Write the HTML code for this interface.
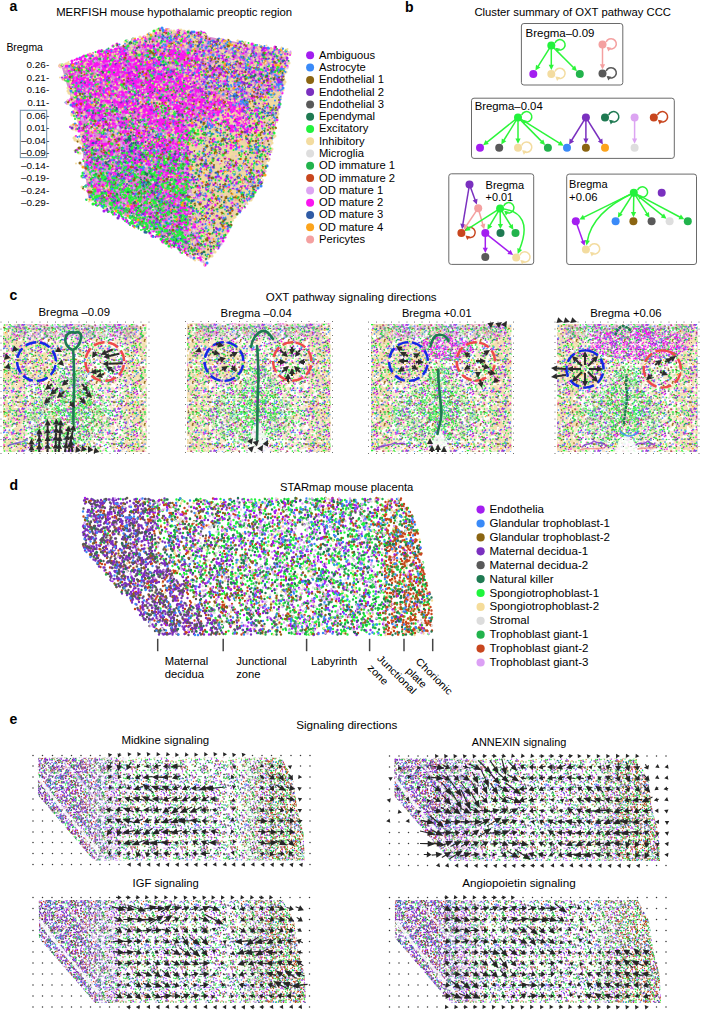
<!DOCTYPE html><html><head><meta charset="utf-8"><style>html,body{margin:0;padding:0;background:#fff;}svg{display:block;font-family:"Liberation Sans",sans-serif;}</style></head><body><svg width="702" height="1010" viewBox="0 0 702 1010"><rect width="702" height="1010" fill="#fff"/><defs><pattern id="cT" patternUnits="userSpaceOnUse" width="44" height="38"><g transform="scale(0.5)" fill="none" stroke-linecap="round"><path stroke="#f6e2b9" stroke-width="6.8" d="M80 -2h0m-7-1h0m-8 1h0m-5-1h0m-4 0h0m-33-1h0m-1 1h0m-20 10h0m2 7h0m4-7h0m1-1h0m5 2h0m1 6h0m1-11h0m0 10h0m1-8h0m4-5h0m0 1h0m3 13h0m0-10h0m1 9h0m2-5h0m1-5h0m4 9h0m2-12h0m0 11h0m1-11h0m1 14h0m3-3h0m1-8h0m4 6h0m8-4h0m2-2h0m1-1h0m3 8h0m2 5h0m2-14h0m2 1h0m0-2h0m6 1h0m4 3h0m3 8h0m1-7h0m12 2h0m-1 17h0m0 3h0m-5 4h0m-2-5h0m-1 3h0m-2-1h0m-1-12h0m0 12h0m-3-5h0m-2-7h0m-1 12h0m-2-2h0m-7-7h0m-12 1h0m-2 6h0m0-9h0m-2 14h0m-4-2h0m0-9h0m-1-4h0m-1 14h0m-3-11h0m-2 9h0m-1-11h0m-4 7h0m0-1h0m-7 6h0m-3 0h0m-1-11h0m-3-1h0m-9 6h0m-1 0h0m-1 3h0m-5-2h0m0 3h0m-5 4h0m1 14h0m2-7h0m3 6h0m0-12h0m1 14h0m6 0h0m2-10h0m10-4h0m1 1h0m4-1h0m3 6h0m2 2h0m8-1h0m2-6h0m1 4h0m2 5h0m7 2h0m2-12h0m0 15h0m1-5h0m8 0h0m0-2h0m2 0h0m1-5h0m2 9h0m4-5h0m0-2h0m8 2h0m6 6h0m2-7h0m3 6h0m0-12h0m1 14h0m0 16h0m-1-11h0m-2 5h0m-1 1h0m-3-3h0m-4-2h0m-1 5h0m-1 2h0m-4 1h0m-2-1h0m0-1h0m0-3h0m-1 4h0m-1 3h0m-2-5h0m-1-6h0m-5 1h0m-2-1h0m-7 6h0m-1-8h0m0 12h0m-3-2h0m-1-2h0m-3-5h0m-1 0h0m-11 11h0m-3-14h0m-6 9h0m-3 1h0m-6-7h0m0 2h0m-9 4h0m0 4h0m-3 0h0m-1-11h0m-2 5h0m-1 1h0m-3-3h0m0 15h0m1-1h0m12 3h0m2 0h0m3-6h0m0 6h0m2 8h0m2-9h0m3 6h0m0 1h0m1-4h0m0-9h0m1 8h0m4-4h0m1 11h0m6-3h0m1 0h0m5 3h0m14 0h0m1-1h0m1-5h0m4 0h0m2 4h0m1-11h0m1 12h0m0-2h0m1-2h0m3-5h0m2 8h0m3-4h0m1-3h0m6 4h0m3-3h0m1-2h0m1-1h0m-11 12h0"/></g></pattern><pattern id="cT2" patternUnits="userSpaceOnUse" width="38" height="34"><g transform="scale(0.5)" fill="none" stroke-linecap="round"><path stroke="#f4deb0" stroke-width="6.8" d="M79 -2h0m-8-1h0m-12 0h0m-11 2h0m-23-1h0m-5-1h0m-2 0h0m-15 1h0m-6 12h0m1 0h0m2 3h0m4-13h0m0 8h0m2 3h0m1-6h0m2 10h0m3-8h0m2-4h0m1 8h0m2 1h0m1-8h0m5-2h0m5 1h0m2 4h0m1-4h0m1 6h0m4 3h0m2-7h0m1 8h0m0 2h0m1-9h0m3 4h0m3-7h0m3 11h0m0-10h0m2 7h0m7-10h0m1 14h0m0-6h0m4-6h0m2-1h0m1 10h0m6-11h0m1 9h0m1 0h0m2 3h0m4-13h0m0 8h0m0 20h0m-3-2h0m0 4h0m-7-9h0m0 10h0m-12-5h0m-2-10h0m-2 0h0m-1 14h0m-3-6h0m0-2h0m-2 1h0m0 0h0m-2-7h0m-2 4h0m-2 5h0m-1 4h0m-2-1h0m-1-11h0m-1 9h0m-8-10h0m-2 13h0m0-10h0m-1 8h0m-1-3h0m-7-6h0m0 3h0m-4 7h0m-1 0h0m-5 2h0m-4-2h0m-3-2h0m0 4h0m-3 9h0m5-3h0m0 5h0m4-9h0m2 1h0m4 4h0m0-5h0m5 4h0m0 11h0m10-3h0m3-2h0m3 5h0m1-4h0m3-7h0m2 10h0m3 1h0m5-4h0m7 1h0m0-12h0m8 5h0m3 4h0m1-1h0m3 0h0m4-1h0m5-3h0m0 5h0m-1 22h0m0-11h0m-3-1h0m-4 2h0m-1-5h0m-4 5h0m-6 3h0m-5 5h0m-2-5h0m-1-1h0m0 0h0m-6 8h0m-4-7h0m-1 4h0m-12 2h0m-2-7h0m0-1h0m-1-4h0m0 9h0m-12-1h0m-1-3h0m-1 2h0m-1-1h0m-9 7h0m0-11h0m-3-1h0m4 15h0m1 2h0m8-4h0m2 7h0m4-6h0m0 7h0m2-7h0m3 5h0m2-4h0m3 5h0m3 0h0m7-7h0m8 7h0m2-4h0m1 5h0m9-3h0m1-4h0m4 6h0m2-1h0m6-5h0m1 4h0m7-3h0m1 2h0"/></g></pattern><pattern id="cC" patternUnits="userSpaceOnUse" width="48" height="42"><g transform="scale(0.5)" fill="none" stroke-linecap="round"><path stroke="#595959" stroke-width="3.4" d="M7 5h0m82 21h0m-7 1h0m-40-8h0m-34 16h0m1 33h0m73-4h0m7 5h0m0 11h0"/><path stroke="#fa14f0" stroke-width="3.4" d="M29 -3h0m-24 6h0m27 5h0m0-8h0m5 0h0m2 5h0m30-5h0m13 7h0m1 4h0m7 2h0m-12 16h0m-1-6h0m-28-4h0m-9 2h0m-8 6h0m-4 0h0m-5-2h0m-13-4h0m-5 1h0m-5 12h0m4 5h0m4 2h0m6-6h0m8 10h0m26-11h0m33-1h0m15 1h0m-1 29h0m-1-11h0m0 0h0m-8 6h0m-5 1h0m-20-9h0m-10 2h0m-6-3h0m-37 1h0m-9 13h0m-1-11h0m0 0h0m21 14h0m27 1h0m3 9h0m42-1h0m-22 9h0m-32 0h0m-5 0h0m-3-3h0m-24 6h0"/><path stroke="#22f23c" stroke-width="3.4" d="M94 -1h0m-2-1h0m-53 1h0m-41 0h0m10 16h0m0-14h0m3 7h0m0-3h0m6 1h0m4-2h0m1-2h0m2 10h0m3-5h0m24 4h0m4-6h0m7 10h0m8-13h0m3 3h0m2 7h0m1-2h0m3 5h0m5-10h0m4 10h0m9 13h0m-7-6h0m-3-4h0m-6 5h0m-1-4h0m-5 0h0m0 12h0m-3-11h0m-8 3h0m-1-7h0m-2 9h0m-4 2h0m-4-6h0m-1-1h0m-3 10h0m-10-2h0m-7 3h0m-6-11h0m-12 10h0m-5-14h0m-4 4h0m-4 8h0m-3 4h0m4 7h0m3-4h0m1 5h0m1-1h0m3 5h0m1-5h0m13 6h0m2-7h0m17-3h0m3 12h0m3-1h0m2-7h0m3 7h0m9-10h0m1 1h0m1 0h0m8 8h0m12-6h0m9-7h0m4 7h0m-4 14h0m-9-1h0m-1-4h0m-7 5h0m0 6h0m-4 2h0m-2 0h0m-3-8h0m-22-2h0m-10 11h0m0-13h0m-7 3h0m-9 5h0m0 4h0m0-12h0m-11 13h0m-3-6h0m-2 0h0m-6-3h0m-2 20h0m5-5h0m2 0h0m2 10h0m4-6h0m2-3h0m3 1h0m0 5h0m8-11h0m3 7h0m1-6h0m3 10h0m2-6h0m10 5h0m2-1h0m6-5h0m3 0h0m0-2h0m3 10h0m1-5h0m6 3h0m6-4h0m9 0h0m2 1h0m12 6h0m1-4h0m5-5h0m2 0h0m-5 15h0m-2-1h0m-2-2h0m-20 6h0m-31-3h0m-15-3h0m-2 6h0m-14-1h0m-10-2h0"/><path stroke="#3a8af8" stroke-width="3.4" d="M30 7h0m31-3h0m8 9h0m19-9h0m1 0h0m-12 17h0m-5 3h0m-2 5h0m-16-13h0m-11 3h0m-4 8h0m-11-5h0m-2 2h0m0 2h0m-7-6h0m-5 5h0m-5-1h0m-2 1h0m13 13h0m14-6h0m16 12h0m2 3h0m2-7h0m20 7h0m4-9h0m4 6h0m16 4h0m-6 5h0m-20-2h0m-3-1h0m-20 11h0m-8-13h0m-24 3h0m-15-3h0m15 18h0m8 6h0m4-7h0m11 11h0m9-8h0m2 4h0m10-8h0m20 5h0m0 7h0m3-3h0m4 15h0m-11-8h0m-16 8h0"/><path stroke="#8b6512" stroke-width="3.4" d="M35 -2h0m-34 12h0m1-3h0m32 1h0m45 7h0m18-5h0m1-3h0m-65 20h0m-29 6h0m32 4h0m20 10h0m11-7h0m4-7h0m21 13h0m8-13h0m-6 29h0m-11-7h0m-32 0h0m-13-7h0m-3 0h0m-26 5h0m-11 9h0m10 5h0m41 11h0m9-9h0m9-5h0m22 2h0m-23 14h0m-31 2h0"/><path stroke="#dca4f2" stroke-width="3.4" d="M48 -1h0m-26 0h0m-6 4h0m6 7h0m20-10h0m14 3h0m3 9h0m8-3h0m3-4h0m21-5h0m2 30h0m-96 0h0m43 13h0m21-10h0m3-1h0m31 17h0m-8 6h0m-34 3h0m-18-3h0m-3-7h0m-18 13h0m-15-12h0m16 27h0m3-9h0m56-1h0m17 18h0m-35 3h0m-8-4h0m-6 1h0m-20-1h0m-6 4h0"/><path stroke="#22b34c" stroke-width="3.4" d="M57 -1h0m-61 3h0m2-2h0m27 9h0m9-4h0m13 2h0m1-4h0m44-1h0m2-2h0m-29 30h0m-27-1h0m-2-3h0m1 9h0m23 0h0m11 4h0m-7 12h0m-38-3h0m-24 24h0m18-4h0m13 7h0m0-3h0m3-7h0m44 6h0m18 1h0m-4 12h0m-2 2h0m-35-3h0m-9 4h0m-50-3h0m-2 2h0"/><path stroke="#a31ef0" stroke-width="3.4" d="M50 -4h0m-39 12h0m3 4h0m35 2h0m9-9h0m0 10h0m13-2h0m8-4h0m4 22h0m-1-5h0m-6 4h0m-13-13h0m-1 9h0m-21 1h0m-17 1h0m-17 11h0m68 18h0m-2-9h0m-16 7h0m-12 5h0m-1 2h0m-6 0h0m-15-7h0m3 24h0m11-3h0m2-10h0m2 3h0m2 6h0m9 2h0m15-7h0m7-1h0m-24 11h0"/><path stroke="#dedede" stroke-width="3.4" d="M66 -2h0m-3 16h0m28 0h0m-32 5h0m0 8h0m-8 3h0m-17 1h0m-15-2h0m-5-2h0m64 31h0m-52-10h0m-21 30h0m20 0h0m33-1h0m13-6h0m-5 11h0"/><path stroke="#7a30bf" stroke-width="3.4" d="M60 7h0m15 5h0m12-7h0m-22 23h0m-54-8h0m0 17h0m21 10h0m0-9h0m22-1h0m11 18h0m-16-3h0m-2 10h0m-14 4h0m37 11h0"/><path stroke="#2f5ba5" stroke-width="3.4" d="M28 7h0m6 32h0m57 14h0m-39-3h0"/><path stroke="#fca41c" stroke-width="3.4" d="M64 30h0m15 18h0m-5 5h0m-32 4h0m-31 20h0m62-5h0"/><path stroke="#c8461e" stroke-width="3.4" d="M86 6h0m-26 46h0m-43 22h0"/></g></pattern><pattern id="cM" patternUnits="userSpaceOnUse" width="40" height="30"><g transform="scale(0.5)" fill="none" stroke-linecap="round"><path stroke="#fa14f0" stroke-width="3.2" d="M74 -3h0m-3 1h0m-1-1h0m-3 1h0m-7-1h0m-11 0h0m-1 2h0m0-3h0m-8 0h0m-1 2h0m-20-1h0m-3 1h0m-3-1h0m0 1h0m-2 0h0m-13 17h0m1-8h0m0-6h0m2 9h0m5-9h0m1 2h0m0 0h0m1-3h0m1 9h0m0 5h0m0-2h0m1-5h0m0 7h0m2-11h0m0-2h0m0 6h0m0-2h0m1 4h0m0-8h0m1 7h0m0 6h0m0-9h0m1 3h0m0-1h0m1 3h0m1-2h0m1 7h0m2-4h0m0-6h0m0 2h0m1 0h0m1-3h0m5 7h0m2-4h0m1-4h0m0 12h0m1-11h0m1-3h0m0 9h0m4 1h0m0 2h0m3-13h0m1 9h0m5 3h0m5-4h0m0 5h0m1-10h0m9 11h0m1-6h0m1 3h0m1-8h0m4 6h0m3 5h0m0-6h0m1 6h0m1-10h0m2 2h0m0-1h0m0 10h0m1 0h0m0-5h0m0 4h0m1-6h0m2 7h0m1-8h0m0-6h0m2 9h0m3 20h0m-3-14h0m0 2h0m-1 3h0m-2 4h0m-1 5h0m-1-8h0m-1 4h0m-1-8h0m-1 13h0m-1-15h0m-2 12h0m-3-3h0m-3 2h0m-4-3h0m-1 3h0m-2-9h0m0-1h0m-1 0h0m-1 8h0m-1 4h0m0-2h0m-1 2h0m-1-4h0m0-8h0m-2 9h0m0-1h0m-1 5h0m-1-4h0m0 4h0m-2 0h0m0-5h0m-1-3h0m-1-4h0m-1-1h0m-2 3h0m-1-1h0m-6 5h0m-1 0h0m-1-3h0m-1 6h0m-1 3h0m-2-4h0m-3 3h0m-1-11h0m0 5h0m-1 7h0m-1 0h0m0-14h0m-1 5h0m0 6h0m-1-11h0m-1 10h0m0 0h0m-6-2h0m-3-7h0m-3 14h0m0-6h0m-1-8h0m-1 10h0m-1 3h0m-3-14h0m0 2h0m-1 3h0m-2 4h0m-1 5h0m-1-8h0m1 25h0m1-13h0m1 4h0m0 0h0m0 8h0m0-12h0m3 2h0m3 7h0m1-6h0m1 8h0m1-9h0m1 2h0m2-5h0m0 13h0m1-2h0m0 3h0m3-12h0m1-1h0m4 6h0m2 0h0m0 3h0m2-10h0m0 14h0m0-12h0m0 2h0m4 9h0m2 1h0m0-15h0m1 7h0m2 5h0m3-5h0m0-5h0m0 13h0m3-10h0m0-5h0m1 0h0m3 14h0m0-3h0m2-1h0m1-6h0m0 6h0m2 1h0m1-1h0m1-8h0m1 9h0m9-4h0m1-7h0m1 15h0m0-10h0m1-2h0m0 4h0m1 4h0m1-11h0m0 12h0m2-9h0m1 3h0m5-3h0m0 8h0m1-4h0m1-5h0m1 2h0m1 11h0m1-13h0m1 4h0m0 0h0m0 8h0m0-12h0m3 2h0m-2 19h0m-1-3h0m0-3h0m0 12h0m-3-11h0m-2-1h0m0 8h0m-1-9h0m-2 7h0m0 3h0m0-2h0m-1 1h0m0-7h0m-3 8h0m-1-5h0m-3 10h0m0-14h0m-3 8h0m-1-2h0m0-6h0m-1-1h0m0 7h0m-1-5h0m-6 13h0m-2-6h0m0-4h0m0 1h0m-1 5h0m0-3h0m-1-5h0m-1 5h0m0-2h0m-4 0h0m-2 2h0m-1 4h0m0-2h0m-1-3h0m-2 1h0m-1-4h0m-3 9h0m0-7h0m-1 2h0m-1 7h0m0-8h0m-1-4h0m-4 2h0m-2 0h0m0 3h0m-4 1h0m-3 1h0m0-2h0m-3-5h0m0 6h0m0 4h0m0-3h0m-1 5h0m0-2h0m0-10h0m-1 7h0m-3-8h0m0 10h0m-1 3h0m0 0h0m0-15h0m-1 0h0m0 13h0m-6-6h0m-1-3h0m0-3h0m0 12h0m-3-11h0m26 14h0m9 0h0"/><path stroke="#22f23c" stroke-width="3.2" d="M83 -1h0m-44-1h0m-14 1h0m-10 0h0m-12 0h0m-3 13h0m10-5h0m14-3h0m3-3h0m1 5h0m4-6h0m6 9h0m13-7h0m2 13h0m3 0h0m18-13h0m6 10h0m-4 8h0m-5 5h0m-1-8h0m-9 2h0m-2 3h0m-9-6h0m-13 8h0m-4 3h0m-14-9h0m-14 13h0m4 13h0m7-2h0m4-3h0m1 5h0m3-8h0m3 10h0m13-7h0m7 0h0m7-1h0m1 1h0m1-7h0m15 7h0m12 20h0m-9 3h0m-1-14h0m-22 14h0m-3-9h0m-8-3h0m-1 8h0m-7 2h0m-5 1h0m-2-2h0m-2-7h0m-2 2h0m0-3h0m-6 8h0m-3-4h0m-9 4h0"/><path stroke="#a31ef0" stroke-width="3.2" d="M78 -3h0m-28 0h0m-11 1h0m-41-1h0m-2 8h0m9-5h0m16 4h0m0 9h0m4-8h0m1 1h0m12-6h0m7 6h0m5-3h0m5 11h0m1-10h0m10 6h0m10-5h0m6 17h0m-3-6h0m-1 6h0m-4 4h0m-4-8h0m-15 12h0m-3-7h0m-17 7h0m-3-2h0m0-1h0m-2 1h0m-2 3h0m-3-4h0m0 1h0m0-6h0m-5-4h0m0 8h0m-18-4h0m-3-6h0m-1 6h0m2 12h0m1 9h0m4 4h0m22-1h0m8-9h0m22 6h0m16 1h0m7-10h0m1 9h0m2 7h0m-4 1h0m-1 6h0m-19-7h0m-3 1h0m-3-3h0m-3 9h0m0 6h0m-11-5h0m-1 2h0m-8-8h0m0-1h0m-9 2h0m-13 0h0m-3 7h0m-2-10h0m-4 1h0m-1 6h0"/><path stroke="#dca4f2" stroke-width="3.2" d="M-2 14h0m33-14h0m4 7h0m24 0h0m7-4h0m12 11h0m3 2h0m-10 10h0m-1 2h0m-18-3h0m-12-4h0m-1 1h0m-11-2h0m-17 10h0m-2 1h0m0 0h0m-8-15h0m2 21h0m10 0h0m8-1h0m4 6h0m13-2h0m10 6h0m6-12h0m6 9h0m7-4h0m2 4h0m14-6h0m-17 26h0m-29-12h0m-2 1h0m-4 8h0m-1-10h0m-2 1h0m-10-2h0"/><path stroke="#3a8af8" stroke-width="3.2" d="M20 -3h0m-11-1h0m0 17h0m7 1h0m10-6h0m47 2h0m-13 16h0m-12-10h0m-4 2h0m-1 2h0m-1 7h0m-9-4h0m-20-4h0m-15 16h0m59 7h0m21-7h0m-4 19h0m-18-4h0m-8 5h0m-9-1h0m-13-1h0m-6 4h0m-4-2h0m-7 1h0"/></g></pattern><pattern id="cG" patternUnits="userSpaceOnUse" width="40" height="34"><g transform="scale(0.5)" fill="none" stroke-linecap="round"><path stroke="#3a8af8" stroke-width="3.2" d="M78 -2h0m-9-1h0m-57 0h0m-3 2h0m-11-1h0m5 14h0m4-8h0m7-4h0m0 14h0m7-6h0m18-4h0m9 0h0m12 7h0m8-4h0m8 2h0m7 3h0m-6 8h0m-12 3h0m-5 5h0m0-12h0m-63 4h0m8 16h0m5 11h0m19-3h0m17-11h0m29 0h0m-6 19h0m-20 7h0m-19 4h0m-1-6h0m-31 9h0m9 6h0m2-5h0m3-2h0m2 3h0m25 4h0m9 0h0m21-7h0m9 1h0"/><path stroke="#22b34c" stroke-width="3.2" d="M76 -1h0m-8-2h0m-35 1h0m-27 12h0m3-2h0m9-7h0m16 0h0m9 2h0m14 7h0m4 0h0m2 0h0m4 2h0m7 15h0m-2-8h0m-8-1h0m-25 10h0m-41 19h0m5-14h0m4 7h0m24-5h0m10 7h0m14 1h0m15 3h0m8 1h0m5-14h0m-2 25h0m-16 1h0m-8-7h0m-8 6h0m-10 4h0m-18 0h0m-1-9h0m0-1h0m-2 1h0m-1 6h0m-4-11h0m-12 10h0m17 11h0m15-3h0m1 3h0m9 2h0m25-6h0m8 2h0"/><path stroke="#22f23c" stroke-width="3.2" d="M83 -3h0m-1-1h0m-7 3h0m-4 0h0m-3 0h0m0-1h0m-25-2h0m-5 3h0m-4-1h0m-2-2h0m-4 3h0m-15-1h0m-4 1h0m-2-3h0m-2 2h0m-2-1h0m-1-1h0m-4 5h0m1 11h0m0-5h0m4 1h0m1-1h0m5 6h0m2-2h0m9-4h0m3-4h0m4 7h0m1-6h0m0 11h0m5-2h0m1-8h0m3 0h0m0 4h0m1 6h0m0-12h0m0-3h0m0 5h0m0 5h0m2-3h0m3 2h0m1 6h0m2-10h0m1-3h0m1-2h0m0 13h0m2-11h0m1 5h0m0 1h0m4 2h0m3 0h0m0-10h0m2 15h0m1-13h0m0 11h0m1 2h0m4-3h0m0-10h0m2 11h0m0-8h0m1 1h0m1-1h0m0 5h0m1 2h0m0-8h0m0-4h0m2 12h0m0-10h0m5-1h0m1 11h0m0-5h0m4 1h0m0 12h0m-6 5h0m-1 0h0m0 2h0m-1-5h0m-1-1h0m-1 1h0m-2-6h0m-1 7h0m-2-5h0m0 3h0m-1 4h0m-4-5h0m-1 4h0m-2-5h0m-1 4h0m-2 5h0m-2-8h0m-1 4h0m-12-1h0m-3 1h0m0 5h0m-1-5h0m0 0h0m0 0h0m-2-3h0m-3 6h0m-1-3h0m-1 1h0m-4 4h0m0-4h0m-1-6h0m0 8h0m-2 2h0m0-7h0m0 4h0m-1 0h0m-2-5h0m-3 8h0m0-9h0m0-3h0m-2 2h0m-2 8h0m-1-10h0m-1 8h0m-1-5h0m0-1h0m0 2h0m-3-4h0m-5 3h0m-6 5h0m-1 0h0m0 2h0m1 12h0m0 2h0m6-4h0m1 5h0m5-5h0m0 3h0m2 3h0m1-6h0m4-4h0m0 2h0m4-1h0m3 5h0m1 3h0m1-4h0m1 1h0m0 3h0m1-10h0m2 12h0m1-7h0m2 0h0m0-1h0m2-4h0m1 2h0m0 1h0m2 11h0m2-6h0m4-3h0m0 1h0m1-6h0m2 10h0m1-7h0m6 8h0m0-10h0m2 6h0m0 5h0m2-6h0m3 3h0m3 3h0m2-1h0m1 4h0m2-5h0m1 2h0m1-10h0m0 3h0m4 4h0m1 1h0m2-3h0m0 2h0m6-4h0m1 5h0m-5 13h0m-1 7h0m-3-14h0m-6 7h0m-3 5h0m-6-9h0m-5 6h0m-2-8h0m-3 3h0m-1 11h0m-1-7h0m-2-4h0m0 3h0m-2-6h0m0 8h0m-1-4h0m-2 1h0m-11 6h0m-7-5h0m-1 3h0m0 1h0m0 1h0m-1 0h0m-2-10h0m0 11h0m-3-5h0m-1-2h0m0 8h0m-2-3h0m-3-5h0m-1 0h0m-5-2h0m-5 3h0m-1 7h0m0 7h0m4-5h0m1 1h0m1-1h0m1 2h0m2-2h0m2 3h0m4-1h0m10 5h0m5-4h0m4-3h0m2 2h0m0-2h0m4 7h0m0-4h0m0 1h0m5-4h0m4 6h0m1-2h0m2 2h0m8-2h0m3 2h0m5 0h0m2-3h0m0-1h0m3 1h0m0 1h0m2 2h0m2-3h0m3 2h0m4-5h0m1 1h0"/><path stroke="#8b6512" stroke-width="3.2" d="M31 2h0m7 5h0m44 17h0m-5 4h0m-19-4h0m-3 4h0m-12 0h0m-15-7h0m-12-1h0m-14 4h0m-5 4h0m3 8h0m15 10h0m8-2h0m3-1h0m18 3h0m26-4h0m10-6h0m-44 17h0m-11 5h0m-2-7h0m8 19h0"/><path stroke="#fa14f0" stroke-width="3.2" d="M-1 4h0m35 6h0m7-1h0m5-5h0m11-1h0m8 7h0m14-6h0m0 17h0m-4 7h0m-3-7h0m-13 7h0m-5-8h0m-9-2h0m-5 11h0m-11-3h0m-5-5h0m-11 2h0m-14-2h0m8 26h0m10-9h0m27 1h0m7 4h0m24-5h0m-33 22h0m-3-8h0m-8 1h0m-1 3h0m-22 3h0m0-1h0m49 13h0"/></g></pattern><pattern id="pL" patternUnits="userSpaceOnUse" width="50" height="40"><g transform="scale(0.5)" fill="none" stroke-linecap="round"><path stroke="#1f7a52" stroke-width="2.8" d="M18 -1h0m-13 0h0m36 7h0m20-1h0m23 11h0m-58 15h0m-25 16h0m23-10h0m8-5h0m4 14h0m9-1h0m56 2h0m-51 2h0m-31 10h0m-14 20h0m13 0h0m23-2h0"/><path stroke="#595959" stroke-width="2.8" d="M89 -2h0m-44 1h0m-31 9h0m18-4h0m7-4h0m3 12h0m6 1h0m2-2h0m0-8h0m7 8h0m3-2h0m1-3h0m3-3h0m11-1h0m3 11h0m12-6h0m7 4h0m5 5h0m-4 8h0m-6 4h0m0-11h0m-3 9h0m-9 5h0m-5-7h0m-1 7h0m-8-6h0m-1-9h0m-3 15h0m-6-8h0m-3 0h0m-4-5h0m-1 0h0m-9-2h0m-2 7h0m-1-1h0m-8 9h0m-8-9h0m-12-5h0m0 7h0m-6-8h0m-3 25h0m14-9h0m5 9h0m3-8h0m3 13h0m0-7h0m7-2h0m11 5h0m1-1h0m4 0h0m0-8h0m2 10h0m3-9h0m0 10h0m4 3h0m6-8h0m1-3h0m0-4h0m1 7h0m4 5h0m2 0h0m25 1h0m1-6h0m3 2h0m1 20h0m-10-2h0m-1 4h0m-7-12h0m-2 6h0m-1-4h0m-2-3h0m-5 6h0m-17-6h0m-16 9h0m-15-2h0m-10 3h0m-2-3h0m-12 4h0m-1 9h0m10-5h0m5 12h0m20 0h0m1-6h0m9-4h0m1 12h0m2-3h0m4 1h0m0-9h0m1 7h0m4-7h0m13 1h0m10 0h0m10 9h0m1-8h0m9 0h0m-60 10h0"/><path stroke="#7a30bf" stroke-width="2.8" d="M93 -1h0m-3 0h0m-13-1h0m-13 1h0m-60 6h0m2 9h0m5 1h0m1-9h0m1-1h0m2 9h0m1-1h0m2-1h0m0-10h0m4 13h0m0-12h0m1 10h0m1-2h0m0-4h0m2-6h0m1 0h0m1 12h0m2-12h0m1 2h0m1-3h0m10 6h0m5-5h0m0 10h0m6 2h0m1-7h0m1 0h0m0 7h0m2-2h0m4-8h0m4 6h0m0-4h0m4 10h0m2-1h0m0 0h0m0-5h0m1-3h0m0 0h0m3 9h0m1-6h0m2-7h0m1 6h0m0-6h0m0 9h0m1 3h0m0-13h0m0 9h0m2-3h0m5 8h0m1-11h0m1 7h0m2-8h0m4 4h0m0-7h0m2 5h0m1 7h0m4 14h0m-3 4h0m-9-5h0m-1-5h0m-1 3h0m-2-7h0m-7 3h0m-6 2h0m0-2h0m-1 2h0m-1 4h0m0-9h0m-2 7h0m-1-7h0m-1 2h0m-4-2h0m-1 7h0m-2 0h0m-1-5h0m-1 7h0m-2 0h0m-2-1h0m-1-5h0m-2 6h0m-3 0h0m0-7h0m-1-1h0m-1-1h0m-3 15h0m-2-15h0m-2 3h0m-2 10h0m0-8h0m-4 3h0m0-4h0m-2 5h0m-1 1h0m-7-3h0m-1 5h0m-2 2h0m-1-11h0m-2 1h0m-3 11h0m-2-5h0m0 0h0m-4-8h0m-6 8h0m0 0h0m0 5h0m-3-1h0m-1 2h0m0 4h0m2 8h0m1-6h0m1 4h0m4-9h0m0-1h0m3 15h0m8-11h0m3-2h0m1 3h0m5-5h0m0 13h0m1-7h0m1 6h0m3-12h0m2 1h0m3 14h0m1-9h0m4-5h0m9-1h0m1 13h0m2-4h0m1-2h0m2-2h0m0 8h0m4-11h0m2 8h0m4-5h0m1-1h0m2 11h0m0-5h0m2 4h0m6-4h0m7 5h0m5-10h0m1 7h0m2-10h0m1 6h0m4 1h0m1-9h0m0 4h0m2 8h0m1-6h0m1 4h0m-3 11h0m-5 0h0m-1 5h0m0-5h0m-6 4h0m-4-5h0m-4 11h0m-2-2h0m-4-8h0m-7-3h0m-1-1h0m-1 1h0m-1 12h0m-1 0h0m-1-2h0m-5-8h0m-4 9h0m-2-13h0m-4 12h0m-3-10h0m-1 1h0m-3 2h0m-1 4h0m-2-7h0m0 8h0m0-3h0m-7 5h0m-3-7h0m-1 4h0m-2-2h0m0-4h0m0 3h0m-3 5h0m0-8h0m-1 8h0m-2 2h0m-2-13h0m-1 9h0m-4-1h0m-3-1h0m-2-7h0m-6 5h0m0 21h0m0-10h0m4 6h0m0-5h0m0 7h0m1 5h0m1-3h0m1-3h0m2 0h0m2-1h0m5 5h0m7 3h0m3-14h0m1 0h0m2 9h0m1-1h0m4-6h0m0 8h0m2-3h0m5-3h0m2 5h0m2-6h0m0-3h0m4 14h0m4-2h0m5-10h0m0 6h0m1 1h0m4 1h0m2 5h0m6-2h0m1-1h0m6-10h0m0 12h0m1-13h0m1 7h0m4-2h0m0 8h0m2-6h0m5-7h0m0 14h0m1-14h0m0 5h0m0 7h0m1-5h0m1 7h0m2-15h0m1 4h0m0-2h0m3 8h0m0-10h0m-4 16h0m-15 1h0m-1 1h0m-1 0h0m-31-1h0m-15-1h0m-2 1h0m-3 0h0m-1 0h0"/><path stroke="#1ff53c" stroke-width="2.8" d="M4 -1h0m42 11h0m7-10h0m48 17h0m-80 5h0m-12 5h0m-8-10h0m33 27h0m5-7h0m8 12h0m-43 30h0m3-6h0m43 2h0m16-10h0m-13 15h0"/><path stroke="#a31ef0" stroke-width="2.8" d="M91 -1h0m-44-1h0m-47 2h0m4 1h0m41 1h0m4-2h0m2 1h0m2 12h0m6-6h0m1 3h0m40-10h0m0 16h0m-20 8h0m-7 1h0m-3-4h0m-21 4h0m-8 6h0m-23-15h0m-14 3h0m-4-3h0m21 16h0m17 14h0m8-11h0m7 0h0m11 7h0m7 4h0m9-3h0m21 13h0m-16-7h0m-2 4h0m-3 3h0m-3 2h0m-6-8h0m-16 9h0m-3-1h0m-1 5h0m-6-13h0m-8 3h0m-3 7h0m-1 1h0m-32-5h0m-1 10h0m16 3h0m4 7h0m6-5h0m5-7h0m1 9h0m11-8h0m4 13h0m3-11h0m17 9h0m14-9h0m10 12h0m1-4h0m6-2h0m2-7h0m0 14h0m-49 1h0m-2-1h0m-4 2h0m-41-1h0m-4-1h0"/><path stroke="#c8461e" stroke-width="2.8" d="M7 10h0m1 5h0m3-12h0m7-2h0m0 4h0m14 9h0m3-7h0m5-2h0m7 9h0m6-4h0m4 4h0m7-5h0m5-4h0m3 3h0m1 2h0m6 0h0m23 12h0m-9-2h0m-9 8h0m-1-11h0m-7 9h0m-1-1h0m-7-9h0m-8 14h0m-3-14h0m-13 14h0m-6-4h0m-11-8h0m-2-2h0m-2 4h0m-18 0h0m-3 2h0m6 23h0m10 0h0m13-11h0m13 8h0m6-7h0m0 12h0m16-1h0m14-1h0m3 0h0m3-12h0m5 13h0m5 5h0m-5 2h0m-25 10h0m-3-12h0m-8 10h0m-3-10h0m-1 10h0m-6 1h0m-10-6h0m-29 20h0m1-4h0m7 0h0m7 1h0m4-1h0m1-2h0m29-5h0m2 7h0m10-3h0m2 7h0m1-1h0m1-2h0m0-9h0m9 12h0m5 1h0m5-7h0m-72 11h0"/><path stroke="#3a8af8" stroke-width="2.8" d="M50 -1h0m-46 14h0m3-3h0m1-3h0m2-2h0m19 1h0m13 6h0m11 0h0m3 2h0m5-1h0m25 11h0m-2 6h0m-3-12h0m-12 6h0m-27-3h0m-5 2h0m-12-5h0m-4 3h0m-20 21h0m5 2h0m8-8h0m4 0h0m2-2h0m4 1h0m9 9h0m15-11h0m10 1h0m5 11h0m6-1h0m14-10h0m15 9h0m3-1h0m-1 9h0m-3 1h0m-23 4h0m-5 5h0m-45-8h0m-1 6h0m-12-7h0m-3-4h0m-6 1h0m-2 2h0m26 22h0m13-1h0m11 7h0m19-13h0"/><path stroke="#dca0f5" stroke-width="2.8" d="M64 8h0m0-1h0m28 10h0m-56 10h0m34 34h0m-21 0h0m-9-5h0m-3-4h0m-8 6h0m-12 12h0m4 2h0m73-3h0"/></g></pattern><pattern id="pM" patternUnits="userSpaceOnUse" width="50" height="40"><g transform="scale(0.5)" fill="none" stroke-linecap="round"><path stroke="#3a8af8" stroke-width="2.7" d="M2 14h0m5-4h0m10-8h0m7 5h0m8 3h0m12 4h0m7-4h0m4 1h0m6-3h0m20-4h0m-28 14h0m-19 11h0m-3-2h0m-1 0h0m-7 4h0m-18-6h0m-6 15h0m23-8h0m5 6h0m1 7h0m12-4h0m15-9h0m1 4h0m4 9h0m0-8h0m4 0h0m5 6h0m4-3h0m2 0h0m3 6h0m5-6h0m14 4h0m2-4h0m0 21h0m-5-12h0m-2-1h0m-1 4h0m-2-3h0m-8 8h0m-11-5h0m-19 2h0m-4-1h0m-7 1h0m-4 1h0m-16-4h0m-9-3h0m-1 11h0m0-5h0m-11 7h0m24 14h0m4-10h0m5 10h0m11-9h0m6 2h0m4-3h0m9 3h0m6 2h0m5-1h0m11-2h0m12 3h0m-79 12h0"/><path stroke="#dca0f5" stroke-width="2.7" d="M-1 0h0m8 8h0m4-2h0m2-2h0m1-3h0m24 9h0m1 1h0m23-10h0m2 3h0m3 10h0m3-1h0m9-8h0m20-5h0m2 18h0m-10 3h0m-16 7h0m-1-8h0m-9 6h0m-13-8h0m-11 12h0m-2-10h0m-4-4h0m-5 1h0m-2-1h0m-7 7h0m-4 8h0m-13-12h0m-3-1h0m12 22h0m4-6h0m4 5h0m5 5h0m5-3h0m29-3h0m0-5h0m8 8h0m12-1h0m2-8h0m18 30h0m-4-1h0m0-6h0m-8-1h0m-36 5h0m-23 1h0m-3 1h0m-3-3h0m-23 4h0m3 4h0m9 1h0m1 4h0m1-4h0m4-2h0m7 10h0m20-11h0m0 4h0m1 7h0m8-7h0m2 3h0m18-1h0m2 2h0m6-7h0m4 8h0m0-4h0m13 11h0m-37 1h0m-48 0h0m-15-1h0"/><path stroke="#1ff53c" stroke-width="2.7" d="M92 -1h0m-90 0h0m-2 8h0m1 7h0m6-2h0m4-5h0m10-6h0m1 4h0m11-3h0m8 2h0m2 11h0m1-6h0m9 3h0m3-2h0m2-9h0m3 3h0m1 3h0m3 2h0m1-9h0m4 4h0m1 10h0m13-4h0m5 3h0m2-13h0m1 4h0m4 1h0m4 2h0m1 7h0m0 6h0m-5 0h0m-5 5h0m-4-4h0m-1 0h0m-3 4h0m-4 5h0m-1-1h0m-4-11h0m0 8h0m-1-2h0m-1 0h0m-1-8h0m-2 14h0m-7-14h0m-21 5h0m-5 2h0m-2-4h0m-2 8h0m-1-5h0m-9-3h0m-10 6h0m-11-5h0m-2 19h0m1 1h0m1 5h0m10-11h0m3 9h0m1-8h0m5-2h0m12 14h0m4-15h0m11 4h0m3 1h0m2 0h0m6 2h0m5 4h0m2-6h0m3 10h0m6-2h0m23-2h0m2-4h0m1 1h0m1 5h0m0 14h0m-11-2h0m0 3h0m-18-1h0m-1 4h0m-1-5h0m-22-3h0m-9 7h0m-1-12h0m-6 5h0m-1-5h0m-5 8h0m-5-4h0m-1 5h0m-6-11h0m-3 1h0m-4 5h0m-6 5h0m1 20h0m2-12h0m1-2h0m1 7h0m1-3h0m1 7h0m1-5h0m20-4h0m3 8h0m1 2h0m7-10h0m0-2h0m1 6h0m9 2h0m28 3h0m1-3h0m13 6h0m3-7h0m-4 8h0m-25 0h0m-8 1h0m-25 1h0m-12-1h0"/><path stroke="#8b6512" stroke-width="2.7" d="M72 -1h0m-47 5h0m5 3h0m22-3h0m38 8h0m0-10h0m1 3h0m-24 24h0m-11-1h0m-41-6h0m-6-5h0m-1 10h0m14 6h0m55 11h0m7 5h0m-34 0h0m-12 12h0m-6 2h0m-21 0h0m4 8h0m31-3h0m13 4h0m4 1h0m8-1h0m1 7h0m18 3h0"/><path stroke="#a31ef0" stroke-width="2.7" d="M99 -2h0m-76 0h0m-24 0h0m2 10h0m8 6h0m4-2h0m18-3h0m2-9h0m2 0h0m4 9h0m2-2h0m21 7h0m4-12h0m1 1h0m1 6h0m20-7h0m6-1h0m7 7h0m-8 21h0m-4-8h0m-5 9h0m-1-5h0m-13-8h0m-5 5h0m-1-4h0m-6 10h0m0 2h0m-7-10h0m-1 9h0m-2-13h0m-6 9h0m-2-9h0m-4 9h0m-2-6h0m-2 12h0m-4-3h0m-17-9h0m-5-1h0m-2 4h0m5 24h0m1-10h0m0 5h0m1-7h0m12 11h0m5-1h0m0-9h0m4 2h0m2 4h0m6 3h0m2-1h0m20 0h0m3-7h0m1 9h0m8-9h0m12 0h0m2-2h0m6 8h0m6 14h0m-1-2h0m-1-1h0m-1-3h0m-3 1h0m-4 6h0m0 0h0m-9 2h0m-14-1h0m-4-4h0m-1 3h0m-6-6h0m-5 1h0m-2 11h0m-1-13h0m-4-1h0m-3 0h0m-6 10h0m-2-1h0m-10 5h0m-1-11h0m-4 3h0m-4 0h0m-7 0h0m-7 1h0m-1-2h0m0 24h0m6-13h0m12 9h0m5-5h0m1 9h0m5-11h0m1 3h0m4-5h0m2 5h0m3 1h0m23-4h0m12 7h0m1-3h0m13-5h0m0 1h0m12 11h0m-5 3h0m-6 1h0m-53-2h0m-2 0h0"/><path stroke="#c8461e" stroke-width="2.7" d="M14 14h0m22-6h0m1-6h0m7 0h0m18 12h0m0-13h0m0 0h0m4 13h0m3 1h0m6-1h0m11-5h0m-11 10h0m-11-1h0m-23 8h0m-27-8h0m-7-2h0m-7 28h0m17 0h0m8-10h0m14-1h0m4 13h0m11-10h0m17 5h0m1-8h0m11 14h0m4-4h0m2-7h0m3 6h0m8 2h0m-63 16h0m-23 3h0m-1-14h0m-7 24h0m16 1h0m7 1h0m12-9h0m5 8h0m2-6h0m3-3h0m14-1h0m3 4h0m16 4h0m6 1h0m0 2h0m1 0h0m1-8h0m-30 14h0m0 0h0m-18 1h0"/><path stroke="#1f7a52" stroke-width="2.7" d="M9 -1h0m6 2h0m3 4h0m30 5h0m45-2h0m-14 23h0m-40-15h0m-2 12h0m-16-8h0m-5 2h0m-7-5h0m-11 16h0m13 13h0m2-3h0m5-2h0m41-3h0m37 0h0m2-5h0m-2 27h0m-19-4h0m-8-7h0m-66 9h0m3 13h0m3 8h0m53-12h0m-47 14h0"/><path stroke="#22b34c" stroke-width="2.7" d="M95 -1h0m-50 16h0m2-11h0m8 10h0m28-14h0m18 21h0m-9 5h0m-13-5h0m-26 7h0m-5-11h0m-1 12h0m-14-8h0m-17 5h0m-7-1h0m-8-4h0m1 12h0m10 10h0m0-6h0m10-2h0m1 8h0m5 3h0m20-4h0m5-8h0m4 1h0m1-2h0m9 4h0m4-2h0m4 7h0m4-8h0m15 7h0m3 3h0m4 7h0m-3 4h0m-14 0h0m-5 5h0m-3-8h0m-15-1h0m-10 1h0m-5 1h0m-1 2h0m-4-6h0m-16 6h0m-24-4h0m-3 4h0m7 9h0m2 2h0m45 0h0m7 9h0m14-9h0m2 0h0m3 3h0m15 1h0m2 9h0m-12 1h0"/><path stroke="#595959" stroke-width="2.7" d="M-2 15h0m8-4h0m9 4h0m3-10h0m13-3h0m3 1h0m3 12h0m19-2h0m6-8h0m4 3h0m32 7h0m-17 16h0m-9-9h0m-23 7h0m-13-2h0m-1-2h0m-14-5h0m-7-4h0m-6 5h0m-4 3h0m-1-6h0m23 25h0m17 0h0m42-11h0m-9 21h0m-18-1h0m-2-2h0m-4 5h0m-3-7h0m-22 8h0m-8 4h0m-20 12h0m11 3h0m29-5h0m42-5h0m6 0h0m12 7h0m-68 10h0"/><path stroke="#dcdcdc" stroke-width="2.7" d="M12 3h0m44 9h0m2-1h0m32-1h0m-17 21h0m-11-5h0m-38 9h0m30 7h0m44 12h0m-45-4h0m-23 7h0m-26-7h0m-6 4h0m21 20h0m6-9h0m31-1h0m27 5h0m15 5h0"/><path stroke="#f5dc9a" stroke-width="2.7" d="M71 -1h0m-29 4h0m14 10h0m2-3h0m15-6h0m17 20h0m-53 0h0m-3 7h0m-16-6h0m-3-7h0m5 17h0m1 7h0m0 4h0m15-14h0m3 8h0m17 0h0m-47 38h0m62 1h0m12-2h0"/></g></pattern><pattern id="pR" patternUnits="userSpaceOnUse" width="50" height="40"><g transform="scale(0.5)" fill="none" stroke-linecap="round"><path stroke="#f5dc9a" stroke-width="2.7" d="M96 -1h0m-82 9h0m7 2h0m1-6h0m1 2h0m14 0h0m6 0h0m8 8h0m0-4h0m9-5h0m12 3h0m2 3h0m11 1h0m2-8h0m8 27h0m0-9h0m-6 6h0m-15-7h0m-2-4h0m-42 5h0m-15-3h0m-1 2h0m-3 8h0m-4 18h0m17-12h0m1 2h0m1 2h0m27-2h0m14 3h0m1-3h0m6 8h0m13-9h0m3 2h0m7 0h0m-8 24h0m-6-13h0m-8 13h0m-9-5h0m0-4h0m-27-4h0m-13 6h0m-12-5h0m-6 0h0m2 14h0m4 14h0m6-4h0m20-7h0m22 6h0m1 0h0m5 3h0m13-9h0m1 0h0m4 3h0m8-6h0m2 15h0"/><path stroke="#c8461e" stroke-width="2.7" d="M78 -1h0m-78 1h0m1 4h0m1 9h0m7-9h0m2 6h0m0-4h0m7 5h0m13-3h0m1 5h0m3-11h0m2 2h0m1 0h0m1-1h0m2 11h0m1-3h0m0-9h0m0 0h0m3-2h0m10 7h0m1 8h0m3-13h0m2-1h0m6 4h0m2 3h0m0 5h0m6-4h0m6 0h0m1-8h0m1-1h0m2 15h0m2-13h0m2 5h0m1 2h0m1-7h0m0 2h0m2-1h0m0 7h0m1 2h0m2-8h0m4-4h0m1 4h0m-3 21h0m-2 5h0m-2-7h0m-1-2h0m-4-4h0m-2 14h0m0-1h0m-5-13h0m-6 6h0m-1 2h0m-2 2h0m0-4h0m-1-5h0m-1 1h0m-3 11h0m-4-11h0m-2 9h0m-1-6h0m-5 4h0m-4-6h0m-1 4h0m0 5h0m-6-4h0m-1 2h0m-1-2h0m-4-8h0m-3 3h0m-3 3h0m0 6h0m-8-4h0m-1-6h0m-3 8h0m-1 1h0m-2-3h0m0-6h0m-1 12h0m-3-15h0m-5 4h0m-1-3h0m0 0h0m-2 1h0m-3-1h0m-5 8h0m2 12h0m8 1h0m0 1h0m5 4h0m0 4h0m2-9h0m3 7h0m1-4h0m2 3h0m3-2h0m1-5h0m2 9h0m2-1h0m2-9h0m3 6h0m2 4h0m2-8h0m3 6h0m1-12h0m3 3h0m1-3h0m0 5h0m4 9h0m3-13h0m1 2h0m2-1h0m0 9h0m1-6h0m1 10h0m7-7h0m4-2h0m2-4h0m2 12h0m1-1h0m4 1h0m0-10h0m4 2h0m7 6h0m1-1h0m0 3h0m6-8h0m4-1h0m2 19h0m-2-4h0m-3 11h0m-4-12h0m-11-1h0m0 12h0m0-8h0m0 2h0m-1-8h0m-6 4h0m0 8h0m-3-11h0m-14 6h0m-1-2h0m-1 10h0m-4 0h0m-5-9h0m0 3h0m-2 4h0m-1-8h0m-2 4h0m0-8h0m-17 5h0m-8 1h0m-1 0h0m-3-1h0m-1-5h0m-3 3h0m-2 7h0m-3-3h0m-2 0h0m0 7h0m-2-11h0m-1 25h0m1-4h0m1-8h0m3 13h0m0-9h0m1 2h0m5-1h0m2 1h0m1-7h0m1 5h0m0-2h0m1 0h0m5 11h0m1-3h0m1 0h0m3-10h0m0 9h0m4-9h0m1 12h0m4-13h0m0 5h0m9 4h0m3-5h0m0 9h0m1-7h0m1 6h0m4-2h0m0-7h0m0 9h0m3-3h0m11-1h0m1-3h0m1 4h0m10 6h0m2-11h0m0-3h0m1 4h0m8-5h0m0 9h0m6-9h0m1 13h0m3 0h0m1-4h0m1-8h0m-1 15h0m-9 2h0m-8-2h0m-1 1h0m-21 0h0m-16-1h0m-3 2h0m0 0h0m-7 0h0m-35-2h0"/><path stroke="#22b34c" stroke-width="2.7" d="M42 -1h0m-16 12h0m12-3h0m2-1h0m17-1h0m3-6h0m3 1h0m10 8h0m23 3h0m0 15h0m-1 4h0m-10-1h0m-13-7h0m-17-6h0m-8 4h0m-3 8h0m-13-10h0m-14-3h0m-2 2h0m-11 10h0m-5 19h0m17-7h0m16 1h0m9 4h0m20-4h0m8 3h0m0-2h0m2-5h0m14 2h0m14 8h0m-2 5h0m-17 7h0m-26 1h0m-2 3h0m-49-13h0m31 21h0m8 8h0m1-6h0m4-4h0m34-3h0m10 11h0m6 1h0m-34 3h0m-3-1h0"/><path stroke="#3a8af8" stroke-width="2.7" d="M10 5h0m17 6h0m20-8h0m4 2h0m6-2h0m15 7h0m15-10h0m1 2h0m8 0h0m4 18h0m-12 10h0m-3-11h0m-14 5h0m-28-3h0m-4-1h0m-20 3h0m-4-3h0m-15 0h0m6 12h0m10 1h0m5 12h0m2 0h0m6-10h0m4-1h0m3 1h0m12-2h0m36 15h0m-4 2h0m-23 0h0m-15 0h0m0 2h0m-18 2h0m-9 16h0m10-2h0m17 7h0m0-11h0m47 2h0m7 16h0m-9-2h0"/><path stroke="#595959" stroke-width="2.7" d="M21 8h0m2-4h0m45-3h0m19 10h0m-55 13h0m-17 2h0m-4-1h0m6 12h0m5 3h0m33 0h0m4 1h0m31 5h0m3-10h0m2 6h0m-6 12h0m-60 2h0m-13 13h0m3 7h0m31 0h0m32-12h0m-14 17h0"/><path stroke="#1ff53c" stroke-width="2.7" d="M-1 3h0m19 5h0m2 7h0m8-13h0m6 6h0m6 2h0m13-6h0m19-3h0m0 4h0m23 7h0m4-9h0m-2 14h0m-12 4h0m-4 3h0m-8-6h0m-11 10h0m-3-2h0m-3 0h0m-8-5h0m-5 2h0m-19 0h0m-2-1h0m-4-6h0m-13 22h0m0-1h0m3-3h0m11 4h0m6 1h0m6 8h0m9-8h0m10 6h0m6-7h0m4 9h0m10-15h0m7 7h0m0-5h0m-2 21h0m-3-2h0m-14 7h0m-14-12h0m-18 10h0m-6 0h0m-10-2h0m-5-6h0m4 28h0m4-5h0m12-4h0m6 2h0m14 4h0m5 3h0m3-13h0m4 5h0m7-1h0m4 8h0m2-6h0m4 0h0m4 0h0m10 2h0m-16 8h0"/><path stroke="#a31ef0" stroke-width="2.7" d="M7 3h0m11 0h0m9 9h0m17-6h0m-18 21h0m-23 13h0m2 0h0m38 0h0m35-4h0m-6 17h0m-7 3h0m-31-2h0m-25 8h0m1 11h0m1-1h0m10 0h0m12-2h0m20 3h0m6-2h0"/></g></pattern><linearGradient id="gL" x1="0" x2="1" y1="0" y2="0"><stop offset="0" stop-color="#fff"/><stop offset="0.45" stop-color="#fff"/><stop offset="1" stop-color="#000"/></linearGradient><linearGradient id="gR" x1="0" x2="1" y1="0" y2="0"><stop offset="0" stop-color="#000"/><stop offset="0.5" stop-color="#fff"/><stop offset="1" stop-color="#fff"/></linearGradient><clipPath id="cp0"><polygon points="37.7,757.4 281.2,757.4 292.8,778.4 297.6,810.9 303.5,832.5 304.8,860.7 94.1,860.7 37.7,795.1"/></clipPath><mask id="mL0" maskUnits="userSpaceOnUse" x="37.7" y="757.4" width="90.8" height="103.30000000000007"><rect x="37.7" y="757.4" width="90.8" height="103.30000000000007" fill="url(#gL)"/></mask><mask id="mR0" maskUnits="userSpaceOnUse" x="238.0" y="757.4" width="66.8" height="103.30000000000007"><rect x="238.0" y="757.4" width="66.8" height="103.30000000000007" fill="url(#gR)"/></mask><clipPath id="cp1"><polygon points="394.2,758.3 636.5,758.3 648.0,779.1 652.8,811.5 658.7,833.0 660.0,861.0 450.3,861.0 394.2,795.8"/></clipPath><mask id="mL1" maskUnits="userSpaceOnUse" x="394.2" y="758.3" width="90.4" height="102.70000000000005"><rect x="394.2" y="758.3" width="90.4" height="102.70000000000005" fill="url(#gL)"/></mask><mask id="mR1" maskUnits="userSpaceOnUse" x="593.5" y="758.3" width="66.5" height="102.70000000000005"><rect x="593.5" y="758.3" width="66.5" height="102.70000000000005" fill="url(#gR)"/></mask><clipPath id="cp2"><polygon points="38.5,899.8 282.3,899.8 293.9,920.7 298.7,953.3 304.7,974.8 306.0,1003.0 95.0,1003.0 38.5,937.5"/></clipPath><mask id="mL2" maskUnits="userSpaceOnUse" x="38.5" y="899.8" width="91.0" height="103.20000000000005"><rect x="38.5" y="899.8" width="91.0" height="103.20000000000005" fill="url(#gL)"/></mask><mask id="mR2" maskUnits="userSpaceOnUse" x="239.1" y="899.8" width="66.9" height="103.20000000000005"><rect x="239.1" y="899.8" width="66.9" height="103.20000000000005" fill="url(#gR)"/></mask><clipPath id="cp3"><polygon points="394.6,899.8 637.4,899.8 649.0,920.7 653.8,953.3 659.7,974.8 661.0,1003.0 450.8,1003.0 394.6,937.5"/></clipPath><mask id="mL3" maskUnits="userSpaceOnUse" x="394.6" y="899.8" width="90.6" height="103.20000000000005"><rect x="394.6" y="899.8" width="90.6" height="103.20000000000005" fill="url(#gL)"/></mask><mask id="mR3" maskUnits="userSpaceOnUse" x="594.4" y="899.8" width="66.6" height="103.20000000000005"><rect x="594.4" y="899.8" width="66.6" height="103.20000000000005" fill="url(#gR)"/></mask></defs><polygon points="62.0,68.0 164.0,30.0 205.0,36.0 288.0,52.0 281.0,100.0 270.0,151.0 259.0,185.0 232.0,219.0 204.0,259.0 88.0,196.0 80.0,130.0" fill="#d98ad0"/><polygon points="189.0,127.0 280.0,90.0 279.0,100.0 270.0,151.0 259.0,185.0 243.0,208.0 233.0,220.0 222.0,240.0 205.0,262.0 192.0,200.0" fill="#ecd3a8"/><g transform="scale(1)" fill="none" stroke-linecap="round"><path stroke="#f3dca0" stroke-width="3.1" d="M189 31h0m-5 0h0m-3-1h0m0 1h0m-2-1h0m0 1h0m-5 0h0m-12 0h0m-1 0h0m-4-1h0m-17 7h0m3 1h0m3-1h0m9-4h0m8 0h0m1 2h0m1 0h0m1-2h0m6 4h0m2-1h0m0-4h0m5 0h0m2 0h0m1 3h0m1 2h0m0 1h0m2-2h0m2 3h0m0-2h0m0-2h0m2-2h0m1 4h0m1 0h0m2 2h0m1-2h0m4-3h0m0 1h0m2 0h0m5 0h0m1 4h0m56 8h0m-8 0h0m-1-3h0m-3 2h0m-6-3h0m-1 4h0m-1-1h0m-1 0h0m-2-1h0m-1-4h0m-6 5h0m0-2h0m-4-3h0m0-1h0m-5 5h0m-2-1h0m0 0h0m-1-4h0m-3 0h0m-10 7h0m-2-4h0m-1-3h0m0 2h0m-2 1h0m-2 2h0m-3-2h0m-1 3h0m-1-6h0m0 2h0m-1 3h0m-1 1h0m-7 1h0m0-6h0m0-1h0m-2 4h0m-5-2h0m-4 1h0m0 0h0m-4 1h0m-3 3h0m-2-6h0m0-1h0m-2 4h0m-2-3h0m-1 3h0m0-2h0m-1-2h0m-2 5h0m-10 0h0m-3 2h0m-2-6h0m-1 6h0m-10-1h0m0-4h0m-2 4h0m-3-3h0m-29 12h0m5-4h0m7 3h0m2 0h0m7 0h0m11-2h0m2-3h0m0 5h0m1-2h0m1-3h0m6 4h0m12-3h0m3 3h0m3-3h0m1 5h0m5 0h0m7-3h0m0-4h0m2 6h0m9-3h0m7 2h0m3-5h0m0 6h0m10 0h0m1-6h0m4 0h0m6 2h0m1 0h0m1-1h0m1 5h0m0 1h0m6-1h0m0-5h0m1 3h0m0-1h0m2 3h0m2 1h0m2-7h0m0 7h0m3-4h0m2-2h0m1 1h0m0-1h0m0 6h0m3-5h0m3-1h0m6 2h0m2 4h0m4-2h0m1 0h0m2-4h0m1 3h0m3-4h0m0 2h0m0 1h0m3-1h0m2 0h0m1 4h0m6-3h0m1-2h0m0 4h0m2-2h0m4 4h0m1-5h0m4 5h0m1-1h0m1-4h0m4 4h0m-1 9h0m-1 0h0m-1-4h0m-1 2h0m0-1h0m0-2h0m-1 5h0m-1-2h0m-6 0h0m-1-3h0m-2 3h0m-1-2h0m-4-2h0m-1 3h0m-3-2h0m-3-1h0m-1 0h0m0 2h0m0 2h0m-7-2h0m-1 4h0m0-4h0m-6-1h0m-1 2h0m-4-4h0m-1 6h0m-2 0h0m-2 1h0m-1-2h0m-2 1h0m-4-3h0m0-2h0m-6 0h0m-3 5h0m0-1h0m0 2h0m-2-2h0m-2-1h0m-1-4h0m-1 1h0m0 6h0m-1-6h0m-3 2h0m0-1h0m-4 0h0m0-1h0m0 1h0m-1 1h0m-1 0h0m0-1h0m-4 3h0m-1-3h0m-1 4h0m-2-6h0m0 3h0m-6 3h0m-1-2h0m-2 3h0m-3-1h0m0-3h0m-18 1h0m-5 3h0m-2-7h0m-4 1h0m-2 0h0m-1 4h0m-34-3h0m-5 5h0m-7-4h0m-6-3h0m-10 2h0m-4 4h0m0 1h0m-5 0h0m-23 2h0m3 0h0m3-1h0m1 0h0m1 2h0m0 0h0m11 4h0m1 1h0m4-2h0m2-3h0m2 1h0m0 3h0m3-4h0m13 0h0m1 0h0m23 5h0m8-5h0m2-2h0m5 0h0m4 7h0m10-2h0m3-1h0m1 1h0m0-3h0m0 2h0m3-2h0m1 3h0m3 0h0m6 2h0m5-5h0m8 1h0m2-1h0m2 0h0m2 4h0m3-3h0m3-3h0m1 0h0m1 3h0m2 3h0m2-5h0m0-1h0m1 7h0m1-1h0m1-2h0m0 0h0m0-1h0m5 1h0m0 0h0m5-4h0m0 4h0m3 0h0m1 0h0m3-4h0m0 5h0m2-2h0m0 4h0m0-2h0m5-5h0m1 2h0m0 4h0m1-6h0m0 1h0m1-1h0m1 6h0m0 0h0m1-1h0m2 2h0m6-1h0m3 1h0m4-4h0m0 2h0m2 1h0m1 0h0m0-3h0m2 0h0m6-2h0m4 1h0m2 5h0m0-4h0m2 4h0m1-7h0m2 0h0m3 1h0m4 1h0m2-2h0m4 3h0m-1 5h0m-1 0h0m-3 6h0m-2 1h0m0-5h0m-3-2h0m0 0h0m-7 6h0m-7 1h0m-1 0h0m-1-2h0m-1-3h0m-2 4h0m-5-3h0m0 2h0m-2-4h0m-2 6h0m-3-2h0m0 1h0m-12 1h0m-1-5h0m0-1h0m-1 6h0m-3-5h0m-2 4h0m-15-6h0m-1 7h0m0 0h0m-1 0h0m-3-1h0m0-6h0m-4 0h0m-2 5h0m-3 1h0m-9-4h0m-4 1h0m-1 4h0m-6-4h0m-4 3h0m-2-1h0m-24-4h0m-3 5h0m0-6h0m-5 5h0m-2 0h0m-4 2h0m-4 0h0m0 0h0m-7 0h0m-25-1h0m-6-3h0m-2-1h0m-7 2h0m-5 0h0m-9-1h0m-5 1h0m1 4h0m3 1h0m2 6h0m1-4h0m0-1h0m1-1h0m5 5h0m8-3h0m3 4h0m2-7h0m5 4h0m5-3h0m9 6h0m2-7h0m4 5h0m7-3h0m2-2h0m2 7h0m0 0h0m4-2h0m3-1h0m11 2h0m3-2h0m35-3h0m8 4h0m2 0h0m0 2h0m1-7h0m2 3h0m1 3h0m4-5h0m8 2h0m0 1h0m1-1h0m0-2h0m0 5h0m1-6h0m1 2h0m5 2h0m4-4h0m1 6h0m0-6h0m2 5h0m4 2h0m1-2h0m1-2h0m1-2h0m1 3h0m1 2h0m2-3h0m4 2h0m4 2h0m1-7h0m1 7h0m2-5h0m3 1h0m3-3h0m0 4h0m1-3h0m1 1h0m14 2h0m5-4h0m4 0h0m3 5h0m4-1h0m0-3h0m0-1h0m1 2h0m-2 8h0m-2-2h0m-3 7h0m-4-3h0m-3 1h0m-1 2h0m0-6h0m0 1h0m-1 1h0m-5-3h0m-2 1h0m-5 4h0m-5 1h0m-2 1h0m0-1h0m-3-5h0m-2 2h0m0 4h0m-4-1h0m0-5h0m0 6h0m-2-1h0m-6-2h0m0 3h0m-11-2h0m-4 2h0m0 0h0m-1-6h0m-1 0h0m-6 1h0m-2-1h0m-3 5h0m0-4h0m-1 1h0m-3 0h0m-4-3h0m-26 2h0m-6 2h0m-30 3h0m-3-6h0m-3 6h0m0 0h0m-3-6h0m-1 2h0m-5-2h0m-6 2h0m-1 1h0m0-1h0m-3 3h0m-1-2h0m-15 0h0m-15 2h0m-1-2h0m-4-2h0m0-1h0m-2-1h0m0 7h0m-3-2h0m-1-5h0m0 3h0m4 12h0m3-4h0m1 4h0m11-6h0m1 2h0m0-1h0m5 5h0m0-4h0m5 2h0m3 2h0m5-2h0m3 0h0m1-2h0m4-3h0m2 0h0m1 0h0m3 7h0m1-3h0m8 1h0m7 1h0m4-5h0m1 6h0m4 0h0m8-5h0m3 4h0m2 1h0m8 0h0m24-7h0m3 7h0m1-1h0m2-1h0m14-1h0m1 2h0m0-4h0m1-1h0m2 3h0m7 0h0m1-2h0m5-2h0m5 1h0m0-1h0m8 4h0m1-2h0m1 2h0m4-4h0m0 6h0m1-1h0m4-3h0m2 3h0m8-4h0m2 3h0m1 3h0m1-4h0m1 0h0m1 2h0m1-5h0m2 7h0m0 0h0m0-6h0m1 1h0m1 5h0m1-4h0m0 4h0m4 7h0m0-6h0m-3 0h0m0 5h0m-3-5h0m-4 2h0m-3 4h0m-1-5h0m-2 4h0m-2 2h0m0-4h0m-2 2h0m-1-5h0m-3 1h0m-1 4h0m-2-4h0m-1 5h0m-1-3h0m-1-3h0m-5 4h0m-1 1h0m-4-5h0m-4 6h0m-2 1h0m-6-2h0m-5-1h0m0-1h0m-9 3h0m-5-1h0m-4-2h0m-4-3h0m-17 4h0m-18 3h0m-3-5h0m-2 0h0m-6-2h0m-2 3h0m-4-3h0m-1 3h0m0 3h0m-3 0h0m-1 1h0m-2-7h0m-10 4h0m-11 0h0m-4-1h0m-2 1h0m-5 2h0m-4-2h0m-4 3h0m-1-6h0m-16 2h0m-7 4h0m-1 0h0m-1-5h0m-1 8h0m0 1h0m0-2h0m3 2h0m1-3h0m2 3h0m0 1h0m4 1h0m1-2h0m1-1h0m3 4h0m2 0h0m9-5h0m1 2h0m0-1h0m2 4h0m19-5h0m10 1h0m1 5h0m6-3h0m8-2h0m2 3h0m2-1h0m7 1h0m2-3h0m5-1h0m4 1h0m3 4h0m1-5h0m5 5h0m2 0h0m16-4h0m25-1h0m2 6h0m2-4h0m2-2h0m1 2h0m4-1h0m2-2h0m2 1h0m1 6h0m8-2h0m1-3h0m7 1h0m3-3h0m8 2h0m1 0h0m1-2h0m0 7h0m2-3h0m1-4h0m0 7h0m1 0h0m3-5h0m0 3h0m0 1h0m1-5h0m0 2h0m0 3h0m2-2h0m3 0h0m1-2h0m-7 8h0m-2 5h0m-5-3h0m0 2h0m-1-1h0m-6-5h0m0 4h0m-4-1h0m-10 4h0m-2-7h0m-1 7h0m0-6h0m-1 1h0m-2 5h0m-2-6h0m-4-1h0m-4 6h0m-8-4h0m-2 4h0m-2-3h0m-2 2h0m-2-2h0m-2 2h0m0-3h0m-1 1h0m-3-1h0m-3 1h0m-5 2h0m-3-5h0m-3 3h0m-2 3h0m-6-6h0m-6 5h0m-8-2h0m-11 3h0m-6-6h0m0 7h0m-6-3h0m-2 2h0m-1-2h0m-4 0h0m-4 0h0m-13-1h0m-5-1h0m-20 1h0m-5-2h0m-1 0h0m-10 3h0m-1 0h0m-1-4h0m0 2h0m-3 5h0m-3-2h0m0 2h0m-2-1h0m2 3h0m3 1h0m6 2h0m1 0h0m7-2h0m1 1h0m0 0h0m6-2h0m2-1h0m5 0h0m1 0h0m8 5h0m1 2h0m1-2h0m1-2h0m4 4h0m1-3h0m25 1h0m12-5h0m0 6h0m7 1h0m2-5h0m10 3h0m1 1h0m12-6h0m1 1h0m2 5h0m1-6h0m1 4h0m4-1h0m1-3h0m1 7h0m0-3h0m4-1h0m0-3h0m0 6h0m2-6h0m1 2h0m4 3h0m3-3h0m1 5h0m0-4h0m1 2h0m1-5h0m1 7h0m2-2h0m0-4h0m0 4h0m0-4h0m1 2h0m1 1h0m1 1h0m4 1h0m0-2h0m6 3h0m4-2h0m1 1h0m8-3h0m0 0h0m1 1h0m0 0h0m2 3h0m1-3h0m0 2h0m4-5h0m1-1h0m2 5h0m4-2h0m2-2h0m3 2h0m3 0h0m1-1h0m2 5h0m2-7h0m0 8h0m-3 7h0m-1 0h0m-1-4h0m-1 0h0m-1 0h0m0-3h0m-4 1h0m-6-1h0m-4 4h0m0 2h0m-1-4h0m-1 4h0m-3-1h0m-1 2h0m0-3h0m-4-2h0m-3 2h0m-2 2h0m0-4h0m-13 5h0m-2-6h0m-8-1h0m-4 7h0m-3-2h0m0 0h0m-5-2h0m-1 4h0m0-2h0m-3-5h0m-2 0h0m-6 6h0m-2 0h0m-3-2h0m-11-2h0m-4 3h0m-7-2h0m-1 1h0m-17-1h0m-1-2h0m-20-1h0m-1 5h0m-6 2h0m-4-5h0m-4 0h0m-9 0h0m-2 2h0m-1 1h0m-1-3h0m-11 1h0m-2 0h0m-3-2h0m-1-1h0m0 7h0m0-7h0m-1 0h0m0 5h0m-4-1h0m-1 0h0m0-3h0m-1 1h0m0 0h0m18 12h0m1-3h0m4 1h0m0-4h0m8 3h0m5 3h0m29 0h0m7-6h0m2 3h0m8 3h0m15 0h0m14-6h0m5 4h0m0-3h0m3 5h0m0 1h0m3-3h0m1 2h0m4-3h0m0-3h0m2 4h0m1 0h0m1-4h0m1 6h0m2-1h0m5-4h0m2 2h0m0 0h0m4-1h0m0 4h0m7 1h0m3 0h0m1-4h0m1 3h0m1-3h0m0 2h0m0-5h0m4 6h0m1-1h0m3 0h0m1-5h0m1 3h0m0-2h0m1 4h0m0-4h0m9 4h0m1 0h0m2-4h0m1 0h0m3 2h0m0 2h0m1-4h0m6 5h0m0-4h0m1 4h0m3 0h0m2-1h0m-6 8h0m0 2h0m-1 0h0m-2-6h0m-1 1h0m-4-2h0m-3 3h0m-1 4h0m-7 0h0m-2 0h0m0-2h0m0-5h0m-1 0h0m-2 5h0m0-3h0m-5 4h0m-2-3h0m-4-2h0m-1 2h0m-5 1h0m-1 2h0m-2-5h0m-3 1h0m-2 5h0m0-1h0m-7-3h0m-3-2h0m-4 1h0m0-1h0m-2 5h0m-1 1h0m-2-3h0m0 1h0m-1-3h0m0 3h0m-3 2h0m-2-2h0m0-1h0m-2 3h0m-7-5h0m-8 2h0m-6 0h0m-6 3h0m-16-7h0m-18 4h0m-15-4h0m-27 5h0m0-5h0m-1 3h0m-7-2h0m6 7h0m9 1h0m14 5h0m30-2h0m2-2h0m41 0h0m10 1h0m2 4h0m3-2h0m0-1h0m1 2h0m0-5h0m1 2h0m1 0h0m2 0h0m1 4h0m1-2h0m3-1h0m2 2h0m4-6h0m0 3h0m1-2h0m1 1h0m1 5h0m1-7h0m2 6h0m2-5h0m1-1h0m1 5h0m1-2h0m0-2h0m1 3h0m2-1h0m2-3h0m1 5h0m2-3h0m1 1h0m3-1h0m3-1h0m3 6h0m5-5h0m6-1h0m2 3h0m0-1h0m0 2h0m1-2h0m4 2h0m1-1h0m5 3h0m2-7h0m0 5h0m-2 6h0m-1 2h0m0 1h0m-1 0h0m-2-3h0m-2 2h0m-3-3h0m-2 2h0m0-3h0m-2 6h0m-2-4h0m0 0h0m-2 1h0m-1-4h0m-3 5h0m-6-5h0m-3 7h0m-1 0h0m-1-3h0m0 0h0m-2-2h0m-1 4h0m-1-2h0m-3 0h0m0 1h0m-1-3h0m-2 0h0m-7 0h0m-1 5h0m-4-4h0m-1-1h0m-1 1h0m-1 4h0m-3-3h0m0-4h0m-2 4h0m-2 1h0m-5 1h0m-3 0h0m-1-1h0m-1-1h0m-1 1h0m-3-3h0m-15 5h0m-3-3h0m-14 1h0m-9 1h0m-10-2h0m-7-2h0m-24 4h0m-17-2h0m-1 0h0m-2 1h0m-3 4h0m6 3h0m0-4h0m1 4h0m1-1h0m0-3h0m8 5h0m2-4h0m15 4h0m11-1h0m1 3h0m9-5h0m0-1h0m33 1h0m0-2h0m20 5h0m2-2h0m0 0h0m5-1h0m0-1h0m1 1h0m1-2h0m1 3h0m2 2h0m0 1h0m1-6h0m1 3h0m3 1h0m1 0h0m3-2h0m2 1h0m1-2h0m1 4h0m6-2h0m1 3h0m2 0h0m1-4h0m0 3h0m4 1h0m4-4h0m1 5h0m2 0h0m4 0h0m2 0h0m1-3h0m1-3h0m1 4h0m1-4h0m3-1h0m2 7h0m6-1h0m2 0h0m0 1h0m1-7h0m0 4h0m0-2h0m2 5h0m1-1h0m-3 3h0m-1 1h0m-1 2h0m-2-1h0m0 0h0m-3 1h0m0-2h0m0-1h0m-2 4h0m-3 0h0m-1-2h0m-3 2h0m-8 2h0m-1-2h0m-4 0h0m-5 2h0m-6 0h0m-3-5h0m-1-2h0m0 3h0m-1-1h0m-4 2h0m-5-3h0m-1 6h0m-1 0h0m-1-2h0m-1 2h0m-6-5h0m-1-1h0m-3 2h0m-14-1h0m-7-2h0m-5 1h0m-8 6h0m0 0h0m-48-4h0m-3 0h0m-14 3h0m0-1h0m-2-1h0m-2 3h0m-2-5h0m-4 1h0m25 8h0m20-1h0m4 4h0m11-3h0m3 1h0m8-3h0m27 3h0m11 3h0m0-4h0m3 2h0m1-1h0m4 1h0m2-1h0m2 0h0m0-4h0m4 3h0m2-2h0m2-1h0m1 3h0m11 2h0m2-5h0m6 0h0m1 1h0m0 4h0m1 0h0m2 1h0m4 0h0m0 1h0m1-4h0m1-3h0m6 0h0m2 6h0m1-5h0m0-1h0m2 6h0m1-3h0m1-2h0m-3 7h0m-5 2h0m-5-1h0m-3 6h0m-1 0h0m-4-3h0m0-1h0m-1 0h0m-1 0h0m-1-3h0m-1 2h0m-1 4h0m-1 1h0m-1-4h0m-1-3h0m-1 5h0m-1-3h0m0 5h0m-2-2h0m-1-2h0m0 1h0m-1 0h0m-1 3h0m0 0h0m-1-3h0m0-1h0m-2-1h0m-1-1h0m-4-1h0m0 3h0m0 4h0m-1-7h0m0 6h0m-3-1h0m-1 0h0m0-4h0m-5 2h0m-1-2h0m0 6h0m-1-4h0m-4 3h0m0-4h0m-1 1h0m0 3h0m-2-1h0m-1-3h0m-1 4h0m-2-1h0m-1-3h0m-1-2h0m-26 5h0m-1-1h0m-8-2h0m-14 4h0m-7 1h0m-20-2h0m-14-3h0m-4-2h0m49 10h0m17 1h0m18 0h0m24-3h0m1 4h0m1-3h0m0 5h0m1 0h0m0 0h0m3-1h0m0 0h0m1-1h0m2-3h0m1 6h0m2 0h0m1-7h0m3 5h0m1 1h0m4-2h0m1 3h0m5-4h0m3-1h0m1 0h0m0 5h0m0-5h0m4 0h0m0 0h0m1 1h0m1 3h0m0-6h0m1 3h0m5-3h0m-7 9h0m-4 4h0m-5-4h0m-1 0h0m-5 0h0m0 4h0m-1-1h0m-1-3h0m-4 4h0m-1-3h0m-1 1h0m-4-3h0m0 3h0m-1 0h0m-1-3h0m-1 4h0m0-2h0m-3 4h0m-2-4h0m-1 4h0m0 0h0m-16-4h0m-9 1h0m-18 2h0m-4-5h0m-6 5h0m-10 2h0m28 3h0m6 0h0m20 1h0m0 2h0m9-2h0m3 4h0m6-6h0m1 6h0m3-2h0m1-2h0m1 1h0m0 3h0m2-7h0m1 5h0m0-4h0m1 2h0m4 4h0m6-1h0m1-4h0m1-1h0m-3 8h0m-2 2h0m-1 0h0m-6-3h0m-2 0h0m0 3h0m-1-1h0m-2 0h0m-2 4h0m-1-1h0m-1-5h0m-2 5h0m-3-3h0m-4-1h0m-2-1h0m-1 4h0m-3 1h0m-4 2h0m-1-1h0m-20 3h0m22 1h0m0 4h0m1 1h0m0-4h0m7-3h0m1 1h0m3 1h0m1-1h0m3 5h0m2 0h0m0-6h0m4 5h0m4-1h0m0 1h0m1-3h0m0-1h0m2 1h0m-5 10h0m-1-4h0m-1 0h0m-1 4h0m-2-1h0m-5-1h0m-1-1h0m0-1h0m-1 5h0m-1 1h0m0-2h0m-1 0h0m-5 0h0m-1 2h0m-1-1h0m-4-5h0m-10 1h0m14 10h0m3-1h0m3 1h0m4-3h0m2 3h0m2-1h0m1-2h0m0 1h0m1-1h0m2 0h0m-7 8h0"/><path stroke="#22b34c" stroke-width="3.1" d="M133 39h0m17 0h0m30-4h0m8-3h0m17 2h0m37 8h0m-7 5h0m-46-5h0m-19 1h0m-34 2h0m-31 7h0m51 0h0m0-2h0m33 3h0m46-1h0m18 0h0m28 0h0m-4 4h0m-21 6h0m-61-1h0m-7-2h0m-5-1h0m-5 0h0m-18 0h0m-11 2h0m-7 2h0m-15-1h0m-19-3h0m-8 1h0m-3 0h0m-8 12h0m48-1h0m38 1h0m-16 3h0m-15-1h0m-5 3h0m-20 1h0m-24 1h0m-4-4h0m-19 2h0m-6-1h0m0 5h0m5 0h0m71 3h0m40 7h0m-39 4h0m-5-4h0m-2 3h0m-5-5h0m-48 0h0m4 13h0m61 1h0m2-6h0m111 1h0m5 9h0m-65 4h0m-14-2h0m-12 1h0m-41 0h0m-15-5h0m-11 7h0m-22-6h0m-12 0h0m56 11h0m1-4h0m1 7h0m16-3h0m1 2h0m100 0h0m9-4h0m13 1h0m-13 9h0m-30-1h0m-11 0h0m-38-3h0m-37 1h0m-9 3h0m-9-1h0m-5 4h0m-13 6h0m106 1h0m12-1h0m32 4h0m-6 4h0m-14 1h0m-4-3h0m-2-1h0m-6 1h0m-14-3h0m-5 4h0m-6 1h0m-6-3h0m-3 1h0m-29-2h0m-2 0h0m-17 6h0m-24-3h0m-30 10h0m6 0h0m2-1h0m64-4h0m24 3h0m67 2h0m7-4h0m7 2h0m-4 9h0m-35-5h0m-9 0h0m-37 0h0m-10 3h0m-28 1h0m-7 3h0m-4 0h0m-1-2h0m-7-5h0m-18 4h0m-14 11h0m29-5h0m3 2h0m17 3h0m24-7h0m1 0h0m11 3h0m1-3h0m6 4h0m7-4h0m5 0h0m39 14h0m-38-1h0m-14-5h0m-6 5h0m-2-4h0m-22 6h0m-18-2h0m-14 1h0m-5-3h0m-12 4h0m-7-1h0m-3-3h0m-6-3h0m6 9h0m20 1h0m1 3h0m10 1h0m11-6h0m1 1h0m4 5h0m9 1h0m3-6h0m5 5h0m14-2h0m7-3h0m35 1h0m19 5h0m7-3h0m11-3h0m-21 14h0m-6-6h0m-3 4h0m-24-3h0m-18 3h0m-6-1h0m-14-2h0m-10-1h0m-4 4h0m-8-3h0m-24-2h0m-1 3h0m-19-3h0m0 2h0m-5 0h0m-1 0h0m20 9h0m11 0h0m13 3h0m12-3h0m18 3h0m4-2h0m6-1h0m28-3h0m40 5h0m15-1h0m-12 5h0m-20 4h0m-11-5h0m-17 0h0m-6 5h0m-7-1h0m-2 3h0m-47-3h0m-13 1h0m-3-5h0m5 14h0m20-4h0m5 1h0m5-3h0m10 6h0m1-5h0m27 6h0m29-6h0m20 5h0m-10 9h0m-46-5h0m0-2h0m-14 6h0m-6-3h0m-8-3h0m-10 2h0m-8-1h0m-3 6h0m0-7h0m11 10h0m2 0h0m2 0h0m20 5h0m1-6h0m10 2h0m47 8h0m0 0h0m-13-2h0m-7 5h0m-4 0h0m-4-4h0m-6 1h0m-10-1h0m-7 3h0m-12 3h0m10 5h0m30 2h0m-8 3h0m-1 2h0m-1-2h0m-8 1h0m-4-1h0"/><path stroke="#3a8af8" stroke-width="3.1" d="M163 30h0m-1-2h0m-13 6h0m10 3h0m6 1h0m5-1h0m6-1h0m3-1h0m3-1h0m10-2h0m2 0h0m1 5h0m6 2h0m18 0h0m35 7h0m-14-4h0m0 0h0m-10 0h0m0 4h0m0-3h0m-6 3h0m-6-6h0m-1 5h0m0 2h0m-4-6h0m-2 3h0m-20 3h0m0-7h0m-4 1h0m-11 4h0m-5-5h0m-6 5h0m-30-4h0m-8 0h0m-20 9h0m13 2h0m7-3h0m9 6h0m11-5h0m8 0h0m10-1h0m8 5h0m1-3h0m5 1h0m9-2h0m15 5h0m1-2h0m2-5h0m7 7h0m4-3h0m1-1h0m8-3h0m6 2h0m1-2h0m0 6h0m2 1h0m0-4h0m3-2h0m3-1h0m6 2h0m8 4h0m8 0h0m5-6h0m13 6h0m1-5h0m3 14h0m-1-1h0m-19-3h0m-18 2h0m-3-2h0m-3-2h0m-6 5h0m-7-3h0m-9-3h0m-2 6h0m-15 0h0m-5-1h0m-10 2h0m-19-7h0m-7 1h0m-5 6h0m-2-6h0m-74 1h0m-11 8h0m5 5h0m5-2h0m14-1h0m9 0h0m27-4h0m26 2h0m11-2h0m5 7h0m11-2h0m0-3h0m2 3h0m6-3h0m10 1h0m4-2h0m6 4h0m0-1h0m24-3h0m10 2h0m2 4h0m0-3h0m0-2h0m4 3h0m6 0h0m2 1h0m8 1h0m2-5h0m13 3h0m2-1h0m-3 10h0m-2-1h0m-7-4h0m-5 3h0m-7 3h0m-8-5h0m-2 4h0m-4 1h0m-2-3h0m-5 0h0m-1-1h0m-22-1h0m-1 3h0m-2 0h0m-4 0h0m-1 1h0m-13-5h0m-2 2h0m-4 4h0m-1-4h0m-8 3h0m-18-4h0m-34-1h0m-20 5h0m-25 9h0m34-7h0m34 6h0m5-2h0m7 2h0m12-3h0m10 2h0m23-4h0m2 6h0m2-7h0m13 4h0m4-3h0m0 5h0m6-2h0m4 1h0m2 1h0m6 1h0m10-6h0m1 1h0m18 5h0m4-3h0m2-2h0m2 6h0m0 0h0m-3 2h0m-6 4h0m-11-4h0m-9-2h0m-5 2h0m-4-1h0m-3 6h0m-5-6h0m-2 0h0m0 5h0m-3 1h0m-1-1h0m-8 0h0m-3-4h0m-9 3h0m-2 1h0m-8-6h0m-39 7h0m-30-3h0m-3 0h0m-18 3h0m-32-4h0m-7 3h0m-1-3h0m9 7h0m1-2h0m1 3h0m10 4h0m31-7h0m1 5h0m8-3h0m7 4h0m10-2h0m0 2h0m81-6h0m11 5h0m2-1h0m0 3h0m1-3h0m4 2h0m1-2h0m12-1h0m4 1h0m1 0h0m14-3h0m-1 8h0m-16 6h0m-5-3h0m-10-4h0m-1 5h0m-1-4h0m-4 5h0m-3-6h0m-8 7h0m-9-6h0m-10 3h0m-36-4h0m-2 5h0m-8-2h0m-38 1h0m-3-1h0m-8 4h0m-6 0h0m-7-3h0m-4 1h0m-5-4h0m0 1h0m-19-2h0m-2 1h0m-3 0h0m3 9h0m1 0h0m1 3h0m41-3h0m49 2h0m9-2h0m2 1h0m27 4h0m5-6h0m0 6h0m9 0h0m20 0h0m24 0h0m5-3h0m3-1h0m5-1h0m1 5h0m-5 6h0m-12-5h0m-12 7h0m-12 0h0m-10 0h0m-13-1h0m-27-4h0m0 1h0m-11 1h0m-28 3h0m-24-3h0m-23-3h0m-12 3h0m-7 0h0m-5 0h0m4 4h0m8 4h0m26 0h0m37 2h0m11 0h0m32-2h0m9-3h0m8-1h0m6 3h0m1-2h0m1 3h0m10 3h0m8-5h0m5 5h0m23-2h0m0-4h0m8 9h0m-6 0h0m-5 3h0m-24-4h0m-7 5h0m-2-4h0m-1-2h0m-4 2h0m-6 4h0m-38-6h0m-41 7h0m0-1h0m-13-6h0m-42 13h0m4-3h0m8 3h0m19 2h0m16 0h0m8-3h0m1 0h0m13 1h0m4 2h0m2-3h0m0 3h0m29-3h0m19-1h0m30 2h0m1-2h0m5 4h0m9-1h0m5-1h0m2-2h0m0 4h0m10-2h0m-7 3h0m-42 7h0m-3-4h0m-3 3h0m-9-4h0m-3 4h0m-17-4h0m-11 3h0m-9-4h0m-10-1h0m-4 1h0m-10 6h0m-4-1h0m-15 0h0m-5-1h0m-6-1h0m-2-2h0m-10 3h0m-5 1h0m-2 1h0m0-1h0m-6 9h0m2-3h0m1 3h0m16-7h0m21 7h0m1 0h0m6-3h0m12 3h0m7-7h0m1 0h0m17 7h0m18-4h0m16 3h0m23-4h0m31 2h0m6 2h0m4 0h0m-20 5h0m-8-1h0m-1-2h0m-4 6h0m-10-3h0m-1 3h0m-12-3h0m0 0h0m-5 4h0m-6-7h0m-1 7h0m0-6h0m-22 4h0m-9-1h0m-19-4h0m-6 2h0m-1-1h0m-11 6h0m-14-1h0m-16-1h0m-9-1h0m-9 4h0m2 1h0m6 6h0m52-1h0m24-3h0m9 2h0m14-1h0m7-1h0m21-3h0m35 1h0m1 6h0m7 3h0m-3 2h0m-8-2h0m0-2h0m-3 5h0m-10 0h0m-3-4h0m-5 0h0m-4 1h0m-4 5h0m-1-1h0m-3 0h0m-1-3h0m-7-3h0m-1 4h0m-2 0h0m-7-2h0m-9-1h0m-7-1h0m-15 1h0m-50 0h0m0 0h0m-6 4h0m-18-2h0m-8-1h0m10 13h0m6-7h0m2 1h0m32 1h0m7 2h0m1 0h0m15-2h0m1-1h0m9 4h0m15-5h0m2 7h0m11-5h0m3 1h0m1-3h0m4 2h0m12 4h0m2 1h0m12-1h0m1 1h0m0-2h0m14-1h0m5 1h0m-13 10h0m-14-1h0m-9 0h0m-15-3h0m0 0h0m-11-2h0m0 6h0m-8-1h0m-7 0h0m-1-6h0m-1 2h0m-1-2h0m-1 5h0m-10-2h0m-17 3h0m-4 1h0m-37-1h0m58 7h0m33-2h0m0-3h0m4 3h0m28 8h0m-2-1h0m-10 3h0m-14 1h0m-3-3h0m-27 4h0m0-2h0m-3 1h0m-9 0h0m-12 0h0m10 5h0m4-1h0m1-1h0m17 5h0m4-2h0m4-1h0m21 1h0m1-1h0m5-2h0m7 5h0m1-1h0m4-5h0m4 5h0m2-2h0m-28 10h0m-4 1h0m-1-4h0m-1 5h0m-1-2h0m-17-2h0m-6 3h0m11 2h0m0 1h0m1 0h0m9 3h0m11 1h0m1-1h0m5 2h0m7-6h0m2 6h0m-9 2h0m0 2h0m0-2h0m-2 7h0m-22-4h0m8 7h0m13 5h0"/><path stroke="#fa14f0" stroke-width="3.1" d="M178 31h0m-12-1h0m-22 7h0m12-4h0m9 0h0m12 6h0m5-2h0m3-5h0m0 2h0m1 3h0m11-4h0m7 0h0m5 6h0m66 8h0m-23-3h0m-17 2h0m-12-5h0m0-1h0m-11 5h0m-10 0h0m-15-4h0m-3 0h0m-1 0h0m-13 1h0m-3 5h0m0-6h0m-8 2h0m-1 2h0m-3 1h0m-2-6h0m-3 6h0m-5-5h0m0 4h0m0 2h0m-6-1h0m-4 1h0m0-7h0m-2 0h0m-5 6h0m-11-2h0m-4 2h0m-25 9h0m2 0h0m2 0h0m6-3h0m1-1h0m1 3h0m3 1h0m2-2h0m0-1h0m4-1h0m1 4h0m1-5h0m0 2h0m4 3h0m1-6h0m0 0h0m2 3h0m3 3h0m1-1h0m1-3h0m1-1h0m0-2h0m0 3h0m0 2h0m1 0h0m0 0h0m1-5h0m1 5h0m6-1h0m3-2h0m6 2h0m13-3h0m0 1h0m1 1h0m0 3h0m2-4h0m4 5h0m0 0h0m2 0h0m5-3h0m2 2h0m1-3h0m1 1h0m0-1h0m2-3h0m0 6h0m0-3h0m1 3h0m3-1h0m2 1h0m1-5h0m0 6h0m1 0h0m0-4h0m5 4h0m3-4h0m10-1h0m3 1h0m13 0h0m18 4h0m8-2h0m2-4h0m2 0h0m5 3h0m2-4h0m9 1h0m1 4h0m1-2h0m1 3h0m9-5h0m12 3h0m-11 10h0m-14-3h0m-2-2h0m-1 6h0m-7 0h0m-13 0h0m-6-3h0m-11-1h0m0-3h0m-23 4h0m0 0h0m-2 0h0m0-4h0m0 2h0m-1 0h0m-4 0h0m-1 2h0m-1 0h0m-3 2h0m0 1h0m0 0h0m0 0h0m-2 0h0m0-7h0m-3 2h0m-1 1h0m-2 2h0m-1-5h0m-2 3h0m-2 3h0m0-5h0m-1-1h0m-1 7h0m0-1h0m-2-3h0m-7-3h0m0 2h0m-4 5h0m-2-2h0m-3 2h0m-2-4h0m-2 1h0m0-2h0m-1-1h0m0 4h0m-1 1h0m-2 1h0m-3-7h0m-1 7h0m0-4h0m-2 3h0m-2-2h0m-1 1h0m-2-2h0m-1 1h0m0 0h0m-3 0h0m-1-3h0m-5 3h0m0-1h0m0-3h0m-1 0h0m-2 7h0m0 0h0m-3-2h0m0 2h0m-8-4h0m-1 2h0m0-3h0m-1 5h0m0-1h0m-3-6h0m0 5h0m0-1h0m-1-1h0m0 2h0m0-3h0m-1 2h0m0-1h0m-3 3h0m-5-4h0m-1 5h0m-1-4h0m-2 2h0m-2-3h0m-5 1h0m0 2h0m-1-5h0m-2 5h0m-1 1h0m-1-3h0m0 0h0m-3 0h0m-1 4h0m-4-2h0m0 0h0m-12 5h0m2 0h0m4 0h0m1 0h0m2 5h0m3-7h0m1 4h0m0 1h0m1-3h0m1-2h0m1 2h0m4 3h0m2-2h0m6-3h0m1 6h0m2-6h0m1 4h0m2 1h0m0-3h0m1 1h0m1-3h0m1 1h0m1-1h0m5 2h0m0 3h0m2 2h0m0-4h0m1 1h0m0-3h0m1 5h0m0 1h0m1-6h0m0 5h0m1 1h0m1-2h0m1 1h0m1-4h0m1 1h0m0-2h0m2 5h0m0-5h0m0 2h0m1-1h0m2 3h0m1-3h0m3-2h0m3 1h0m3 5h0m4-3h0m1 0h0m1-3h0m1 0h0m0 3h0m2-1h0m2 1h0m0 3h0m1-5h0m2 0h0m4 0h0m0 0h0m1-1h0m0 5h0m1-1h0m0 2h0m2 0h0m0-3h0m0-3h0m1 4h0m1 2h0m1 1h0m1-6h0m0-1h0m1 4h0m3-3h0m0 1h0m5 4h0m2-2h0m1-2h0m1 2h0m1 3h0m0-2h0m1 1h0m7 1h0m3-6h0m1 0h0m2 5h0m2-5h0m5 4h0m1-5h0m3 7h0m5-6h0m1 5h0m0-2h0m7-3h0m1 4h0m4 0h0m3 2h0m3-3h0m3 1h0m3 0h0m1-2h0m9 1h0m2 3h0m19 0h0m7-6h0m1 6h0m6-1h0m0-4h0m5-1h0m9 2h0m5-1h0m-26 6h0m-6 4h0m-8-2h0m-3 1h0m-1 3h0m-1-5h0m-1 6h0m-1-7h0m-6 1h0m-10 3h0m-4-3h0m-8 0h0m0 6h0m-7-2h0m-1 1h0m-5-6h0m0 2h0m-1 1h0m-1-3h0m0 4h0m-4-2h0m-3 1h0m-1 4h0m0-6h0m-2 6h0m-2-1h0m-3-2h0m-2 1h0m-1 1h0m-1-4h0m-3-2h0m-2 1h0m-2 5h0m0 0h0m-2-6h0m-2 0h0m-3 7h0m0-5h0m-1 2h0m0 2h0m-3-6h0m-1 7h0m0-1h0m0 1h0m0-1h0m-2 0h0m-3-3h0m-2-1h0m-2 2h0m-1-1h0m-2-3h0m-2 6h0m-1-6h0m-5 0h0m-1 6h0m-2-2h0m0-2h0m0-1h0m-2 5h0m-1-5h0m0 3h0m0 1h0m-2-5h0m-1 3h0m0 1h0m-1-2h0m-1-1h0m0 2h0m0 3h0m0 1h0m-3-6h0m-2 3h0m-1-4h0m-3 7h0m0-7h0m-1 4h0m0-4h0m-1 6h0m-1-3h0m-2-1h0m0 0h0m-1 0h0m-1-2h0m-4 0h0m-1 1h0m-2 2h0m0 4h0m-1-7h0m0 5h0m-1 1h0m0-6h0m-1 7h0m-1-6h0m-1 1h0m-1-1h0m-1 6h0m-5-5h0m-4 2h0m-2-1h0m-1 4h0m-2-1h0m0 1h0m-1 0h0m-3-7h0m-3 4h0m0 2h0m-1-3h0m-3 3h0m0-5h0m-1 1h0m-2 0h0m-4 2h0m0 2h0m5 8h0m2-4h0m0-2h0m0 3h0m3 3h0m0-5h0m0 6h0m0-5h0m1 4h0m0-2h0m6 3h0m0-4h0m0 4h0m2-3h0m0-2h0m3-2h0m0 5h0m1-3h0m0 1h0m1 0h0m0-1h0m2 0h0m0 2h0m0 3h0m1-5h0m1-1h0m0 3h0m1 0h0m2 2h0m1-5h0m1 4h0m2 2h0m1-4h0m4-2h0m1 4h0m8-5h0m0 7h0m1-5h0m2 2h0m1 0h0m3 2h0m0-5h0m0 2h0m1 1h0m4-2h0m0-1h0m2 0h0m0 0h0m1 3h0m1-2h0m1 2h0m1 1h0m1-4h0m1 3h0m0-1h0m1-1h0m0 4h0m2-4h0m1 5h0m2-6h0m1 5h0m0 1h0m1-3h0m3-3h0m2 5h0m0-4h0m1 4h0m0-1h0m0-2h0m1 4h0m1-6h0m0-1h0m0 7h0m0-2h0m1 1h0m0-5h0m1 6h0m1-1h0m1-1h0m0-3h0m0 4h0m1-4h0m0 5h0m1 0h0m2-2h0m2 1h0m0-6h0m0 1h0m4 4h0m2-1h0m1-3h0m1 0h0m0 1h0m1 0h0m1 0h0m2 0h0m0 5h0m3-2h0m0-1h0m2-3h0m1 3h0m0-4h0m1 0h0m1 4h0m0-2h0m0 3h0m2-1h0m2 3h0m0-3h0m2 2h0m1 1h0m0-5h0m1 5h0m0-6h0m5 1h0m0 4h0m2-1h0m19 1h0m11-2h0m9-2h0m22 5h0m1-1h0m1-5h0m23 12h0m-13-2h0m0-2h0m-11 5h0m-29 1h0m-10-5h0m-3 3h0m-4-3h0m0 2h0m-1 2h0m0 1h0m-5-4h0m-1 2h0m-2-1h0m-1 3h0m-3-5h0m-2 0h0m-1-1h0m0 2h0m-1-3h0m-3 7h0m-1-4h0m-2-3h0m-3 2h0m-1 3h0m0-5h0m-1 3h0m-1 2h0m0-5h0m-6 3h0m-5-3h0m-1 3h0m-1 0h0m-4-1h0m0 1h0m-2 0h0m-1-1h0m0-1h0m-1-1h0m-2 0h0m-1 5h0m0-1h0m-1-2h0m-5 4h0m-2-5h0m-1 6h0m0-4h0m0-2h0m-1 3h0m-1 0h0m0 1h0m-1 0h0m0-4h0m-3 0h0m-1 4h0m0-4h0m-1 2h0m-5-3h0m-1 4h0m-4 2h0m-2-1h0m-1-5h0m-3 4h0m-3 1h0m0 2h0m-1-3h0m-1 2h0m-1-1h0m0 1h0m-5 1h0m0-1h0m-1 1h0m0-1h0m-1-6h0m-2 3h0m0 3h0m-3-1h0m-1 1h0m0-1h0m-1-2h0m0 2h0m-2 2h0m-3-1h0m-1-3h0m-2 4h0m-1-1h0m0-1h0m0-1h0m-1-1h0m0 2h0m0-2h0m-3 3h0m-2-5h0m0 5h0m-3-2h0m-2-2h0m-5 0h0m-3-1h0m-2 6h0m0-2h0m-1 2h0m-8 8h0m1-2h0m3-2h0m2 4h0m0-1h0m5-3h0m1-1h0m0 5h0m1-3h0m1 3h0m1-7h0m1 6h0m1-3h0m2 0h0m1-2h0m1 3h0m0 2h0m2-6h0m0 0h0m5 6h0m1-6h0m0 2h0m0 3h0m0-1h0m1-3h0m4 5h0m2-2h0m3 1h0m2 1h0m0-1h0m1 1h0m6-2h0m0 1h0m2 1h0m3 0h0m2 1h0m3-2h0m1-4h0m1 2h0m0 1h0m0 2h0m2-1h0m1-4h0m1 6h0m4 0h0m0-5h0m1 3h0m3 2h0m0-3h0m0-4h0m4 2h0m1 1h0m3 1h0m2-4h0m2 1h0m1-1h0m0 0h0m1 2h0m1 0h0m2 0h0m1 0h0m1 0h0m2-1h0m1 4h0m0-2h0m2-2h0m1 4h0m1-4h0m2 1h0m1-2h0m2 7h0m4-6h0m1 5h0m1-3h0m0 2h0m1 1h0m5-1h0m0 0h0m2-4h0m6 0h0m1 0h0m2 1h0m0 4h0m1-6h0m3 4h0m4 2h0m1-1h0m0-1h0m1-4h0m0 3h0m2-3h0m6 6h0m3-6h0m1 2h0m0 4h0m1-6h0m2 5h0m0-2h0m1-1h0m0 2h0m2-1h0m1 1h0m3 3h0m4-1h0m2 0h0m5-4h0m0 4h0m10-1h0m6-3h0m2-1h0m9 0h0m5 10h0m-11 3h0m-1-1h0m-2 2h0m-10-4h0m-1 2h0m-2 1h0m0 1h0m-1-6h0m-3 6h0m-2-3h0m0 1h0m-1-2h0m-2-2h0m-1 5h0m-1-3h0m0-1h0m-4-2h0m-2 2h0m-2-1h0m-2 0h0m0 0h0m0 5h0m-1-6h0m0 4h0m-1 2h0m-2-2h0m-1 2h0m-1-6h0m-2 0h0m-1 3h0m-2 0h0m-2 2h0m-1-2h0m-1 0h0m-3-3h0m0 7h0m-1 0h0m0-4h0m-2 1h0m-5-2h0m-1 2h0m0-1h0m-2 3h0m-1 1h0m-5-1h0m-2-6h0m0 6h0m-2 0h0m-2-1h0m0 0h0m-2-4h0m-1 2h0m-1 1h0m0-1h0m-5 1h0m-1 0h0m0-2h0m0 1h0m-1 2h0m0-1h0m-2 1h0m-2-5h0m-1 0h0m-1 2h0m-4 1h0m-5 3h0m-2-2h0m0-2h0m0-1h0m-1 4h0m-1-3h0m-1 5h0m-1-7h0m-1 5h0m0 2h0m-1-5h0m-1 5h0m0-1h0m-1-4h0m-5 2h0m-1 0h0m-1-2h0m-1-2h0m-1 4h0m-1-2h0m0-2h0m-1 5h0m0 2h0m-2-1h0m-6-6h0m-2 1h0m0 2h0m-1 0h0m0-1h0m-1-2h0m-1 0h0m-1 3h0m-1 1h0m0 1h0m-2-3h0m-2 3h0m-2-3h0m-1 4h0m-6-3h0m0 2h0m0 1h0m-3-2h0m-3 3h0m-4-1h0m-1-3h0m-2 3h0m0-4h0m-1 1h0m-1 4h0m0-6h0m0 2h0m0-3h0m-1 6h0m-2-2h0m0-2h0m-1 4h0m0 0h0m-4-4h0m-1-1h0m-1-1h0m-1 3h0m-1-1h0m-4 6h0m5 3h0m2-3h0m1 6h0m2-6h0m2 5h0m4-1h0m0-3h0m1 3h0m0 0h0m2 2h0m1-4h0m0 1h0m2-2h0m3-1h0m1 0h0m3 3h0m3 1h0m1 1h0m0-1h0m1 2h0m1-5h0m1 1h0m0-2h0m1 0h0m4 4h0m3-2h0m1 5h0m1-3h0m4-4h0m1 7h0m3-6h0m3 0h0m4 6h0m1-7h0m3 4h0m1-3h0m4 4h0m1-2h0m1-3h0m0 3h0m3 2h0m1-4h0m1 1h0m2 5h0m1-6h0m1-1h0m2 4h0m0 0h0m1-2h0m0 4h0m7-1h0m1-1h0m3-1h0m5-3h0m0 4h0m4 1h0m2-5h0m3 1h0m3 1h0m2-2h0m1 5h0m3-5h0m0 4h0m0-2h0m2 1h0m0-1h0m1 3h0m0-3h0m4 1h0m5-1h0m1 0h0m5 0h0m4 2h0m0-3h0m0 0h0m5-1h0m0 3h0m1-3h0m6 5h0m3-2h0m0 4h0m5-7h0m3 7h0m3-6h0m0 6h0m1 0h0m5-7h0m0 6h0m1 0h0m0-5h0m0 2h0m1 2h0m1-1h0m9-1h0m6-3h0m9 1h0m5 7h0m-4 5h0m-11 1h0m-1-5h0m-5 6h0m-7-5h0m-4 1h0m-1 3h0m0-4h0m-3 4h0m-2-3h0m-1 3h0m-1-3h0m-3 4h0m-1 0h0m-2-1h0m-3-3h0m-3 3h0m-2-6h0m-1 3h0m-1 1h0m-3-1h0m-2-3h0m-2 0h0m-3 3h0m-2-2h0m-1 4h0m-9 2h0m-7-1h0m-9-1h0m0-4h0m0 5h0m-1-5h0m0 4h0m-3-3h0m-3 0h0m-3-1h0m-4 5h0m-2-3h0m0 1h0m-2-3h0m-1 2h0m-1-3h0m-1 0h0m0 1h0m0 3h0m-1 3h0m-1-1h0m0-3h0m0 1h0m-1-1h0m-3 2h0m-1-4h0m-1 0h0m-3-1h0m-1 3h0m0-1h0m-1 2h0m-5-1h0m0-1h0m-2 3h0m-3-4h0m0 6h0m-2-1h0m-1-4h0m-6 0h0m0 0h0m-1-1h0m-1 5h0m-2-6h0m-1 5h0m-4-3h0m-1 4h0m-4 0h0m0 1h0m-4-7h0m0 5h0m-5-2h0m-1-2h0m0 3h0m-3-3h0m-2 3h0m-1 1h0m-2-2h0m-2 2h0m-1-1h0m-3 1h0m0 1h0m-3 1h0m-2-3h0m-6 0h0m-1-2h0m-3 4h0m2 5h0m3-1h0m1-2h0m1 2h0m2 0h0m0 2h0m0-1h0m2 2h0m1-5h0m6 2h0m2-2h0m3 5h0m3-5h0m6 2h0m4-2h0m6 5h0m2-4h0m2 1h0m0 2h0m3-1h0m2 4h0m3-7h0m0 0h0m0 2h0m4 3h0m1 2h0m0-7h0m1 3h0m1 2h0m0 0h0m1-2h0m0 3h0m5 0h0m1-5h0m0 0h0m2 1h0m1 3h0m3-5h0m0 3h0m3-3h0m4 0h0m0 6h0m1-4h0m8-1h0m2 4h0m0 2h0m3-5h0m2 4h0m1-5h0m0 0h0m0 4h0m1-4h0m0-1h0m0 4h0m1 0h0m1-4h0m0 0h0m1 3h0m2 0h0m3 4h0m1-1h0m2-4h0m1 1h0m2 1h0m4 3h0m36-3h0m1-4h0m1 2h0m1 1h0m4 0h0m0 4h0m1-7h0m2 6h0m2-3h0m2-2h0m3 3h0m1-3h0m4-1h0m3 3h0m1-3h0m0 4h0m0-2h0m2 1h0m6 2h0m-4 9h0m-22-1h0m-2-5h0m-1 5h0m-8-4h0m-13 2h0m-1 3h0m-12-4h0m-6 4h0m-4-2h0m-2-1h0m-2 4h0m0-5h0m-2-2h0m-3 0h0m0 1h0m-2 0h0m-2 1h0m0 4h0m0 0h0m0-4h0m-5 5h0m0-2h0m-3 0h0m-1 2h0m-3-1h0m0 0h0m-1-3h0m-1 3h0m-1 0h0m-6-4h0m-4-1h0m-1 2h0m-3 4h0m-1-2h0m-2-4h0m-1 0h0m-5 6h0m-3-7h0m-2 0h0m-1 3h0m0-2h0m-6 5h0m-4 1h0m-3-4h0m-3 2h0m-1-2h0m-8 0h0m-7-1h0m0-2h0m-2 2h0m-2 2h0m-3 2h0m-1 0h0m-3-6h0m0 5h0m-6-2h0m0 1h0m0-3h0m-1 4h0m-1-1h0m-6 10h0m14-6h0m0 1h0m0-1h0m11 0h0m0 7h0m1-6h0m2 0h0m2-1h0m2 0h0m2 2h0m1-2h0m1 6h0m0-1h0m6 0h0m13-2h0m2 3h0m6-4h0m2 1h0m7 1h0m1-4h0m0 3h0m3-1h0m4 1h0m0-2h0m1-1h0m1 0h0m1 3h0m1-1h0m0 1h0m0-2h0m1 0h0m0 2h0m0-1h0m0 0h0m0 5h0m1-1h0m3 0h0m1 0h0m1 0h0m1-2h0m1-2h0m1 4h0m5 1h0m0-7h0m1 0h0m0 0h0m1 2h0m0 0h0m10 5h0m5-7h0m3 1h0m7 6h0m23-5h0m5 2h0m0-3h0m3 1h0m5 0h0m0 1h0m11 0h0m13 3h0m2 0h0m-8 3h0m-29-1h0m-3 6h0m-25 1h0m-12-5h0m-1 2h0m-1 2h0m-6-6h0m-1 0h0m-1 5h0m0-1h0m-2 0h0m0 0h0m-1-1h0m-2 4h0m-10-2h0m0-3h0m-6 5h0m-2-1h0m0 1h0m-1-1h0m-1-4h0m-2-1h0m-2 0h0m-3 3h0m-4 0h0m0-2h0m-2 0h0m0 3h0m-1-3h0m-5-1h0m-1 5h0m-1 1h0m-1-7h0m-1 5h0m-2 2h0m0-7h0m-2 4h0m-2-2h0m-12-2h0m0 0h0m-7 2h0m-16-2h0m0 5h0m-1 0h0m0-5h0m-1 10h0m3 3h0m1-5h0m4 0h0m2 4h0m2-2h0m9 4h0m2-5h0m0 0h0m0 6h0m5 0h0m1 0h0m3-2h0m5-3h0m4 4h0m1-4h0m0 0h0m1-2h0m3 0h0m1 1h0m1 0h0m13 0h0m1 3h0m9 0h0m0 2h0m3-2h0m1 1h0m2 1h0m1-3h0m4 3h0m3-6h0m4 1h0m2-1h0m9 2h0m4 4h0m15-6h0m1 7h0m6 0h0m17-2h0m6 0h0m12-2h0m4 3h0m0 0h0m7 8h0m-30-6h0m-8 3h0m-11 2h0m-34 0h0m-3-5h0m0 4h0m0 1h0m0-2h0m-1 2h0m0 0h0m-1-2h0m-3 2h0m-2 2h0m-2-5h0m-1 0h0m-3 2h0m-1 3h0m-6-1h0m0-5h0m-1 2h0m-11 2h0m0-3h0m-13-2h0m-4 3h0m-2 3h0m-3 0h0m-6-2h0m0-2h0m-2 5h0m-15-7h0m-1 0h0m-3 6h0m6 7h0m10-3h0m8 0h0m3 2h0m3-4h0m7 3h0m0-3h0m3 1h0m22 5h0m4 0h0m13-5h0m4 3h0m3 0h0m1 1h0m6-1h0m2 3h0m1-1h0m0 1h0m0-7h0m1 1h0m4 2h0m28-1h0m4 2h0m6-3h0m5 6h0m2-1h0m4-3h0m5 3h0m3-3h0m4 0h0m-5 9h0m-9 2h0m-25-6h0m-8 5h0m-9-2h0m-9-2h0m-1 2h0m-2-3h0m-1 3h0m-2 2h0m-3-5h0m-14 6h0m-3-4h0m0 3h0m-2-2h0m-3 4h0m-4-3h0m0-4h0m-1 2h0m-3 2h0m-3-3h0m-3 2h0m-7-3h0m-13 4h0m-7 3h0m-2-6h0m-4-1h0m-3 7h0m-5-6h0m-4 5h0m-1 1h0m-2-3h0m-1 0h0m-1-3h0m-5-1h0m-1 7h0m5 2h0m10 2h0m4 4h0m2-6h0m1 0h0m0 5h0m0-1h0m4-4h0m1 5h0m6 0h0m2-6h0m2 3h0m1 3h0m23-3h0m1 1h0m3-2h0m3 1h0m1-1h0m1 5h0m4-7h0m6 7h0m1-3h0m2 0h0m0 2h0m4 0h0m0-4h0m2 1h0m2 4h0m27-3h0m6 2h0m0-5h0m33 3h0m2 2h0m3 1h0m-6 2h0m-7 3h0m-5-1h0m-15-2h0m-2 4h0m-6-4h0m-24 3h0m0-1h0m-3-2h0m-4 2h0m-1 0h0m-3 0h0m-3 0h0m-2 3h0m-2-4h0m-4 2h0m-7-4h0m-9 2h0m-1-1h0m-6 0h0m-4 4h0m0-3h0m-2 1h0m-2 3h0m-4 0h0m-9-5h0m-1 0h0m-1 2h0m-5 1h0m-12 0h0m8 7h0m4 0h0m2 3h0m11-3h0m5 0h0m12 4h0m3-1h0m0-4h0m2 2h0m3 2h0m8-1h0m9 0h0m0 1h0m11-1h0m2 0h0m1-5h0m2 0h0m2 0h0m0 2h0m1 1h0m2 0h0m1 4h0m2-1h0m21-4h0m11 11h0m-9-1h0m-9 1h0m-5 1h0m-5-4h0m-9 2h0m-1 0h0m0-3h0m-3 5h0m-2-2h0m0 3h0m-1 0h0m-16-3h0m-2-3h0m-1 5h0m-2-3h0m-1-1h0m0 2h0m-4-4h0m-5 4h0m-3-4h0m-6 3h0m-16-1h0m21 10h0m1 0h0m9-2h0m12 3h0m2-3h0m2 4h0m3-6h0m0 2h0m1 4h0m4-1h0m6-4h0m1 3h0m1 1h0m2 0h0m0 1h0m4-6h0m2 3h0m7 1h0m27 3h0m-7 8h0m-4-5h0m-8 4h0m-2-3h0m-4-3h0m-3 0h0m-1 5h0m-4 0h0m0-1h0m-1 2h0m-6-4h0m-3 5h0m-7-7h0m-1 1h0m-10 2h0m-9 1h0m-6 0h0m-2-3h0m13 9h0m6-1h0m9 2h0m28 1h0m4-3h0m7 6h0m6-6h0m-23 7h0m-12 7h0m-3-6h0m15 9h0m1 2h0m4 5h0"/><path stroke="#22f23c" stroke-width="3.1" d="M159 29h0m-5 2h0m-3 5h0m23 2h0m2-1h0m2-3h0m1 2h0m1-4h0m9 4h0m4-1h0m5 1h0m11 11h0m-19-3h0m-9-2h0m-5 3h0m-15-2h0m-25-1h0m-5 0h0m-3 4h0m-2-5h0m-24 10h0m24-3h0m13 7h0m9-4h0m10-1h0m11 1h0m10 0h0m9 2h0m98-2h0m-7 10h0m-15-4h0m-6 6h0m-7-7h0m-3 3h0m-25 3h0m-25 0h0m-21 1h0m-1-1h0m-1-2h0m-1 3h0m-4 0h0m-1-5h0m-6 4h0m-3-4h0m-6-2h0m-7 0h0m-27 6h0m-7-3h0m-19 2h0m-8-5h0m-24 9h0m11 1h0m3 1h0m2 1h0m9 1h0m23-5h0m0 0h0m13 7h0m1-2h0m12-2h0m5-3h0m9 6h0m8-4h0m8-1h0m2 6h0m0-2h0m20-3h0m1 0h0m72 3h0m17-2h0m2 4h0m-21 8h0m-83-5h0m-24 2h0m-1-1h0m-2-3h0m-10 1h0m-30-1h0m-12 3h0m-1 0h0m-17 1h0m-8-4h0m-6 7h0m3 2h0m5 4h0m5 1h0m18-1h0m12-5h0m1 2h0m13 3h0m9 1h0m16-3h0m31-2h0m6 5h0m34-1h0m0-4h0m2 5h0m59 3h0m-8 6h0m-26-7h0m-16 1h0m-13 0h0m-21-1h0m-10 5h0m-19-3h0m-27 2h0m-5-1h0m-1-1h0m-1 1h0m-19 0h0m-7-3h0m-5 7h0m-2-6h0m-9 5h0m-7 0h0m-8 3h0m1 0h0m6 0h0m9 0h0m5 2h0m1 4h0m1-3h0m35-3h0m15 5h0m35-4h0m53 0h0m10 4h0m9 1h0m9-3h0m16 4h0m-4 6h0m-20-3h0m-36 1h0m-35 0h0m-11 3h0m-4 0h0m-5 0h0m-2-5h0m-1 2h0m-1-1h0m-6-1h0m-41 5h0m-2 0h0m-5-2h0m0 2h0m-4-5h0m-1 0h0m-23 13h0m19-6h0m7 6h0m5-4h0m8 4h0m6 0h0m44-5h0m5-1h0m2 2h0m72-2h0m4 1h0m0 2h0m1-1h0m4-1h0m4-1h0m2 4h0m-4 6h0m-31 3h0m-15-6h0m-5 6h0m-41-4h0m-19 2h0m-5-2h0m-9 5h0m0-7h0m-50 8h0m3 3h0m6-3h0m7 4h0m4-2h0m6-1h0m10 4h0m29-5h0m7 2h0m1 2h0m7-2h0m11 5h0m12-4h0m3 2h0m4-4h0m1 6h0m0-4h0m2 3h0m2 0h0m5-5h0m2 6h0m33-3h0m21 3h0m15-2h0m-46 10h0m-28-3h0m-1 1h0m-5-3h0m-4 2h0m-1 2h0m-3-1h0m-6 0h0m-1 1h0m-4-5h0m-3 1h0m-7-2h0m-4 2h0m-28 5h0m-4-7h0m-13 5h0m-3-5h0m-14 4h0m-23 11h0m11-4h0m5 3h0m10 0h0m7 1h0m3-7h0m2 7h0m18-4h0m0 2h0m6-3h0m3 0h0m10-1h0m3-1h0m17 7h0m33-6h0m7 0h0m2-1h0m8 0h0m29 2h0m11 13h0m0-4h0m-20-1h0m-18 1h0m-25-1h0m-11 2h0m-2 3h0m-15-1h0m-4-1h0m0 2h0m-2-2h0m-4-1h0m0 3h0m-3-7h0m-3 1h0m-1 3h0m-3 0h0m0 3h0m-7-2h0m0-4h0m-1 3h0m-3-4h0m-7 1h0m-1 5h0m-4-5h0m-8 2h0m-1 3h0m0-1h0m-2 0h0m-2 1h0m-1-1h0m0 0h0m-3-3h0m-8 5h0m-11-6h0m-4 1h0m7 10h0m13-3h0m10 2h0m3 2h0m1-1h0m0 3h0m5-5h0m5 1h0m1 2h0m5 0h0m4-3h0m4-2h0m7 2h0m6 5h0m0-3h0m1-4h0m6 3h0m1-2h0m11 2h0m1-3h0m1 4h0m2 1h0m32-5h0m18 1h0m2 3h0m20 2h0m1-3h0m8 2h0m3 2h0m-13 6h0m-9-5h0m-9 4h0m-55-4h0m-4 2h0m-1-1h0m-4 3h0m-1-4h0m-2 3h0m-7 4h0m0-7h0m-5 4h0m-1 3h0m-1-2h0m0-5h0m-1 1h0m-2-1h0m0 5h0m0-3h0m-5 4h0m-1-2h0m-1 1h0m-8 2h0m-2-4h0m-1 0h0m-6 3h0m-1-6h0m-3 4h0m-2-2h0m0-2h0m0 1h0m-2 1h0m-8-2h0m-3 5h0m-4 0h0m-1-1h0m-1-4h0m-1 6h0m-8 0h0m-1 0h0m-2-3h0m-6 2h0m-1 3h0m5 2h0m4 1h0m3-3h0m4 1h0m2 3h0m2-2h0m2 2h0m1-3h0m0 2h0m8-2h0m1 1h0m2 0h0m6 1h0m9 2h0m4-3h0m9 3h0m2 2h0m7-4h0m1 1h0m1-4h0m1 4h0m11 2h0m5-3h0m3 2h0m1 0h0m10 1h0m1-5h0m0 4h0m2 2h0m27-3h0m33 1h0m-41 10h0m-15-4h0m-5-1h0m-2 2h0m-5 2h0m-2 1h0m-2-5h0m0 2h0m-1 0h0m-2-4h0m-1 7h0m0-1h0m-3-2h0m0 0h0m-2-2h0m-4-2h0m-1 4h0m-1-3h0m-6 4h0m-6-5h0m-3 3h0m-7 0h0m-1 0h0m-2 2h0m-8 1h0m0-2h0m-1 2h0m-2-2h0m-1 2h0m-3-3h0m-2-2h0m-5 3h0m0 3h0m0-3h0m-3-3h0m-2 5h0m-3-4h0m-8-2h0m-4 7h0m0-1h0m-2-6h0m0 9h0m0 6h0m2-2h0m2 0h0m0-1h0m2 0h0m0 0h0m2 2h0m1-2h0m1-3h0m3 0h0m4 6h0m7-2h0m9-1h0m1-4h0m3 0h0m2 5h0m1-2h0m3 3h0m2-4h0m2 5h0m0-7h0m1 6h0m2-4h0m13 1h0m7 3h0m13-5h0m1 0h0m4 0h0m0 2h0m2 4h0m1-6h0m2 5h0m0 0h0m1-2h0m2 1h0m10-1h0m32 2h0m6 0h0m5-5h0m0 1h0m2 4h0m9-6h0m2 0h0m-66 8h0m-7 2h0m-1 1h0m-9 0h0m-1-1h0m-5 2h0m-1-2h0m-3 2h0m-2-3h0m-4 5h0m-2-5h0m0 2h0m0-1h0m-2 5h0m-12-7h0m0 4h0m0-3h0m-1 5h0m-3-3h0m-4-3h0m-2 2h0m-1-1h0m-5 3h0m-8 3h0m-4-2h0m-1-1h0m-1-4h0m-6 6h0m0-1h0m0 0h0m-3-3h0m-4 3h0m-4-1h0m18 5h0m1 3h0m4-4h0m2 4h0m2 1h0m1-5h0m12 5h0m4 1h0m0-5h0m0 2h0m2 4h0m1-4h0m2 1h0m1 1h0m3-5h0m9 5h0m8-2h0m1 0h0m4 2h0m2-1h0m5-1h0m8-1h0m4 0h0m7 4h0m10 0h0m19 0h0m9-5h0m8 1h0m0-1h0m-18 13h0m-34-2h0m-1 3h0m-1-7h0m0 1h0m-3 3h0m-1 1h0m-5 0h0m-1-4h0m-2 4h0m-6 2h0m-10-4h0m0-2h0m-4 4h0m-3 2h0m-1-1h0m-2-5h0m-4 4h0m-1 2h0m0-6h0m-3 5h0m-1-3h0m-2 0h0m-1-3h0m-3 7h0m0-3h0m-2-2h0m0 0h0m3 8h0m3 0h0m9-1h0m3 6h0m3-6h0m0 3h0m2-4h0m0 5h0m0-2h0m6 1h0m2 1h0m2-3h0m1 5h0m11 0h0m3-1h0m1 1h0m0-2h0m3-1h0m2-2h0m1-1h0m1-1h0m17 11h0m-2 1h0m-12 3h0m-3-4h0m-2 3h0m-2-2h0m0 2h0m-1-5h0m-2 0h0m0 1h0m-2 1h0m-1 1h0m0-4h0m0 4h0m-1 3h0m-5-7h0m-2 3h0m-2 4h0m-5-7h0m-1 7h0m-2-6h0m0-1h0m-1 3h0m-1 0h0m-11-3h0m18 9h0m1-1h0m4 6h0m4-6h0m5 1h0m3-1h0m1 2h0m0-1h0m1 6h0m2-5h0m2 0h0m0 1h0m2-1h0m0 2h0m16-4h0m12 5h0m2-4h0m-15 13h0m-7-4h0m10 7h0"/><path stroke="#c8461e" stroke-width="3.1" d="M164 33h0m6 21h0m-45 4h0m-52 7h0m6 2h0m147 5h0m-80 2h0m43 21h0m-111 1h0m18 7h0m21-7h0m90 0h0m45 0h0m-36 13h0m-48-2h0m-12-1h0m-75-2h0m-4 1h0m179 19h0m-86-1h0m-59 8h0m17 3h0m6-3h0m18-1h0m15 15h0m20 13h0m-83-6h0m27 15h0m126-5h0m-171 6h0m61 12h0m96 2h0m-30 8h0m-3-5h0m-2-1h0m-35 4h0m-71-1h0m143 10h0m-110 9h0m85 12h0m-1 16h0m-10 0h0m-25 17h0"/><path stroke="#7a30bf" stroke-width="3.1" d="M168 38h0m45 7h0m-12-3h0m-2 1h0m-29 4h0m25 7h0m54-3h0m27 12h0m-50-3h0m-110 4h0m35 6h0m86 1h0m36-4h0m5 3h0m2 9h0m-72-2h0m-7-2h0m-73 6h0m22 0h0m94 2h0m3 0h0m21 3h0m-133 9h0m-27-7h0m-23 6h0m-7 5h0m43 3h0m73-1h0m65-3h0m9 6h0m-4 0h0m0 7h0m-123-4h0m-40-2h0m9 10h0m12 3h0m135-2h0m-119 5h0m-18 6h0m-27-7h0m-1 0h0m-20 8h0m36 2h0m37 1h0m100 1h0m3 9h0m-1-2h0m-22 1h0m-19-1h0m-8 2h0m-74 10h0m36-5h0m52 2h0m8 1h0m0 4h0m-112 6h0m57 6h0m11-3h0m21 3h0m8-1h0m22 3h0m3-5h0m7 2h0m9-4h0m17 12h0m-80 1h0m-66-4h0m-6 14h0m10-4h0m36 4h0m1-4h0m22-3h0m38 5h0m9-3h0m18 1h0m-26 5h0m-97 6h0m-32 7h0m12 1h0m53-6h0m32 3h0m3 1h0m10-2h0m8 11h0m-8-2h0m-93 6h0m17 0h0m19 5h0m-25 4h0m110 8h0m-60 8h0m-5 3h0m12 7h0m11-2h0m-7 6h0"/><path stroke="#a31ef0" stroke-width="3.1" d="M191 33h0m10-1h0m5 4h0m8 6h0m-23 4h0m-28-2h0m-43 5h0m14 1h0m75 1h0m7-2h0m5-1h0m31 3h0m1 4h0m9-5h0m2-2h0m7 6h0m16 4h0m-14 1h0m-17 1h0m-23-4h0m-11 1h0m-2 2h0m-9-1h0m-58 4h0m-48 4h0m95-1h0m11 4h0m12 1h0m6 0h0m4-4h0m8 0h0m17 1h0m10 1h0m10 2h0m4 7h0m0 0h0m0 1h0m-14 1h0m-8-5h0m-5 4h0m-2-1h0m-1-4h0m-4 2h0m-16 1h0m-11-1h0m0 0h0m-3 3h0m-8 1h0m-20-5h0m-13 5h0m-22-7h0m-23 0h0m-3 1h0m-37 4h0m16 3h0m3 6h0m81 1h0m12-5h0m38 0h0m9 3h0m27-5h0m1 2h0m-8 7h0m-3 1h0m-22 3h0m0 0h0m-4-3h0m0 4h0m-11 0h0m-21-1h0m-8-2h0m-1 0h0m-84-2h0m-41 2h0m128 5h0m1 7h0m37-7h0m3 3h0m6 2h0m13-5h0m15 11h0m-32-3h0m-4 7h0m-92-1h0m-24-6h0m-27 7h0m-20-2h0m-7-3h0m19 10h0m7-1h0m2 3h0m65-5h0m12 1h0m65 2h0m-34 11h0m-11-7h0m-2 5h0m-7 0h0m-15-3h0m-81-2h0m-7 9h0m50 2h0m111 0h0m23 2h0m-40 6h0m-96-3h0m-38 7h0m-16 5h0m14 1h0m23 0h0m16 2h0m17-1h0m13-1h0m52 1h0m1-3h0m22-3h0m-43 12h0m-5-4h0m-5 2h0m-11 4h0m-14 0h0m-18-4h0m-17 2h0m-38-3h0m10 12h0m59 0h0m15-2h0m4 1h0m30 1h0m13-5h0m8 3h0m2 0h0m30 9h0m-71-3h0m-1 4h0m-15-4h0m-21 0h0m-15-1h0m-8 2h0m-7-2h0m-17 1h0m-17 7h0m35 3h0m88-1h0m7-1h0m16 2h0m1 3h0m24-2h0m-7 7h0m-17 2h0m-14-4h0m-86 3h0m-20-4h0m-11 6h0m12 6h0m26-4h0m15 7h0m26-5h0m15 4h0m2-2h0m29 11h0m-7-6h0m-12 3h0m-2 3h0m-28-2h0m-16-5h0m-39 5h0m-21-4h0m2 10h0m20-1h0m69 1h0m14 2h0m33-2h0m-23 5h0m-61 7h0m-37-7h0m62 13h0m3-4h0m3 3h0m11 3h0m19-2h0m-47 15h0m9 2h0m34-4h0m5 6h0"/><path stroke="#dca4f2" stroke-width="3.1" d="M170 31h0m-7 4h0m37-2h0m27 14h0m-64-4h0m0 2h0m-30 1h0m-7 5h0m2 3h0m7-4h0m4-1h0m44 0h0m20 0h0m45 2h0m-18 8h0m-28 1h0m-81 3h0m-3-4h0m0-2h0m-4 0h0m0-1h0m-18 5h0m-6 0h0m0 0h0m6 10h0m5-3h0m43-4h0m18 6h0m11-4h0m83 11h0m-35 0h0m-16-3h0m-2 3h0m-37 1h0m-76 0h0m8 2h0m121 3h0m37 3h0m0-5h0m5 3h0m12-1h0m-10 5h0m-7 7h0m-38 0h0m-131-5h0m-1 5h0m-14-1h0m7 3h0m10 6h0m28-5h0m0 1h0m9 1h0m8 1h0m11-2h0m94 0h0m38 8h0m-9 2h0m0-2h0m-12-1h0m-9 2h0m-5-3h0m0 2h0m-51 4h0m-10 0h0m-15-4h0m-12-1h0m-47 2h0m-16 2h0m-12-4h0m3 13h0m24-1h0m3-2h0m7 0h0m4-1h0m64 3h0m0-3h0m9 1h0m4 2h0m48 0h0m2-3h0m26-3h0m-9 12h0m0 1h0m-40-3h0m-6 2h0m-8-1h0m-65 0h0m-3 2h0m-1-2h0m0 0h0m-4 4h0m-19 0h0m-34 0h0m-3 1h0m28 5h0m32-5h0m7 1h0m7 1h0m5-2h0m13 5h0m36 2h0m53 5h0m-55-1h0m-3 1h0m-6 3h0m-4-3h0m-9 2h0m-10-6h0m-7 7h0m-3-2h0m-11 1h0m-14 0h0m-27-6h0m-6 4h0m-23 10h0m4-2h0m24 0h0m9-3h0m53 1h0m6 0h0m3 5h0m19-6h0m1 4h0m10 6h0m-10 4h0m-2-3h0m-4 2h0m-42 1h0m-59-3h0m11 7h0m23 1h0m1-2h0m53 5h0m5-2h0m7-4h0m10 2h0m20 3h0m3-1h0m1-2h0m15 3h0m16-2h0m2-4h0m-8 11h0m-1 0h0m-2-2h0m-7 0h0m-14 6h0m-40 0h0m-5 0h0m-1-5h0m-37 0h0m-28 1h0m-27 2h0m-1 1h0m-2-4h0m-3 3h0m-2-1h0m2 6h0m10 2h0m27 2h0m1-2h0m5-2h0m20 1h0m35-1h0m10 5h0m16-4h0m12-2h0m9 0h0m0 3h0m14 2h0m-6 7h0m-2-4h0m-10 2h0m-7 0h0m-9-2h0m-6 0h0m-72 3h0m-17 2h0m-30-3h0m46 8h0m23 2h0m43 1h0m14-2h0m9 0h0m9-4h0m6 14h0m-60-3h0m-51 4h0m-3-7h0m-1 5h0m-3 0h0m34 6h0m46 4h0m5 0h0m9-3h0m7-4h0m15 3h0m2-1h0m-26 11h0m-40-2h0m-2 2h0m-17 10h0m17-2h0m5 0h0m1-5h0m15 7h0m13-7h0m12 7h0m8-4h0m6-2h0m-7 10h0m-10 3h0m-14 1h0m-9-6h0m6 9h0m26 2h0m-9 9h0m-23-1h0m1 4h0m1 1h0"/><path stroke="#8b6512" stroke-width="3.1" d="M175 37h0m4-4h0m20 2h0m62 12h0m-33-1h0m-12-2h0m-19-3h0m-25 3h0m-29 1h0m-19 1h0m26 5h0m1 1h0m2 1h0m99 1h0m12-1h0m0 1h0m10 8h0m-8-3h0m-23-2h0m-3 6h0m-27-5h0m-10 2h0m-8 3h0m-116 7h0m2 0h0m126-1h0m15-1h0m2 2h0m11 1h0m23-4h0m12 2h0m2 2h0m11 8h0m-3-7h0m-6 5h0m-11 2h0m-17 0h0m-1-7h0m-17 1h0m-8 1h0m-51 2h0m-23 2h0m-3-6h0m-13 7h0m-2-1h0m-26-6h0m-32 5h0m2 3h0m52 4h0m43 3h0m41-4h0m29-2h0m30 0h0m-20 7h0m-20 6h0m-6-4h0m-15 0h0m-107 0h0m-19 4h0m-12 8h0m17-5h0m9 3h0m69 3h0m17 0h0m36-4h0m0 1h0m36 1h0m5-4h0m19 12h0m-5-1h0m-43-3h0m-35 5h0m0-6h0m-23 6h0m-43-1h0m-22-3h0m-28 7h0m28 1h0m100-1h0m42 6h0m11 4h0m-40 1h0m-14-1h0m-27 1h0m-13 0h0m-55 1h0m-1-1h0m-2-2h0m-11-1h0m-12 7h0m22 2h0m8 5h0m7-1h0m14-4h0m61 3h0m21-4h0m26 3h0m31-4h0m-17 13h0m-7 2h0m-26-4h0m-1 2h0m-33 2h0m-10 0h0m-9-1h0m-29-5h0m-32 5h0m-30 6h0m4 2h0m19-4h0m0 5h0m2 0h0m14-1h0m33-2h0m14 1h0m42-3h0m7 4h0m1 0h0m2 1h0m38 3h0m-9 5h0m-22-6h0m-9 0h0m-17 4h0m-9-3h0m-21 5h0m-5-6h0m-16 2h0m-21 3h0m-35-3h0m-2 2h0m-9 6h0m32 3h0m49 1h0m32-2h0m9-5h0m4 4h0m5-1h0m18 1h0m5 2h0m24 9h0m-5 0h0m-2-5h0m-1 3h0m-22-3h0m-10 2h0m-11-3h0m-51 0h0m-26 4h0m-31 3h0m16 7h0m19-3h0m30 1h0m3-2h0m32-3h0m13 2h0m38 4h0m11 1h0m-8 4h0m0-1h0m-12 2h0m-2 3h0m-14-7h0m-5 3h0m-1 1h0m0-3h0m-13 0h0m-36 0h0m-81 7h0m2 0h0m13 5h0m35-4h0m6-1h0m10 2h0m35 3h0m5-5h0m19 3h0m2 4h0m10-2h0m0 1h0m10-1h0m4 3h0m-19 6h0m-8 1h0m-13-3h0m-5 0h0m-4 3h0m-31-2h0m-19 0h0m14 10h0m2-2h0m9 2h0m47-1h0m9-1h0m8 0h0m1-5h0m-8 13h0m-9 2h0m-7-3h0m-17-4h0m-4 7h0m-13 7h0m4-4h0m46 0h0m8-1h0m-65 12h0m1 5h0m31 2h0m3 1h0m6-5h0m2 7h0m2-4h0m3-1h0m-12 11h0m-11-5h0m18 8h0"/><path stroke="#1f7a52" stroke-width="3.1" d="M200 44h0m-70-1h0m154 18h0m-17 15h0m-12-1h0m-10 1h0m-31-1h0m-44 2h0m-67-5h0m140 14h0m14 7h0m-2-3h0m-95 0h0m0 8h0m63 3h0m3 4h0m-44 10h0m68 11h0m-26-4h0m-18 5h0m-83 7h0m3-6h0m8 7h0m53 0h0m65 0h0m12-4h0m-99 9h0m-35-1h0m0 1h0m-1-2h0m0 2h0m0-2h0m-1 3h0m-3-1h0m-32 8h0m37-2h0m1-1h0m9 7h0m-34 1h0m0 10h0m2 2h0m10-4h0m22-1h0m34 1h0m1 5h0m88 4h0m-62 2h0m-29-1h0m-20-3h0m-2 4h0m-3 2h0m-2-1h0m-8-3h0m-18 3h0m23 9h0m6 0h0m79-6h0m26 0h0m8 7h0m-109 8h0m-51 2h0m27-1h0m116 3h0m-32 7h0m-75 7h0m92 16h0m-53 15h0m28 12h0"/><path stroke="#fca41c" stroke-width="3.1" d="M151 35h0m80 10h0m-2-2h0m-4-2h0m-44 4h0m-12 1h0m-25 9h0m50-6h0m44 1h0m43 0h0m-16 13h0m-79-7h0m-12 2h0m-1 3h0m-58-5h0m-8 0h0m-34 9h0m21 4h0m95-4h0m16 5h0m20-6h0m5 4h0m18-3h0m24 5h0m4-5h0m3 0h0m0 8h0m-62 6h0m-11-5h0m-5 1h0m-14 1h0m-84 1h0m-10 0h0m14 7h0m151 1h0m15 3h0m-20 2h0m-19-2h0m-15 0h0m-58 1h0m-4 5h0m61 2h0m3 4h0m3 2h0m26 1h0m15-6h0m8 11h0m-33 1h0m-118-2h0m-29-2h0m181 15h0m-82 3h0m-41 4h0m-6-2h0m-17 0h0m-28 0h0m74 5h0m64 11h0m-27 2h0m-32 0h0m-24-3h0m-55-1h0m19 6h0m70-1h0m49 1h0m10 2h0m-139 6h0m-19 2h0m-7 12h0m62-6h0m30 6h0m15 0h0m18-7h0m57 15h0m-40-3h0m-34-3h0m-30 10h0m16-3h0m26 6h0m38-3h0m-10 12h0m-3-3h0m-133 0h0m5 8h0m9-1h0m33 2h0m56-5h0m-7 12h0m-8-1h0m-1 2h0m-32-2h0m-13-2h0m-9 5h0m-12 5h0m55-1h0m0 1h0m34 5h0m-10 3h0m-57 1h0m86 8h0m1-3h0m-65 10h0m38 16h0"/><path stroke="#f4a0a0" stroke-width="3.1" d="M136 46h0m-46 8h0m192-2h0m2 11h0m-113 2h0m71 6h0m-147 4h0m-32 4h0m36 6h0m73 8h0m-4 10h0m48-5h0m2-2h0m8 4h0m37 3h0m-113 1h0m-44 3h0m79 15h0m77 10h0m5-2h0m-79 10h0m-75 0h0m98 10h0m58 9h0m-13-4h0m-2-3h0m-53 5h0m-81 8h0m58-3h0m74 5h0m12 3h0m-84 8h0m-15 7h0m87 8h0m-16 7h0m-126 0h0m103 25h0"/><path stroke="#2f5ba5" stroke-width="3.1" d="M211 42h0m-13 4h0m-36-5h0m8 9h0m93 5h0m20 6h0m-131-3h0m9 7h0m3 0h0m46 1h0m9 0h0m53 5h0m1-1h0m-19 6h0m-122 4h0m125 5h0m11 8h0m-19-5h0m-3 0h0m-46 0h0m-121 3h0m48 10h0m11 0h0m31-1h0m38-3h0m27-1h0m-20 10h0m-111 13h0m31-7h0m134 1h0m1 12h0m-68-3h0m-17 3h0m-98 0h0m22 4h0m45 2h0m73 12h0m-71-6h0m-13 6h0m-15-3h0m-34 3h0m-9-6h0m-1-1h0m48 15h0m5-3h0m27 1h0m41 8h0m-29-3h0m-81 0h0m-3 8h0m17-1h0m1-1h0m16 2h0m89 5h0m2 6h0m-28 1h0m-70 1h0m4 5h0m22 2h0m65-6h0m30 2h0m19 2h0m-102 6h0m-13-1h0m14 13h0m52 2h0m-17 1h0m-1 5h0m-77-4h0m-9-2h0m97 15h0m30-5h0m-105 11h0m54 17h0m-36-6h0m57 22h0"/><path stroke="#dedede" stroke-width="3.1" d="M182 32h0m61 14h0m-87 1h0m10 6h0m53-1h0m31 0h0m-18 9h0m-65-2h0m94 8h0m26 1h0m-78 11h0m-8-7h0m-58 6h0m-37 9h0m63-4h0m78 3h0m-100 8h0m-16-6h0m-39 10h0m48 3h0m130-4h0m-84 14h0m-15 0h0m-84 8h0m40-4h0m31 3h0m91 5h0m-13 2h0m-17-4h0m-110 1h0m-3 5h0m-13 2h0m25-1h0m4 1h0m9 1h0m129 11h0m-139 10h0m21-1h0m59 1h0m39 6h0m-36 1h0m-5-3h0m-55 8h0m2 3h0m6 1h0m27-6h0m41 1h0m-67 9h0m0 11h0m66 1h0m37-3h0m-133 14h0m67 0h0m-81 17h0m22 3h0m22-5h0m88-1h0m-115 10h0m57 7h0m11 6h0m17 0h0m-8 7h0m-17-3h0m-5 8h0m24 12h0"/><path stroke="#595959" stroke-width="3.1" d="M218 40h0m-101 5h0m146 16h0m-33 9h0m4-3h0m40 12h0m-23-2h0m31 3h0m-130 12h0m85 4h0m15 0h0m-75 15h0m2 4h0m91 1h0m-185 10h0m34 13h0m58 21h0m24 4h0m-92 17h0m129-4h0m17 9h0m-72 9h0m70-1h0m-119 9h0m23 16h0m-17 5h0"/></g><g transform="scale(0.5)" fill="none" stroke-linecap="round"><path stroke="#2f5ba5" stroke-width="4" d="M326 72h0m1 0h0m54-6h0m-25 16h0m-11 7h0m-46-5h0m-13-2h0m-102 29h0m144-8h0m117 4h0m39-3h0m22 3h0m4 8h0m-8-1h0m-43 12h0m-164-9h0m-155 12h0m40 11h0m106-2h0m57 3h0m12-12h0m62-1h0m15 0h0m21 2h0m39 9h0m37-3h0m-5 20h0m-54-2h0m-232 1h0m29 12h0m21 3h0m31 4h0m41 0h0m8-13h0m70 8h0m70 3h0m2-10h0m-38 28h0m-163-8h0m-8 2h0m-76 20h0m156-4h0m61 3h0m18-4h0m91-4h0m-21 27h0m-123 0h0m-131-14h0m-42 10h0m-2 3h0m-7-11h0m-39 12h0m-12 0h0m-21 8h0m213 4h0m24 3h0m37-7h0m59 6h0m49 11h0m-22 8h0m-44-4h0m-28-1h0m-52-6h0m-97 5h0m-20 9h0m25 13h0m68-7h0m76 7h0m20-11h0m13 17h0m-27 9h0m-134-3h0m-37-10h0m-12 13h0m-43 17h0m38-5h0m3-9h0m1 13h0m189 1h0m-35 10h0m-146-5h0m-76 14h0m87 7h0m2-3h0m94 3h0m31-2h0m3 0h0m74-2h0m8 5h0m-243 20h0m-41 8h0m48 5h0m11-7h0m83 5h0m9-5h0m29-2h0m1 5h0m27 2h0m11 18h0m-23-4h0m-23 1h0m-72-7h0m-57-1h0m116 18h0m36 11h0m0-6h0m10 15h0m-71 5h0m-31-1h0m-71 7h0m20 9h0m10 5h0m29-4h0m60 4h0m54-4h0m-46 13h0m-28-5h0m-23 11h0m42 8h0m71 10h0m-4 0h0m-87 3h0m-34 6h0m-1-1h0m-13-7h0m55 15h0m54 10h0m17 4h0m2-11h0m-26 25h0"/><path stroke="#fa14f0" stroke-width="4" d="M360 62h0m-4-2h0m-20-2h0m-16 0h0m-44 20h0m15-3h0m1 2h0m28-4h0m15-6h0m9 5h0m7 3h0m2-5h0m2 2h0m1-6h0m2 9h0m12 3h0m25-6h0m4-2h0m3 4h0m5-8h0m81 25h0m-6 4h0m-41-2h0m-30-12h0m-29 2h0m-1 6h0m-15 2h0m-2-10h0m-2-1h0m-2 6h0m-9 7h0m0-1h0m-3-2h0m-21-10h0m-2 14h0m-11-4h0m0 2h0m-8 0h0m-3 1h0m0-8h0m-3 3h0m0 4h0m-3-1h0m-2 2h0m-4-3h0m0-3h0m-5 3h0m-2 5h0m-3-11h0m-6-1h0m-25 7h0m-13 3h0m-51 13h0m16 2h0m1-8h0m8 11h0m3-10h0m13 4h0m2 0h0m1-7h0m1 5h0m4-5h0m1 10h0m0-1h0m1 0h0m5-10h0m0 6h0m4 4h0m3 4h0m2-11h0m0 6h0m5 3h0m1-12h0m1 1h0m7 8h0m3 2h0m1-4h0m2 3h0m1-4h0m20 7h0m1-10h0m2 6h0m7-10h0m7 1h0m1 12h0m10 1h0m2-3h0m1-11h0m1 11h0m0-9h0m5 8h0m4 1h0m1-8h0m2 11h0m4-8h0m1 5h0m2-6h0m1 1h0m0 2h0m1 1h0m1-7h0m5 5h0m1 7h0m4-14h0m2 12h0m0-5h0m1-3h0m1 9h0m0-11h0m3 13h0m2-7h0m3 4h0m1-3h0m2 3h0m1 3h0m8-2h0m2-7h0m4 9h0m4-8h0m2 1h0m1-1h0m5 0h0m23 3h0m13 4h0m1-6h0m29 1h0m19-9h0m29 10h0m3-10h0m18 4h0m23 6h0m2-6h0m12 8h0m4-2h0m6 4h0m-10 14h0m-9 2h0m-42-9h0m-17-1h0m-1 2h0m-14 2h0m-3 7h0m-4-7h0m-1-4h0m-10-1h0m-9 3h0m-3 1h0m-4 3h0m-6-2h0m-12-4h0m-22 3h0m-2-2h0m-5 3h0m-9-2h0m-4 3h0m-5 4h0m-4-8h0m0 4h0m-5 6h0m-2-11h0m0 4h0m-1-3h0m-2 8h0m-4-1h0m-1 0h0m0-9h0m0 2h0m-1-4h0m0 3h0m0-3h0m-1 2h0m-1-2h0m0 6h0m-6-5h0m-1 8h0m-2-9h0m-2 0h0m-3 3h0m-4 10h0m0-9h0m-8-5h0m-5 0h0m-9 5h0m-7 5h0m0 1h0m0-2h0m-9-3h0m-2 2h0m-5 0h0m-1 4h0m-6-2h0m-1 0h0m0-4h0m0 2h0m-3 6h0m-6-2h0m-1 3h0m0 0h0m-8-3h0m-1-6h0m-3 6h0m0 1h0m0-12h0m0 14h0m-1-12h0m-4 4h0m-2 2h0m-1 1h0m-3-1h0m-2-6h0m-2 10h0m0 1h0m-1-8h0m-10 7h0m-2-10h0m-5 12h0m0-14h0m-2 3h0m-1 5h0m-1 1h0m-1 2h0m-4-2h0m-2 0h0m0-6h0m-2 10h0m0-11h0m-1 8h0m0 4h0m-1-6h0m-6-1h0m-1 5h0m-1 2h0m-1-4h0m-3-6h0m0-4h0m-2 9h0m-3 4h0m-2-3h0m0-11h0m-2 5h0m-1 5h0m-1 3h0m-3-13h0m-5 7h0m0 6h0m-5-3h0m-7 0h0m0-10h0m0 10h0m-1 3h0m-1-1h0m-3-2h0m-11-9h0m0 13h0m-2-12h0m-1 7h0m0-4h0m-1 4h0m0-4h0m-1 1h0m-3 7h0m-1-1h0m-4-5h0m-4 1h0m-5 6h0m0 14h0m3-5h0m3-5h0m2 3h0m5 1h0m4-4h0m0 9h0m2-11h0m2 2h0m6 6h0m2-3h0m2 7h0m1-11h0m0 12h0m0-4h0m2 4h0m0-8h0m1-2h0m1 6h0m3 6h0m2-3h0m5-10h0m2-1h0m3 13h0m2-13h0m1 0h0m1 6h0m7 0h0m2 6h0m7-1h0m0 0h0m1-9h0m5 5h0m3 4h0m2 1h0m1 0h0m1-6h0m0 3h0m6-8h0m0 5h0m2 7h0m4-8h0m3 4h0m1 5h0m4 0h0m7-8h0m3-7h0m0 9h0m3-8h0m0 2h0m0 0h0m0-3h0m1 9h0m1-3h0m0 7h0m5-6h0m2 2h0m5-5h0m2-4h0m1 9h0m0-7h0m1 10h0m2-7h0m1 5h0m3-1h0m0-6h0m2 8h0m1-2h0m5-7h0m2 10h0m2-7h0m0 5h0m4-2h0m3 2h0m3-2h0m1 1h0m2 2h0m1 2h0m5-6h0m1 7h0m1 0h0m0-13h0m5 13h0m1-10h0m2 6h0m1-4h0m5-1h0m1 8h0m3 2h0m9-3h0m3-1h0m4 0h0m11 1h0m7-7h0m5 8h0m1-7h0m4 7h0m5-6h0m2-4h0m2 7h0m2-3h0m4-6h0m0 11h0m3-4h0m4 3h0m5-11h0m10 1h0m10 11h0m1-5h0m2-4h0m3 7h0m3-1h0m25-6h0m9 10h0m16-10h0m2 4h0m11-2h0m14-5h0m28 6h0m9 2h0m6 8h0m-18 8h0m-11 4h0m-6-11h0m-13 0h0m-4 2h0m-7-2h0m-7-1h0m-1 6h0m-9-6h0m-10 15h0m-4-5h0m-13-7h0m-28 4h0m-14-6h0m-3 5h0m-9 9h0m0-8h0m0 4h0m-2-4h0m-6 1h0m0 4h0m-9 0h0m-2 2h0m-1-2h0m-6-1h0m0 1h0m-1-11h0m-4 13h0m-3-11h0m-2-1h0m-2 2h0m-3 5h0m0 2h0m-4-10h0m-1 7h0m-3-3h0m-1-3h0m-3-1h0m0 0h0m-3 8h0m0-3h0m0-3h0m-1 11h0m0-10h0m-3 3h0m-2-1h0m-3 3h0m-3-7h0m-2 12h0m0-4h0m-1 0h0m-1-4h0m-6 6h0m0 1h0m-1-5h0m-3-2h0m0-5h0m-1 7h0m-2 2h0m-2 5h0m0-3h0m-4-10h0m-4 1h0m-8-2h0m-3 7h0m-4-4h0m0-3h0m-2 8h0m-1-5h0m0 2h0m-5-4h0m-3 9h0m-2-11h0m0 7h0m-1 8h0m-1-10h0m-1 4h0m-3-3h0m0 9h0m-1-15h0m-1 3h0m-2-2h0m-2 13h0m-1-12h0m-3 13h0m-1-4h0m0 0h0m-1-3h0m-4 2h0m0 5h0m-7-9h0m-4 4h0m-6-4h0m-1-3h0m-1-1h0m-3 1h0m-2 4h0m-9-2h0m0 4h0m-4-1h0m0 0h0m-1 3h0m-1-6h0m-4 5h0m-1-6h0m-1 5h0m-5-3h0m0 3h0m-2-7h0m-1 10h0m0 2h0m0-5h0m-2-4h0m-3 2h0m-2 5h0m-1 1h0m-8-3h0m-3 1h0m-6 1h0m0 3h0m-2-4h0m-2 0h0m0 4h0m-4-15h0m-2 7h0m-2 8h0m-1-3h0m0 3h0m-3-6h0m0 6h0m-3-1h0m-2-7h0m-1 8h0m-1-8h0m-1-2h0m-1-5h0m-4 12h0m-2 3h0m-6-1h0m-10-2h0m10 18h0m2-1h0m3-6h0m7-5h0m0 3h0m2-3h0m0 12h0m1-4h0m3-5h0m3 2h0m0-6h0m0 5h0m0-2h0m1-3h0m2 10h0m0-10h0m0 3h0m3-3h0m0 5h0m5-3h0m0 7h0m2 1h0m0 2h0m2-8h0m0 5h0m1 4h0m1-7h0m7-1h0m0 2h0m1 1h0m0-3h0m5-1h0m3 7h0m3 1h0m0 1h0m5-8h0m0-2h0m1-3h0m6 14h0m4-6h0m8-9h0m4 4h0m4-1h0m0 6h0m6 0h0m17 1h0m1 2h0m1-7h0m5-4h0m5 2h0m2 11h0m4-12h0m1 10h0m0-2h0m2-9h0m1 10h0m3 2h0m1 0h0m1-13h0m4 1h0m4 7h0m0 7h0m1-7h0m4-4h0m1 2h0m2 8h0m0 0h0m1-10h0m1 3h0m3-5h0m1 7h0m4 0h0m3-1h0m1 3h0m1-2h0m7 2h0m0-7h0m4 9h0m0 2h0m2-3h0m4-2h0m4-10h0m3 3h0m1 0h0m0-2h0m1 9h0m1-6h0m1 1h0m3-2h0m1 12h0m3-10h0m4-2h0m6-3h0m5 3h0m1 1h0m4 7h0m2 4h0m3-8h0m0 0h0m4 7h0m3 1h0m0-14h0m3 12h0m7-6h0m3-5h0m8 6h0m7 7h0m2-7h0m3 2h0m9 3h0m9-9h0m1-3h0m3 2h0m10-1h0m7 0h0m3 1h0m34 12h0m12-2h0m8-13h0m5 5h0m20 5h0m0-9h0m6 5h0m0-1h0m13 9h0m5-5h0m4 11h0m0 1h0m-14-5h0m-12 5h0m-8 5h0m-11-1h0m-17-5h0m-16-3h0m-3 8h0m-5 0h0m-43 4h0m-24 0h0m0-12h0m0 9h0m-1-6h0m-4-4h0m-3 8h0m0-2h0m-4-3h0m-1 4h0m0 1h0m-1 4h0m-1-12h0m-3 2h0m0 10h0m-7 3h0m0-8h0m-6 1h0m-4 0h0m0 7h0m-1 0h0m-2-4h0m-2 1h0m0-9h0m-2-3h0m0 7h0m-1 5h0m-1-12h0m-1 6h0m-1 2h0m-2-6h0m-5-2h0m-1 14h0m0-3h0m0 3h0m-3-11h0m-1 3h0m-1 6h0m-4 3h0m-9-7h0m-3-8h0m-6 4h0m-1 1h0m-7 5h0m0-5h0m0 3h0m-2-1h0m-7-3h0m-2 2h0m-1-5h0m-2 8h0m-3-7h0m-1 0h0m-1 7h0m-9-7h0m-1 5h0m0 3h0m-2-3h0m-1 3h0m-3 2h0m0 2h0m-1-8h0m-3-4h0m-3 0h0m-1 4h0m0 9h0m-6-4h0m-2-8h0m-6 0h0m-7-3h0m-4 14h0m-3 1h0m-5-4h0m0-2h0m-4 6h0m-1 0h0m0-13h0m-2-1h0m-7 2h0m-2 8h0m-2 0h0m-1-9h0m-3-2h0m-1 12h0m0-5h0m-1-4h0m-3 0h0m0-2h0m-1 9h0m-1-3h0m0-4h0m-1 12h0m-2-14h0m-1 14h0m0-7h0m-1 7h0m0-10h0m-1 7h0m-1-10h0m-1-2h0m-3 3h0m-1-2h0m-2 2h0m0 9h0m-2 2h0m-2-3h0m-3-3h0m0 5h0m-2-6h0m-6 2h0m0-4h0m0 1h0m-4-2h0m0 0h0m-1 2h0m-1 6h0m0 2h0m-8-9h0m-3 3h0m-1-1h0m-3-1h0m-3-3h0m-1 1h0m-6 9h0m-1 0h0m-1-13h0m-10 25h0m14 1h0m0 2h0m4-1h0m5-6h0m0 1h0m1 2h0m4-6h0m1 11h0m2-5h0m6 7h0m5-4h0m1-9h0m9 11h0m9-13h0m1 4h0m4 2h0m5-3h0m10 5h0m1-6h0m1 10h0m5-1h0m0-1h0m2 4h0m7-11h0m2-1h0m0 6h0m3 2h0m1-2h0m1-4h0m8-1h0m4 6h0m4 5h0m1-1h0m1-2h0m3 2h0m2-5h0m6 0h0m2-5h0m1 2h0m6-4h0m5 0h0m3 11h0m18 3h0m5-1h0m7-2h0m6-12h0m0 10h0m1-4h0m1 5h0m0 4h0m3-13h0m2 7h0m1-4h0m1 2h0m0-5h0m5 4h0m2 3h0m3 0h0m1-8h0m1 4h0m2 3h0m2-6h0m2-1h0m1 11h0m1-7h0m2 6h0m5 1h0m3-11h0m4 2h0m1 10h0m3 2h0m3-14h0m1 9h0m0-7h0m2 4h0m0 8h0m1-8h0m1-5h0m1 7h0m2 0h0m2 0h0m1-9h0m2 7h0m3 1h0m1 7h0m0-4h0m1 4h0m0-15h0m0 15h0m0 0h0m3-10h0m3-4h0m1 6h0m0 4h0m3-1h0m3 3h0m1-5h0m2 1h0m7-1h0m0-3h0m4 7h0m6-4h0m4-6h0m9 6h0m1 4h0m4 2h0m0-4h0m5 1h0m1 2h0m6-1h0m12-4h0m3 1h0m8-7h0m4 5h0m16-7h0m4 4h0m18-4h0m9 15h0m7-12h0m-2 20h0m-19 7h0m-1-9h0m-6-5h0m-7 11h0m-3 2h0m-2-6h0m-4 1h0m-3 4h0m-3-11h0m-1 6h0m-2 1h0m-4-8h0m0 12h0m-1-6h0m-9-2h0m-3 11h0m0-2h0m-1-3h0m-9-9h0m0 9h0m-6-10h0m0 12h0m-8-5h0m-1 7h0m-1 0h0m-6-3h0m-1-5h0m-6 6h0m-6 2h0m-3-14h0m-1 12h0m-7 3h0m-6-13h0m-4 0h0m-5 6h0m-2 0h0m-6 0h0m-1-4h0m-3-2h0m0 6h0m0 2h0m-2 3h0m-1-12h0m-1 14h0m0-4h0m-2-10h0m-5 1h0m-2 0h0m-1 4h0m0 1h0m-3 0h0m-3 6h0m-1 1h0m-1 1h0m-1-12h0m-1 11h0m-2-8h0m0-4h0m-3 1h0m-1 6h0m0-3h0m0 6h0m-4-12h0m-4 8h0m0-6h0m0 4h0m-2 4h0m-1-3h0m-1-4h0m-7 5h0m-3-5h0m-6 11h0m-9-1h0m-4-4h0m-1 0h0m-8-3h0m-4 9h0m0-12h0m-10 4h0m-5-5h0m-5 6h0m-3 3h0m-2 3h0m-1-6h0m0-3h0m-2 5h0m-2-2h0m0-8h0m-6 13h0m-1 2h0m-3-11h0m0 5h0m-4-4h0m-1 3h0m-1 6h0m-1-13h0m0 14h0m-1-15h0m-2 3h0m-1 9h0m0 3h0m-2-12h0m-1 1h0m-3 2h0m-7-2h0m-22 4h0m-6 4h0m-2 2h0m-2-4h0m-5-5h0m-2 4h0m-5-7h0m-3 3h0m-8-2h0m-3-2h0m-4 6h0m-8-6h0m-5 7h0m-1-2h0m-3-4h0m0 11h0m-8-8h0m-2-1h0m19 21h0m3 6h0m5-4h0m0 0h0m0 3h0m1-13h0m6 14h0m1-9h0m5 3h0m1 3h0m2-7h0m0-3h0m0 5h0m2-3h0m5 1h0m3 4h0m2-9h0m0 12h0m3-3h0m4 0h0m6-6h0m3 3h0m3 9h0m0-9h0m12 5h0m7-6h0m11-4h0m1 1h0m9 10h0m4-5h0m1 7h0m6 0h0m5-3h0m1-4h0m5-5h0m6 9h0m5-7h0m1 11h0m2-11h0m3 6h0m1-5h0m2-3h0m0-1h0m1-1h0m0 10h0m0-8h0m3-2h0m3 14h0m3-10h0m0-4h0m1 5h0m6-2h0m1 11h0m1 1h0m1-15h0m6 15h0m3-12h0m3-2h0m2 13h0m0 0h0m1-7h0m7 3h0m16-3h0m8-4h0m2-1h0m3 8h0m1 4h0m1-14h0m2 4h0m1-3h0m4 14h0m1-7h0m1-8h0m13 9h0m7 6h0m5-9h0m3 9h0m6-4h0m0-8h0m2 0h0m0 5h0m3 4h0m1-3h0m2-7h0m5 0h0m5 1h0m0-2h0m0 3h0m7 3h0m1 2h0m3 3h0m2 1h0m1-11h0m5 1h0m0 5h0m1 0h0m4 0h0m2-6h0m1 6h0m1 4h0m1-3h0m2-6h0m1 4h0m6-1h0m0 3h0m1 6h0m3-4h0m1-6h0m1 6h0m4 1h0m7-2h0m0-2h0m2 7h0m0-2h0m1-10h0m8 5h0m10-2h0m1-3h0m4 7h0m8 0h0m19 4h0m-7 17h0m-14-10h0m-6 1h0m0-2h0m-9 3h0m-3 0h0m-6-3h0m-1-2h0m-1 4h0m-5 3h0m-3-7h0m-1 2h0m-1-2h0m-1-1h0m-3 8h0m-2-8h0m-2 13h0m-6-11h0m0 7h0m-6-7h0m-3 8h0m-7 0h0m-2-9h0m-3 8h0m0-8h0m0-2h0m-2 1h0m-2 4h0m0 4h0m-10 4h0m-5-12h0m-5 9h0m-3-1h0m-5-7h0m-2-2h0m-8 2h0m-25 9h0m-5-2h0m-8-9h0m-2 14h0m-1 0h0m-1-13h0m-5 13h0m-3-13h0m-5 7h0m0 6h0m-1-1h0m-2-4h0m-3 0h0m-1-3h0m-1-5h0m-8 3h0m-1 10h0m-2-9h0m-1 5h0m0-10h0m-1 10h0m-1 3h0m0-8h0m-1 6h0m0-7h0m-4 6h0m-1-4h0m-2 9h0m-7-14h0m0 10h0m-1-3h0m0-5h0m-1-3h0m-2 1h0m0 1h0m-1-2h0m0 4h0m-4 11h0m-1-14h0m-1 4h0m-1-3h0m-3 13h0m-5-2h0m-2-5h0m-1 1h0m-1 6h0m-8-2h0m-4-11h0m-2 2h0m-7 5h0m-4-1h0m-5-2h0m-3 9h0m-1-13h0m0 5h0m-2 3h0m-5 5h0m0-5h0m-1-5h0m-6-1h0m-1 1h0m0 4h0m-2 5h0m0-1h0m-2-4h0m-4-4h0m-2-5h0m-6 8h0m-2-1h0m0-6h0m-2 5h0m-1 3h0m-4-8h0m-1 13h0m-1-6h0m0-3h0m0 8h0m-1-2h0m-5-3h0m-5-7h0m0-1h0m-1 8h0m-1-8h0m0 10h0m-5-2h0m-1-6h0m0 4h0m-2 7h0m-2-9h0m-1 7h0m-1-2h0m-3-1h0m-5-8h0m-4 4h0m-6 1h0m-2 9h0m-22 1h0m0 3h0m6 1h0m1 3h0m4 8h0m1-14h0m8 2h0m0 0h0m5 4h0m6 2h0m2-1h0m2 5h0m1-12h0m6 7h0m9-3h0m9-2h0m6-1h0m1 14h0m4-15h0m2 8h0m16 0h0m1-7h0m2-1h0m2 0h0m0 11h0m1-1h0m5-2h0m4 6h0m1-7h0m5-1h0m0-5h0m2-1h0m7 0h0m1 9h0m0-5h0m1 2h0m3-5h0m11 10h0m1-6h0m1 1h0m2-4h0m9 10h0m27-10h0m3 1h0m6 8h0m10-5h0m5 1h0m0-4h0m4-1h0m0 6h0m3 5h0m5 0h0m0-11h0m1 5h0m3-4h0m7 6h0m4 5h0m25-8h0m39 3h0m0-4h0m8 2h0m2-3h0m10 0h0m10-2h0m1 2h0m2 2h0m1 0h0m3 8h0m8-1h0m4-10h0m4 10h0m1-12h0m1 14h0m3-6h0m1-6h0m2 2h0m5-2h0m36 8h0m-4 9h0m-4 3h0m-1 0h0m-4-2h0m-2 4h0m-2 6h0m-11-9h0m-20 7h0m-12-6h0m-5-5h0m-5 4h0m-1 4h0m-16 2h0m-49-9h0m-12 12h0m-1 0h0m-13-15h0m0 7h0m-4-5h0m-3 6h0m-3-2h0m-4-3h0m-1 7h0m-1-4h0m-3 7h0m-5-13h0m-12 15h0m-8-6h0m-6 0h0m-1-1h0m-3-1h0m-1-2h0m0-5h0m-1 10h0m-4 0h0m0 2h0m-3 1h0m-1-3h0m-3 4h0m-5-5h0m0 4h0m-3-5h0m-6 2h0m-2 3h0m0-4h0m-3 4h0m0-6h0m-2-4h0m-1 0h0m-5 9h0m-1-3h0m-1-1h0m0-2h0m-2 5h0m-2-11h0m0 9h0m-4 1h0m-2 0h0m-1-3h0m-1-6h0m-2 3h0m-6 3h0m-7 3h0m-2 3h0m-8-7h0m-5-4h0m-11 13h0m0-3h0m-4-10h0m-4 8h0m-3-2h0m-3 6h0m-1-8h0m-7-5h0m-1 0h0m0 14h0m-1-13h0m-2 1h0m-4 7h0m-4 1h0m0 3h0m0-5h0m0 4h0m-3-3h0m-7-10h0m-3 1h0m0 9h0m-3 1h0m-1-3h0m-5-2h0m-2-2h0m-3 9h0m-2-10h0m-1-1h0m-2 5h0m-15-7h0m15 17h0m6 12h0m0-6h0m1-6h0m10 1h0m2 0h0m6 7h0m4-9h0m0 3h0m3 9h0m1-4h0m7-3h0m0 4h0m1-9h0m7 12h0m2 0h0m7 1h0m6 1h0m1-11h0m2 12h0m1-8h0m4 7h0m5-8h0m2 8h0m9-9h0m0 5h0m14 3h0m9-5h0m0 7h0m2-1h0m3-6h0m2-2h0m3-6h0m2 12h0m2-9h0m1 5h0m2 4h0m1-9h0m2 3h0m2 0h0m3 0h0m6 6h0m5 3h0m1-8h0m7-5h0m2 6h0m2-7h0m2 12h0m1-7h0m2-6h0m2 15h0m1-3h0m1-5h0m2-7h0m0 7h0m3-1h0m0 4h0m1 0h0m5-1h0m3-4h0m2 3h0m2 6h0m4-3h0m1-10h0m1 10h0m1-1h0m1-8h0m2 13h0m2-13h0m0 0h0m1 6h0m2-3h0m1 7h0m0-12h0m6 5h0m1 3h0m18-8h0m30 1h0m17 8h0m12 3h0m80 18h0m-41-9h0m-33 9h0m-11-13h0m-32 3h0m-38 0h0m-4-4h0m-4 10h0m-1-8h0m-1 12h0m-3-1h0m-2-13h0m-4 7h0m-1-3h0m0 5h0m-3-6h0m-10 2h0m-1 4h0m-4-8h0m-5-1h0m-1 2h0m-4 0h0m-3 12h0m-3-11h0m-3 7h0m-3-7h0m-4 0h0m-6 1h0m-12 4h0m-5 2h0m-6 5h0m-3-6h0m-1-9h0m-1 12h0m0-7h0m-7 5h0m-10-1h0m-3-4h0m-3 1h0m-8 2h0m0 7h0m-1-7h0m0-3h0m-4-1h0m0 7h0m-6-5h0m-2 5h0m-9-11h0m0 2h0m-1 3h0m-3 1h0m0-4h0m-5 6h0m-11-5h0m-10 6h0m-3-5h0m-13-3h0m0 5h0m-4 3h0m-10 6h0m8 1h0m3 6h0m3 6h0m0-10h0m1-2h0m3 4h0m5 9h0m2-5h0m1 3h0m2-10h0m1 8h0m6-2h0m4 3h0m9 2h0m25 2h0m18-3h0m0 2h0m10-5h0m3-3h0m4 2h0m1-2h0m0-3h0m3 2h0m4 6h0m0-8h0m5 1h0m1 0h0m5 6h0m5 1h0m3-9h0m0 9h0m3-6h0m6 9h0m0-2h0m15-11h0m5 14h0m6-1h0m11 1h0m1-7h0m4 6h0m1-3h0m6-1h0m8 3h0m5-10h0m39 11h0m9-2h0m21-3h0m20 7h0m11-12h0m1 3h0m22 9h0m9-7h0m13-4h0m3 1h0m4 24h0m-11-1h0m-7 2h0m-13-7h0m-26-4h0m-6 4h0m-48 8h0m-11-13h0m-1 7h0m-6-6h0m-12 10h0m-8-3h0m-1 5h0m-8-1h0m-6-4h0m-2 0h0m-1 1h0m-4-9h0m-8 4h0m0-4h0m0 5h0m-4 5h0m-4-7h0m-1 4h0m0-6h0m-4 6h0m-4-3h0m-1 3h0m-2 5h0m0-5h0m0 2h0m-7 0h0m-5-2h0m-3-4h0m-5-5h0m-1 6h0m-30 1h0m-6 1h0m-9 4h0m-17 1h0m-4-5h0m-4-8h0m-2 13h0m-2-3h0m-3 4h0m-3-11h0m-4 7h0m-2 1h0m-14-4h0m0 0h0m-6-3h0m-20-1h0m-3 20h0m4-4h0m3 9h0m4 3h0m1-7h0m25 6h0m3-14h0m1 5h0m3 10h0m2-7h0m8 2h0m11-10h0m0 7h0m5-1h0m2-4h0m4 2h0m0 2h0m8-6h0m4 14h0m0-7h0m2-7h0m12 14h0m8-3h0m15-8h0m8-2h0m2 12h0m6-9h0m3 1h0m0 7h0m4-7h0m9 6h0m3-9h0m9 0h0m11 6h0m1 6h0m0-12h0m5 10h0m1-11h0m4 5h0m3 1h0m1-2h0m1 9h0m1-8h0m1 7h0m6-6h0m4 0h0m5 5h0m9-3h0m27 6h0m27-9h0m6 5h0m5-7h0m2-2h0m45 11h0m4-11h0m-1 27h0m-16-9h0m-4 4h0m-6-4h0m-28 2h0m-11 3h0m-1-5h0m-26 11h0m-20-7h0m-1 5h0m-21-9h0m-2-4h0m-7 7h0m-6-3h0m-9-4h0m-31 10h0m-9 3h0m-10-4h0m-3-3h0m-14-1h0m-16 6h0m-2-9h0m-8 3h0m-11 2h0m-6 6h0m-21 1h0m-2-14h0m-2 5h0m-1 7h0m-1 3h0m-13-4h0m-1-3h0m-4-5h0m-4 9h0m-2-12h0m-2 5h0m-1-2h0m0 1h0m-3 1h0m13 22h0m2-11h0m3 9h0m12-7h0m1 6h0m2-2h0m5 2h0m3 2h0m2-2h0m16-1h0m2 8h0m8-11h0m39-1h0m3 5h0m1-3h0m0 2h0m4-6h0m12 7h0m4-6h0m4 8h0m3-8h0m3 11h0m3-12h0m3 10h0m1-4h0m1-4h0m5 12h0m1-7h0m6 4h0m4-5h0m1 5h0m4-2h0m1-9h0m2 6h0m1 8h0m0 0h0m25-3h0m12-6h0m95 7h0m-4 18h0m-26-7h0m-40-2h0m-3-2h0m-14-2h0m-6 2h0m-51 5h0m0-8h0m-3 8h0m-3-9h0m0 3h0m-2 8h0m-10-7h0m-18-4h0m-10 10h0m-14-4h0m-1 4h0m-1-3h0m-12 1h0m-5 5h0m-7 1h0m-1 0h0m-8-9h0m-7 5h0m-19 1h0m-1-3h0m-3-8h0m-24 4h0m-4 6h0m-3-8h0m17 18h0m18 6h0m9 2h0m3-6h0m19 3h0m2-7h0m3-2h0m1 8h0m2 1h0m0-7h0m1 3h0m3 0h0m0 1h0m3-5h0m2 10h0m4-4h0m9 8h0m7-13h0m2 9h0m5-2h0m9-4h0m12 5h0m4-2h0m4 6h0m10-8h0m8 6h0m9-7h0m6 0h0m3 6h0m0-3h0m3 6h0m0-3h0m4 2h0m1-12h0m19 5h0m23-4h0m58 1h0m7-3h0m-20 16h0m-45 13h0m-7-12h0m-35 12h0m-5 2h0m-3-1h0m-3-2h0m-4 1h0m-8-2h0m-8 0h0m-15-3h0m0-2h0m-32-1h0m-5 5h0m-22 2h0m-3 2h0m-1-6h0m-6 4h0m-9-3h0m0-1h0m0 4h0m-1-5h0m14 13h0m36 4h0m2-1h0m2-6h0m1 14h0m11-14h0m15 10h0m11-4h0m4-7h0m3 1h0m13 0h0m4 7h0m1 4h0m0-6h0m4 6h0m8-12h0m5 7h0m4-6h0m1 3h0m0 3h0m5-2h0m50 7h0m5-7h0m0 22h0m-35-4h0m-21-2h0m-1 10h0m-16-1h0m-2-6h0m0 0h0m-5-2h0m-2 9h0m-19-14h0m-10 0h0m-20 8h0m-6-1h0m10 11h0m2-2h0m2-1h0m6 7h0m7-6h0m1 12h0m0-11h0m1 13h0m3-8h0m1 6h0m0-8h0m2 9h0m6 1h0m6-9h0m26 2h0m9-6h0m8 12h0m34-8h0m-10 13h0m-6 7h0m-13-9h0m-21 14h0m-11-14h0m-1 0h0m-4 9h0m-1 0h0m-8-7h0m-2 6h0m-4-8h0m39 19h0"/><path stroke="#f3dca0" stroke-width="4" d="M371 63h0m-9 0h0m-14-1h0m0 1h0m-5-2h0m-5-3h0m-2 3h0m0 0h0m-19 0h0m-1 0h0m-50 17h0m21 0h0m2-5h0m5 2h0m3-2h0m2-7h0m6 3h0m1-3h0m2 5h0m8-5h0m12 2h0m10 9h0m2-6h0m5-5h0m1 9h0m0-5h0m4 8h0m1-14h0m7 13h0m3 0h0m0-10h0m1 2h0m1 8h0m1-10h0m6 3h0m2 3h0m8-1h0m5 6h0m2 1h0m0-8h0m6 4h0m3-1h0m1-1h0m0-1h0m2 5h0m2-12h0m6 3h0m1 6h0m1-6h0m2 5h0m1-3h0m6 6h0m25 2h0m120 17h0m-30-4h0m-14-1h0m-3 5h0m-10 0h0m-8-2h0m0 1h0m0-4h0m-7-6h0m-7 1h0m-6 10h0m-3-14h0m-3 8h0m-4-2h0m-4 6h0m0-4h0m-3 5h0m-6-7h0m-2-1h0m-4-3h0m-2 1h0m-7-4h0m-1 13h0m-1-6h0m-1-1h0m-4 8h0m-5-6h0m-5-3h0m-2 9h0m0-1h0m-1 2h0m-4-9h0m-12 2h0m-2 2h0m-1-5h0m-6 2h0m-1-6h0m-3 7h0m-1 5h0m-2 0h0m-2-4h0m-11-7h0m-1 9h0m-4-3h0m-12-8h0m-2 1h0m-2 8h0m-9 1h0m-16-7h0m-2 1h0m-4 6h0m-5-7h0m-1-1h0m0 1h0m-5 3h0m-1 2h0m-4-2h0m-5 0h0m0-4h0m-4 6h0m-1-4h0m-2 4h0m-4-6h0m-4 0h0m-3 5h0m0-1h0m0-3h0m-1-2h0m-6 1h0m-3 2h0m0 4h0m-5-2h0m-3 4h0m-1-8h0m-1 3h0m-3 7h0m-6-11h0m-4 4h0m-2-1h0m-18 6h0m-46 17h0m6 2h0m17 0h0m21-2h0m6-2h0m2-5h0m23 10h0m13-8h0m3 3h0m1-2h0m8-1h0m6 7h0m5-13h0m27 3h0m2 0h0m9 8h0m1-11h0m6 1h0m11-1h0m3 3h0m5-1h0m23 6h0m3 0h0m0-8h0m6 14h0m10-9h0m10 3h0m2 2h0m15-10h0m1 5h0m3-1h0m7 0h0m3 2h0m3 3h0m4-3h0m4 4h0m8-3h0m1 6h0m6-10h0m1-1h0m6 11h0m0-1h0m2 3h0m1-13h0m1 2h0m2-3h0m3 6h0m6-4h0m7 3h0m3-1h0m12 8h0m4-12h0m2 0h0m1 0h0m1 2h0m12 4h0m6-3h0m2 0h0m13 4h0m0 2h0m1 3h0m7-3h0m1-9h0m10 5h0m1 0h0m0 4h0m0 4h0m1-12h0m1 12h0m0-5h0m2 2h0m4-1h0m-7 21h0m-6-1h0m-1-14h0m-2 0h0m-7 15h0m-2 0h0m-3-10h0m-2 3h0m-10-4h0m0 6h0m-2-1h0m0 2h0m-8 2h0m-1 2h0m-4-4h0m0-4h0m-6-4h0m-6 5h0m-1 0h0m-1-5h0m-1 11h0m-14-5h0m-1-7h0m-3 2h0m-1 9h0m-9-1h0m-5-1h0m-2-4h0m-6 1h0m-1 6h0m-2-4h0m-4-6h0m-6 3h0m0 6h0m-3-10h0m-12 7h0m-1-8h0m-1 5h0m-2 8h0m-2-5h0m0-2h0m-4 4h0m-6-8h0m-12 8h0m-1-4h0m-1 2h0m-4-2h0m-11 5h0m-49-13h0m-13 4h0m-17 0h0m-15-3h0m-4 12h0m-3-4h0m-19-5h0m-1 11h0m-5-5h0m-27-10h0m-2 11h0m-8-7h0m-2-4h0m-11 12h0m-5-6h0m-15 7h0m-12-13h0m-19 13h0m-11-1h0m-23 0h0m-1 2h0m-3 1h0m-15 5h0m3 2h0m0-5h0m1 6h0m3-5h0m4-1h0m2 10h0m6-11h0m1 10h0m1-10h0m8 8h0m6-4h0m8 1h0m8-5h0m1 11h0m18-3h0m9 2h0m17 0h0m31-8h0m0 10h0m20 1h0m39 0h0m7-6h0m13-1h0m6 9h0m2-11h0m10-1h0m9 3h0m1 8h0m2-2h0m3-3h0m1 3h0m7-12h0m4 8h0m3 6h0m8-4h0m3 0h0m2-3h0m1 7h0m1-3h0m6-4h0m6-3h0m2 11h0m4-9h0m2 4h0m6-8h0m9 12h0m2-12h0m2 2h0m1-4h0m5 12h0m0-7h0m1-3h0m11 3h0m4 8h0m11 0h0m0-10h0m1 0h0m1 5h0m0 7h0m4-3h0m3-8h0m3 1h0m2 4h0m8 1h0m3-6h0m4 0h0m6 11h0m1-7h0m8-4h0m1-2h0m7 0h0m1-2h0m3 4h0m1 1h0m1 6h0m6 2h0m1-5h0m1-3h0m11 1h0m3 3h0m0-4h0m3-1h0m25 2h0m0-4h0m3 3h0m0 14h0m-3 9h0m-5-12h0m-1 12h0m-2-10h0m-12 7h0m-6-1h0m-2-3h0m-3-5h0m-4 2h0m-4 12h0m0-4h0m-1-7h0m-5 6h0m-7-9h0m-3 13h0m-9-11h0m-4 13h0m-3-8h0m-3-4h0m-4 1h0m-1 0h0m-2 9h0m-3-7h0m-1-5h0m-5-1h0m-1 0h0m0 2h0m-5 3h0m-1 10h0m-11-8h0m-1 0h0m0-2h0m-4 4h0m-1-4h0m-4 7h0m-3 1h0m-1-10h0m-1 8h0m-2-2h0m-6-6h0m-2 12h0m-4-6h0m-5 6h0m-4-1h0m0-12h0m-3 0h0m-5 3h0m-5 7h0m-4-10h0m-2 6h0m-8-3h0m0 8h0m-6-3h0m-1-1h0m0 0h0m-6-6h0m-1 1h0m-3 11h0m-8-6h0m-7-8h0m-30 9h0m-24 5h0m-37-5h0m0-8h0m-3-2h0m-33 10h0m-19-6h0m-6-3h0m-4 12h0m-3-3h0m-4-2h0m-4-6h0m-1 9h0m-7 0h0m-6-10h0m-1 13h0m0-4h0m-3-1h0m-6 6h0m-5-12h0m-14 4h0m-5-7h0m-4 15h0m0-14h0m-11 14h0m0-8h0m-2-1h0m-10 5h0m22 8h0m0 8h0m3 2h0m0-1h0m38-11h0m2 14h0m11-15h0m11 6h0m23 5h0m8-4h0m1-1h0m2 8h0m19-1h0m26-3h0m18-5h0m7 6h0m1-3h0m5 5h0m5-3h0m1 0h0m1 1h0m8 3h0m1-12h0m12 5h0m23-2h0m5 1h0m5 1h0m2-2h0m10-4h0m6 10h0m6-5h0m2-1h0m0 9h0m4-3h0m6-9h0m8 6h0m5-2h0m3 1h0m4 6h0m0-12h0m2 12h0m1-13h0m2 8h0m1 0h0m11 6h0m6-14h0m5 7h0m1-2h0m0 9h0m2-6h0m0-2h0m7 9h0m10-4h0m5-11h0m1 15h0m5-12h0m1-2h0m1 0h0m8 13h0m4-3h0m3-8h0m3 9h0m1-2h0m0-2h0m6 6h0m4-13h0m6 6h0m1-7h0m0 4h0m4 10h0m5-4h0m5-2h0m0 1h0m5-1h0m1-5h0m0 6h0m10 18h0m-2-3h0m-1 5h0m-1-1h0m-1-1h0m-14-1h0m-2-3h0m-8-7h0m-4 15h0m0 0h0m-2-10h0m-3 3h0m-1-4h0m0-4h0m-2 10h0m-1-9h0m0 12h0m-7-6h0m-5-4h0m-3 7h0m-2-9h0m-2 5h0m0 9h0m-1-13h0m-1 4h0m-2-4h0m0 3h0m-3-3h0m0-1h0m-3 10h0m-14-7h0m-5 4h0m-1-1h0m-6 6h0m-2-2h0m0-9h0m-10 9h0m-1-10h0m-2 1h0m-5 1h0m-1 7h0m-2 1h0m-2-3h0m-1-4h0m0 6h0m-8-7h0m-3-1h0m0 1h0m-2 2h0m0 10h0m-1-11h0m-5 2h0m-6-1h0m-28-4h0m-7 4h0m-3 4h0m-2-3h0m-12 4h0m-5 4h0m-38-13h0m-28 12h0m-5-12h0m-6 9h0m-3-7h0m-6-1h0m-7 6h0m-11-4h0m-4-3h0m-11 3h0m-6 3h0m-12 1h0m-7 6h0m-2-1h0m-14-7h0m-3 1h0m-7 2h0m-4-3h0m-8 5h0m-1-7h0m-8 2h0m-1 8h0m-8-1h0m-6-11h0m-3 4h0m-1 8h0m-3 0h0m-1-12h0m-3 9h0m-1-2h0m-7 20h0m4-4h0m7 3h0m0-5h0m4 3h0m3-10h0m11 3h0m7 2h0m5 0h0m14 3h0m8-7h0m5 11h0m3-8h0m4 2h0m11 0h0m6 4h0m6-9h0m9 5h0m1 3h0m30-6h0m5-2h0m5 2h0m2 3h0m23 4h0m0-3h0m2-6h0m3 4h0m9 6h0m3 1h0m24-4h0m6 6h0m1-6h0m2-3h0m5 3h0m1-6h0m8-2h0m4 10h0m0-6h0m13 10h0m3-11h0m19 12h0m1-14h0m11 6h0m1-1h0m2-6h0m19 5h0m8-2h0m3 10h0m6-4h0m5 1h0m3-1h0m7 1h0m4-2h0m2-4h0m13-4h0m5 9h0m5 0h0m1 4h0m9-8h0m5 10h0m1-9h0m2 9h0m0-1h0m1-1h0m3-8h0m0 7h0m2-6h0m5 0h0m2 6h0m7 3h0m5-1h0m2-3h0m1-9h0m2 3h0m2-1h0m0-3h0m0-1h0m1 10h0m2-1h0m1-3h0m6-1h0m-7 25h0m0 1h0m-2-4h0m0-11h0m-9 4h0m-3 6h0m-10 1h0m-1-9h0m0 7h0m0-5h0m-5 11h0m-19-4h0m-2 2h0m-1-4h0m-2 0h0m-2-9h0m-1 5h0m-7 6h0m-18-1h0m-17-7h0m-2-1h0m-5 13h0m-2-1h0m-4-12h0m-4 4h0m-6 0h0m-7-1h0m-29-3h0m-47 10h0m-4 2h0m-1-5h0m0-4h0m-6-1h0m-5-4h0m-13 8h0m-46-2h0m-4-2h0m-6 2h0m-4-6h0m-1 14h0m-2-5h0m-8-8h0m-5 9h0m-5 3h0m-22 1h0m-2-10h0m-2 7h0m-1-9h0m-2-1h0m0 1h0m-22-2h0m-4 3h0m-15-2h0m-34-1h0m9 22h0m4 2h0m0-3h0m1 6h0m2 2h0m1-9h0m11 6h0m4-10h0m7 14h0m5-5h0m50-7h0m8 13h0m16-5h0m0 1h0m4-4h0m2 5h0m3-12h0m18 12h0m2-9h0m8 10h0m2-12h0m12 14h0m11-4h0m26-8h0m3-1h0m25-2h0m8 9h0m3-7h0m6 6h0m9-8h0m1 0h0m8 10h0m9-5h0m2-5h0m10 14h0m2 0h0m13-9h0m2 4h0m2 5h0m1-10h0m4 9h0m6-1h0m8-3h0m1-5h0m3-2h0m8 4h0m7-1h0m2 2h0m7 2h0m4-7h0m10 6h0m0-8h0m2 7h0m7 5h0m2-12h0m3 15h0m0 0h0m4-13h0m5 8h0m0 4h0m1-4h0m2-6h0m0 10h0m3-8h0m0 5h0m4-1h0m1-9h0m1 8h0m5-8h0m1 13h0m0-9h0m3 10h0m1-12h0m0-2h0m2 10h0m1-11h0m2 12h0m-2 8h0m-6 2h0m0 9h0m0-13h0m-3-2h0m-1 11h0m-1-7h0m-4 1h0m-4 4h0m-7-9h0m-3 1h0m-3-1h0m-2 12h0m-8-10h0m-5 11h0m-6-9h0m-9 9h0m-3-9h0m-2-4h0m-6 2h0m-3 12h0m-3 1h0m-26-4h0m-2-3h0m-2 6h0m-6 0h0m-5-10h0m0 6h0m-2 5h0m-13-1h0m-3-13h0m-5-1h0m-13 5h0m0 3h0m-1 5h0m-3-9h0m-3-1h0m-2-1h0m-9 3h0m-4 2h0m-5 0h0m-29 4h0m-32 3h0m-5-2h0m-9 0h0m-22-8h0m-14 4h0m-37 3h0m-1-7h0m-19 4h0m-2-4h0m-7 10h0m-5 1h0m-1-8h0m0 7h0m-6-3h0m-4-7h0m-1 4h0m-2-1h0m-4 2h0m-7 3h0m-6-12h0m-3 0h0m-1 14h0m-4 1h0m13 16h0m1-4h0m7-8h0m14 3h0m10 3h0m9-5h0m1 6h0m6-3h0m2-7h0m6 15h0m5-7h0m2-4h0m8 3h0m4 6h0m8 1h0m0-1h0m0-11h0m19 3h0m5 2h0m11-7h0m21 8h0m0-2h0m7 5h0m23 4h0m13-6h0m1-8h0m0 6h0m2 6h0m21 2h0m14-7h0m4 5h0m5-6h0m1-1h0m1-2h0m15-2h0m5 3h0m3 8h0m4-6h0m6 8h0m1-5h0m1 1h0m0-4h0m2-6h0m5 3h0m2 2h0m6-4h0m3 2h0m2 7h0m1-4h0m1 8h0m4-10h0m2 3h0m1 6h0m1-4h0m9 0h0m7-1h0m1 6h0m2-4h0m8-7h0m1 9h0m7 1h0m12-9h0m0 4h0m0-3h0m2-2h0m2-2h0m6 6h0m3 0h0m5 7h0m2-8h0m1-5h0m12 4h0m3 4h0m1-8h0m7 1h0m-2 13h0m0 3h0m-4 6h0m-1 2h0m-1-2h0m-3-1h0m-10 0h0m-2 2h0m-1 5h0m-1-7h0m0 1h0m-1 5h0m-4-10h0m0 4h0m-4 4h0m-7-10h0m-8 6h0m-2-5h0m-4 7h0m-6-7h0m-1-2h0m-4-1h0m-2 5h0m-1-3h0m-1 5h0m-2 7h0m-1-8h0m-2-1h0m-6-1h0m-2 9h0m-2-5h0m-1 2h0m-3-6h0m-2 10h0m-1-13h0m-2 2h0m-1 1h0m0 8h0m-1-2h0m-1-5h0m-4 9h0m-3-14h0m-1 13h0m-1-11h0m-6 7h0m-1-4h0m-4 4h0m-8-1h0m-7-4h0m-2 10h0m-3-8h0m-5-5h0m-1 13h0m-1-7h0m-6 5h0m-6-1h0m-1 2h0m-2-9h0m-1 11h0m-7-1h0m-3-2h0m-8 2h0m-1-13h0m-2 12h0m-9-8h0m-7-5h0m-10 0h0m-8 1h0m-2 3h0m-11-1h0m-2 11h0m-10-5h0m0-9h0m-6 6h0m-1 1h0m-5 2h0m-4 4h0m-3-13h0m-12 8h0m-2-1h0m0 1h0m-12 3h0m-14 4h0m-18-15h0m-8 10h0m-12-4h0m-9-1h0m-20-1h0m-4 3h0m-7 7h0m-6-6h0m-6-8h0m-4 6h0m-1 3h0m0 3h0m-7 17h0m16-12h0m1 0h0m0 0h0m9 10h0m13-3h0m5-1h0m7-5h0m16 1h0m96 8h0m26 4h0m6-2h0m19-7h0m5 2h0m9 7h0m4-4h0m1-8h0m0 0h0m0 6h0m1-7h0m3 5h0m1-6h0m5 12h0m1-1h0m2-2h0m7 5h0m3-11h0m2-3h0m2 2h0m4 9h0m5-11h0m0 1h0m4-2h0m1 7h0m4 6h0m7-4h0m1 5h0m6-14h0m9 1h0m0 12h0m0-8h0m1-5h0m2 10h0m14-10h0m3 6h0m6-3h0m2 11h0m4-12h0m0 5h0m2-2h0m4 7h0m2-6h0m1-1h0m11 1h0m2-1h0m1 2h0m0 8h0m1-13h0m9 0h0m5 6h0m4 1h0m8 2h0m1-9h0m2 7h0m2-2h0m4 6h0m1-4h0m1 3h0m0 4h0m-7 9h0m-1 6h0m0-4h0m-9 2h0m-3-12h0m0 13h0m-4-12h0m-6 8h0m-2 4h0m0-4h0m-1-5h0m-2 1h0m-1 1h0m-1 1h0m-5-7h0m-2 5h0m-4 9h0m-1-9h0m-2 3h0m-1-9h0m-1 10h0m0-9h0m-9 3h0m-1 8h0m-2 2h0m-3-7h0m-1 5h0m-1-12h0m-2 13h0m-1-4h0m-5-5h0m-5 6h0m-1-9h0m-1 5h0m-4 2h0m-12-6h0m-2 13h0m-2-9h0m-7 0h0m-4 3h0m-1-8h0m-1 5h0m-5-3h0m-3 12h0m-2 0h0m-11-14h0m-1 5h0m-4-6h0m-3 12h0m-10-11h0m0 12h0m-25-3h0m-50-1h0m-20-9h0m-35 10h0m-17-5h0m-8 7h0m-2-8h0m0 0h0m-8 7h0m-4 4h0m-10-4h0m-30-8h0m-9-2h0m-7 2h0m-2-2h0m-7-1h0m0 23h0m11 4h0m46-10h0m1 1h0m4-1h0m8 11h0m2-7h0m5 10h0m14-5h0m61-5h0m18 1h0m10-6h0m49 9h0m2 0h0m3 0h0m0-2h0m1 3h0m1 1h0m1-2h0m4 6h0m3-2h0m2 2h0m1-2h0m11-10h0m9 4h0m1 5h0m6-10h0m5 12h0m4-10h0m7 5h0m2 0h0m2-4h0m3 5h0m0-1h0m2 2h0m1 0h0m0-6h0m0 3h0m1 6h0m0-13h0m6 4h0m8 1h0m9 3h0m3 4h0m0-12h0m4 13h0m2-3h0m0-7h0m3 11h0m6-12h0m1 2h0m1 3h0m2 2h0m7 2h0m1-7h0m9 0h0m2 1h0m1 6h0m0 0h0m2-1h0m2-7h0m0 9h0m1-13h0m5 12h0m1 2h0m2-7h0m6-5h0m-9 24h0m-1-10h0m-1 3h0m-9 8h0m-2-10h0m-1 12h0m-3 0h0m0 0h0m-6 1h0m-9-5h0m-2-8h0m-2 1h0m-2 7h0m-3-8h0m-2 11h0m-8-12h0m-9 9h0m-3 5h0m-3-3h0m-1-9h0m-3 8h0m-3-6h0m-1-2h0m-1 0h0m-2 8h0m0 3h0m-3 0h0m-2-3h0m-3 1h0m-2-9h0m-2 10h0m-7 1h0m-5-2h0m-7-2h0m-1-7h0m-2-1h0m-1 2h0m-3 8h0m-10 3h0m-2-3h0m-3-7h0m-1-4h0m-12 15h0m-20-2h0m-100-6h0m-26 2h0m-11-4h0m-4 9h0m-24-7h0m-24 1h0m0 0h0m-6 3h0m-4 7h0m9 3h0m168 7h0m23 0h0m12-9h0m3 2h0m11-1h0m2-3h0m7 4h0m2-5h0m3 5h0m0 3h0m13 6h0m4 1h0m3-6h0m8 2h0m4 0h0m6 3h0m2-13h0m1 13h0m0-9h0m0-1h0m6 9h0m6-8h0m4 6h0m2-11h0m0 7h0m4 5h0m0 3h0m0-8h0m7 2h0m1-1h0m1 1h0m0-2h0m4-5h0m1 10h0m1-7h0m3 7h0m11-3h0m6-6h0m11 5h0m0 3h0m0 2h0m5 1h0m1-11h0m2 1h0m0 7h0m3-3h0m-18 9h0m-6 7h0m-2-6h0m-1 5h0m0 6h0m-1-2h0m0-5h0m-4-5h0m-2 12h0m-2-13h0m-1 4h0m-1 3h0m-7 2h0m-3-5h0m-2 0h0m-4 2h0m-3 9h0m-1-1h0m-2-2h0m-2-7h0m0 10h0m-4-4h0m-5 1h0m-12-10h0m0 5h0m-3 8h0m-1-13h0m-2 0h0m-3 10h0m-1-2h0m-1-8h0m-1 6h0m-4 3h0m-4-9h0m0-1h0m-3 4h0m0 10h0m-4-8h0m-1 1h0m-3 6h0m-4-5h0m0-5h0m-1 7h0m-4 4h0m-15-1h0m-1-10h0m-1 11h0m-1-4h0m-3-8h0m-2-2h0m-1 0h0m-2 8h0m-17-9h0m-35 14h0m-32-11h0m-34 3h0m-7 3h0m-8-3h0m-27 0h0m-5 3h0m-8 4h0m-28-4h0m-7 3h0m6 18h0m11-4h0m14-8h0m46 4h0m46 2h0m18 2h0m2-6h0m22 11h0m3-2h0m7 1h0m22-1h0m7-9h0m8 9h0m2-5h0m2 5h0m7 1h0m2-14h0m2 1h0m9 8h0m4-4h0m8-2h0m2 1h0m4-1h0m9 3h0m18 1h0m1-1h0m11-2h0m1 6h0m13-3h0m7 4h0m7-2h0m1-9h0m0 4h0m1 8h0m2 0h0m1-5h0m3-4h0m1 5h0m1-7h0m2 15h0m-3 2h0m-4 6h0m-1-2h0m-2-1h0m-4 1h0m-4-2h0m-1 6h0m-1-10h0m-2 15h0m0-1h0m-7-11h0m-1 6h0m-5 5h0m-2-5h0m-2 2h0m-8-2h0m-1-9h0m-1 0h0m-1 9h0m-1-6h0m-6 9h0m-2-7h0m0-5h0m-1 3h0m-2 5h0m-1 0h0m-3-5h0m-1 10h0m-1 2h0m0-11h0m-3 11h0m-1-14h0m-3 11h0m0-3h0m-3-4h0m-2-4h0m-5 5h0m-6 2h0m0-4h0m-3 7h0m-1-8h0m-3 9h0m-3-11h0m-2 0h0m-6 7h0m-2 6h0m-2-3h0m-6-2h0m-4 1h0m-185-5h0m-14-5h0m-2 3h0m33 14h0m36 12h0m28-12h0m19 14h0m25-2h0m59 2h0m4-10h0m0 10h0m5-5h0m1 4h0m7-12h0m2 6h0m1-6h0m3 12h0m4-2h0m1-2h0m10 5h0m6-12h0m1-2h0m1 13h0m1-4h0m2 3h0m1-7h0m5 2h0m4 4h0m1-6h0m2-6h0m1 12h0m5 2h0m0-14h0m1 7h0m0-2h0m2-4h0m6 9h0m13-3h0m1 0h0m3 3h0m1-5h0m0 3h0m1-1h0m1 0h0m5-7h0m2 2h0m1 1h0m-15 17h0m-2 5h0m-1-4h0m-1 1h0m-2-4h0m-1 10h0m-1-1h0m-1 4h0m0-11h0m-5 7h0m-10-8h0m-1-1h0m0 7h0m-3 4h0m-1 0h0m-2-3h0m-1 1h0m-1 0h0m0-1h0m-10-8h0m-1 2h0m-2 5h0m-7-1h0m-4-2h0m-1 2h0m-1-3h0m0 7h0m-2-8h0m-8 11h0m-10-13h0m-2 7h0m-3 4h0m0-5h0m-5 0h0m-54 7h0m-6-10h0m-37-3h0m-11-2h0m-7 5h0m-6-1h0m31 15h0m13 5h0m2 0h0m76 6h0m2-5h0m1-7h0m3 13h0m6-3h0m1-10h0m1 12h0m0-9h0m2 9h0m2-13h0m1 6h0m2-1h0m0 5h0m1-6h0m2 9h0m15-10h0m0 3h0m6-2h0m2-2h0m2 7h0m30 0h0m-11 9h0m-3-1h0m-9 3h0m-6-4h0m-8 0h0m-1 8h0m-4-3h0m-5 2h0m-2 3h0m0 4h0m-2-9h0m-3-2h0m-8 11h0m-3-9h0m-8 1h0m-35-4h0m-11 7h0m-7-4h0m11 24h0m36 1h0m7-11h0m1 4h0m0-6h0m0 5h0m2-7h0m2 15h0m10 0h0m1 0h0m3-4h0m1-10h0m7 7h0m3 6h0m0-3h0m3-10h0m3 7h0m0 2h0m1-8h0m4 4h0m5-6h0m0 7h0m5 1h0m4-8h0m-8 16h0m-6 5h0m-5-5h0m-4 1h0m-1 3h0m-1 3h0m-3 1h0m-9 7h0m-4-10h0m-1 9h0m-9 1h0m-7-2h0m-1-4h0m-10-4h0m-6 3h0m10 8h0m13 9h0m7-1h0m10 2h0m0 3h0m0-1h0m1-8h0m2-1h0m6-2h0m1-1h0m0 5h0m-9 13h0"/><path stroke="#8b6512" stroke-width="4" d="M320 61h0m13 5h0m43 7h0m13-3h0m8-5h0m15 12h0m0-4h0m7 5h0m73 14h0m-3-3h0m-10 6h0m-7-4h0m-14 1h0m-1-12h0m-7 15h0m-11-7h0m-4-5h0m-14 10h0m-34-9h0m-82-1h0m-28 11h0m-61 13h0m36 3h0m21-3h0m35 3h0m2-4h0m81-4h0m15-1h0m157 14h0m-2 12h0m-5-7h0m-74 7h0m-7-4h0m-22-9h0m-7 9h0m-9-5h0m-5 6h0m-2-6h0m-7 2h0m-39 1h0m-8-4h0m-7 3h0m-51 0h0m-21-6h0m-24 2h0m-124 24h0m27 2h0m120-1h0m51 2h0m11-15h0m25 5h0m28-5h0m14 9h0m1 1h0m3-5h0m22 0h0m10-3h0m11-1h0m36 7h0m9 3h0m34 3h0m5-1h0m5 2h0m6 10h0m-9 2h0m-19-8h0m-8 7h0m-9-1h0m-14-4h0m-17-5h0m-13 5h0m-3 8h0m-23-4h0m-19 6h0m-13-7h0m-4-8h0m-4 6h0m-82 3h0m-50-7h0m-62 10h0m-27 3h0m-28-13h0m24 14h0m61 0h0m175 13h0m26-2h0m29 2h0m7-1h0m4-2h0m9-1h0m20-9h0m1 14h0m6-7h0m8-7h0m1 25h0m-8 3h0m-5 0h0m-11-10h0m-37 7h0m-20-8h0m-6 3h0m-17-2h0m-2 12h0m-22-4h0m-187 5h0m-54-3h0m-23-11h0m1 22h0m37-3h0m151 9h0m54-10h0m31 10h0m34-1h0m49-1h0m59-3h0m-6 15h0m-25-2h0m-20 0h0m-18 9h0m-1-7h0m-30 3h0m-89 5h0m-46-9h0m-4-6h0m-7 11h0m-4 3h0m-83 1h0m-34-12h0m-28 15h0m28 1h0m39 2h0m41 8h0m112 2h0m10-4h0m6-8h0m129 6h0m26 2h0m-3 20h0m-5-10h0m-13 6h0m-4-6h0m-59-5h0m-12 15h0m-51-6h0m-16-8h0m-33 4h0m-68 9h0m-12-9h0m-41-2h0m-40 9h0m-9-4h0m-5 6h0m95 12h0m21-1h0m109 4h0m26-8h0m21 9h0m0-10h0m55 6h0m11 0h0m0 4h0m3-6h0m12-4h0m5-3h0m11-1h0m-9 20h0m-7 6h0m-11 4h0m-2-10h0m-25 7h0m-6-10h0m-19 9h0m-86-5h0m-42 1h0m-27 1h0m-20 8h0m-68-8h0m-35 0h0m-1-2h0m-39 6h0m16 17h0m13-2h0m52-8h0m9 5h0m40-4h0m3 1h0m71 7h0m30 3h0m18 1h0m1-5h0m15-2h0m0 4h0m16-11h0m80 13h0m7 1h0m15 0h0m-10 10h0m-26-8h0m-16 1h0m-10 4h0m-18 9h0m-10-14h0m-1 12h0m-23 0h0m-16-7h0m-73 4h0m-4-10h0m-12 5h0m0 7h0m-4-2h0m-10-2h0m-111 3h0m-2 3h0m-5-10h0m1 21h0m43-5h0m32 10h0m101-4h0m9-10h0m13 4h0m7 7h0m32-1h0m38-9h0m5 5h0m19 2h0m8 7h0m27-12h0m1 11h0m5-1h0m-3 13h0m-14-4h0m-78 6h0m-41-7h0m-112 8h0m-26-10h0m-9 1h0m-45 8h0m12 16h0m18-10h0m11-1h0m25 4h0m162 9h0m85-6h0m2 6h0m-28 7h0m-43 1h0m-42-2h0m-64 10h0m-68-9h0m-34 6h0m-10-11h0m-63 9h0m51 15h0m6 7h0m41-14h0m145 14h0m14-14h0m10 10h0m10-1h0m20-7h0m5 8h0m16-5h0m3 4h0m14-2h0m-21 20h0m-12-3h0m-17-4h0m-2-4h0m-10 14h0m-4-8h0m-29 7h0m-37-2h0m-40-5h0m-4-1h0m-25-1h0m-19 18h0m105 5h0m15-1h0m22-10h0m2 10h0m31-6h0m18 7h0m-23 10h0m-16-3h0m-23 0h0m-8 2h0m-84 5h0m-36 1h0m10 15h0m20-1h0m14-3h0m99 1h0m16-6h0m-23 19h0m-5 8h0m-3 3h0m-22-4h0m-61-3h0m62 19h0m16-8h0m13 2h0m8 8h0m11-3h0m-23 9h0m-30 10h0m-12 0h0"/><path stroke="#dedede" stroke-width="4" d="M320 79h0m-62 19h0m193 14h0m-64 15h0m-97-8h0m263 18h0m-46 12h0m-60 10h0m-254-6h0m369 37h0m-277-8h0m25 17h0m26 8h0m183-14h0m31 6h0m-123 16h0m-3 3h0m-81-5h0m-43-3h0m-90 25h0m338 0h0m-81 13h0m-182-4h0m-3-3h0m-107 17h0m80 1h0m14 9h0m58 0h0m21-7h0m65 0h0m4 9h0m1 0h0m116-5h0m6 21h0m-179 17h0m31 0h0m101-4h0m44 3h0m-175 16h0m-61 0h0m-68 2h0m254 1h0m-12 20h0m-122 3h0m-48 1h0m-79-3h0m-33 1h0m-8 22h0m1-13h0m251 22h0m-110 5h0m-124-4h0m7 16h0m195 5h0m83 12h0m-208 0h0m-29-3h0m-33 12h0m18 4h0m147 10h0m26-14h0m5 27h0m-68-12h0m41 27h0m28-5h0m36-3h0m-41 34h0m29-4h0m-31 27h0"/><path stroke="#22b34c" stroke-width="4" d="M325 69h0m13-2h0m10 10h0m107 12h0m-92-9h0m-49 3h0m-97 14h0m54 4h0m29 6h0m58 2h0m182-2h0m14-9h0m23 24h0m-156-8h0m-94 8h0m-8-8h0m-1 5h0m-2-4h0m-68 4h0m-8-1h0m-18 3h0m-41-4h0m-5 25h0m106-13h0m25 12h0m1-11h0m47 8h0m5 2h0m4-11h0m50 14h0m2-3h0m6 1h0m114-8h0m7 4h0m20 2h0m-14 5h0m-7 13h0m-38-5h0m-25 7h0m-75-9h0m-99 8h0m-28-4h0m-49-9h0m-38 11h0m-27-4h0m17 8h0m8 3h0m26-2h0m39 13h0m47 1h0m35-3h0m32-7h0m86 6h0m91-2h0m-11 9h0m-137-2h0m-33 2h0m-12 7h0m-3-4h0m-38-3h0m-14 9h0m-11 2h0m-32-11h0m-4-1h0m-63 3h0m-19 17h0m3-4h0m120 2h0m33-1h0m49 1h0m36 1h0m6 6h0m40-6h0m40 3h0m27-1h0m-21 19h0m-5-5h0m-1-4h0m-157 4h0m-5 5h0m-102 3h0m-1-6h0m-15 5h0m-17-3h0m-3-1h0m-18 6h0m-13 11h0m35-6h0m12 12h0m38-2h0m3-1h0m26-6h0m48-4h0m5 10h0m10 4h0m21-10h0m182 18h0m-25-4h0m-67 0h0m-3 0h0m-76-2h0m-57 2h0m-29-3h0m-5 0h0m-1 5h0m-17 2h0m-4 4h0m-15 4h0m-23-15h0m-52 9h0m-14 9h0m52 10h0m3-10h0m11 4h0m72-5h0m91 5h0m21 6h0m3-3h0m3 1h0m9-3h0m30 2h0m67 16h0m-1 5h0m-24-10h0m-10-4h0m-16 5h0m-3-5h0m-11 5h0m-15 6h0m-31-2h0m-38-1h0m-10-2h0m-14 3h0m-19 5h0m-52-2h0m-75-4h0m-6 22h0m11-4h0m15 3h0m26-7h0m48 7h0m4-8h0m12 1h0m32 9h0m11 0h0m7-6h0m74-7h0m10 0h0m29 1h0m29 1h0m5 7h0m5-5h0m28 9h0m-14 5h0m-7-3h0m-2 7h0m-23 2h0m-14-8h0m-39-2h0m-41 6h0m-26-4h0m-1 7h0m-11-7h0m-19 9h0m-83-1h0m-3-3h0m-10-4h0m-1-1h0m-41 6h0m-4 2h0m-1 3h0m-8-2h0m-5 4h0m-10 13h0m20-11h0m121 11h0m2-8h0m20 6h0m29 2h0m14-5h0m0-6h0m3 8h0m9 2h0m17-7h0m16-2h0m106 14h0m-5 11h0m-48 2h0m-33-2h0m-26-2h0m-54-9h0m0 2h0m0 7h0m-10-9h0m-8 0h0m-8 9h0m-37 4h0m-32-5h0m-30 2h0m-23-8h0m-4 9h0m-24 3h0m-11 16h0m3-7h0m9-7h0m6 5h0m16 0h0m16 10h0m0-4h0m1-10h0m9-1h0m42 14h0m29-3h0m40-4h0m20 2h0m1-7h0m14 1h0m2 12h0m14-9h0m12 6h0m47-2h0m30-8h0m3 5h0m3 3h0m21 3h0m-11 13h0m-7 5h0m-39-4h0m-14 0h0m-10 4h0m-60-5h0m-3-9h0m-18 10h0m-20-4h0m-19 3h0m-15-10h0m-2 9h0m-11-2h0m-3-4h0m-3 10h0m-9 0h0m-11 1h0m-4-11h0m-18 7h0m-5-2h0m-9-1h0m-59-1h0m36 11h0m3 8h0m19 0h0m1-5h0m4 4h0m11-2h0m6-1h0m1 7h0m22-4h0m12 2h0m1-8h0m4 8h0m2-7h0m21 7h0m11-10h0m2 14h0m38-12h0m11-1h0m112 14h0m10-6h0m-5 20h0m-32-12h0m-12 14h0m-3-14h0m-60 5h0m-43 4h0m0 3h0m-15-10h0m-14 10h0m-6-2h0m-10-4h0m-22 8h0m-36-15h0m-10 5h0m-10 19h0m8 1h0m13-9h0m12 5h0m3-4h0m2 3h0m1 5h0m3-3h0m1-3h0m18 11h0m11-8h0m25 8h0m14 0h0m12-7h0m6-3h0m9 4h0m7-3h0m32-3h0m35 3h0m25 1h0m10 11h0m-1 11h0m-34-1h0m-4-2h0m-27 1h0m-6 2h0m-10-4h0m-28 2h0m-10 0h0m-10 4h0m-6-14h0m-2 6h0m-19 7h0m-46 5h0m17 7h0m13 4h0m5-5h0m18-8h0m11 14h0m15-2h0m2-12h0m4 1h0m13 0h0m0 5h0m6 2h0m45 6h0m39 12h0m-1 3h0m-14-5h0m-34-6h0m-15-1h0m-8 7h0m-11-7h0m-16 8h0m-11-6h0m-5 20h0m1 0h0m17-3h0m53 6h0m23 2h0m8-6h0m-13 17h0m-11 7h0m-21-14h0m-13 6h0m-20-4h0"/><path stroke="#3a8af8" stroke-width="4" d="M326 63h0m-2 11h0m1-1h0m10 5h0m6-6h0m1 3h0m6 2h0m9-5h0m17 3h0m4-3h0m0 1h0m151 19h0m0 0h0m-7 1h0m-8-3h0m-59-6h0m-3 3h0m-5-7h0m-4 15h0m-3-9h0m-10 3h0m-4 3h0m-9-8h0m-1 3h0m-4 7h0m-2-14h0m-6 15h0m0-5h0m-13 0h0m-5 3h0m0-4h0m-7-1h0m-5-1h0m-15 0h0m-3-2h0m-4-2h0m-13-1h0m-8 9h0m-4-2h0m-1-8h0m-2 11h0m-17-3h0m-17-8h0m-2 8h0m-17-6h0m-3 0h0m-17 12h0m-1-7h0m-11 1h0m-26 15h0m10-2h0m26 0h0m40 9h0m3-1h0m4 0h0m11-14h0m2 8h0m4 6h0m81-2h0m25 1h0m31-4h0m4-7h0m53 0h0m5 13h0m26-14h0m8 9h0m1-3h0m2-3h0m1 9h0m9-6h0m7-6h0m7 6h0m-19 20h0m0-7h0m-9 8h0m-9-6h0m-12 4h0m-25-4h0m-2-3h0m-1 9h0m-5 3h0m-6-13h0m-31 13h0m-23-13h0m-15 12h0m-37-4h0m-30-2h0m-25-7h0m-2 10h0m-23-5h0m-44 5h0m-13-10h0m-3 10h0m-53-11h0m-33 15h0m-4 9h0m101 4h0m38-9h0m21 0h0m20 8h0m6 2h0m19-2h0m25 1h0m2 1h0m10-4h0m8-1h0m1 1h0m1-7h0m8 12h0m21-2h0m13-2h0m4 5h0m3-9h0m4 4h0m4-9h0m1-1h0m1 7h0m7 7h0m1-7h0m24 1h0m4 0h0m19-5h0m3 7h0m19-9h0m5 7h0m15 7h0m0-3h0m6-2h0m1-1h0m4 5h0m4-11h0m-1 13h0m-6 6h0m-13 1h0m-2-1h0m-3-6h0m-12 4h0m0-2h0m-9 6h0m-6 6h0m-22-14h0m-30 12h0m-6-8h0m-4-4h0m-3 9h0m0 2h0m-1 3h0m-21-8h0m-21 5h0m-2-6h0m-1 5h0m-11-8h0m-10 1h0m-21-2h0m-21 13h0m-5-13h0m-24 3h0m-10 0h0m-20 6h0m-3-6h0m-12 9h0m-91-3h0m-45 5h0m-6-8h0m15 23h0m8-8h0m11-4h0m0 9h0m15-2h0m8 4h0m14-8h0m7-5h0m18 1h0m27 11h0m14 1h0m127-10h0m12 5h0m5 3h0m2-1h0m6-4h0m4-2h0m6 7h0m4-5h0m3-6h0m1 12h0m1 2h0m3-3h0m14-3h0m7 2h0m1 3h0m13-8h0m2 0h0m3 1h0m5 8h0m17-11h0m8-1h0m2 3h0m10 5h0m5-5h0m22-1h0m3 4h0m1 2h0m3 4h0m0-4h0m2-1h0m3-1h0m3 1h0m-1 10h0m-8 2h0m-12 1h0m-2 7h0m-3-6h0m-14 3h0m-3-2h0m-1-6h0m-11 3h0m-9 7h0m-11-1h0m-5-11h0m-3 5h0m-5-2h0m-7 10h0m-32-3h0m-3-9h0m-17 6h0m-5-6h0m-32 7h0m-66 2h0m-45-9h0m0 10h0m-44-4h0m-18 2h0m-1-4h0m-28-4h0m-16 6h0m-5-2h0m-27 24h0m26-6h0m65-3h0m44 7h0m35 4h0m44-2h0m9 0h0m68-1h0m18 1h0m21-13h0m11 3h0m1 12h0m3-13h0m16 10h0m3 1h0m14-3h0m34-8h0m7 7h0m11-2h0m-2 10h0m-11 2h0m-1 5h0m-12-5h0m-5 6h0m0-3h0m-13 9h0m-8-15h0m-13 10h0m-5-7h0m-2 12h0m-1-15h0m-6 0h0m-11 3h0m-5-1h0m-20 12h0m-57-8h0m-5 5h0m-71 4h0m-16-15h0m-5 0h0m-40 11h0m-31 0h0m-42 1h0m-1 2h0m-34 2h0m19 8h0m9 0h0m15-5h0m48 9h0m2 2h0m52 0h0m19-14h0m36 14h0m6-4h0m28 1h0m10 3h0m6-5h0m4-8h0m8 2h0m22 1h0m15-3h0m19 8h0m2 1h0m32 0h0m10-7h0m6 4h0m1 4h0m11-11h0m1 0h0m5 3h0m5-1h0m11 0h0m1 8h0m2 1h0m2 2h0m-2 4h0m-66 10h0m-52 4h0m-6-5h0m0 4h0m-3-2h0m-2-2h0m-1-3h0m-3-4h0m-1 8h0m0-5h0m-10 7h0m-58-11h0m-18 8h0m-41 0h0m-23-3h0m-12 2h0m-47-9h0m-9 1h0m-7 10h0m-8-4h0m22 22h0m7-2h0m10-10h0m14 10h0m23-10h0m43 0h0m14 11h0m1 3h0m0-3h0m4-11h0m12-1h0m14 14h0m37-7h0m28-5h0m5 8h0m4 0h0m7 2h0m13-1h0m0 0h0m1-9h0m6 13h0m10-13h0m4 10h0m10-10h0m24 10h0m7 1h0m23-12h0m4 10h0m-4 13h0m-21 1h0m-21-7h0m-26 4h0m-16 9h0m-11-3h0m-22 3h0m-17-2h0m-28-5h0m-1-2h0m-19 2h0m-28-6h0m-19 5h0m-12-7h0m-13 3h0m-22-1h0m-36 0h0m-54-1h0m-4 1h0m11 26h0m3-10h0m5 7h0m22 4h0m0-1h0m48-2h0m3-2h0m0-5h0m35 2h0m7 8h0m20-1h0m20-10h0m7 13h0m5-8h0m58 8h0m11-3h0m11-9h0m4 8h0m27 1h0m20-10h0m11 3h0m11 3h0m9-3h0m6-3h0m11 1h0m8 2h0m3 10h0m4-9h0m-10 24h0m-5-3h0m-6 1h0m-6-10h0m-7 10h0m-24 2h0m-57-9h0m-34 9h0m-20-4h0m-7-5h0m-31-4h0m-15 9h0m-24 0h0m-12-5h0m-4 7h0m-20 1h0m-5-3h0m-17 1h0m-3-10h0m-39 14h0m-20-14h0m24 29h0m13-7h0m0 2h0m18-9h0m8 4h0m1 9h0m5-4h0m19-4h0m9 5h0m37-9h0m5 12h0m7-9h0m7 3h0m14 2h0m5-8h0m22 2h0m26-1h0m23 0h0m0-2h0m0 1h0m9 14h0m41-4h0m21 1h0m5-10h0m20 0h0m10 23h0m-11-5h0m-7 9h0m-6 0h0m-12 2h0m-2-11h0m-25 11h0m0-11h0m-20 8h0m-13-9h0m-2 1h0m-20 2h0m-1 1h0m-13-2h0m-1 9h0m-23-2h0m-6-5h0m-10 3h0m-19-6h0m-10 4h0m-8-8h0m-2 3h0m-26-3h0m-15 12h0m-2-7h0m-3 3h0m-2-5h0m-10 5h0m0 0h0m-1-5h0m-26 8h0m-6-2h0m-9 4h0m0-10h0m-8-2h0m-16 6h0m-15 4h0m-2 8h0m18 9h0m6-9h0m25-3h0m2 11h0m9-10h0m4 0h0m15 5h0m0 8h0m3-11h0m14 6h0m30 5h0m18-4h0m69-1h0m4-1h0m37 7h0m3-6h0m30-4h0m25-1h0m27-2h0m1 10h0m1-7h0m10 10h0m2-4h0m1-3h0m-15 11h0m-6 12h0m-9-11h0m-37 1h0m-16 2h0m-19-3h0m-3 2h0m-58 4h0m-7 4h0m-3-5h0m-23 3h0m-5-7h0m-27-1h0m-5 4h0m-3-7h0m-112 30h0m8-6h0m4-3h0m13 7h0m31 2h0m13-13h0m52 8h0m1-1h0m17-7h0m5 6h0m2-4h0m15 0h0m13 5h0m47 0h0m15 6h0m2 0h0m0-8h0m11-6h0m18 14h0m17-2h0m18-12h0m8 0h0m6 0h0m5 12h0m1-8h0m5 10h0m0-12h0m2 5h0m4-1h0m1-6h0m-11 16h0m-8 2h0m-12 5h0m-4 3h0m-12-9h0m-4 13h0m-7-11h0m-52 0h0m-7-3h0m-26 0h0m-30 2h0m-9-2h0m-1 4h0m-24 8h0m-59 1h0m-13-14h0m-21 15h0m0-3h0m-16-10h0m25 19h0m17 8h0m5-13h0m24 15h0m22-1h0m31-8h0m22 4h0m1-5h0m9 1h0m12-1h0m37 4h0m11-4h0m11-2h0m6 9h0m12-5h0m15-4h0m6 9h0m5-7h0m19 4h0m-29 10h0m-24 9h0m-7-12h0m-4 5h0m-22 8h0m-13-6h0m-10-7h0m-30 15h0m-3-9h0m-39-2h0m-9-3h0m-13 12h0m-30-10h0m26 18h0m1 0h0m3-2h0m14 7h0m11-5h0m10 1h0m11 8h0m10-12h0m7-1h0m5-1h0m10 12h0m28-5h0m28-7h0m4 15h0m30 0h0m-3 11h0m-5 3h0m-7-12h0m-31 11h0m-13-8h0m-11 1h0m-19 8h0m-27-4h0m-6-8h0m0 6h0m-17 3h0m51 18h0m20-5h0m21-2h0m3 5h0m19-7h0m15 3h0m4 3h0"/><path stroke="#22f23c" stroke-width="4" d="M318 75h0m18-6h0m1-3h0m2 10h0m3-11h0m23 12h0m37-11h0m109 24h0m-14-4h0m-91-1h0m-43-2h0m-1-1h0m-32 1h0m-5 0h0m-51 2h0m-7 2h0m-40 6h0m-36 11h0m73 1h0m17 4h0m14 1h0m12-9h0m44 5h0m5-8h0m28 4h0m16-4h0m27 2h0m43 8h0m8-11h0m53 9h0m16 2h0m-90 6h0m-42 4h0m-8-6h0m-75 5h0m-1 8h0m-1-11h0m-38 6h0m-21-8h0m-14 11h0m-27-11h0m-5 9h0m-10-4h0m-9 1h0m-43 5h0m-16 13h0m6 5h0m9 2h0m1-3h0m1-8h0m4 2h0m5 7h0m7-5h0m18 3h0m93-10h0m44 10h0m19-2h0m2-8h0m2-1h0m4 12h0m26-6h0m56 0h0m51-5h0m6 5h0m11 2h0m11 3h0m3 2h0m12-9h0m15 9h0m1-4h0m13 4h0m-9 4h0m-8-1h0m-24 6h0m-32 5h0m-8-5h0m-75-1h0m-9-5h0m-41 1h0m-38 14h0m-124-9h0m-9 3h0m-5-6h0m-12 0h0m-29 8h0m25 9h0m27 4h0m18 4h0m28-3h0m2 2h0m3 3h0m48-14h0m11 7h0m22-3h0m11 1h0m131-2h0m29 4h0m45 8h0m-6 13h0m-55-1h0m-44-4h0m-74-1h0m-6 7h0m-12-13h0m-5 4h0m-16 10h0m-56-5h0m-39 5h0m-23-13h0m-15 6h0m-42-6h0m0 5h0m-5 3h0m23 20h0m1-9h0m5-3h0m8 1h0m10 11h0m62-6h0m4-4h0m14 4h0m24-4h0m17 11h0m51-7h0m39-5h0m80 0h0m37 5h0m24-5h0m2 25h0m-3-1h0m-3 2h0m-2-7h0m-14 5h0m-11-3h0m-182 1h0m-6-2h0m-2 8h0m0-11h0m-9 7h0m-6-6h0m-38 0h0m-37 11h0m-7-5h0m-7-5h0m-10-3h0m-2 2h0m-6 6h0m-15-6h0m-4 9h0m-35 11h0m2 6h0m31 1h0m28-10h0m5 1h0m27-5h0m19 0h0m56 2h0m8 5h0m5 0h0m20-4h0m2-1h0m15 11h0m8-7h0m155 6h0m18 17h0m-8-14h0m-27 8h0m-70 4h0m-10-8h0m-41 10h0m-16-9h0m-14 0h0m-48 7h0m-16 0h0m-1-12h0m-4 10h0m-3-2h0m-4-8h0m-8 12h0m-8 1h0m-4-13h0m-5 4h0m-8 9h0m-66-11h0m-1-1h0m-5-1h0m-4 8h0m-2 22h0m20-14h0m1 9h0m1-3h0m7 4h0m4-2h0m18-2h0m1-5h0m49-1h0m22 9h0m10-4h0m7 7h0m13-7h0m3 8h0m12 0h0m14-2h0m7 3h0m18-4h0m0 4h0m1-8h0m14 0h0m0-2h0m85-3h0m22 13h0m6-12h0m21-1h0m6 11h0m9 3h0m-42 6h0m-1 3h0m-32 6h0m-3-12h0m-31 10h0m-1-12h0m-32 10h0m-1 4h0m-7-9h0m-12 7h0m-4-9h0m-1 5h0m-7 5h0m-3-4h0m-7-8h0m-31 2h0m-13 6h0m-13 3h0m-32-3h0m-48-8h0m-2 14h0m-48-10h0m-8 22h0m3-11h0m4 5h0m10 6h0m50-9h0m6 6h0m5 2h0m24-8h0m0 4h0m8 3h0m1-3h0m4 6h0m2-8h0m2-4h0m1 6h0m72-3h0m6 5h0m12-8h0m9 3h0m13-3h0m31 13h0m18-12h0m3 11h0m17 0h0m18-7h0m7 10h0m10-5h0m9-3h0m7-4h0m7 1h0m16 5h0m-12 13h0m-25-4h0m-22 7h0m-3 5h0m-56-12h0m-18 0h0m-18 5h0m-15-1h0m-8-1h0m-5 9h0m0-2h0m-16 0h0m-5-9h0m-9 6h0m-1 5h0m-13-6h0m-6-5h0m-2 4h0m-11-5h0m-2 5h0m-3-6h0m-1 4h0m-28 9h0m-14-12h0m-1 11h0m-18-2h0m-18-8h0m-7 10h0m-8-5h0m-3 4h0m-8-10h0m-3 9h0m-26-10h0m11 17h0m7-1h0m1 13h0m14-13h0m4 10h0m3-10h0m4 8h0m19 2h0m1 2h0m6-8h0m11 7h0m5-11h0m1 5h0m0 3h0m7-7h0m3 12h0m1-8h0m1 0h0m8-2h0m2 1h0m12 9h0m7 0h0m23-10h0m1 8h0m5 0h0m15-8h0m1 4h0m5-2h0m8 8h0m1-7h0m3 4h0m3-8h0m3 1h0m2 4h0m8 5h0m0-3h0m5 2h0m3-3h0m7 3h0m8-8h0m3 0h0m16 5h0m13 6h0m3-8h0m57 8h0m3-4h0m16-10h0m0 4h0m27 16h0m-15 9h0m-1-14h0m-29 2h0m-36-1h0m-49 2h0m-28 8h0m-2-1h0m-6-6h0m-7 8h0m-3-2h0m-1-10h0m-2 0h0m-2 3h0m-18-2h0m0 10h0m-1-1h0m-9 4h0m-4 1h0m0-7h0m-1 2h0m-4 1h0m-1-9h0m-1 3h0m-2 4h0m-3-4h0m-10 6h0m-4-3h0m-1 4h0m-7 0h0m-9-3h0m-7-6h0m-1 11h0m-1-8h0m-4-1h0m-7-3h0m-25 11h0m-12-10h0m-4 8h0m-6-5h0m-9 0h0m-4 8h0m-2-8h0m-2-6h0m-3 9h0m-3-6h0m14 13h0m13 0h0m5 4h0m2 6h0m4 2h0m1-1h0m5 0h0m1 0h0m1 4h0m4-1h0m0-8h0m2 6h0m4-3h0m4-2h0m3 5h0m2-4h0m1 1h0m1 6h0m3-1h0m1-3h0m1-4h0m16-2h0m10-3h0m1 1h0m0 10h0m4-1h0m0-8h0m7 5h0m9-2h0m4-6h0m1 7h0m1 1h0m1-1h0m5 0h0m4 2h0m1-8h0m6 10h0m6 3h0m1-10h0m1 9h0m5 0h0m6-1h0m10-1h0m11-6h0m0 0h0m0-6h0m3 4h0m1 11h0m6-12h0m4 10h0m2-11h0m1 1h0m63 6h0m18-3h0m4 5h0m15 4h0m2-3h0m3 0h0m11-8h0m25 3h0m8-7h0m-109 21h0m-35 1h0m-9 7h0m0-7h0m-1-2h0m-1-4h0m-4 0h0m-1 13h0m0-4h0m-8 0h0m0 3h0m0 1h0m-4-4h0m-2 5h0m-2-3h0m0-6h0m-5-5h0m-4 7h0m-1-2h0m0 2h0m-1 2h0m-2 1h0m-4-1h0m-6-4h0m-1-2h0m-4 10h0m-5 2h0m-5-1h0m-8-5h0m-8 5h0m-1-7h0m-1-5h0m-6 7h0m-7-8h0m0 3h0m-7 7h0m-3-10h0m-1 12h0m-5-1h0m-1-8h0m-1 0h0m-5 5h0m-1 4h0m-4 1h0m0-4h0m-9 3h0m-1-2h0m0-10h0m-7 5h0m-1 3h0m-2-2h0m-1-4h0m-8 3h0m-8-6h0m-7 9h0m-18 2h0m-4 0h0m-2-6h0m-12 0h0m10 18h0m2 3h0m4-5h0m1 5h0m9-2h0m1 0h0m3-3h0m1 5h0m4 4h0m3 1h0m12-1h0m4-8h0m1 7h0m6-10h0m4 10h0m2 2h0m2-14h0m3 9h0m0-10h0m2 5h0m1-5h0m2 6h0m1 5h0m0-5h0m8 5h0m0-3h0m1-2h0m1 8h0m2-6h0m2-4h0m2 11h0m2-2h0m10 0h0m4 0h0m0-13h0m4 5h0m0 1h0m5-4h0m3 12h0m3 0h0m0-14h0m2 6h0m2-4h0m3 13h0m6-3h0m11-10h0m1-2h0m17 1h0m3 11h0m5 3h0m2-6h0m3 1h0m1-1h0m2-2h0m6 5h0m3-10h0m5-2h0m2 2h0m4 12h0m33 0h0m12 0h0m7-9h0m9 3h0m11-8h0m50 5h0m5 5h0m-17 11h0m-103 7h0m-7-5h0m-7-6h0m-16 14h0m-16-9h0m-2-3h0m-1 3h0m-6 9h0m-4-7h0m-2 4h0m-1-2h0m-3-9h0m-1 13h0m-1-1h0m-2-13h0m-1 7h0m-1-3h0m-3 1h0m-1-4h0m-2 13h0m0-14h0m-2 2h0m-1 6h0m-8-6h0m-1 1h0m0 3h0m-3 0h0m0-2h0m-2 3h0m-1 8h0m-11-14h0m-18 1h0m-14 13h0m-2-10h0m-1 6h0m-3-10h0m-6 13h0m-2-7h0m-4 8h0m-1-15h0m-2 5h0m-3 1h0m-2 3h0m-5-7h0m-1 11h0m-3-13h0m-1 4h0m-4-2h0m-1 6h0m-1-1h0m-1-1h0m-2-1h0m-2 5h0m-2 1h0m-2-2h0m-1-2h0m0-2h0m-1-3h0m-1 6h0m-17-8h0m34 16h0m11 7h0m5-6h0m3 12h0m0-6h0m4-5h0m6 3h0m3 6h0m2-3h0m2 5h0m4-3h0m1-6h0m2 3h0m2-7h0m1 7h0m0-6h0m4 0h0m12 3h0m2-2h0m3 6h0m4 6h0m2-11h0m8 4h0m1-3h0m0-1h0m5 6h0m0-9h0m12 4h0m5 7h0m0-8h0m5 1h0m2 2h0m5-5h0m1 12h0m5-1h0m5-2h0m1 0h0m1 4h0m0-6h0m2 5h0m8-6h0m2 8h0m2-8h0m9 7h0m4-7h0m3 7h0m5-10h0m15 7h0m2-11h0m8 7h0m6-6h0m1 7h0m2 0h0m4-7h0m33-1h0m-66 29h0m0 2h0m-6-6h0m-2-9h0m-1 4h0m-2-4h0m-1 11h0m-1-1h0m-1-5h0m-13-2h0m-20 2h0m-6 6h0m-2 0h0m-11-11h0m-8 3h0m-2 7h0m-1 4h0m-6-6h0m0 6h0m-2 0h0m-1-10h0m-9-1h0m-9 2h0m-1 3h0m-4-4h0m-3 8h0m0-2h0m-1-7h0m-2 10h0m-1 2h0m0-11h0m-1-4h0m0 3h0m0 12h0m-1-1h0m-6-10h0m-2 6h0m-5-8h0m-2-2h0m32 17h0m5-1h0m2 12h0m1-9h0m3 8h0m4-1h0m3-2h0m1-7h0m1 1h0m0 4h0m6 4h0m4-8h0m9-2h0m3 5h0m0-4h0m5 14h0m8-1h0m0-2h0m1-8h0m3 8h0m0 2h0m13-8h0m13 1h0m9-6h0m2 1h0m2 8h0m10-10h0m19 13h0m15-1h0m10-9h0m20 9h0m14-7h0m-13 18h0m-10-3h0m-51 7h0m-5 4h0m-5-7h0m-8 2h0m-5 0h0m0 1h0m-3-2h0m-4-2h0m-7-2h0m-1 10h0m-1-13h0m-3 2h0m-1 11h0m-2-1h0m-7-1h0m-9-3h0m-13-10h0m18 23h0m13 3h0m6-10h0m2 11h0m0-1h0m4-6h0m1-2h0m8 7h0m11 1h0m2-2h0m22 3h0m4-8h0m6 10h0m6-2h0m11 5h0m-44 5h0m-3 6h0m-3-10h0m-13 9h0m50 8h0"/><path stroke="#a31ef0" stroke-width="4" d="M351 77h0m46-5h0m110 23h0m-25-8h0m-1 6h0m-5-6h0m-42-4h0m-20 10h0m-12-9h0m-3 1h0m-43 1h0m-34 22h0m78-4h0m4 6h0m19-10h0m26 11h0m3-8h0m18 0h0m8-5h0m14 6h0m3-5h0m18 9h0m19-12h0m5 9h0m8-1h0m30 4h0m-1 12h0m-4 7h0m-9-9h0m-29 1h0m-14 4h0m-47 4h0m-68-2h0m0-13h0m-11 0h0m-46 13h0m-103-6h0m-1 8h0m-81 16h0m22-9h0m81 9h0m89-12h0m29 2h0m18 0h0m0-3h0m7 13h0m0-2h0m22-1h0m1 0h0m4-5h0m63 8h0m1 0h0m6-8h0m9 0h0m33 5h0m13 19h0m-5-1h0m-31-6h0m-1-3h0m-18-4h0m-3 3h0m-19 8h0m-13-9h0m-19-2h0m-7 1h0m-5 0h0m-25 11h0m-198-3h0m-91 1h0m101 7h0m178 1h0m17 11h0m17-9h0m5 7h0m8-3h0m20 4h0m26 0h0m2-2h0m29-9h0m13 9h0m22-7h0m3 7h0m-38 10h0m-11-1h0m-27 3h0m-7 0h0m-26 0h0m-21-7h0m-1 10h0m0-10h0m-6 1h0m-18 9h0m-24 4h0m-1-9h0m-41 9h0m-67 0h0m-86-2h0m-43 19h0m36-12h0m12 10h0m69 0h0m28-12h0m67-1h0m109 5h0m40 4h0m9 6h0m2-14h0m39 12h0m-13 14h0m-49-4h0m-3-5h0m-9 9h0m-59 2h0m-19-10h0m-45 3h0m-15 4h0m-174-9h0m-3 9h0m40 15h0m54-7h0m97 4h0m85 0h0m56-4h0m3 12h0m14-2h0m8-2h0m-21 21h0m-20-1h0m-14-11h0m-2-1h0m-136 12h0m-30-7h0m-15-5h0m-5 1h0m-46 2h0m-25 4h0m-73 5h0m146 7h0m10 2h0m68 15h0m-40-1h0m-51 8h0m-70-12h0m-28 22h0m24-4h0m22 3h0m5 7h0m36-10h0m8 3h0m1 6h0m26 1h0m8-11h0m58-1h0m13 5h0m61 0h0m62 3h0m13-3h0m28 15h0m-5-2h0m-131 9h0m-20-12h0m-27 9h0m-10 2h0m-14-2h0m-20 2h0m-5-4h0m-15 7h0m-1-3h0m-4-5h0m-9 1h0m-22-7h0m-8 12h0m-28-12h0m-39 13h0m-12-7h0m-19-6h0m58 27h0m19-11h0m7 7h0m3-3h0m9 2h0m13-3h0m13 12h0m20-8h0m60 1h0m6-6h0m17 6h0m40 3h0m37 0h0m34-4h0m30 15h0m-19 4h0m-189-7h0m-87 9h0m-22-10h0m0 25h0m1-5h0m27 2h0m62-2h0m12-5h0m15 3h0m10 8h0m1-10h0m32 5h0m26-4h0m2 5h0m16 6h0m34-13h0m35 14h0m30-14h0m17 13h0m0-14h0m3 12h0m-41 9h0m-7 6h0m-62 1h0m-65-7h0m-24 6h0m-72-7h0m-4-4h0m-31 14h0m-19-12h0m6 22h0m22 3h0m42-7h0m18 3h0m3 5h0m60-3h0m21 1h0m40 18h0m-71-7h0m-6 0h0m-31 10h0m-78-14h0m-32 9h0m80 11h0m17 4h0m21 1h0m22-6h0m6-3h0m19 8h0m0-5h0m43 7h0m77-4h0m-34 12h0m-25 2h0m-38 3h0m-20-6h0m-47 6h0m-4-5h0m-5 10h0m-47 2h0m-10-8h0m159 20h0m40 17h0m-122-12h0m-13 10h0m37 11h0m16 8h0m12-5h0m59 0h0"/><path stroke="#dca4f2" stroke-width="4" d="M367 63h0m-12-3h0m-20-1h0m-3-1h0m-18 18h0m16 2h0m10-13h0m5 6h0m14 3h0m28-6h0m24 21h0m-27-9h0m-21 6h0m-100 2h0m-13 2h0m32 6h0m63 1h0m35 14h0m38-15h0m2 14h0m43-9h0m42 8h0m75-3h0m1-3h0m-6 21h0m-21-1h0m-22-1h0m-10 1h0m-7-6h0m-12-1h0m-42 3h0m-17 1h0m-56-7h0m-38 2h0m-8 6h0m-46-3h0m-30 7h0m-45-10h0m-4 11h0m-13-9h0m0 3h0m-15 2h0m-39 9h0m43 6h0m34 0h0m63 6h0m33-9h0m36-6h0m1 10h0m55-10h0m1 11h0m7-11h0m112 2h0m40 5h0m-31 17h0m-112-5h0m-144 9h0m-23-2h0m-68-7h0m-7 10h0m-11-7h0m-5 4h0m-21-6h0m30 14h0m4 4h0m74 9h0m64-2h0m118-8h0m31 8h0m13-1h0m19-7h0m19 10h0m38 9h0m-2-7h0m-6 0h0m-47 3h0m-50 10h0m-32-12h0m-16 3h0m-3 5h0m-26-8h0m-72 12h0m-20-14h0m-20 4h0m-3 6h0m-25 1h0m-16-10h0m-1 1h0m-9 5h0m-39 7h0m-10-13h0m-34 29h0m51-5h0m97-3h0m20 6h0m30-8h0m32 5h0m70-1h0m60-2h0m31 4h0m21-9h0m14 0h0m-44 20h0m-157-5h0m-6 13h0m-9 2h0m-16-9h0m-92-1h0m-27 5h0m-8-2h0m-5-3h0m14 17h0m102 7h0m14-3h0m9-2h0m20-2h0m25 7h0m162-9h0m-2 15h0m-10 6h0m-32-7h0m-78 1h0m-29 11h0m-20-6h0m-70 3h0m-14-6h0m-13 6h0m-3-11h0m-1 4h0m-35 4h0m-55 6h0m-11-14h0m-20 11h0m40 18h0m26-4h0m18 2h0m8-9h0m29 4h0m1 1h0m14-4h0m3-1h0m2 0h0m14 8h0m5 4h0m6-9h0m0 5h0m17 4h0m60 1h0m20-9h0m91 7h0m44 0h0m-15 8h0m-2 1h0m-17-4h0m-18 8h0m-22-9h0m-4 12h0m-84-2h0m-19-3h0m-74 4h0m-22-10h0m-18 0h0m-2 1h0m-6 11h0m-26-13h0m-29 0h0m18 28h0m2 1h0m26-10h0m10 0h0m4 0h0m24 0h0m13 1h0m3-2h0m2-3h0m9 11h0m19-3h0m52-1h0m23 0h0m55-2h0m31 7h0m1-11h0m5 10h0m3 2h0m6-6h0m49 8h0m-18 12h0m-20 0h0m-10-8h0m-19 12h0m-3-7h0m-16-7h0m-6 9h0m-4-10h0m-9 1h0m-13 5h0m-38-2h0m-6 9h0m-3-6h0m-13 4h0m-10-4h0m-23 3h0m-72 3h0m-13-2h0m-18-4h0m-48 7h0m-11-6h0m-6 17h0m16-9h0m1 13h0m19-12h0m36 0h0m8 0h0m5 7h0m56 3h0m21 4h0m16-3h0m41-5h0m25-3h0m17 6h0m32-1h0m5-5h0m6 3h0m4 8h0m16-6h0m44 14h0m-13 4h0m-28-11h0m-79 1h0m-9 13h0m-12-8h0m-38-6h0m-76 8h0m-6 1h0m-32-5h0m-33 1h0m-6 6h0m40 15h0m162 3h0m33-5h0m66 7h0m-29 6h0m-5-3h0m-10 8h0m-52-9h0m-20 1h0m-2-1h0m-29 11h0m-12-6h0m-138 3h0m-17-9h0m100 23h0m56-5h0m40 4h0m3 0h0m8 4h0m1-10h0m18 14h0m74 1h0m4-9h0m1 18h0m-25 2h0m-5-5h0m-12 4h0m-8-8h0m-20 8h0m-62-2h0m-61-5h0m-13 11h0m-37-13h0m-32 10h0m-21-2h0m26 13h0m48 3h0m40 5h0m1-8h0m41-4h0m22 8h0m109-7h0m-37 14h0m-11 3h0m-12 10h0m-97-1h0m-28-8h0m-6 6h0m-5-10h0m83 26h0m7-3h0m16 3h0m8-6h0m2-2h0m22 4h0m8 0h0m3-5h0m15 11h0m-59 9h0m-5-4h0m-26 9h0m-28 1h0m-7-9h0m18 21h0m36-1h0m14 7h0m26-5h0m23-8h0m-34 18h0m-3-2h0m-6 14h0m-9-4h0m-2-1h0m-22-5h0m37 23h0m4 1h0m7-8h0"/><path stroke="#fca41c" stroke-width="4" d="M333 59h0m-63 18h0m14 0h0m11-8h0m7 2h0m52-1h0m6 9h0m104 11h0m-16-8h0m-26 9h0m-31 0h0m-43-6h0m-79 24h0m51-7h0m102 3h0m8-7h0m101 24h0m-108-8h0m-7 1h0m-77 10h0m-8-13h0m-28 9h0m-5 4h0m-8 0h0m-51 0h0m-87 13h0m238-5h0m60 0h0m7 2h0m108 8h0m5-9h0m-72 16h0m-29 1h0m-180-1h0m-35 0h0m-60 23h0m162-7h0m167 0h0m18-3h0m6 24h0m-200-4h0m-128 4h0m-1-3h0m-56 13h0m101 9h0m18-2h0m6-7h0m16 8h0m29 2h0m21-6h0m62-8h0m108 3h0m18 22h0m-7-10h0m-77 13h0m-20-2h0m-10-3h0m-246-7h0m76 30h0m9-15h0m51 8h0m28 5h0m21 1h0m34-6h0m2 5h0m107 5h0m-108 12h0m-107 1h0m-142-5h0m-5-1h0m38 16h0m5-7h0m29 2h0m43 0h0m21 6h0m10-6h0m44 9h0m122-11h0m54 13h0m-9 11h0m-11-10h0m-12 7h0m-17 6h0m-3-4h0m-146 2h0m-40-11h0m-109 22h0m67 5h0m54-7h0m195 26h0m-50-11h0m-128 3h0m-7 8h0m-16 12h0m26-10h0m181 8h0m38 8h0m-46 15h0m-71-12h0m-1 7h0m-101-10h0m-115 3h0m300 14h0m14 27h0m-58 1h0m-78-8h0m-13 5h0m-26 2h0m-19-6h0m-94 6h0m-39 19h0m111-5h0m143 0h0m32-6h0m8 5h0m-51 8h0m-32 10h0m-39-3h0m-89 1h0m-7 22h0m94-12h0m115 3h0m-109 15h0m-2 3h0m-97-8h0m13 23h0m76-6h0m35 11h0m39-11h0m8 29h0m-88 10h0"/><path stroke="#1f7a52" stroke-width="4" d="M311 72h0m46 15h0m-37 8h0m-28-12h0m-18 13h0m150 0h0m50 27h0m-43-7h0m-94 9h0m228 21h0m-42 2h0m-14 3h0m-45-7h0m-78 6h0m-42 3h0m-11-7h0m-171 19h0m124 6h0m103-5h0m23 8h0m36-1h0m80-9h0m-184 26h0m-8-12h0m-155 15h0m127 13h0m25-10h0m156 5h0m-124 7h0m-35 8h0m-97 0h0m-47 10h0m67 12h0m75-2h0m196-11h0m11 6h0m11-1h0m-34 21h0m-131-9h0m-25 10h0m-94 13h0m197-8h0m38 13h0m-30 15h0m-176-1h0m-20 2h0m-4 0h0m-6-14h0m0 1h0m-1 8h0m-8 5h0m-1-4h0m-23 20h0m44-12h0m245 9h0m17 19h0m-15-4h0m-19-9h0m-212 9h0m-3-5h0m-3 1h0m-22 4h0m-66 8h0m76-2h0m179 14h0m-155 17h0m-3-3h0m-9 11h0m7-3h0m16-3h0m79 1h0m9 12h0m59-4h0m56 17h0m-215-10h0m-6 3h0m-53 16h0m43 6h0m27-9h0m144 20h0m-58 6h0m-42 4h0m-30-12h0m-36 8h0m-12-7h0m-35-2h0m41 14h0m41 1h0m26 9h0m106 14h0m-10-2h0m-31 0h0m-8 1h0m-99-5h0m-24 20h0m33 3h0m118 3h0m-103 13h0m23 19h0m31 2h0m33 24h0"/><path stroke="#7a30bf" stroke-width="4" d="M325 77h0m105 7h0m-29 1h0m-105 5h0m-17 5h0m-77 8h0m50 4h0m19-1h0m13 2h0m153-5h0m112 10h0m-11 4h0m-11 0h0m-106 5h0m-142 0h0m-120 13h0m93-4h0m21 6h0m73 6h0m138 0h0m15-5h0m-176 12h0m-53 3h0m-74-3h0m-26 16h0m30 8h0m181-6h0m44-2h0m29-5h0m2 9h0m50-9h0m6 1h0m17-1h0m-175 21h0m-77 3h0m233 22h0m44 13h0m-10 1h0m-19-2h0m-5-2h0m-347 19h0m367-11h0m12 1h0m-307 20h0m-38 6h0m-7-11h0m-41 15h0m254 13h0m127-5h0m-115 16h0m-6 5h0m0-2h0m-73-4h0m-70 7h0m-83-3h0m-20-4h0m5 14h0m65 8h0m87-3h0m6-10h0m40 13h0m136-13h0m-1 27h0m-92-10h0m-28 12h0m-30-7h0m-159 4h0m-6 4h0m-2 2h0m76 6h0m40 8h0m-55 16h0m-7 7h0m33-2h0m59 11h0m129-6h0m2-1h0m-31 10h0m-13 1h0m-12 0h0m-205 13h0m56 4h0m23 7h0m17-8h0m8-2h0m151 28h0m-96-5h0m-154 14h0m6-5h0m99 5h0m105 6h0m32-6h0m-16 25h0m-70-8h0m-83 0h0m71 11h0m46 0h0m27 7h0m-133 9h0m39 17h0m85 11h0m-30 9h0"/><path stroke="#f4a0a0" stroke-width="4" d="M384 72h0m-28 17h0m71 14h0m115-7h0m-238 28h0m16 16h0m-93 21h0m214 24h0m-7 0h0m-240 15h0m36-7h0m7 7h0m199-5h0m-249 17h0m352 40h0m-373 17h0m30-5h0m231-5h0m-103 37h0m-30 40h0m26 59h0m132 11h0m-76 12h0m-1 50h0m0 22h0m7-10h0"/><path stroke="#595959" stroke-width="4" d="M401 69h0m151 25h0m-244-1h0m-45-7h0m204 28h0m-31 9h0m-11 13h0m-117 20h0m209 23h0m-97 8h0m-8 0h0m-152-3h0m251 24h0m-7 13h0m-206-12h0m-13 0h0m27 62h0m194 11h0m-52 4h0m-278-5h0m-25 20h0m387-12h0m-42 20h0m-145-2h0m-140 17h0m125 17h0m1 13h0m166 5h0m-143 83h0m-61-8h0m87 37h0m16 17h0m20 11h0m-32 9h0"/><path stroke="#c8461e" stroke-width="4" d="M377 86h0m-52 21h0m81 20h0m-160 9h0m186 4h0m6 12h0m-269-3h0m114 21h0m225 14h0m-216 23h0m107-3h0m49 2h0m61-13h0m-80 16h0m-14 7h0m-37 2h0m7 11h0m93 40h0m-57 9h0m-82-6h0m-106 11h0m-26 18h0m274 17h0m-38 4h0m82 29h0m-324-5h0m171 15h0m47-6h0m97 16h0m-121 1h0m-173 15h0m128 2h0m26 5h0m107-1h0m-224 30h0m164 4h0m42-6h0"/></g><g><rect x="3" y="324" width="143.5" height="128.0" fill="url(#cT)" opacity="0.75"/><rect x="3" y="324" width="22" height="128.0" fill="url(#cT2)"/><rect x="124.5" y="324" width="22" height="128.0" fill="url(#cT2)"/><circle cx="36.5" cy="361.6" r="21.4" fill="url(#cT2)"/><rect x="3" y="324" width="143.5" height="128.0" fill="url(#cC)"/><rect x="11" y="324" width="127.5" height="14" fill="url(#cM)" opacity="0.35"/><rect x="13" y="326" width="123.5" height="12" fill="url(#cG)" opacity="0.3"/><ellipse cx="67.6" cy="416.2" rx="43.0" ry="28.2" fill="url(#cG)" opacity="0.5"/><ellipse cx="74.0" cy="403.4" rx="20.1" ry="38.4" fill="url(#cG)" opacity="0.6"/></g><g><rect x="187" y="323.5" width="143.5" height="128.5" fill="url(#cT)" opacity="0.75"/><rect x="187" y="323.5" width="22" height="128.5" fill="url(#cT2)"/><rect x="308.5" y="323.5" width="22" height="128.5" fill="url(#cT2)"/><circle cx="224" cy="361.5" r="21.4" fill="url(#cT2)"/><rect x="187" y="323.5" width="143.5" height="128.5" fill="url(#cC)"/><rect x="195" y="323.5" width="127.5" height="14" fill="url(#cM)" opacity="0.35"/><rect x="197" y="325.5" width="123.5" height="12" fill="url(#cG)" opacity="0.3"/><ellipse cx="251.6" cy="416.0" rx="43.0" ry="28.3" fill="url(#cG)" opacity="0.5"/><ellipse cx="258.0" cy="403.2" rx="20.1" ry="38.5" fill="url(#cG)" opacity="0.6"/></g><g><rect x="371" y="324" width="140.5" height="128.0" fill="url(#cT)" opacity="0.75"/><rect x="371" y="324" width="22" height="128.0" fill="url(#cT2)"/><rect x="489.5" y="324" width="22" height="128.0" fill="url(#cT2)"/><circle cx="408.5" cy="361.5" r="21.4" fill="url(#cT2)"/><rect x="371" y="324" width="140.5" height="128.0" fill="url(#cC)"/><rect x="379" y="324" width="124.5" height="14" fill="url(#cM)" opacity="0.35"/><rect x="381" y="326" width="120.5" height="12" fill="url(#cG)" opacity="0.3"/><ellipse cx="434.2" cy="416.2" rx="42.1" ry="28.2" fill="url(#cG)" opacity="0.5"/><ellipse cx="439.3" cy="403.4" rx="19.7" ry="38.4" fill="url(#cG)" opacity="0.6"/><ellipse cx="446" cy="348" rx="26" ry="12" fill="url(#cM)" opacity="0.95"/></g><g><rect x="557" y="324" width="140.5" height="128.0" fill="url(#cT)" opacity="0.75"/><rect x="557" y="324" width="22" height="128.0" fill="url(#cT2)"/><rect x="675.5" y="324" width="22" height="128.0" fill="url(#cT2)"/><circle cx="585" cy="369" r="20.6" fill="url(#cT2)"/><rect x="557" y="324" width="140.5" height="128.0" fill="url(#cC)"/><rect x="565" y="324" width="124.5" height="14" fill="url(#cM)" opacity="0.35"/><rect x="567" y="326" width="120.5" height="12" fill="url(#cG)" opacity="0.3"/><ellipse cx="620.2" cy="416.2" rx="42.1" ry="28.2" fill="url(#cG)" opacity="0.5"/><ellipse cx="626.0" cy="403.4" rx="19.7" ry="38.4" fill="url(#cG)" opacity="0.6"/><ellipse cx="640" cy="344" rx="50" ry="16" fill="url(#cM)" opacity="0.95"/></g><g fill="#fff" opacity="0.85"><path d="M248,452 L252,430 L258,420 L264,432 L270,452Z"/><path d="M430,452 L434,438 L440,430 L446,440 L450,452Z"/><path d="M615,452 L619,440 L627,434 L634,442 L638,452Z"/></g><g transform="scale(0.5)" fill="none" stroke-linecap="round"><path stroke="#555" stroke-width="2.2" d="M2 644h0m15 0h0m16 0h0m15 0h0m16 0h0m16 0h0m15 0h0m16 0h0m15 0h0m16 0h0m16 0h0m15 0h0m16 0h0m15 0h0m16 0h0m15 0h0m16 0h0m16 0h0m15 0h0m16 0h0m73-1h0m15 0h0m16 0h0m15 0h0m16 0h0m15 0h0m15 0h0m16 0h0m15 0h0m16 0h0m15 0h0m16 0h0m15 0h0m16 0h0m15 0h0m16 0h0m15 0h0m16 0h0m15 0h0m16 0h0m72 1h0m16 0h0m15 0h0m15 0h0m15 0h0m16 0h0m15 0h0m15 0h0m15 0h0m15 0h0m16 0h0m15 0h0m15 0h0m15 0h0m15 0h0m16 0h0m15 0h0m15 0h0m15 0h0m16 0h0m83 0h0m16 0h0m15 0h0m15 0h0m15 0h0m15 0h0m15 0h0m15 0h0m16 0h0m15 0h0m15 0h0m15 0h0m15 0h0m15 0h0m15 0h0m16 0h0m15 0h0m15 0h0m15 0h0m15 0h0m0 14h0m-15 0h0m-15 0h0m-15 0h0m-15 0h0m-16 0h0m-15 0h0m-15 0h0m-15 0h0m-15 0h0m-15 0h0m-15 0h0m-16 0h0m-15 0h0m-15 0h0m-15 0h0m-15 0h0m-15 0h0m-15 0h0m-16 0h0m-83 0h0m-16 0h0m-15 0h0m-15 0h0m-15 0h0m-16 0h0m-15 0h0m-15 0h0m-15 0h0m-15 0h0m-16 0h0m-15 0h0m-15 0h0m-15 0h0m-15 0h0m-16 0h0m-15 0h0m-15 0h0m-15 0h0m-16 0h0m-72-1h0m0 14h0m-16-14h0m0 14h0m-15-14h0m0 14h0m-16-14h0m0 14h0m-15-14h0m0 14h0m-16-14h0m0 14h0m-15-14h0m0 14h0m-16-14h0m0 14h0m-15-14h0m0 14h0m-16-14h0m0 14h0m-15-14h0m0 14h0m-16-14h0m0 14h0m-15-14h0m0 14h0m-16-14h0m0 14h0m-15-14h0m0 14h0m-15-14h0m0 14h0m-16-14h0m0 14h0m-15-14h0m0 14h0m-16-14h0m0 14h0m-15-14h0m0 14h0m-73-13h0m-16 0h0m-15 0h0m-16 0h0m-16 0h0m-15 0h0m-16 0h0m-15 0h0m-16 0h0m-15 0h0m-16 0h0m-16 0h0m-15 0h0m-16 0h0m-15 0h0m-16 0h0m-16 0h0m-15 0h0m-16 0h0m-15 0h0m0 14h0m0 14h0m15-14h0m0 14h0m16-14h0m0 14h0m15-14h0m0 14h0m16-14h0m0 14h0m16-14h0m0 14h0m15-14h0m0 14h0m16-14h0m0 14h0m15-14h0m0 14h0m16-14h0m0 14h0m16-14h0m0 14h0m15-14h0m0 14h0m16-14h0m0 14h0m15-14h0m0 14h0m16-14h0m0 14h0m15-14h0m0 14h0m16-14h0m0 14h0m16-14h0m0 14h0m15-14h0m0 14h0m16-14h0m0 14h0m73-1h0m15 0h0m16 0h0m15 0h0m16 0h0m15 0h0m15 0h0m16 0h0m15 0h0m16 0h0m15 0h0m16 0h0m15 0h0m16 0h0m15 0h0m16 0h0m15 0h0m16 0h0m15 0h0m16 0h0m72-13h0m0 14h0m16-14h0m0 14h0m15-14h0m0 14h0m15-14h0m0 14h0m15-14h0m0 14h0m16-14h0m0 14h0m15-14h0m0 14h0m15-14h0m0 14h0m15-14h0m0 14h0m15-14h0m0 14h0m16-14h0m0 14h0m15-14h0m0 14h0m15-14h0m0 14h0m15-14h0m0 14h0m15-14h0m0 14h0m16-14h0m0 14h0m15-14h0m0 14h0m15-14h0m0 14h0m15-14h0m0 14h0m16-14h0m0 14h0m83-14h0m0 13h0m16-13h0m0 13h0m15-13h0m0 13h0m15-13h0m0 13h0m15-13h0m0 13h0m15-13h0m0 13h0m15-13h0m0 13h0m15-13h0m0 13h0m16-13h0m0 13h0m15-13h0m0 13h0m15-13h0m0 13h0m15-13h0m0 13h0m15-13h0m0 13h0m15-13h0m0 13h0m15-13h0m0 13h0m16-13h0m0 13h0m15-13h0m0 13h0m15-13h0m0 13h0m15-13h0m0 13h0m15-13h0m0 13h0m0 14h0m-15 0h0m-15 0h0m-15 0h0m-15 0h0m-16 0h0m-15 0h0m-15 0h0m-15 0h0m-15 0h0m-15 0h0m-15 0h0m-16 0h0m-15 0h0m-15 0h0m-15 0h0m-15 0h0m-15 0h0m-15 0h0m-16 0h0m-83 0h0m-16 0h0m-15 0h0m-15 0h0m-15 0h0m-16 0h0m-15 0h0m-15 0h0m-15 0h0m-15 0h0m-16 0h0m-15 0h0m-15 0h0m-15 0h0m-15 0h0m-16 0h0m-15 0h0m-15 0h0m-15 0h0m-16 0h0m-72-1h0m-16 0h0m-15 0h0m-16 0h0m-15 0h0m-16 0h0m-15 0h0m-16 0h0m-15 0h0m-16 0h0m-15 0h0m-16 0h0m-15 0h0m-16 0h0m-15 0h0m-15 0h0m-16 0h0m-15 0h0m-16 0h0m-15 0h0m-73 2h0m-16 0h0m-15 0h0m-16 0h0m-16 0h0m-15 0h0m-16 0h0m-15 0h0m-16 0h0m-15 0h0m-16 0h0m-16 0h0m-15 0h0m-16 0h0m-15 0h0m-16 0h0m-16 0h0m-15 0h0m-16 0h0m-15 0h0m0 13h0m15 0h0m16 0h0m15 0h0m16 0h0m16 0h0m15 0h0m16 0h0m15 0h0m16 0h0m16 0h0m15 0h0m16 0h0m15 0h0m16 0h0m15 0h0m16 0h0m16 0h0m15 0h0m16 0h0m73-1h0m15 0h0m16 0h0m15 0h0m16 0h0m15 0h0m15 0h0m16 0h0m15 0h0m16 0h0m15 0h0m16 0h0m15 0h0m16 0h0m15 0h0m16 0h0m15 0h0m16 0h0m15 0h0m16 0h0m72 1h0m16 0h0m15 0h0m15 0h0m15 0h0m16 0h0m15 0h0m15 0h0m15 0h0m15 0h0m16 0h0m15 0h0m15 0h0m15 0h0m15 0h0m16 0h0m15 0h0m15 0h0m15 0h0m16 0h0m83 0h0m16 0h0m15 0h0m15 0h0m15 0h0m15 0h0m15 0h0m15 0h0m16 0h0m15 0h0m15 0h0m15 0h0m15 0h0m15 0h0m15 0h0m16 0h0m15 0h0m15 0h0m15 0h0m15 0h0m0 14h0m-15 0h0m-15 0h0m-15 0h0m-15 0h0m-16 0h0m-15 0h0m-15 0h0m-15 0h0m-15 0h0m-15 0h0m-15 0h0m-16 0h0m-15 0h0m-15 0h0m-15 0h0m-15 0h0m-15 0h0m-15 0h0m-16 0h0m-83 0h0m-16 0h0m-15 0h0m-15 0h0m-15 0h0m-16 0h0m-15 0h0m-15 0h0m-15 0h0m-15 0h0m-16 0h0m-15 0h0m-15 0h0m-15 0h0m-15 0h0m-16 0h0m-15 0h0m-15 0h0m-15 0h0m-16 0h0m-72-1h0m-16 0h0m-15 0h0m-16 0h0m-15 0h0m-16 0h0m-15 0h0m-16 0h0m-15 0h0m-16 0h0m-15 0h0m-16 0h0m-15 0h0m-16 0h0m-15 0h0m-15 0h0m-16 0h0m-15 0h0m-16 0h0m-15 0h0m-73 1h0m-16 0h0m-15 0h0m-16 0h0m-16 0h0m-15 0h0m-16 0h0m-15 0h0m-16 0h0m-15 0h0m-16 0h0m-16 0h0m-15 0h0m-16 0h0m-15 0h0m-16 0h0m-16 0h0m-15 0h0m-16 0h0m-15 0h0m0 14h0m15 0h0m16 0h0m15 0h0m16 0h0m16 0h0m15 0h0m16 0h0m15 0h0m16 0h0m16 0h0m15 0h0m16 0h0m15 0h0m16 0h0m15 0h0m16 0h0m16 0h0m15 0h0m16 0h0m73-1h0m15 0h0m16 0h0m15 0h0m16 0h0m15 0h0m15 0h0m16 0h0m15 0h0m16 0h0m15 0h0m16 0h0m15 0h0m16 0h0m15 0h0m16 0h0m15 0h0m16 0h0m15 0h0m16 0h0m72 1h0m16 0h0m15 0h0m15 0h0m15 0h0m16 0h0m15 0h0m15 0h0m15 0h0m15 0h0m16 0h0m15 0h0m15 0h0m15 0h0m15 0h0m16 0h0m15 0h0m15 0h0m15 0h0m16 0h0m83 0h0m16 0h0m15 0h0m15 0h0m15 0h0m15 0h0m15 0h0m15 0h0m16 0h0m15 0h0m15 0h0m15 0h0m15 0h0m15 0h0m15 0h0m16 0h0m15 0h0m15 0h0m15 0h0m15 0h0m0 14h0m-15 0h0m-15 0h0m-15 0h0m-15 0h0m-16 0h0m-15 0h0m-15 0h0m-15 0h0m-15 0h0m-15 0h0m-15 0h0m-16 0h0m-15 0h0m-15 0h0m-15 0h0m-15 0h0m-15 0h0m-15 0h0m-16 0h0m-83 0h0m-16 0h0m-15 0h0m-15 0h0m-15 0h0m-16 0h0m-15 0h0m-15 0h0m-15 0h0m-15 0h0m-16 0h0m-15 0h0m-15 0h0m-15 0h0m-15 0h0m-16 0h0m-15 0h0m-15 0h0m-15 0h0m-16 0h0m-72-1h0m0 13h0m-16-13h0m0 13h0m-15-13h0m0 13h0m-16-13h0m0 13h0m-15-13h0m0 13h0m-16-13h0m0 13h0m-15-13h0m0 13h0m-16-13h0m0 13h0m-15-13h0m0 13h0m-16-13h0m0 13h0m-15-13h0m0 13h0m-16-13h0m0 13h0m-15-13h0m0 13h0m-16-13h0m0 13h0m-15-13h0m0 13h0m-15-13h0m0 13h0m-16-13h0m0 13h0m-15-13h0m0 13h0m-16-13h0m0 13h0m-15-13h0m0 13h0m-73-12h0m-16 0h0m-15 0h0m-16 0h0m-16 0h0m-15 0h0m-16 0h0m-15 0h0m-16 0h0m-15 0h0m-16 0h0m-16 0h0m-15 0h0m-16 0h0m-15 0h0m-16 0h0m-16 0h0m-15 0h0m-16 0h0m-15 0h0m0 14h0m0 14h0m15-14h0m0 14h0m16-14h0m0 14h0m15-14h0m0 14h0m16-14h0m0 14h0m16-14h0m0 14h0m15-14h0m0 14h0m16-14h0m0 14h0m15-14h0m0 14h0m16-14h0m0 14h0m16-14h0m0 14h0m15-14h0m0 14h0m16-14h0m0 14h0m15-14h0m0 14h0m16-14h0m0 14h0m15-14h0m0 14h0m16-14h0m0 14h0m16-14h0m0 14h0m15-14h0m0 14h0m16-14h0m0 14h0m73-2h0m15 0h0m16 0h0m15 0h0m16 0h0m15 0h0m15 0h0m16 0h0m15 0h0m16 0h0m15 0h0m16 0h0m15 0h0m16 0h0m15 0h0m16 0h0m15 0h0m16 0h0m15 0h0m16 0h0m72-12h0m0 14h0m16-14h0m0 14h0m15-14h0m0 14h0m15-14h0m0 14h0m15-14h0m0 14h0m16-14h0m0 14h0m15-14h0m0 14h0m15-14h0m0 14h0m15-14h0m0 14h0m15-14h0m0 14h0m16-14h0m0 14h0m15-14h0m0 14h0m15-14h0m0 14h0m15-14h0m0 14h0m15-14h0m0 14h0m16-14h0m0 14h0m15-14h0m0 14h0m15-14h0m0 14h0m15-14h0m0 14h0m16-14h0m0 14h0m83-14h0m0 13h0m16-13h0m0 13h0m15-13h0m0 13h0m15-13h0m0 13h0m15-13h0m0 13h0m15-13h0m0 13h0m15-13h0m0 13h0m15-13h0m0 13h0m16-13h0m0 13h0m15-13h0m0 13h0m15-13h0m0 13h0m15-13h0m0 13h0m15-13h0m0 13h0m15-13h0m0 13h0m15-13h0m0 13h0m16-13h0m0 13h0m15-13h0m0 13h0m15-13h0m0 13h0m15-13h0m0 13h0m15-13h0m0 13h0m0 14h0m-15 0h0m-15 0h0m-15 0h0m-15 0h0m-16 0h0m-15 0h0m-15 0h0m-15 0h0m-15 0h0m-15 0h0m-15 0h0m-16 0h0m-15 0h0m-15 0h0m-15 0h0m-15 0h0m-15 0h0m-15 0h0m-16 0h0m-83 0h0m-16 0h0m-15 0h0m-15 0h0m-15 0h0m-16 0h0m-15 0h0m-15 0h0m-15 0h0m-15 0h0m-16 0h0m-15 0h0m-15 0h0m-15 0h0m-15 0h0m-16 0h0m-15 0h0m-15 0h0m-15 0h0m-16 0h0m-72-1h0m-16 0h0m-15 0h0m-16 0h0m-15 0h0m-16 0h0m-15 0h0m-16 0h0m-15 0h0m-16 0h0m-15 0h0m-16 0h0m-15 0h0m-16 0h0m-15 0h0m-15 0h0m-16 0h0m-15 0h0m-16 0h0m-15 0h0m-73 1h0m-16 0h0m-15 0h0m-16 0h0m-16 0h0m-15 0h0m-16 0h0m-15 0h0m-16 0h0m-15 0h0m-16 0h0m-16 0h0m-15 0h0m-16 0h0m-15 0h0m-16 0h0m-16 0h0m-15 0h0m-16 0h0m-15 0h0m0 14h0m15 0h0m16 0h0m15 0h0m16 0h0m16 0h0m15 0h0m16 0h0m15 0h0m16 0h0m16 0h0m15 0h0m16 0h0m15 0h0m16 0h0m15 0h0m16 0h0m16 0h0m15 0h0m16 0h0m73-1h0m15 0h0m16 0h0m15 0h0m16 0h0m15 0h0m15 0h0m16 0h0m15 0h0m16 0h0m15 0h0m16 0h0m15 0h0m16 0h0m15 0h0m16 0h0m15 0h0m16 0h0m15 0h0m16 0h0m72 1h0m16 0h0m15 0h0m15 0h0m15 0h0m16 0h0m15 0h0m15 0h0m15 0h0m15 0h0m16 0h0m15 0h0m15 0h0m15 0h0m15 0h0m16 0h0m15 0h0m15 0h0m15 0h0m16 0h0m83 0h0m16 0h0m15 0h0m15 0h0m15 0h0m15 0h0m15 0h0m15 0h0m16 0h0m15 0h0m15 0h0m15 0h0m15 0h0m15 0h0m15 0h0m16 0h0m15 0h0m15 0h0m15 0h0m15 0h0m0 14h0m-15 0h0m-15 0h0m-15 0h0m-15 0h0m-16 0h0m-15 0h0m-15 0h0m-15 0h0m-15 0h0m-15 0h0m-15 0h0m-16 0h0m-15 0h0m-15 0h0m-15 0h0m-15 0h0m-15 0h0m-15 0h0m-16 0h0m-83 0h0m-16 0h0m-15 0h0m-15 0h0m-15 0h0m-16 0h0m-15 0h0m-15 0h0m-15 0h0m-15 0h0m-16 0h0m-15 0h0m-15 0h0m-15 0h0m-15 0h0m-16 0h0m-15 0h0m-15 0h0m-15 0h0m-16 0h0m-72-1h0m-16 0h0m-15 0h0m-16 0h0m-15 0h0m-16 0h0m-15 0h0m-16 0h0m-15 0h0m-16 0h0m-15 0h0m-16 0h0m-15 0h0m-16 0h0m-15 0h0m-15 0h0m-16 0h0m-15 0h0m-16 0h0m-15 0h0m-73 1h0m-16 0h0m-15 0h0m-16 0h0m-16 0h0m-15 0h0m-16 0h0m-15 0h0m-16 0h0m-15 0h0m-16 0h0m-16 0h0m-15 0h0m-16 0h0m-15 0h0m-16 0h0m-16 0h0m-15 0h0m-16 0h0m-15 0h0m0 14h0m15 0h0m16 0h0m15 0h0m16 0h0m16 0h0m15 0h0m16 0h0m15 0h0m16 0h0m16 0h0m15 0h0m16 0h0m15 0h0m16 0h0m15 0h0m16 0h0m16 0h0m15 0h0m16 0h0m73-2h0m15 0h0m16 0h0m15 0h0m16 0h0m15 0h0m15 0h0m16 0h0m15 0h0m16 0h0m15 0h0m16 0h0m15 0h0m16 0h0m15 0h0m16 0h0m15 0h0m16 0h0m15 0h0m16 0h0m72 2h0m16 0h0m15 0h0m15 0h0m15 0h0m16 0h0m15 0h0m15 0h0m15 0h0m15 0h0m16 0h0m15 0h0m15 0h0m15 0h0m15 0h0m16 0h0m15 0h0m15 0h0m15 0h0m16 0h0m83 0h0m16 0h0m15 0h0m15 0h0m15 0h0m15 0h0m15 0h0m15 0h0m16 0h0m15 0h0m15 0h0m15 0h0m15 0h0m15 0h0m15 0h0m16 0h0m15 0h0m15 0h0m15 0h0m15 0h0m0 14h0m-15 0h0m-15 0h0m-15 0h0m-15 0h0m-16 0h0m-15 0h0m-15 0h0m-15 0h0m-15 0h0m-15 0h0m-15 0h0m-16 0h0m-15 0h0m-15 0h0m-15 0h0m-15 0h0m-15 0h0m-15 0h0m-16 0h0m-83 0h0m-16 0h0m-15 0h0m-15 0h0m-15 0h0m-16 0h0m-15 0h0m-15 0h0m-15 0h0m-15 0h0m-16 0h0m-15 0h0m-15 0h0m-15 0h0m-15 0h0m-16 0h0m-15 0h0m-15 0h0m-15 0h0m-16 0h0m-72-2h0m-16 0h0m-15 0h0m-16 0h0m-15 0h0m-16 0h0m-15 0h0m-16 0h0m-15 0h0m-16 0h0m-15 0h0m-16 0h0m-15 0h0m-16 0h0m-15 0h0m-15 0h0m-16 0h0m-15 0h0m-16 0h0m-15 0h0m-73 2h0m-16 0h0m-15 0h0m-16 0h0m-16 0h0m-15 0h0m-16 0h0m-15 0h0m-16 0h0m-15 0h0m-16 0h0m-16 0h0m-15 0h0m-16 0h0m-15 0h0m-16 0h0m-16 0h0m-15 0h0m-16 0h0m-15 0h0m0 14h0m0 13h0m15-13h0m0 13h0m16-13h0m0 13h0m15-13h0m0 13h0m16-13h0m0 13h0m16-13h0m0 13h0m15-13h0m0 13h0m16-13h0m0 13h0m15-13h0m0 13h0m16-13h0m0 13h0m16-13h0m0 13h0m15-13h0m0 13h0m16-13h0m0 13h0m15-13h0m0 13h0m16-13h0m0 13h0m15-13h0m0 13h0m16-13h0m0 13h0m16-13h0m0 13h0m15-13h0m0 13h0m16-13h0m0 13h0m73-15h0m0 14h0m15-14h0m0 14h0m16-14h0m0 14h0m15-14h0m0 14h0m16-14h0m0 14h0m15-14h0m0 14h0m15-14h0m0 14h0m16-14h0m0 14h0m15-14h0m0 14h0m16-14h0m0 14h0m15-14h0m0 14h0m16-14h0m0 14h0m15-14h0m0 14h0m16-14h0m0 14h0m15-14h0m0 14h0m16-14h0m0 14h0m15-14h0m0 14h0m16-14h0m0 14h0m15-14h0m0 14h0m16-14h0m0 14h0m72-12h0m16 0h0m15 0h0m15 0h0m15 0h0m16 0h0m15 0h0m15 0h0m15 0h0m15 0h0m16 0h0m15 0h0m15 0h0m15 0h0m15 0h0m16 0h0m15 0h0m15 0h0m15 0h0m16 0h0m83 0h0m0 13h0m16-13h0m0 13h0m15-13h0m0 13h0m15-13h0m0 13h0m15-13h0m0 13h0m15-13h0m0 13h0m15-13h0m0 13h0m15-13h0m0 13h0m16-13h0m0 13h0m15-13h0m0 13h0m15-13h0m0 13h0m15-13h0m0 13h0m15-13h0m0 13h0m15-13h0m0 13h0m15-13h0m0 13h0m16-13h0m0 13h0m15-13h0m0 13h0m15-13h0m0 13h0m15-13h0m0 13h0m15-13h0m0 13h0m0 14h0m-15 0h0m-15 0h0m-15 0h0m-15 0h0m-16 0h0m-15 0h0m-15 0h0m-15 0h0m-15 0h0m-15 0h0m-15 0h0m-16 0h0m-15 0h0m-15 0h0m-15 0h0m-15 0h0m-15 0h0m-15 0h0m-16 0h0m-83-13h0m0 13h0m-16-13h0m0 13h0m-15-13h0m0 13h0m-15-13h0m0 13h0m-15-13h0m0 13h0m-16-13h0m0 13h0m-15-13h0m0 13h0m-15-13h0m0 13h0m-15-13h0m0 13h0m-15-13h0m0 13h0m-16-13h0m0 13h0m-15-13h0m0 13h0m-15-13h0m0 13h0m-15-13h0m0 13h0m-15-13h0m0 13h0m-16-13h0m0 13h0m-15-13h0m0 13h0m-15-13h0m0 13h0m-15-13h0m0 13h0m-16-13h0m0 13h0m-72-1h0m-16 0h0m-15 0h0m-16 0h0m-15 0h0m-16 0h0m-15 0h0m-16 0h0m-15 0h0m-16 0h0m-15 0h0m-16 0h0m-15 0h0m-16 0h0m-15 0h0m-15 0h0m-16 0h0m-15 0h0m-16 0h0m-15 0h0m-73 1h0m-16 0h0m-15 0h0m-16 0h0m-16 0h0m-15 0h0m-16 0h0m-15 0h0m-16 0h0m-15 0h0m-16 0h0m-16 0h0m-15 0h0m-16 0h0m-15 0h0m-16 0h0m-16 0h0m-15 0h0m-16 0h0m-15 0h0m0 14h0m15 0h0m16 0h0m15 0h0m16 0h0m16 0h0m15 0h0m16 0h0m15 0h0m16 0h0m16 0h0m15 0h0m16 0h0m15 0h0m16 0h0m15 0h0m16 0h0m16 0h0m15 0h0m16 0h0m73-2h0m15 0h0m16 0h0m15 0h0m16 0h0m15 0h0m15 0h0m16 0h0m15 0h0m16 0h0m15 0h0m16 0h0m15 0h0m16 0h0m15 0h0m16 0h0m15 0h0m16 0h0m15 0h0m16 0h0m72 2h0m16 0h0m15 0h0m15 0h0m15 0h0m16 0h0m15 0h0m15 0h0m15 0h0m15 0h0m16 0h0m15 0h0m15 0h0m15 0h0m15 0h0m16 0h0m15 0h0m15 0h0m15 0h0m16 0h0m83 0h0m16 0h0m15 0h0m15 0h0m15 0h0m15 0h0m15 0h0m15 0h0m16 0h0m15 0h0m15 0h0m15 0h0m15 0h0m15 0h0m15 0h0m16 0h0m15 0h0m15 0h0m15 0h0m15 0h0"/></g><g fill="none" stroke="#1f7a52" stroke-width="2.6" stroke-linejoin="round" stroke-linecap="round"><path d="M73.5,424 C73,405 74.5,390 74,372 C73.6,362 74,356 73,350 M73,350 C67,348 64,342 66,337 C67,333 72,331 75,333 C78,331 82,333 81,338 C80,344 77,348 73,350"/><path d="M257,440 C257.8,420 257,400 258.4,380 C258.2,365 258,355 257,346 M251,347 C252,340 256,333 262,331 C266,330 270,334 273,339"/><path d="M437.5,434 C439,425 441.5,420 441.4,414 C441,400 438,385 438.2,369.6 M430.4,346.5 C432,340 435,335 438.2,334.9 C443,334 447,337 448.5,341.3"/></g><path d="M623.9,424 C625,410 628,400 626.6,390 C625,382 627,378 626.6,373.8 M615.3,335.3 C617,330 620,326 622.6,326 C626,326 630,329 631.2,332.6" fill="none" stroke="#1f7a52" stroke-width="2.4" stroke-dasharray="3 0.8"/><g fill="none" stroke-width="1.5" stroke-linecap="round" opacity="0.85"><path d="M582,447 C586,442 590,446 594,441 C598,445 602,440 606,446" stroke="#8a3fd0"/><path d="M580,450 C588,447 596,450 604,448" stroke="#f09090"/><path d="M636,445 C640,441 644,446 648,441 C651,444 653,446 655,443" stroke="#8a3fd0"/><path d="M638,449 C644,447 650,449 656,447" stroke="#f09090"/><path d="M376,449 C382,444 388,447 394,443 C398,445 402,442 405,444" stroke="#8a3fd0"/><path d="M8,446 C14,442 20,444 26,440" stroke="#6a5acd"/><path d="M620,431 C625,437 632,438 638,432" stroke="#3a8af8"/></g><circle cx="36.5" cy="361.6" r="19.4" fill="none" stroke="#1428e6" stroke-width="2.4" stroke-dasharray="11 4.2" transform="rotate(-80 36.5 361.6)"/><circle cx="104.8" cy="361.6" r="19.4" fill="none" stroke="#ef4a4a" stroke-width="2.4" stroke-dasharray="11 4.2" transform="rotate(-80 104.8 361.6)"/><circle cx="224" cy="361.5" r="19.4" fill="none" stroke="#1428e6" stroke-width="2.4" stroke-dasharray="11 4.2" transform="rotate(-80 224 361.5)"/><circle cx="292.3" cy="361.5" r="19.2" fill="none" stroke="#ef4a4a" stroke-width="2.4" stroke-dasharray="11 4.2" transform="rotate(-80 292.3 361.5)"/><circle cx="408.5" cy="361.5" r="19.4" fill="none" stroke="#1428e6" stroke-width="2.4" stroke-dasharray="11 4.2" transform="rotate(-80 408.5 361.5)"/><circle cx="475.8" cy="361.5" r="19.2" fill="none" stroke="#ef4a4a" stroke-width="2.4" stroke-dasharray="11 4.2" transform="rotate(-80 475.8 361.5)"/><circle cx="585" cy="369" r="18.6" fill="none" stroke="#1428e6" stroke-width="2.4" stroke-dasharray="11 4.2" transform="rotate(-80 585 369)"/><circle cx="662.3" cy="369" r="18.6" fill="none" stroke="#ef4a4a" stroke-width="2.4" stroke-dasharray="11 4.2" transform="rotate(-80 662.3 369)"/><line x1="31.5" y1="452.0" x2="31.5" y2="450.5" stroke="#2b2b2b" stroke-width="2.0"/><polygon points="31.5,444.5 34.5,450.5 28.5,450.5" fill="#2b2b2b"/><line x1="31.5" y1="446.0" x2="31.5" y2="444.5" stroke="#2b2b2b" stroke-width="2.0"/><polygon points="31.5,438.5 34.5,444.5 28.5,444.5" fill="#2b2b2b"/><line x1="39.2" y1="452.0" x2="39.2" y2="449.2" stroke="#2b2b2b" stroke-width="2.0"/><polygon points="39.2,443.2 42.2,449.2 36.2,449.2" fill="#2b2b2b"/><line x1="39.2" y1="444.7" x2="39.2" y2="441.8" stroke="#2b2b2b" stroke-width="2.0"/><polygon points="39.2,435.8 42.2,441.8 36.2,441.8" fill="#2b2b2b"/><line x1="39.2" y1="437.3" x2="39.2" y2="434.5" stroke="#2b2b2b" stroke-width="2.0"/><polygon points="39.2,428.5 42.2,434.5 36.2,434.5" fill="#2b2b2b"/><line x1="47.6" y1="452.0" x2="47.6" y2="448.8" stroke="#2b2b2b" stroke-width="2.0"/><polygon points="47.6,442.8 50.6,448.8 44.6,448.8" fill="#2b2b2b"/><line x1="47.6" y1="444.2" x2="47.6" y2="441.0" stroke="#2b2b2b" stroke-width="2.0"/><polygon points="47.6,435.0 50.6,441.0 44.6,441.0" fill="#2b2b2b"/><line x1="47.6" y1="436.5" x2="47.6" y2="433.2" stroke="#2b2b2b" stroke-width="2.0"/><polygon points="47.6,427.2 50.6,433.2 44.6,433.2" fill="#2b2b2b"/><line x1="47.6" y1="428.8" x2="47.6" y2="425.5" stroke="#2b2b2b" stroke-width="2.0"/><polygon points="47.6,419.5 50.6,425.5 44.6,425.5" fill="#2b2b2b"/><line x1="55.5" y1="452.0" x2="55.6" y2="448.5" stroke="#2b2b2b" stroke-width="2.0"/><polygon points="55.8,442.5 58.6,448.6 52.6,448.4" fill="#2b2b2b"/><line x1="55.7" y1="444.0" x2="55.8" y2="440.5" stroke="#2b2b2b" stroke-width="2.0"/><polygon points="56.0,434.5 58.8,440.6 52.8,440.4" fill="#2b2b2b"/><line x1="56.0" y1="436.0" x2="56.1" y2="432.5" stroke="#2b2b2b" stroke-width="2.0"/><polygon points="56.3,426.5 59.1,432.6 53.1,432.4" fill="#2b2b2b"/><line x1="56.2" y1="428.0" x2="56.3" y2="424.5" stroke="#2b2b2b" stroke-width="2.0"/><polygon points="56.5,418.5 59.3,424.6 53.3,424.4" fill="#2b2b2b"/><line x1="58.8" y1="452.0" x2="59.0" y2="448.8" stroke="#2b2b2b" stroke-width="2.0"/><polygon points="59.4,442.8 62.0,449.0 56.0,448.6" fill="#2b2b2b"/><line x1="59.3" y1="444.2" x2="59.5" y2="441.0" stroke="#2b2b2b" stroke-width="2.0"/><polygon points="59.9,435.0 62.5,441.2 56.5,440.8" fill="#2b2b2b"/><line x1="59.8" y1="436.5" x2="60.0" y2="433.2" stroke="#2b2b2b" stroke-width="2.0"/><polygon points="60.4,427.2 63.0,433.4 57.0,433.0" fill="#2b2b2b"/><line x1="60.3" y1="428.8" x2="60.5" y2="425.5" stroke="#2b2b2b" stroke-width="2.0"/><polygon points="60.9,419.5 63.5,425.7 57.5,425.3" fill="#2b2b2b"/><line x1="64.9" y1="452.0" x2="65.5" y2="448.1" stroke="#2b2b2b" stroke-width="2.0"/><polygon points="66.5,442.2 68.5,448.6 62.6,447.6" fill="#2b2b2b"/><line x1="66.2" y1="443.7" x2="66.8" y2="439.7" stroke="#2b2b2b" stroke-width="2.0"/><polygon points="67.8,433.8 69.8,440.2 63.9,439.2" fill="#2b2b2b"/><line x1="67.6" y1="435.3" x2="68.2" y2="431.4" stroke="#2b2b2b" stroke-width="2.0"/><polygon points="69.1,425.5 71.2,431.9 65.2,431.0" fill="#2b2b2b"/><line x1="68.7" y1="452.0" x2="69.5" y2="447.7" stroke="#2b2b2b" stroke-width="2.0"/><polygon points="70.7,441.8 72.5,448.3 66.6,447.1" fill="#2b2b2b"/><line x1="70.4" y1="443.3" x2="71.2" y2="439.1" stroke="#2b2b2b" stroke-width="2.0"/><polygon points="72.3,433.2 74.1,439.7 68.2,438.5" fill="#2b2b2b"/><line x1="72.0" y1="434.7" x2="72.8" y2="430.4" stroke="#2b2b2b" stroke-width="2.0"/><polygon points="74.0,424.5 75.8,431.0 69.9,429.8" fill="#2b2b2b"/><line x1="72.6" y1="452.0" x2="71.4" y2="445.4" stroke="#2b2b2b" stroke-width="2.0"/><polygon points="70.3,439.5 74.3,444.9 68.4,445.9" fill="#2b2b2b"/><polygon points="76.0,446.0 81.0,450.5 75.4,452.7" fill="#2b2b2b"/><line x1="84.0" y1="451.0" x2="83.9" y2="450.7" stroke="#2b2b2b" stroke-width="2.0"/><polygon points="82.0,445.0 86.7,449.7 81.1,451.6" fill="#2b2b2b"/><polygon points="88.0,446.0 93.4,450.0 88.0,452.7" fill="#2b2b2b"/><polygon points="95.0,447.0 99.4,452.1 93.5,453.5" fill="#2b2b2b"/><line x1="119.4" y1="353.8" x2="109.1" y2="356.0" stroke="#2b2b2b" stroke-width="2.0"/><polygon points="103.2,357.2 108.5,353.0 109.7,358.9" fill="#2b2b2b"/><line x1="122.8" y1="363.2" x2="108.3" y2="363.8" stroke="#2b2b2b" stroke-width="2.0"/><polygon points="102.3,364.0 108.2,360.8 108.4,366.8" fill="#2b2b2b"/><line x1="112.6" y1="349.5" x2="106.1" y2="352.3" stroke="#2b2b2b" stroke-width="2.0"/><polygon points="100.6,354.7 104.9,349.6 107.3,355.1" fill="#2b2b2b"/><line x1="100.6" y1="370.9" x2="96.2" y2="371.6" stroke="#2b2b2b" stroke-width="2.0"/><polygon points="90.3,372.6 95.7,368.7 96.7,374.6" fill="#2b2b2b"/><line x1="104.0" y1="374.0" x2="101.6" y2="374.9" stroke="#2b2b2b" stroke-width="2.0"/><polygon points="96.0,377.0 100.6,372.1 102.7,377.7" fill="#2b2b2b"/><line x1="114.0" y1="372.0" x2="110.8" y2="369.6" stroke="#2b2b2b" stroke-width="2.0"/><polygon points="106.0,366.0 112.6,367.2 109.0,372.0" fill="#2b2b2b"/><line x1="96.0" y1="352.0" x2="95.3" y2="353.0" stroke="#2b2b2b" stroke-width="2.0"/><polygon points="92.0,358.0 92.8,351.3 97.8,354.7" fill="#2b2b2b"/><line x1="52.0" y1="384.0" x2="49.6" y2="386.1" stroke="#2b2b2b" stroke-width="2.0"/><polygon points="45.0,390.0 47.6,383.8 51.5,388.4" fill="#2b2b2b"/><line x1="58.0" y1="388.0" x2="54.5" y2="391.0" stroke="#2b2b2b" stroke-width="2.0"/><polygon points="50.0,395.0 52.5,388.8 56.5,393.3" fill="#2b2b2b"/><line x1="64.0" y1="392.0" x2="61.6" y2="394.1" stroke="#2b2b2b" stroke-width="2.0"/><polygon points="57.0,398.0 59.6,391.8 63.5,396.4" fill="#2b2b2b"/><line x1="68.0" y1="380.0" x2="66.2" y2="381.8" stroke="#2b2b2b" stroke-width="2.0"/><polygon points="62.0,386.0 64.1,379.6 68.4,383.9" fill="#2b2b2b"/><line x1="82.0" y1="384.0" x2="84.4" y2="387.2" stroke="#2b2b2b" stroke-width="2.0"/><polygon points="88.0,392.0 82.0,389.0 86.8,385.4" fill="#2b2b2b"/><line x1="86.0" y1="392.0" x2="87.8" y2="393.8" stroke="#2b2b2b" stroke-width="2.0"/><polygon points="92.0,398.0 85.6,395.9 89.9,391.6" fill="#2b2b2b"/><line x1="80.0" y1="398.0" x2="81.8" y2="399.8" stroke="#2b2b2b" stroke-width="2.0"/><polygon points="86.0,404.0 79.6,401.9 83.9,397.6" fill="#2b2b2b"/><line x1="70.0" y1="402.0" x2="71.2" y2="403.4" stroke="#2b2b2b" stroke-width="2.0"/><polygon points="75.0,408.0 68.9,405.3 73.5,401.5" fill="#2b2b2b"/><line x1="50.0" y1="398.0" x2="48.2" y2="399.8" stroke="#2b2b2b" stroke-width="2.0"/><polygon points="44.0,404.0 46.1,397.6 50.4,401.9" fill="#2b2b2b"/><polygon points="4.0,360.0 6.1,353.6 10.4,357.9" fill="#2b2b2b"/><line x1="10.0" y1="366.0" x2="9.7" y2="366.1" stroke="#2b2b2b" stroke-width="2.0"/><polygon points="4.0,368.0 8.7,363.3 10.6,368.9" fill="#2b2b2b"/><polygon points="12.0,352.0 14.1,345.6 18.4,349.9" fill="#2b2b2b"/><polygon points="62.0,352.0 55.3,352.0 58.0,346.6" fill="#2b2b2b"/><polygon points="64.0,366.0 57.6,363.9 61.9,359.6" fill="#2b2b2b"/><line x1="212.0" y1="352.0" x2="214.2" y2="352.5" stroke="#2b2b2b" stroke-width="2.0"/><polygon points="220.0,354.0 213.5,355.5 214.9,349.6" fill="#2b2b2b"/><line x1="218.0" y1="360.0" x2="220.2" y2="359.5" stroke="#2b2b2b" stroke-width="2.0"/><polygon points="226.0,358.0 220.9,362.4 219.5,356.5" fill="#2b2b2b"/><line x1="222.0" y1="370.0" x2="223.0" y2="369.3" stroke="#2b2b2b" stroke-width="2.0"/><polygon points="228.0,366.0 224.7,371.8 221.3,366.8" fill="#2b2b2b"/><line x1="230.0" y1="356.0" x2="232.6" y2="354.7" stroke="#2b2b2b" stroke-width="2.0"/><polygon points="238.0,352.0 234.0,357.4 231.3,352.0" fill="#2b2b2b"/><line x1="216.0" y1="344.0" x2="218.2" y2="344.5" stroke="#2b2b2b" stroke-width="2.0"/><polygon points="224.0,346.0 217.5,347.5 218.9,341.6" fill="#2b2b2b"/><line x1="232.0" y1="366.0" x2="232.7" y2="367.0" stroke="#2b2b2b" stroke-width="2.0"/><polygon points="236.0,372.0 230.2,368.7 235.2,365.3" fill="#2b2b2b"/><line x1="280.0" y1="350.0" x2="283.5" y2="353.0" stroke="#2b2b2b" stroke-width="2.0"/><polygon points="288.0,357.0 281.5,355.3 285.5,350.8" fill="#2b2b2b"/><line x1="300.0" y1="350.0" x2="298.5" y2="352.1" stroke="#2b2b2b" stroke-width="2.0"/><polygon points="295.0,357.0 296.0,350.4 300.9,353.9" fill="#2b2b2b"/><line x1="305.0" y1="362.0" x2="304.0" y2="362.0" stroke="#2b2b2b" stroke-width="2.0"/><polygon points="298.0,362.0 304.0,359.0 304.0,365.0" fill="#2b2b2b"/><line x1="300.0" y1="372.0" x2="298.2" y2="370.2" stroke="#2b2b2b" stroke-width="2.0"/><polygon points="294.0,366.0 300.4,368.1 296.1,372.4" fill="#2b2b2b"/><line x1="282.0" y1="372.0" x2="284.4" y2="369.9" stroke="#2b2b2b" stroke-width="2.0"/><polygon points="289.0,366.0 286.4,372.2 282.5,367.6" fill="#2b2b2b"/><line x1="278.0" y1="362.0" x2="280.0" y2="362.0" stroke="#2b2b2b" stroke-width="2.0"/><polygon points="286.0,362.0 280.0,365.0 280.0,359.0" fill="#2b2b2b"/><line x1="292.0" y1="347.0" x2="292.0" y2="349.0" stroke="#2b2b2b" stroke-width="2.0"/><polygon points="292.0,355.0 289.0,349.0 295.0,349.0" fill="#2b2b2b"/><line x1="292.0" y1="376.0" x2="292.0" y2="374.0" stroke="#2b2b2b" stroke-width="2.0"/><polygon points="292.0,368.0 295.0,374.0 289.0,374.0" fill="#2b2b2b"/><line x1="288.0" y1="382.0" x2="288.0" y2="379.0" stroke="#2b2b2b" stroke-width="2.0"/><polygon points="288.0,373.0 291.0,379.0 285.0,379.0" fill="#2b2b2b"/><polygon points="254.0,446.0 251.9,452.4 247.6,448.1" fill="#2b2b2b"/><polygon points="259.0,440.0 256.9,446.4 252.6,442.1" fill="#2b2b2b"/><polygon points="263.0,445.0 262.5,451.7 257.3,448.6" fill="#2b2b2b"/><polygon points="268.0,440.0 268.0,446.7 262.6,444.0" fill="#2b2b2b"/><polygon points="253.0,438.0 251.8,444.6 247.0,441.0" fill="#2b2b2b"/><polygon points="195.0,352.0 199.5,347.0 201.7,352.6" fill="#2b2b2b"/><line x1="408.0" y1="361.0" x2="404.0" y2="361.0" stroke="#2b2b2b" stroke-width="2.0"/><polygon points="398.0,361.0 404.0,358.0 404.0,364.0" fill="#2b2b2b"/><line x1="408.0" y1="356.0" x2="405.4" y2="354.7" stroke="#2b2b2b" stroke-width="2.0"/><polygon points="400.0,352.0 406.7,352.0 404.0,357.4" fill="#2b2b2b"/><line x1="412.0" y1="366.0" x2="413.0" y2="366.7" stroke="#2b2b2b" stroke-width="2.0"/><polygon points="418.0,370.0 411.3,369.2 414.7,364.2" fill="#2b2b2b"/><line x1="404.0" y1="368.0" x2="403.0" y2="368.7" stroke="#2b2b2b" stroke-width="2.0"/><polygon points="398.0,372.0 401.3,366.2 404.7,371.2" fill="#2b2b2b"/><line x1="414.0" y1="357.0" x2="415.0" y2="356.3" stroke="#2b2b2b" stroke-width="2.0"/><polygon points="420.0,353.0 416.7,358.8 413.3,353.8" fill="#2b2b2b"/><line x1="402.0" y1="350.0" x2="401.0" y2="349.3" stroke="#2b2b2b" stroke-width="2.0"/><polygon points="396.0,346.0 402.7,346.8 399.3,351.8" fill="#2b2b2b"/><line x1="416.0" y1="362.0" x2="418.0" y2="362.0" stroke="#2b2b2b" stroke-width="2.0"/><polygon points="424.0,362.0 418.0,365.0 418.0,359.0" fill="#2b2b2b"/><line x1="476.0" y1="361.0" x2="480.0" y2="361.0" stroke="#2b2b2b" stroke-width="2.0"/><polygon points="486.0,361.0 480.0,364.0 480.0,358.0" fill="#2b2b2b"/><line x1="470.0" y1="357.0" x2="468.6" y2="355.8" stroke="#2b2b2b" stroke-width="2.0"/><polygon points="464.0,352.0 470.5,353.5 466.7,358.1" fill="#2b2b2b"/><line x1="482.0" y1="366.0" x2="484.2" y2="366.5" stroke="#2b2b2b" stroke-width="2.0"/><polygon points="490.0,368.0 483.5,369.5 484.9,363.6" fill="#2b2b2b"/><polygon points="478.0,378.0 475.0,372.0 481.0,372.0" fill="#2b2b2b"/><line x1="470.0" y1="366.0" x2="469.0" y2="366.7" stroke="#2b2b2b" stroke-width="2.0"/><polygon points="464.0,370.0 467.3,364.2 470.7,369.2" fill="#2b2b2b"/><line x1="484.0" y1="354.0" x2="485.0" y2="353.3" stroke="#2b2b2b" stroke-width="2.0"/><polygon points="490.0,350.0 486.7,355.8 483.3,350.8" fill="#2b2b2b"/><line x1="488.0" y1="372.0" x2="490.2" y2="372.5" stroke="#2b2b2b" stroke-width="2.0"/><polygon points="496.0,374.0 489.5,375.5 490.9,369.6" fill="#2b2b2b"/><polygon points="500.0,381.0 493.6,383.0 494.6,377.1" fill="#2b2b2b"/><line x1="480.0" y1="380.0" x2="480.5" y2="382.2" stroke="#2b2b2b" stroke-width="2.0"/><polygon points="482.0,388.0 477.6,382.9 483.5,381.5" fill="#2b2b2b"/><line x1="432.0" y1="452.0" x2="432.0" y2="451.0" stroke="#2b2b2b" stroke-width="2.0"/><polygon points="432.0,445.0 435.0,451.0 429.0,451.0" fill="#2b2b2b"/><line x1="438.0" y1="452.0" x2="438.0" y2="450.0" stroke="#2b2b2b" stroke-width="2.0"/><polygon points="438.0,444.0 441.0,450.0 435.0,450.0" fill="#2b2b2b"/><polygon points="444.0,446.0 447.0,452.0 441.0,452.0" fill="#2b2b2b"/><polygon points="430.0,438.0 433.0,444.0 427.0,444.0" fill="#2b2b2b"/><polygon points="494.0,322.0 491.0,328.0 487.4,323.2" fill="#2b2b2b"/><polygon points="502.0,322.0 499.0,328.0 495.4,323.2" fill="#2b2b2b"/><polygon points="507.0,321.0 506.2,327.7 501.2,324.3" fill="#2b2b2b"/><line x1="589.0" y1="369.0" x2="597.0" y2="369.0" stroke="#2b2b2b" stroke-width="2.0"/><polygon points="603.0,369.0 597.0,372.0 597.0,366.0" fill="#2b2b2b"/><line x1="581.0" y1="369.0" x2="573.0" y2="369.0" stroke="#2b2b2b" stroke-width="2.0"/><polygon points="567.0,369.0 573.0,366.0 573.0,372.0" fill="#2b2b2b"/><line x1="585.0" y1="365.0" x2="585.0" y2="357.0" stroke="#2b2b2b" stroke-width="2.0"/><polygon points="585.0,351.0 588.0,357.0 582.0,357.0" fill="#2b2b2b"/><line x1="585.0" y1="373.0" x2="585.0" y2="381.0" stroke="#2b2b2b" stroke-width="2.0"/><polygon points="585.0,387.0 582.0,381.0 588.0,381.0" fill="#2b2b2b"/><line x1="588.0" y1="366.0" x2="593.8" y2="360.2" stroke="#2b2b2b" stroke-width="2.0"/><polygon points="598.0,356.0 595.9,362.4 591.6,358.1" fill="#2b2b2b"/><line x1="582.0" y1="366.0" x2="576.2" y2="360.2" stroke="#2b2b2b" stroke-width="2.0"/><polygon points="572.0,356.0 578.4,358.1 574.1,362.4" fill="#2b2b2b"/><line x1="588.0" y1="372.0" x2="593.8" y2="377.8" stroke="#2b2b2b" stroke-width="2.0"/><polygon points="598.0,382.0 591.6,379.9 595.9,375.6" fill="#2b2b2b"/><line x1="582.0" y1="372.0" x2="576.2" y2="377.8" stroke="#2b2b2b" stroke-width="2.0"/><polygon points="572.0,382.0 574.1,375.6 578.4,379.9" fill="#2b2b2b"/><line x1="566.0" y1="369.0" x2="557.0" y2="368.4" stroke="#2b2b2b" stroke-width="2.0"/><polygon points="551.0,368.0 557.2,365.4 556.8,371.4" fill="#2b2b2b"/><line x1="566.0" y1="375.0" x2="556.9" y2="376.2" stroke="#2b2b2b" stroke-width="2.0"/><polygon points="551.0,377.0 556.6,373.2 557.3,379.2" fill="#2b2b2b"/><line x1="655.0" y1="365.0" x2="657.1" y2="363.5" stroke="#2b2b2b" stroke-width="2.0"/><polygon points="662.0,360.0 658.9,365.9 655.4,361.0" fill="#2b2b2b"/><line x1="665.0" y1="362.0" x2="666.8" y2="361.0" stroke="#2b2b2b" stroke-width="2.0"/><polygon points="672.0,358.0 668.3,363.6 665.3,358.4" fill="#2b2b2b"/><line x1="660.0" y1="372.0" x2="662.4" y2="372.9" stroke="#2b2b2b" stroke-width="2.0"/><polygon points="668.0,375.0 661.3,375.7 663.4,370.1" fill="#2b2b2b"/><line x1="670.0" y1="360.0" x2="671.0" y2="359.3" stroke="#2b2b2b" stroke-width="2.0"/><polygon points="676.0,356.0 672.7,361.8 669.3,356.8" fill="#2b2b2b"/><line x1="652.0" y1="375.0" x2="650.6" y2="376.2" stroke="#2b2b2b" stroke-width="2.0"/><polygon points="646.0,380.0 648.7,373.9 652.5,378.5" fill="#2b2b2b"/><polygon points="563.0,322.0 556.4,322.9 558.3,317.3" fill="#2b2b2b"/><polygon points="570.0,322.0 563.4,322.9 565.3,317.3" fill="#2b2b2b"/><polygon points="577.0,322.0 570.4,322.9 572.3,317.3" fill="#2b2b2b"/><g transform="scale(0.5)" fill="none" stroke-linecap="round"><path stroke="#1ff53c" stroke-width="4.8" d="M170 1000h0m15-1h0m56-1h0m33 0h0m21 5h0m14 3h0m24 1h0m20-8h0m12 2h0m4 2h0m19-1h0m8-2h0m5-2h0m10 3h0m8 4h0m3 0h0m0 2h0m3-3h0m16-6h0m3 8h0m25 1h0m19-9h0m2 7h0m2 1h0m4-6h0m1 1h0m2 3h0m4-5h0m0 5h0m7-5h0m1 5h0m8-4h0m6 6h0m9-5h0m3-2h0m4 5h0m3-7h0m18 4h0m4 4h0m3 2h0m2 0h0m3-8h0m3-1h0m6 5h0m36-5h0m2 8h0m8-5h0m6 6h0m0-9h0m2 5h0m6 1h0m0-7h0m2 1h0m21 3h0m13 5h0m3-4h0m0 1h0m2-2h0m6-1h0m18 3h0m17-5h0m4 1h0m1 2h0m11-3h0m14 8h0m0-1h0m1-8h0m60 19h0m-14 2h0m-3 0h0m-7-8h0m-12 9h0m-15-8h0m-2-2h0m-34-1h0m-4 2h0m-2 8h0m-1-10h0m-2 4h0m-1-1h0m-14 12h0m-1-7h0m-3-3h0m-8 1h0m-1 8h0m0-4h0m-15 0h0m-12-8h0m-2 3h0m-8 4h0m-16 4h0m-2-1h0m0-3h0m-4-5h0m-13 10h0m0-5h0m-19-2h0m-8 1h0m-9-4h0m-4 8h0m-3-4h0m0 4h0m0-5h0m-7-2h0m-3 10h0m-2-3h0m-6-9h0m-3-1h0m-7 5h0m-6-7h0m-13 14h0m-1-2h0m-10 0h0m-9-12h0m-1 7h0m0 7h0m-2-6h0m-3 5h0m0-11h0m-5 12h0m-1-8h0m-3 0h0m0 4h0m-2-5h0m-26 6h0m-4 2h0m-18-9h0m0-1h0m-9-1h0m-1-2h0m-22 6h0m-7 7h0m0-13h0m-5 13h0m-3-9h0m-26 11h0m-18-3h0m-7-6h0m-17-5h0m-5 13h0m-6-3h0m-2-11h0m-1 10h0m-6-4h0m-47 8h0m-80 11h0m55-7h0m57 6h0m23-2h0m24 0h0m5 1h0m24 4h0m9 2h0m30-5h0m5-8h0m19 8h0m0-1h0m7 6h0m8 0h0m1-7h0m6-4h0m3 7h0m16-2h0m3-6h0m1 7h0m10-3h0m21 5h0m10-6h0m7-1h0m23-2h0m0 9h0m8 0h0m8 0h0m0 0h0m14-5h0m9 4h0m10 4h0m9-1h0m6 3h0m8-14h0m2 2h0m21-1h0m1 3h0m0-4h0m2 9h0m2-4h0m1-6h0m8 6h0m2-3h0m0 2h0m1 9h0m3-7h0m2-6h0m5 14h0m0-1h0m8-10h0m0 6h0m3-9h0m4-1h0m0 14h0m10-8h0m5 9h0m15 0h0m1-2h0m5-7h0m1-2h0m11 4h0m2 7h0m2-6h0m7-1h0m2 3h0m3-11h0m1 2h0m1 9h0m1-7h0m12 2h0m6-6h0m15 8h0m5 3h0m1-10h0m1 4h0m15-5h0m3 15h0m9 12h0m-6-8h0m-8-3h0m-6 8h0m-10 6h0m-10-10h0m-10 4h0m-7 2h0m-6-4h0m-11-1h0m-17 2h0m-3-1h0m0 5h0m-3-3h0m-6 4h0m-1 0h0m-16-5h0m-13 8h0m0-14h0m-12 13h0m-5 0h0m-2-13h0m-5 3h0m-10-1h0m-3 10h0m0 1h0m-5-5h0m-6-7h0m-2 10h0m-2 0h0m-8 1h0m-1-6h0m-3 3h0m-6-4h0m-21-5h0m-8 4h0m-6 7h0m-4-12h0m-6 8h0m-9-7h0m-5 1h0m-10 7h0m-10-4h0m-5 5h0m-6 1h0m-9-11h0m-1 8h0m-8-8h0m-3 12h0m-24 2h0m0-3h0m-2-8h0m-2 10h0m-1-5h0m-5-4h0m-1 3h0m-4 5h0m-1-12h0m-10 6h0m-1 3h0m-11-9h0m-1 13h0m-7-12h0m-3 4h0m-4 5h0m-1-7h0m-32 5h0m-9-5h0m-4 8h0m-11 3h0m-6-6h0m-9-1h0m-7-7h0m-6 12h0m-2-1h0m-1 2h0m-13-7h0m-8-4h0m-6 7h0m0 3h0m-5-3h0m-84 1h0m-46-4h0m8 11h0m19 13h0m3-9h0m6 6h0m101-11h0m1 1h0m13 6h0m17 7h0m0-8h0m5 0h0m23 4h0m11-5h0m37 9h0m3 1h0m9-12h0m1 10h0m0-4h0m11 3h0m2-10h0m12-2h0m1 4h0m3 11h0m8-8h0m1 3h0m29 0h0m2 5h0m1-14h0m18-1h0m0 3h0m0 7h0m7-9h0m7 13h0m3-8h0m4-1h0m9 8h0m2-13h0m1 0h0m3 12h0m9-3h0m4 1h0m4-3h0m12 6h0m21-9h0m1 0h0m8 8h0m3 0h0m2-5h0m3 8h0m6-11h0m24 9h0m10-6h0m7-1h0m7 4h0m7-1h0m5-8h0m3 14h0m0-10h0m3 6h0m1-10h0m2 4h0m3-2h0m2 3h0m5 7h0m2 2h0m1-1h0m1 1h0m2-2h0m12 2h0m4-1h0m3-3h0m5-5h0m5-2h0m1 3h0m2 0h0m13-2h0m7 8h0m0-2h0m3-5h0m1 1h0m12-4h0m10 1h0m20 10h0m18-10h0m-4 20h0m-8 4h0m-3-1h0m-6 1h0m-5-1h0m-15-10h0m-13 11h0m-12-4h0m-1-8h0m-2 1h0m-10 4h0m-2-1h0m-9-4h0m-1 13h0m-2-10h0m-1 2h0m-2 6h0m-3-4h0m-1 6h0m-2-13h0m-3 1h0m-11 5h0m-1-6h0m-3 6h0m-2 0h0m-3-5h0m-4 11h0m-1-2h0m-6 1h0m-6 4h0m-7-11h0m-10 9h0m-2-4h0m-6-1h0m-2 1h0m-1-1h0m-6-5h0m-3 9h0m-1 0h0m-3-12h0m0 3h0m-4 2h0m-7 0h0m-17 1h0m-5-4h0m-4 3h0m-22 2h0m-4-5h0m-2 6h0m-1-3h0m-4 4h0m-1 6h0m-1-3h0m-9 1h0m-1-13h0m-2 12h0m-5 3h0m-9-4h0m-4 0h0m-3-1h0m-10 1h0m-1-8h0m-22-3h0m-9 13h0m-19 0h0m-2-2h0m0-11h0m-4 7h0m-4-6h0m-18 5h0m-1-5h0m-2 10h0m-16-3h0m-3 2h0m-6 1h0m-17 4h0m-1 0h0m-1-3h0m-30-1h0m0-8h0m-7 7h0m-18-4h0m-7-3h0m-5 4h0m-7 7h0m-2-8h0m-7-2h0m-68-3h0m-72 12h0m-12 8h0m99 3h0m35-7h0m2 8h0m29-7h0m18 10h0m15-10h0m3 7h0m6-3h0m15 8h0m3-9h0m14 8h0m1-7h0m14-1h0m2-3h0m1 0h0m5 3h0m6-1h0m4 0h0m4-3h0m6 7h0m2 3h0m10 1h0m14-2h0m18-8h0m5 5h0m3-5h0m6 13h0m7-15h0m1 2h0m4 7h0m0-8h0m7 2h0m3 11h0m10-11h0m10 3h0m6-2h0m12 2h0m4 1h0m2 7h0m3-12h0m2 6h0m2-4h0m6 7h0m1-3h0m5-1h0m4 5h0m4-7h0m24-1h0m29-1h0m7 7h0m4-3h0m7 7h0m6-6h0m0-1h0m11 8h0m4-9h0m0-4h0m3 8h0m1-6h0m7 1h0m1 0h0m13 10h0m6-8h0m2-4h0m11 11h0m1-1h0m3 1h0m3-11h0m6 6h0m2-9h0m8 1h0m1-1h0m0 1h0m3 1h0m35 9h0m16-5h0m16 1h0m2 12h0m-12 8h0m-55-11h0m-10 6h0m-4-5h0m-28 2h0m-3 10h0m0-7h0m-6 7h0m-5-10h0m0 3h0m0 9h0m-2-15h0m-2 11h0m-6-5h0m0-4h0m-2 6h0m-15 6h0m-2-7h0m-10-4h0m-3 7h0m0-7h0m-5 3h0m-4 7h0m-2-1h0m0-9h0m-19 1h0m-4 8h0m-7-8h0m-6 5h0m-7-7h0m-5 12h0m-1-3h0m-21 3h0m-18-11h0m-4 6h0m-7 0h0m-10-5h0m-1 6h0m-2 5h0m-2-15h0m-18 15h0m-2-10h0m-10 9h0m-8-7h0m-20 7h0m-2-1h0m-1-12h0m-7 10h0m-12-6h0m-13 1h0m-2 0h0m0 0h0m-2 3h0m0 4h0m-1-10h0m-7 7h0m-2-1h0m-4-9h0m-9 7h0m-5-7h0m-12 3h0m-5 8h0m-8-1h0m-10 2h0m-1 2h0m-3-11h0m-23 7h0m-15-7h0m-1 8h0m-21 3h0m-6-10h0m-133 6h0m41 17h0m80-8h0m22-3h0m1 5h0m13 7h0m5-5h0m6 7h0m14-8h0m0 7h0m6-2h0m8-9h0m7 13h0m2 0h0m5-5h0m2-7h0m1 10h0m3-1h0m3-5h0m4 0h0m1 8h0m0-5h0m22-3h0m5 6h0m9-10h0m6 10h0m5-1h0m7-4h0m15 5h0m17 0h0m2-13h0m10 1h0m1 0h0m2 5h0m21 2h0m0-6h0m8 12h0m1 1h0m6-9h0m8-3h0m4-2h0m8-1h0m5 7h0m1 0h0m9 0h0m7 5h0m15-5h0m2-4h0m4 0h0m2 3h0m2 9h0m7-8h0m6-2h0m15-1h0m14-3h0m0 2h0m0 3h0m8-5h0m0 4h0m3 5h0m6-3h0m3 0h0m0 6h0m4 1h0m0-3h0m1 2h0m11-9h0m2 0h0m8 4h0m4-7h0m7 13h0m3-11h0m5-3h0m4 1h0m1 8h0m28 1h0m7-3h0m6-5h0m17 8h0m13-6h0m13 1h0m2 5h0m24 4h0m8-9h0m-1 15h0m-1-4h0m-5 13h0m-12 1h0m-25-12h0m-1 2h0m-7-1h0m-19 0h0m-11 7h0m-9-1h0m-5 6h0m0-1h0m-6 0h0m-4 1h0m-13-4h0m-6 1h0m-7 3h0m-4-5h0m-4 3h0m-1-13h0m-3 10h0m-7 2h0m-25-3h0m-2 5h0m-12-8h0m-3-2h0m-1 6h0m-4 5h0m-1-5h0m0-4h0m-3-3h0m-1 3h0m-1 3h0m-10 1h0m-1-5h0m0-4h0m-4 3h0m-8 2h0m-6-5h0m-10 1h0m-16 0h0m-2-2h0m-1 1h0m-2 5h0m-3 6h0m-2-11h0m-6 5h0m-1 6h0m-2-1h0m-10-6h0m-5 10h0m-9-13h0m-10 13h0m-2-2h0m-12-2h0m0-7h0m0-4h0m-4 14h0m-3-6h0m-3 2h0m-4 0h0m-1 5h0m-3-1h0m-2-6h0m0-2h0m-8-4h0m-9 9h0m-3 0h0m-4-9h0m-5 8h0m-9-1h0m0 5h0m-12-8h0m-14 2h0m-4-7h0m-7 7h0m-15 1h0m-3 4h0m-12-13h0m-5 6h0m-8 0h0m-3-5h0m-6 11h0m-5 1h0m0-3h0m-4 5h0m-4-3h0m-8-2h0m-2 0h0m-69 3h0m-4-1h0m-12-8h0m-3 15h0m2 5h0m122 4h0m14-8h0m3 0h0m0 7h0m4-3h0m28 4h0m3 0h0m24-7h0m3-4h0m2 9h0m1 4h0m6-2h0m12-7h0m1 1h0m8 4h0m5-2h0m0-1h0m3 3h0m20 4h0m2-12h0m5 3h0m4 7h0m1-12h0m0 3h0m1 1h0m1 1h0m7 3h0m7 1h0m3-2h0m9 1h0m5 0h0m4-7h0m9 1h0m2 5h0m0-6h0m4 6h0m1-7h0m1 14h0m3-14h0m2 3h0m6 7h0m2 2h0m4-2h0m5-10h0m6 14h0m1-4h0m6-6h0m11 2h0m5-2h0m1 6h0m2-10h0m3 6h0m2-1h0m9-2h0m0-2h0m9 12h0m1-5h0m2 6h0m2-3h0m9 4h0m1-13h0m25-2h0m2 5h0m0 6h0m6-4h0m14 2h0m3-5h0m6 2h0m3-2h0m2 8h0m3-10h0m1 1h0m12 6h0m2 1h0m2 0h0m38 2h0m9-2h0m6-9h0m4-1h0m2 13h0m2-5h0m5-2h0m2-4h0m9 13h0m11-7h0m1 13h0m-3-3h0m-2 0h0m-11 13h0m-5-8h0m-7-4h0m-1-2h0m-19-1h0m-5 11h0m-1-7h0m-5 0h0m-11 6h0m-9-8h0m-8 0h0m-2 4h0m0 8h0m-2-11h0m-12 3h0m-1 9h0m-2-13h0m-4 4h0m0-1h0m-4 8h0m-6-2h0m-2 2h0m-10-4h0m-7-1h0m0-8h0m-7 7h0m-9 6h0m-2-6h0m0 0h0m-7 5h0m-1-9h0m-6-1h0m-2 5h0m-24-4h0m-11 4h0m-13 2h0m-13 1h0m-5-9h0m-2 11h0m0-12h0m-17 15h0m-1-11h0m-4 2h0m-3-3h0m-3 1h0m-1 2h0m-4 0h0m-2-5h0m-1 1h0m-1 9h0m-7-9h0m-1 10h0m-9-10h0m-2 2h0m-13 5h0m-6 0h0m-11 4h0m-13-9h0m-3 9h0m-5-13h0m-12 1h0m-7 13h0m-2-4h0m-9-10h0m-21 8h0m-12 4h0m-3-2h0m-2-6h0m-10 4h0m-39 5h0m-1-1h0m-10-4h0m-1-6h0m-65 3h0m-9 9h0m-2-11h0m-36 22h0m52-5h0m75 3h0m26-5h0m4 6h0m7-3h0m17 8h0m1-9h0m4-4h0m1 4h0m19 3h0m3-7h0m10 8h0m4 5h0m7-10h0m15 8h0m9-11h0m4 12h0m15-1h0m5-5h0m14 0h0m22 1h0m10 5h0m3 3h0m5-6h0m8-4h0m14 3h0m17 0h0m1 2h0m6-9h0m12 8h0m0-1h0m2 6h0m6-7h0m6-6h0m1 0h0m1 3h0m11 0h0m4 0h0m2-2h0m8 5h0m2 2h0m13-1h0m4 4h0m2-11h0m17 5h0m9-5h0m7 7h0m6 3h0m4-1h0m4-9h0m6 0h0m2 8h0m0 6h0m5 0h0m6-5h0m18-6h0m35-4h0m2 0h0m1 6h0m12 4h0m7 2h0m2-6h0m3-2h0m-2 20h0m-3-3h0m-6-1h0m-2 4h0m-8-5h0m-27 4h0m-18 2h0m-3-2h0m-11-1h0m-9 8h0m-9-5h0m-4 1h0m-8 0h0m-2-4h0m-4 2h0m-1 2h0m-12-7h0m-2 9h0m-1-11h0m-29 2h0m-6-2h0m0 9h0m-4-8h0m-2 9h0m-3-11h0m-12 12h0m-20 0h0m-4-2h0m-9-10h0m-12 14h0m-5-12h0m-14 5h0m-1 0h0m-11 4h0m-11-11h0m-10 12h0m-1-11h0m0 11h0m-7-5h0m-7-6h0m-7 8h0m0-8h0m-2 6h0m-5-2h0m-20 10h0m-14-15h0m-4 15h0m0-5h0m-5-3h0m-1-4h0m-16 6h0m-1 0h0m-4 2h0m-1-10h0m-34 2h0m-4 12h0m-6-6h0m-17 5h0m-94-14h0m-16 27h0m12-10h0m47 6h0m21 7h0m6-12h0m18-2h0m4 5h0m11 2h0m1-3h0m11 2h0m16 6h0m13-7h0m4 7h0m0-3h0m7 3h0m14-11h0m2 9h0m5-8h0m38 4h0m3-6h0m12 3h0m21-3h0m6 6h0m7-1h0m1-5h0m3 8h0m9 2h0m10-2h0m1-1h0m21 4h0m1-9h0m5 1h0m2 10h0m8-11h0m11 10h0m11-5h0m3 1h0m8-6h0m6 2h0m4 2h0m6 9h0m7-7h0m1 7h0m1-3h0m1-2h0m11-8h0m9 11h0m0-10h0m12 8h0m14 0h0m2-11h0m0 4h0m5 10h0m3-12h0m27 1h0m13 12h0m10-5h0m4-5h0m4 5h0m8 4h0m6-12h0m22-1h0m-6 17h0m-21 13h0m-13-10h0m-9-4h0m-17 1h0m-28 5h0m-7-3h0m-23 5h0m-3 3h0m-1-12h0m-5 8h0m-2 6h0m-9-11h0m-4 0h0m-1 6h0m-2-8h0m-1 6h0m-2-5h0m-10 7h0m-3 4h0m-6-12h0m-2 13h0m-2-10h0m0-2h0m-4 2h0m-3-4h0m-8 3h0m-18 5h0m-10 6h0m-5-3h0m-3 3h0m-1-1h0m-3-8h0m-6 1h0m-1-3h0m-1-2h0m0-1h0m0 10h0m-2-3h0m-4 6h0m-4-5h0m-1-7h0m-1 13h0m-6 0h0m-6-9h0m-1-1h0m-2 9h0m0-10h0m-5 6h0m-2-2h0m-8-6h0m-1 8h0m-3-2h0m-7-1h0m-11 2h0m-4 3h0m-15-3h0m-15-7h0m-3 12h0m-1-4h0m-19-3h0m-3-3h0m0 2h0m-14-1h0m-25 8h0m-4-12h0m-10 6h0m-9 2h0m-1-4h0m-11 11h0m-77-2h0m37 15h0m18-4h0m47-1h0m12 7h0m4-11h0m0 1h0m7 8h0m17 0h0m11-1h0m2 2h0m21 0h0m6-1h0m2-1h0m17-11h0m7 14h0m1 1h0m11-15h0m3 11h0m6 1h0m7-1h0m8-4h0m0-4h0m0 4h0m4 1h0m2-2h0m1-5h0m1 3h0m1-4h0m19 15h0m5-12h0m0-3h0m9 10h0m18-1h0m3 4h0m4-8h0m2 6h0m3-1h0m7 0h0m3-9h0m13 11h0m5 2h0m4 0h0m3-6h0m24-2h0m3-1h0m2 7h0m2-12h0m1 6h0m1-4h0m2 11h0m4-9h0m1-2h0m5-2h0m8 4h0m5-3h0m7-1h0m8 7h0m6-5h0m21 3h0m26 5h0m1-4h0m16 3h0m20 11h0m-31-2h0m-5 2h0m-59 2h0m-5-1h0m-2-5h0m-7 3h0m-15-3h0m-38 5h0m-11-5h0m-57 3h0m-4-1h0m-1 2h0m0-3h0m-4 4h0m-5 0h0m-1-2h0m-22 1h0m-2-1h0m-5 0h0m-39 1h0m-12-4h0m-58 2h0m-3-1h0m-3 0h0m-2 2h0m-15 1h0m-37-4h0m-82 2h0"/><path stroke="#f5dc9a" stroke-width="4.8" d="M255 996h0m31 7h0m23 1h0m7-1h0m39 1h0m7 3h0m3-5h0m22 4h0m16-5h0m2 0h0m4 1h0m33 2h0m16-6h0m40 3h0m19 4h0m12-8h0m23 7h0m3-6h0m90 5h0m8 3h0m4-8h0m52 0h0m41 5h0m1-5h0m8-1h0m18 3h0m5-2h0m15 5h0m1-4h0m15 22h0m-16-4h0m-13 4h0m-4-3h0m-31 4h0m-65-9h0m-28 4h0m-5 1h0m-112-7h0m0-3h0m-16 12h0m-5-3h0m-14-5h0m-38 0h0m-11-3h0m-13 11h0m-14-1h0m-6-9h0m-38 3h0m-50-4h0m-89 5h0m-5 9h0m-10-10h0m-12 16h0m64-5h0m70 5h0m8 10h0m32-13h0m5 2h0m1 3h0m7 5h0m20-9h0m97 12h0m13-2h0m19-6h0m2-4h0m6 1h0m3-4h0m5 9h0m40-4h0m1 6h0m2-11h0m14 10h0m64-9h0m8 11h0m0-10h0m60 1h0m5 5h0m9-3h0m15-1h0m5 7h0m10-6h0m4 5h0m19 19h0m-10-11h0m-40 10h0m0-6h0m-38 2h0m-21 6h0m-77-5h0m-3 1h0m-6-8h0m-26 3h0m-39 0h0m-4 8h0m-41-2h0m-49 2h0m-11-11h0m-19-2h0m-25 10h0m-53-3h0m-1-2h0m-25 2h0m-3 5h0m-13-2h0m-109-8h0m-32 22h0m59 6h0m69-8h0m9-1h0m3 6h0m69-1h0m19-10h0m41 9h0m36 2h0m8-11h0m52 13h0m2-11h0m3 5h0m6 2h0m13-8h0m58 1h0m49 8h0m60-4h0m10 1h0m24 4h0m2-10h0m14 0h0m7 1h0m9 12h0m26-5h0m10 14h0m-5 1h0m-5 6h0m-18-13h0m-9 0h0m-3 10h0m-1 0h0m-3-9h0m-8 1h0m-11 7h0m-38 0h0m-2-9h0m-14 1h0m-14 4h0m-28 6h0m-14-3h0m-2-4h0m-21 0h0m-25 0h0m-26-5h0m-48 3h0m-2 3h0m-46 3h0m-23-4h0m-38-1h0m-6 5h0m-1-6h0m-16-1h0m-2 13h0m-10-11h0m-25 8h0m-33-7h0m-21 5h0m-92 3h0m-8-3h0m-16 0h0m-38 6h0m18 14h0m24-2h0m86-4h0m18-4h0m23 7h0m13 3h0m28-5h0m3 6h0m8-12h0m2 4h0m2 0h0m17 0h0m4 5h0m23-8h0m4 2h0m32 6h0m9-11h0m1 3h0m55-2h0m5 1h0m16 1h0m19 11h0m26 0h0m20-13h0m0 13h0m50-9h0m8-4h0m105 13h0m5-14h0m6-1h0m11 13h0m1-8h0m17 10h0m10-6h0m3 2h0m1 9h0m-4 9h0m0-11h0m-7 7h0m-5 1h0m-52-4h0m-3 2h0m-4-6h0m-11 2h0m-50 7h0m-48-9h0m-2-1h0m-47 13h0m-5-5h0m-37 4h0m-5-7h0m-18 5h0m-50-7h0m-29-3h0m-5 5h0m-29-1h0m-20 10h0m-15-7h0m-12-1h0m-5-4h0m-25 2h0m-2-2h0m0-1h0m-9 4h0m-67-5h0m-20 22h0m17 6h0m21-11h0m56 7h0m3-5h0m11-4h0m37 5h0m16-4h0m51 14h0m7-7h0m0 4h0m6-9h0m6 9h0m9-9h0m2 9h0m76-4h0m36 4h0m9 1h0m16-6h0m17 0h0m2-1h0m15-3h0m10 9h0m50-7h0m40-5h0m5 13h0m2 0h0m2-3h0m9-5h0m2 7h0m4 0h0m18-11h0m3 6h0m2 4h0m6-10h0m3 6h0m3 2h0m8 6h0m2 0h0m7 15h0m-5-14h0m-21 9h0m-6 3h0m-3-8h0m-14 10h0m-9-11h0m-6-1h0m-14 6h0m-3-7h0m-15 13h0m-41-7h0m-31-7h0m-37 2h0m-15-1h0m-1 6h0m-4-2h0m-2 4h0m-21 4h0m-6-12h0m-84 3h0m-34 11h0m-1 0h0m-5-12h0m-10 9h0m-13 0h0m-7-7h0m-27-1h0m-3 10h0m-6-1h0m-43-7h0m-31 24h0m17-10h0m38 7h0m3-1h0m36-8h0m25 2h0m6 6h0m11 3h0m32-13h0m22 7h0m4 4h0m7-6h0m35-4h0m35 14h0m4-11h0m21-4h0m21 6h0m1 5h0m20 0h0m42-10h0m14 5h0m66 0h0m1 3h0m5 2h0m17 3h0m6-9h0m2-4h0m4 9h0m4 4h0m2-5h0m0-4h0m2-5h0m6 14h0m6-14h0m5 13h0m9 17h0m-8-13h0m-2 14h0m-29-11h0m-11 9h0m-9 1h0m-21-4h0m-7-10h0m-29 6h0m-27 5h0m-2-5h0m-25 9h0m-79-12h0m-27 0h0m-9 12h0m-1-5h0m-5 5h0m-10-5h0m-72-6h0m-21 3h0m-3 2h0m-41-4h0m-11 8h0m-94 0h0m-56 7h0m12 0h0m42-3h0m21 0h0m120 7h0m4 5h0m4-1h0m10 0h0m0 0h0m12-1h0m18 2h0m13-7h0m18 2h0m12 6h0m40-9h0m4 3h0m9 4h0m7-9h0m1 10h0m88-5h0m0-2h0m22-3h0m22-3h0m19 4h0m22 2h0m0 5h0m1-8h0m28 7h0m5-5h0m2-2h0m2 3h0m5-5h0m2 13h0m14-5h0m23-5h0m7 13h0m-6 11h0m-10 1h0m-2-10h0m-5 5h0m-5-6h0m-3-2h0m-9 12h0m-24-6h0m-19 2h0m-12 4h0m-4 0h0m-17-2h0m-28-2h0m-20 5h0m-3 1h0m-15-4h0m-8-5h0m-47 5h0m0-5h0m-23 6h0m-15 4h0m-26-5h0m-7-10h0m-10 7h0m-4-2h0m-18 5h0m-18 0h0m-11-10h0m-24 1h0m-22 6h0m-1 2h0m-20 2h0m-26-9h0m-12 7h0m-27 0h0m-21 5h0m-59 8h0m73-2h0m55 3h0m51 1h0m34-1h0m43-4h0m5 2h0m53 0h0m6 7h0m19-7h0m23 5h0m6-8h0m7 10h0m53-2h0m7 4h0m1-9h0m1 4h0m17 3h0m9 0h0m25-4h0m14 2h0m1 5h0m11-15h0m7 8h0m4 1h0m12-6h0m4 1h0m1 8h0m4-8h0m3-2h0m0 16h0m-10 3h0m-2-4h0m-2 13h0m-5-6h0m-6 4h0m-3-2h0m-12 2h0m0 0h0m-3-12h0m-4 6h0m-8 7h0m-18-2h0m-19-11h0m-65 0h0m-12 3h0m-2 4h0m-2 2h0m-61-9h0m-2 11h0m-44-3h0m-35 3h0m-39-6h0m-38 3h0m-11 4h0m-54-1h0m-64 7h0m67 10h0m57-11h0m28 1h0m6-2h0m38 9h0m22-4h0m15 5h0m13-10h0m5 9h0m31 5h0m28-2h0m7-11h0m6 6h0m7-6h0m7 7h0m23 7h0m34-5h0m2 0h0m77 0h0m1 0h0m21-9h0m6 12h0m20 0h0m1 1h0m3 0h0m11 5h0m-18 3h0m-18-6h0m-14 5h0m-25-4h0m-1 5h0m-84-4h0m-67 2h0m-73 1h0m-21-1h0m-34-3h0"/><path stroke="#c8461e" stroke-width="4.8" d="M172 998h0m7 4h0m3-1h0m22 5h0m1-3h0m1 4h0m72-4h0m20 2h0m20-4h0m9 4h0m66-5h0m1 7h0m29-2h0m3-8h0m22 8h0m13-7h0m27 7h0m14-1h0m28 2h0m7-6h0m30 6h0m14-1h0m33 0h0m18 2h0m19-11h0m13 5h0m1-5h0m10 11h0m1-8h0m27 3h0m13 5h0m20-6h0m17-5h0m3 3h0m15 5h0m6 0h0m2-1h0m3 4h0m1-6h0m1-1h0m6 3h0m8 3h0m3-6h0m1-3h0m12 22h0m0-3h0m-6-8h0m-1 4h0m-3 6h0m-1-6h0m-1-2h0m-5 12h0m-3-11h0m-1 9h0m-1-11h0m-10 6h0m-7 2h0m0-8h0m-1 5h0m-1 2h0m0 0h0m-1 4h0m-2-1h0m-1-5h0m-8-4h0m-5 12h0m-29 1h0m-4-6h0m-9 0h0m-4 5h0m-1-6h0m-3-7h0m-3 14h0m-19-15h0m-18 2h0m-3 3h0m-5 4h0m-2-6h0m-10 8h0m-13-8h0m-2 3h0m-24 5h0m-13 1h0m-17-12h0m-6 1h0m-5 6h0m-8 4h0m-27-2h0m-10-3h0m-56 0h0m-6 2h0m-18-4h0m-5 10h0m-10-5h0m-16-9h0m-3 12h0m-2 0h0m-5-6h0m-25 7h0m-6-5h0m-14 7h0m-4-11h0m-3-2h0m-5 4h0m-3 0h0m-5-2h0m0 1h0m-1-1h0m-1-3h0m-1 0h0m-4 1h0m-2 10h0m-9 1h0m-8-3h0m-4-5h0m0 5h0m-2 1h0m0 0h0m-4 1h0m-1-2h0m-4 2h0m-18 0h0m0-6h0m-26 4h0m-5-5h0m-3 5h0m-2-4h0m-3 2h0m-2-3h0m-6-4h0m-1 11h0m-20 2h0m-3-12h0m-2 11h0m-2 0h0m-34 12h0m25 5h0m1-14h0m1 7h0m1 5h0m2-6h0m9-3h0m2 0h0m3 7h0m14 0h0m5-2h0m2 2h0m1 3h0m0 0h0m11-9h0m3-4h0m13 0h0m7 13h0m9-12h0m4 6h0m1 7h0m4-3h0m10-9h0m1 13h0m4 0h0m3-5h0m3 0h0m1-6h0m1 4h0m31-6h0m3 0h0m2 2h0m11 7h0m10-11h0m1 6h0m1-2h0m1-1h0m4 0h0m0 9h0m8 2h0m11-7h0m9 5h0m1-3h0m31-5h0m6 4h0m29-4h0m4 2h0m7 7h0m23-8h0m8 4h0m10 5h0m11-4h0m15-1h0m17-6h0m3 11h0m6-6h0m6 2h0m12-2h0m33 0h0m10-3h0m12-3h0m22 5h0m15 5h0m7 3h0m58-7h0m4-6h0m19 6h0m1 0h0m0-1h0m1 8h0m0-10h0m0 9h0m1-9h0m3 9h0m3 1h0m8-8h0m3-7h0m23 3h0m1 2h0m0 2h0m5 1h0m2-8h0m4 7h0m5 13h0m-4 1h0m0 2h0m-1 0h0m0 0h0m0-3h0m-2 10h0m-4-4h0m-6-4h0m0-6h0m-2 14h0m-6-5h0m-11 5h0m-2-1h0m-9-10h0m0-3h0m-4 11h0m-6-11h0m-5 5h0m-6 8h0m-3-4h0m-3-2h0m-1 4h0m-7-1h0m-1-2h0m-3-6h0m-30 0h0m-6 9h0m0-3h0m-3-3h0m-19-1h0m-3 7h0m-13-3h0m-1 6h0m-15-1h0m-10-12h0m-48 4h0m-4 6h0m-6-10h0m0 8h0m-9-5h0m-16 1h0m-5 7h0m-10 1h0m-31 2h0m0-12h0m-9 6h0m-2 5h0m-5-6h0m-1-7h0m-52 14h0m-7-15h0m-9 10h0m-6-6h0m-10 7h0m-6 2h0m-4-3h0m-10 0h0m-5-7h0m0 2h0m-3 3h0m-12-5h0m-7 2h0m-11 5h0m-21-9h0m-4 14h0m-8-2h0m-19-12h0m-4 1h0m-2 2h0m-2 9h0m-18-3h0m-7 1h0m-11-1h0m0-9h0m0 8h0m-13 4h0m-4-2h0m-3 4h0m-10 0h0m-1-6h0m-9-4h0m0 0h0m-30-3h0m-1 10h0m-8-1h0m-1 14h0m3-7h0m7 11h0m16-6h0m3 5h0m7-9h0m3 4h0m2 8h0m5-5h0m1-1h0m7-8h0m8 0h0m8 11h0m5-8h0m23-4h0m4 10h0m12-7h0m3 1h0m12 2h0m1 5h0m27-3h0m18-1h0m13-6h0m4 0h0m8 3h0m1 4h0m1-7h0m72 11h0m13-12h0m95 14h0m28 0h0m84-8h0m2-4h0m32 2h0m45 5h0m3 3h0m3-7h0m13-5h0m2 3h0m1 2h0m1 5h0m1-5h0m2 8h0m7 0h0m2-7h0m2 3h0m3-7h0m3 7h0m1-4h0m0-2h0m3 5h0m5 7h0m2-5h0m2 1h0m1 1h0m1 0h0m4-12h0m2 3h0m2 7h0m2 4h0m2-5h0m1-7h0m0 1h0m4 10h0m3 1h0m1-3h0m1-6h0m2 3h0m2 3h0m-3 14h0m0-1h0m-2 3h0m0-4h0m-1 5h0m-6-2h0m-2-6h0m-1 5h0m-9 4h0m-3-5h0m-3-7h0m-1 8h0m-2-8h0m-1 11h0m-2-12h0m0 1h0m-5 4h0m-3 3h0m0 6h0m-2-10h0m-1 3h0m-3 4h0m0-10h0m-5 9h0m-2-7h0m-1 9h0m-15 3h0m-3-13h0m-1 8h0m-17-6h0m-14 10h0m-4-1h0m-23-12h0m-26 9h0m-18-2h0m-3-6h0m-7 0h0m-33 11h0m-9-11h0m-9 9h0m-19-3h0m-12 5h0m-5-12h0m-30 4h0m-1 9h0m-33-6h0m-13-4h0m-17 9h0m-18-9h0m-12 0h0m-18-1h0m-5 7h0m-2-5h0m-22-5h0m-24 2h0m-13 4h0m-5 6h0m-34 0h0m-9-2h0m-1-5h0m0 7h0m-9-4h0m-24-1h0m-4-6h0m-6 1h0m-7 9h0m0 4h0m-2-9h0m-1 1h0m-18 5h0m-11-8h0m-2 8h0m-4-4h0m-1 7h0m0-3h0m-22 1h0m-7-9h0m-2-2h0m-3 5h0m-1-1h0m-12 14h0m8 4h0m4-1h0m7 4h0m2-2h0m11 1h0m3-9h0m6 12h0m2 2h0m2-7h0m15-5h0m10 10h0m12 2h0m5-7h0m2-5h0m12-2h0m4 2h0m5 8h0m6-8h0m17 0h0m1 1h0m12 2h0m33 4h0m1 1h0m9-5h0m1 0h0m10-2h0m5 2h0m4 9h0m5-7h0m8-6h0m2-1h0m30 4h0m0 2h0m18 0h0m9 7h0m9-10h0m34 7h0m9-6h0m4-5h0m8 0h0m8 3h0m3 2h0m0 5h0m7 4h0m13-10h0m1-4h0m21 2h0m9 0h0m62 4h0m6-5h0m26 9h0m4-9h0m9 10h0m27-10h0m7 3h0m21 9h0m3-6h0m1-2h0m19-2h0m11 8h0m4 3h0m0-7h0m1-7h0m0 7h0m3-4h0m0 11h0m3-3h0m2-4h0m2 3h0m0 0h0m1-9h0m2 2h0m1-2h0m0 1h0m0 4h0m2 8h0m0-4h0m0 3h0m1-12h0m6 5h0m1-1h0m1 10h0m2-9h0m1 1h0m3 1h0m1 1h0m5-8h0m1-1h0m0 14h0m0-11h0m2 3h0m1-3h0m1 7h0m3 2h0m1-6h0m2-4h0m3 6h0m1 1h0m1-2h0m10-4h0m2 7h0m3 9h0m-1 2h0m-3-1h0m-3 10h0m-1-6h0m-1 0h0m-1-1h0m-1 4h0m-1-3h0m0 1h0m0-1h0m-1 3h0m0-11h0m0 5h0m-2 0h0m-4-4h0m-4 10h0m-5-3h0m-2 3h0m0-10h0m0 3h0m-1-2h0m-1-1h0m0 4h0m-2 3h0m-2-3h0m-1-3h0m-4 12h0m-9-9h0m-3 2h0m-1 6h0m-1 2h0m0-3h0m-1-1h0m-6-1h0m-2 1h0m0-2h0m-1 6h0m-7-7h0m-15-6h0m-2 11h0m-5-6h0m-68 2h0m-6 0h0m-22 5h0m-2-7h0m-34-1h0m-3 9h0m-4-7h0m-7-6h0m-67 0h0m-42 4h0m-1-2h0m-2 0h0m-10 3h0m-9-6h0m-22 3h0m-22 10h0m-25-7h0m-28-6h0m-1 0h0m-2 3h0m-19 4h0m-13 3h0m-17-1h0m-6-8h0m-3 9h0m-7 3h0m-2-5h0m-3 3h0m0-3h0m-5 4h0m-7-12h0m-9 11h0m-13-8h0m-7 0h0m-1 10h0m-1-12h0m-6 6h0m-16 1h0m-7-4h0m-4-4h0m-3 8h0m-4-8h0m-5 3h0m0 8h0m-17-5h0m-6 7h0m-11-9h0m17 19h0m3-2h0m1 8h0m0-14h0m3 8h0m6 1h0m10 6h0m3-13h0m3 4h0m1-3h0m4 6h0m3 5h0m0-9h0m4 0h0m7-3h0m1 11h0m12 2h0m1-10h0m15 2h0m6-7h0m3 4h0m19 4h0m2-1h0m6-3h0m10 4h0m24-4h0m13-3h0m5 12h0m4-4h0m43-3h0m11 5h0m26-4h0m41 6h0m1-7h0m12 9h0m6-12h0m70 8h0m2 2h0m41-4h0m1-6h0m8-1h0m69 4h0m1-1h0m71 2h0m3-5h0m1 8h0m2 1h0m6 1h0m0-7h0m1 1h0m2 8h0m5 0h0m0-7h0m4 2h0m1 5h0m0-13h0m1 13h0m9-12h0m1 6h0m4 1h0m0-4h0m1 7h0m2-11h0m2-1h0m0 3h0m2-1h0m2-1h0m3 10h0m2-3h0m3-3h0m1-4h0m1 8h0m4-3h0m5 9h0m0-2h0m2-9h0m0-3h0m2 12h0m1-1h0m2-4h0m5 20h0m-2-3h0m-1-4h0m0 10h0m-2-11h0m0-2h0m0 12h0m-3-6h0m0 2h0m-2-10h0m-6 2h0m-2-2h0m-6 5h0m-3 10h0m-2-9h0m-1 7h0m-8 2h0m-7-15h0m-3 9h0m0 5h0m-1-6h0m-6 7h0m-7-6h0m0-1h0m-2 3h0m0-2h0m-2-4h0m-3 2h0m-1-4h0m-1-1h0m-5 8h0m-3 4h0m0-8h0m0-5h0m-42-1h0m-1 7h0m-1 4h0m-11-5h0m-81 4h0m-7 3h0m-17 2h0m-6-15h0m-18 12h0m-30 2h0m-6-7h0m-22 8h0m-10-14h0m-7 12h0m-3 2h0m-23 0h0m-20-3h0m-16-1h0m-1-8h0m-35 12h0m-2-10h0m-33 0h0m-9-3h0m-18 4h0m-3 3h0m-1-4h0m-4 8h0m-1 0h0m-1-7h0m-5-5h0m-1 14h0m-9-4h0m-12-5h0m-14 2h0m-11-7h0m0 10h0m-1 2h0m-1-13h0m-1 15h0m-6-8h0m-13-7h0m-1 6h0m-13-6h0m-6 8h0m-8 0h0m0 4h0m-2-4h0m-1 1h0m-4-1h0m-13 1h0m-6 1h0m9 7h0m14 8h0m8 3h0m0-7h0m6-1h0m10 8h0m2 2h0m4-8h0m5 9h0m9-5h0m14 5h0m2 0h0m2-4h0m3 1h0m1 2h0m4-11h0m1 3h0m2 4h0m4-1h0m0 2h0m11-10h0m2 10h0m4-4h0m3-4h0m1-3h0m7 9h0m2 2h0m32 2h0m1-11h0m0 9h0m9-4h0m6-6h0m14 10h0m5 4h0m34-14h0m38 3h0m2 9h0m25-8h0m14 0h0m3 5h0m11-4h0m25 8h0m10-11h0m0 3h0m30 1h0m14 8h0m46-8h0m3 8h0m28-1h0m33 1h0m27-14h0m3 10h0m14-5h0m0-3h0m1-2h0m4 2h0m2-3h0m3 8h0m1 1h0m3 5h0m0-8h0m5-4h0m1 3h0m1 6h0m8-2h0m1-6h0m5 8h0m1-2h0m8-7h0m2-2h0m0 5h0m1-2h0m0 2h0m1-4h0m1 10h0m2-10h0m0 5h0m1-1h0m1 6h0m5-1h0m2-8h0m2 12h0m1-12h0m5 9h0m1-7h0m7 1h0m0-3h0m0 7h0m1-6h0m6 11h0m1 5h0m-2 7h0m-1-1h0m-6 6h0m-1-10h0m-6 7h0m-2-9h0m-12-1h0m-1 9h0m-1 1h0m-1-3h0m-3-7h0m-1 1h0m-6 2h0m0 9h0m-2 1h0m0-13h0m-8 8h0m-2-10h0m-3 11h0m-3 3h0m-2-5h0m-2-2h0m-11 1h0m-3 1h0m-4-9h0m-1 4h0m0 11h0m-10-10h0m-53-3h0m-19 4h0m-14 9h0m-18 0h0m-21 0h0m-2-7h0m-15-8h0m-4 6h0m-31-6h0m-6 10h0m-8 4h0m-7-11h0m-1-3h0m-16 4h0m-2-1h0m-23 12h0m-7 0h0m-18-1h0m0-7h0m-9-7h0m-2 1h0m0 13h0m-4-1h0m-5-8h0m-1 7h0m-5-4h0m-7 3h0m-5-5h0m-25 1h0m-11 4h0m0-2h0m-40-4h0m-5-2h0m-4 6h0m-7 4h0m-6-11h0m0 1h0m-5 2h0m-2-2h0m-6 12h0m-5-11h0m-2 2h0m-1 5h0m-6 1h0m-6-8h0m-2 10h0m-24-8h0m-3 0h0m-2 2h0m-4-3h0m-22-1h0m-8 2h0m-2-6h0m-15 13h0m-11-7h0m35 11h0m4-1h0m4 11h0m1 4h0m2-9h0m0 0h0m2-5h0m0 5h0m16-1h0m2 4h0m12 6h0m2-4h0m2-3h0m6 2h0m5 4h0m1-4h0m1 1h0m23 1h0m2-3h0m21-8h0m2 3h0m16 3h0m8-5h0m20 2h0m8 6h0m4-4h0m1 9h0m17-3h0m24-7h0m2-3h0m2 10h0m7 0h0m4-5h0m20-1h0m6 4h0m7-1h0m17 3h0m14-4h0m24-1h0m6 3h0m17 5h0m1-5h0m12-9h0m23-1h0m10 1h0m1 8h0m8-6h0m54-3h0m19 2h0m42 13h0m1-3h0m2-1h0m1-9h0m6 0h0m2 0h0m1 11h0m3-8h0m1-5h0m4 2h0m2 5h0m0 2h0m2-5h0m1 3h0m13-2h0m1-4h0m2 12h0m0-13h0m0 15h0m3-5h0m2-8h0m0 5h0m4-3h0m2 9h0m4-10h0m5 5h0m1 1h0m0-4h0m2 8h0m3-12h0m0 1h0m2-1h0m0 5h0m1-6h0m3 7h0m4-2h0m6 10h0m1-12h0m4-2h0m2 29h0m-4-14h0m-1 9h0m-5-9h0m-2 1h0m-1 9h0m-9-5h0m-4 10h0m-1-2h0m0-2h0m-3-4h0m-1-1h0m-2 1h0m0 5h0m-7-9h0m-2 6h0m-1 4h0m-3-13h0m-3 13h0m-1-4h0m-1-7h0m0-1h0m-1 3h0m-8 11h0m0-6h0m-7-1h0m-4 7h0m-2-7h0m-4 1h0m-2-6h0m-1 11h0m-3-11h0m-3 11h0m-2 0h0m-41-7h0m0 5h0m-8-3h0m-26 6h0m-2-5h0m-10-7h0m-14-1h0m-10 1h0m-37-2h0m-11 11h0m-84-3h0m-11 2h0m-2-8h0m-8 5h0m-19-6h0m-11 4h0m-15 2h0m-10 6h0m-4 0h0m-2-4h0m-3 4h0m0-4h0m0-6h0m-1 11h0m-25-11h0m-6 0h0m-3 0h0m-28 1h0m-2-3h0m0 8h0m0 5h0m-19-7h0m-5-7h0m-1 11h0m-17-4h0m-1-3h0m-5-4h0m-4 3h0m-2 9h0m-8-13h0m0 4h0m-24-4h0m-4 11h0m-9 2h0m-19-12h0m8 17h0m11-1h0m8 9h0m9-5h0m3 9h0m3-8h0m8 2h0m8 7h0m17-12h0m7 5h0m6 6h0m20-12h0m8 6h0m6 2h0m1 5h0m14 0h0m0-7h0m12-2h0m0-1h0m1 9h0m2-14h0m28 8h0m3 2h0m3-8h0m3 12h0m1-6h0m18 0h0m0-5h0m6 7h0m9-6h0m10-3h0m9 11h0m10-2h0m6 2h0m15-7h0m5-1h0m17 8h0m15 3h0m3-4h0m2 1h0m10-8h0m2 1h0m20 9h0m17-6h0m61-7h0m12 13h0m2-7h0m2-1h0m57 4h0m11 1h0m1-5h0m1-6h0m0 4h0m11 8h0m3-10h0m1 3h0m1 3h0m7-1h0m5-5h0m3 0h0m6 7h0m1-6h0m2 1h0m3 1h0m5 1h0m2-4h0m3 12h0m3-12h0m2 10h0m7-6h0m0 2h0m5 0h0m0 0h0m2 0h0m5-4h0m0 11h0m4-1h0m3-3h0m0 0h0m0-2h0m1-5h0m5 1h0m0 7h0m0 10h0m-1-2h0m-1 8h0m-4 3h0m0-5h0m-4 4h0m-2-10h0m0 6h0m0 4h0m-1-5h0m-4-6h0m-2 11h0m-8-4h0m-6-8h0m-1 4h0m-2 1h0m0 8h0m-3-7h0m-2-2h0m-1 3h0m0-7h0m-4 13h0m-1-10h0m0 0h0m-3 9h0m-1-2h0m-5-4h0m0-7h0m0 14h0m-1-2h0m-1-13h0m-3 0h0m-1 7h0m0-6h0m-2 4h0m-1 0h0m-4-2h0m-3 3h0m-1-1h0m-2-4h0m-1 9h0m-3 4h0m-1-5h0m-5 5h0m0 0h0m-2-2h0m-1-9h0m-7 2h0m-25-4h0m-7 4h0m-1 7h0m-5-3h0m-3 4h0m-32-11h0m-5 6h0m-10 2h0m-10-6h0m-1 9h0m-44-8h0m-6-4h0m-1 7h0m-33-7h0m-15 5h0m-11 7h0m-56-10h0m-26 6h0m-42 0h0m-8 0h0m-7-4h0m-4 0h0m-1 1h0m-13 5h0m-2 3h0m-4-14h0m-7 9h0m-9 5h0m-1-11h0m-1 11h0m-6-7h0m0 6h0m-5-6h0m-13 8h0m-12-5h0m-7-1h0m-1-1h0m-2-1h0m-1 1h0m-1 6h0m-1-5h0m-7-6h0m-4 7h0m-9-1h0m-11-2h0m14 10h0m1 9h0m3 3h0m5-2h0m1-1h0m10-8h0m8-1h0m9 10h0m0-11h0m24 4h0m5 0h0m4 6h0m4 4h0m3-8h0m17 9h0m4-3h0m13-2h0m4-4h0m32-6h0m2 6h0m19-2h0m31-1h0m11 9h0m5-2h0m23-9h0m3 11h0m25-9h0m17 1h0m18 5h0m19-8h0m25 13h0m9-11h0m32 4h0m10-1h0m61 5h0m3-1h0m3-6h0m1 9h0m1 0h0m1-5h0m9-2h0m1 8h0m2-7h0m4-5h0m11 9h0m0-9h0m7-1h0m0 10h0m3 2h0m0 2h0m0-9h0m3 7h0m0 2h0m1-10h0m6 7h0m1 0h0m1 1h0m1-4h0m1 2h0m3-4h0m6 0h0m3 4h0m2-4h0m0 3h0m2 5h0m3-6h0m3 4h0m3 0h0m1 1h0m6-12h0m1 1h0m2 10h0m-34 5h0m-7 1h0m-5-3h0m-10 5h0m-2-1h0m-10 1h0m-1-5h0m-13 1h0m-2 3h0m-4 0h0m-60-2h0m-63-2h0m-18 4h0m-42-1h0m-33-3h0m-73 2h0m-4 3h0m-10-2h0m-21-3h0m-19 4h0m-5-1h0m-23 1h0m-9 2h0m-19-6h0m-4 1h0m-2-1h0m0 3h0m-26-2h0m-11 1h0m-2 1h0"/><path stroke="#a31ef0" stroke-width="4.8" d="M170 996h0m2 9h0m56 2h0m19-1h0m33-6h0m36 3h0m3-3h0m7 5h0m12 1h0m91-8h0m4 0h0m18 6h0m17-2h0m8-5h0m12 6h0m8-3h0m48 3h0m9-3h0m5 7h0m9-4h0m3 3h0m20-4h0m10 0h0m35 0h0m15 0h0m13 0h0m2-5h0m1 6h0m15-3h0m48-1h0m1-1h0m10 1h0m16 0h0m28 0h0m5 6h0m-6 9h0m-12-2h0m-15 3h0m-2 5h0m-4-1h0m-14-2h0m-12-1h0m-7-3h0m-4 3h0m-1-5h0m-1 11h0m-1-4h0m-1-8h0m-11-2h0m-4 3h0m-8 0h0m-12 3h0m-3 5h0m-4-5h0m-6-3h0m-5 0h0m-9 1h0m-3 0h0m-5 1h0m-24 8h0m-25-1h0m-20-9h0m-1 2h0m-17 8h0m-3 2h0m-13-13h0m-3 4h0m-15 1h0m-10-5h0m-1 1h0m-5 11h0m-3 0h0m-5-2h0m-16-6h0m-8 7h0m-1-9h0m-16 7h0m-2-8h0m-2-2h0m-2 5h0m-2-6h0m-23 8h0m-3-8h0m-11 10h0m-10-10h0m-10 8h0m0-1h0m-53 3h0m-1-4h0m-15-5h0m-109 7h0m-23 5h0m-2 4h0m30 11h0m1-3h0m7-5h0m19 11h0m13-1h0m27-10h0m24-4h0m0 0h0m4 1h0m5 11h0m16 0h0m21-8h0m9 1h0m3 0h0m9 8h0m22 0h0m29-10h0m6 9h0m6-10h0m3 13h0m5-5h0m2 3h0m3 1h0m9-10h0m12 6h0m6 1h0m16-4h0m14 2h0m2-7h0m5 5h0m7-7h0m2 2h0m14 11h0m14-11h0m0 8h0m12-7h0m4 7h0m9 0h0m12-9h0m23 5h0m27-1h0m5-5h0m6 9h0m6 1h0m1 3h0m32-12h0m1 8h0m12 4h0m2-10h0m1 12h0m39-13h0m2 7h0m16 5h0m31-7h0m16-5h0m17 8h0m2 20h0m-1-14h0m-13 3h0m-1-1h0m-44 7h0m-10-5h0m-29 11h0m0-14h0m-16 11h0m-10-9h0m-11 9h0m-5-1h0m-7-10h0m-2 4h0m-29 8h0m-5-5h0m-8-7h0m-1 9h0m-4-6h0m-34-4h0m0 0h0m-12 9h0m-7-2h0m-1-5h0m-6-2h0m-14 7h0m-1-7h0m-9 1h0m-1 5h0m-22-4h0m-2 2h0m-1-2h0m-9 5h0m-9 7h0m-11-14h0m-4 11h0m-6-2h0m-20 0h0m-3 5h0m-49-14h0m-2 9h0m-3-6h0m-7 11h0m-30-13h0m-3 6h0m-4 1h0m-25 1h0m-19 3h0m0 3h0m-4-5h0m-3-1h0m-9 6h0m-76-6h0m-12-3h0m-46 7h0m4 4h0m0 12h0m24-4h0m14-9h0m30 2h0m5 3h0m42 4h0m6 3h0m21-11h0m21 1h0m9 8h0m18-8h0m1 8h0m26-2h0m4-2h0m2-1h0m10-5h0m41 5h0m6 9h0m1 0h0m2-11h0m28 10h0m17 2h0m2-3h0m1-2h0m7-5h0m17 4h0m5 4h0m18-9h0m16 7h0m0 1h0m13-11h0m6 5h0m20 6h0m11 3h0m14-7h0m1-5h0m4 5h0m16-5h0m0 3h0m1 4h0m19-8h0m12 4h0m42 6h0m12-11h0m3 1h0m33 1h0m55 22h0m-10 6h0m-29-13h0m-6 7h0m-9 5h0m-8-12h0m-12 4h0m-9-1h0m-8 6h0m-22-4h0m-5 0h0m-14 7h0m-11 0h0m-8 0h0m-30-11h0m-1 2h0m-2-1h0m-1 2h0m-13-2h0m-2 0h0m-11 7h0m-16-7h0m-25 5h0m-9-3h0m-1 0h0m-1-2h0m-1 11h0m-3 0h0m-10-12h0m-3 11h0m0-3h0m-39-6h0m-6 8h0m-10 1h0m-9-8h0m-3 4h0m-11-1h0m-2-6h0m-4 2h0m-29 9h0m-8-10h0m-28 6h0m0-1h0m-8-1h0m-4-3h0m-4-4h0m-8 14h0m-13-4h0m-14-10h0m-6 1h0m-3 11h0m-41-4h0m-7-3h0m-13 0h0m-4-6h0m-6 13h0m-83 8h0m44 8h0m71-10h0m42 0h0m8 5h0m0-3h0m10-2h0m0-2h0m15 12h0m10-10h0m1 10h0m7 2h0m9-5h0m15-9h0m5 1h0m20 5h0m2 0h0m9 2h0m2-8h0m0 7h0m19 3h0m12-4h0m5-4h0m9 8h0m16-4h0m5-7h0m5 15h0m4-2h0m0-1h0m21 2h0m7-6h0m20 3h0m2-9h0m3-1h0m8 6h0m11 8h0m2 0h0m11-1h0m3 0h0m0 0h0m6-12h0m0 12h0m1-13h0m31 1h0m5 8h0m10 0h0m4-7h0m7-1h0m5 5h0m3 7h0m3-4h0m1-5h0m3 9h0m2-2h0m1-10h0m18 9h0m8-11h0m11 2h0m4 8h0m8 5h0m4-11h0m3 6h0m24-9h0m22 5h0m9 6h0m32-4h0m-20 10h0m-8 6h0m-5-4h0m-19 1h0m-15-2h0m-10 12h0m-6-9h0m-10 0h0m-14-5h0m-5 0h0m-10 2h0m-2 8h0m-2 2h0m-46-6h0m-11-1h0m-22 3h0m0 2h0m-22 4h0m-8-7h0m-1-6h0m-1 9h0m-17-10h0m-18 5h0m-4-4h0m-5 7h0m-6 0h0m-4-2h0m-4 6h0m-20-13h0m-5 9h0m-2-3h0m-2 3h0m-8-3h0m-15-3h0m-29 8h0m-3 3h0m0-7h0m-5 0h0m-6 3h0m-11-4h0m-7 8h0m-25 0h0m0-6h0m-12-7h0m-2 7h0m-3-1h0m-12 5h0m-76-10h0m-21 12h0m-2-1h0m-21-10h0m0 10h0m-31 6h0m56 4h0m51 3h0m4-4h0m11 3h0m19-1h0m26 5h0m6 1h0m12-1h0m20-9h0m1 3h0m3 0h0m2-1h0m8-4h0m9-1h0m3 0h0m18 14h0m5-1h0m5-13h0m0 14h0m2-13h0m16 3h0m17 7h0m8-5h0m25 2h0m5-3h0m5 9h0m8-4h0m9-9h0m3 7h0m3-6h0m9 4h0m27 5h0m1 0h0m3-8h0m0 0h0m2 6h0m6-8h0m1-2h0m5 4h0m6 8h0m2 1h0m2 2h0m39-3h0m5-3h0m3-1h0m22-4h0m0 4h0m8 6h0m10-14h0m25 1h0m2 8h0m1 2h0m15-11h0m45 5h0m6 7h0m3 4h0m-14 13h0m-3-6h0m-12 6h0m-48-4h0m-8 4h0m-7-7h0m-18 5h0m-15 0h0m-31 2h0m-2-10h0m-6 4h0m-5 5h0m-9-3h0m-7-2h0m-5-1h0m0 4h0m-16-3h0m-9-7h0m-16 10h0m-15-2h0m-17-4h0m-2 0h0m-8 1h0m-2 3h0m-4 2h0m-2 2h0m-16-10h0m-4 0h0m-15 9h0m-2 4h0m-1-12h0m-5 3h0m-13 0h0m-3 7h0m-4 2h0m-46-7h0m-3-6h0m-2 1h0m0 10h0m-9 2h0m-29-11h0m-3 0h0m-19 5h0m-8-3h0m-5-2h0m-29 8h0m-18 2h0m-52-8h0m-38 2h0m-11 2h0m-11-5h0m16 21h0m38-9h0m5 9h0m20-10h0m59 11h0m18-10h0m7 7h0m2 7h0m1-5h0m36 5h0m4-2h0m4-7h0m8 1h0m2-4h0m28 4h0m6-2h0m10-1h0m42-4h0m16 3h0m14 11h0m17-13h0m5 0h0m5 8h0m8-4h0m4 9h0m6-9h0m14 5h0m3 0h0m9-2h0m18-2h0m3-6h0m12 15h0m0-6h0m2 2h0m11 4h0m11-3h0m24-11h0m16 6h0m13-2h0m0-2h0m4 8h0m3 1h0m100-1h0m0 1h0m8 1h0m-52 18h0m-23-3h0m-4-9h0m-10 12h0m-20-3h0m-18 3h0m-11 0h0m-14-4h0m-5-10h0m-13 14h0m-6-1h0m-6 0h0m-3 1h0m-11-12h0m-9 1h0m-2-2h0m-20 0h0m-2 9h0m-4-2h0m-10-1h0m-8 3h0m-9-3h0m-11 6h0m-8-9h0m-13 5h0m-17-3h0m-16 6h0m-31-12h0m-7 6h0m-9-2h0m-7 6h0m-1 1h0m-4-3h0m-11 5h0m-6-12h0m-2 8h0m0-1h0m-12-3h0m-2 7h0m-24-12h0m-1 5h0m-8 4h0m-11-10h0m-31 11h0m0-10h0m-3 10h0m-69 3h0m-1-13h0m-10 12h0m-3 8h0m3 10h0m99-10h0m27-5h0m1 4h0m31 3h0m13 3h0m20 3h0m7-6h0m4-4h0m3-1h0m3 6h0m15-5h0m21 6h0m1-7h0m9 1h0m58 7h0m40-6h0m1-2h0m5-2h0m1 15h0m18 0h0m13-6h0m2-3h0m12-5h0m3 13h0m4-12h0m1 11h0m50-7h0m3-5h0m8 9h0m56-2h0m7 4h0m3-12h0m39 14h0m15-10h0m-26 22h0m-66-2h0m-17 0h0m-5 7h0m-9-11h0m0 2h0m-7 9h0m-1-2h0m-4-11h0m-4 8h0m-6 0h0m-27 0h0m-9-8h0m-12 12h0m-25-13h0m0 8h0m-2 1h0m0 1h0m-11-8h0m-5 9h0m-8-10h0m-6 3h0m-22 9h0m-1-13h0m-3 8h0m-7 0h0m-8-9h0m-11 1h0m-9 14h0m-1-12h0m-21 12h0m-1-12h0m-22 7h0m-7-9h0m-2 6h0m-11 3h0m-51-5h0m-20-4h0m-14 12h0m-48-12h0m-64 13h0m2 15h0m23-13h0m66 15h0m20-12h0m26 0h0m0 11h0m4-11h0m12 12h0m7-11h0m5 3h0m22 3h0m15 4h0m28-2h0m0-9h0m1 5h0m9 2h0m6-8h0m25 0h0m41 8h0m3-6h0m28 7h0m0 1h0m1-1h0m8 4h0m5-2h0m9-13h0m2 2h0m2-2h0m3 5h0m27 3h0m6 6h0m16-2h0m4-6h0m30-3h0m14 8h0m12-4h0m17-4h0m18 11h0m-7 5h0m-2 7h0m-1-9h0m-25 6h0m-23 4h0m-4-2h0m-27 1h0m-6-8h0m-15-1h0m-17 2h0m-1 11h0m-4-3h0m-15 0h0m-5-4h0m-3 2h0m-30-6h0m-8 4h0m-2 5h0m-8-7h0m-9 6h0m-10-6h0m-3 1h0m-27-4h0m-2 11h0m-8-8h0m-30 4h0m-14 4h0m-34-3h0m-1-2h0m-24 7h0m-8-6h0m-33 4h0m-23-5h0m-45 7h0m-8-15h0m-14 21h0m27-3h0m7 0h0m3 11h0m4-13h0m4 12h0m50-10h0m19 10h0m16-11h0m24 3h0m26-1h0m8 2h0m0 8h0m4-1h0m2-2h0m8 1h0m2-9h0m10 9h0m4-7h0m11 11h0m45-15h0m1 4h0m2 5h0m0-6h0m5 2h0m7 0h0m18-1h0m16 6h0m21 3h0m9 2h0m2-6h0m6-9h0m13 1h0m9 5h0m13-6h0m0 8h0m4 2h0m7-1h0m1-6h0m17 10h0m9-1h0m25-12h0m8 1h0m44 10h0m23-9h0m4 6h0m-76 9h0m-56 5h0m-35-3h0m-12-3h0m-29 2h0m-10 4h0m-16-4h0m-11 2h0m-5-1h0m-81-1h0m-45 1h0m-51 2h0m-40-5h0"/><path stroke="#7a30bf" stroke-width="4.8" d="M168 1001h0m2 6h0m0-6h0m5-3h0m5 8h0m3-8h0m4 2h0m2 5h0m0 0h0m0-1h0m2 1h0m4-1h0m1-2h0m4 3h0m1 1h0m1-6h0m1 7h0m0 0h0m3 0h0m0-3h0m2 2h0m9-7h0m2 0h0m3 8h0m3-7h0m1-3h0m1 7h0m1-3h0m4-1h0m1 7h0m2-1h0m2-8h0m5 9h0m1 0h0m3-8h0m8 6h0m6-3h0m7 4h0m1 1h0m1-8h0m3-1h0m13 9h0m5-9h0m0 0h0m8 1h0m3 1h0m5 1h0m5 4h0m18-8h0m79 4h0m8 5h0m69-7h0m54 1h0m73 2h0m152 19h0m-8-1h0m-189-4h0m-123 2h0m-13 0h0m-8-1h0m-20 2h0m-6 3h0m-2-14h0m-3 9h0m-39-6h0m-17-3h0m-17 15h0m-6-8h0m-6-6h0m-5 14h0m-1-3h0m-5-9h0m-7 6h0m-1-9h0m-2 4h0m-3 6h0m-3-7h0m-4 5h0m-1-4h0m-2 7h0m-1-9h0m0 11h0m-1-1h0m-1-8h0m0 8h0m-2 0h0m-3 3h0m-6-10h0m-8 8h0m0-5h0m-1 6h0m-1-5h0m-4 0h0m-7-5h0m0 9h0m-4-12h0m-4 12h0m-9-8h0m-1 6h0m-19-8h0m-1 4h0m-3-3h0m0 9h0m-1 1h0m-4-9h0m0 1h0m-2-4h0m-5 10h0m-1-12h0m0 5h0m-2 10h0m-4-3h0m-1 3h0m-1 0h0m0-3h0m-1 4h0m2 7h0m2 0h0m2-5h0m0 6h0m0-1h0m3-6h0m3 7h0m4 2h0m0-3h0m2 7h0m5-4h0m0 2h0m1 1h0m1-3h0m6-3h0m0 4h0m9-6h0m1-4h0m2 13h0m1-9h0m0-3h0m1 11h0m0-13h0m3 0h0m6 11h0m1-9h0m9 0h0m0 3h0m1 3h0m0-8h0m1 15h0m4-14h0m6 10h0m4 0h0m3 0h0m2 4h0m0-6h0m1 3h0m2-11h0m0 11h0m5-9h0m2 12h0m7-14h0m3 8h0m5-9h0m0 1h0m1 13h0m0-4h0m1-7h0m8-2h0m4 2h0m0 1h0m1-4h0m1 11h0m13-2h0m3-7h0m11 6h0m12-1h0m31 6h0m42-11h0m209 7h0m8 2h0m13-5h0m29-3h0m13 2h0m16 2h0m-36 9h0m-46 15h0m-10-6h0m-83 6h0m-20-2h0m-10-2h0m-64-6h0m-7-3h0m-9-2h0m-13 2h0m-33 13h0m-5-7h0m-13-7h0m-40 7h0m-2-3h0m-4-4h0m-1 11h0m-3-6h0m-3 8h0m-3-7h0m-1 0h0m-4-2h0m-7 10h0m-1-4h0m-2 0h0m-3 1h0m-1 1h0m0-4h0m-3-6h0m-5 3h0m0-2h0m-3 6h0m-1-9h0m0 5h0m-6 2h0m-1-5h0m-5 2h0m-3 9h0m-5-7h0m0-5h0m-1 6h0m-1-5h0m-3 1h0m-7 4h0m0-5h0m-3-1h0m-3 7h0m0-7h0m-2 4h0m-5 7h0m-3-6h0m-1-7h0m-2 15h0m0-1h0m-2-12h0m-2 2h0m-9 6h0m0-8h0m0 2h0m-1-1h0m-2 9h0m-2-1h0m-3-9h0m-3 2h0m-1 9h0m-10 1h0m-2-11h0m-1 10h0m-3-4h0m-2-8h0m-3 14h0m-1-4h0m-1 14h0m1 5h0m2-7h0m3-3h0m2-1h0m1 11h0m0 0h0m1-9h0m9 3h0m6-3h0m0 5h0m2-9h0m5 6h0m3 0h0m1 1h0m1-5h0m1-1h0m6 10h0m1-1h0m6-10h0m0 3h0m9 9h0m3-1h0m1-8h0m1 1h0m3 0h0m2-1h0m1-4h0m1 8h0m12 6h0m4-12h0m1 1h0m0 2h0m1 1h0m3 0h0m1-4h0m0 12h0m0-11h0m1 2h0m7 0h0m0 6h0m3-6h0m1 8h0m1-1h0m1-4h0m1 3h0m3-8h0m8-2h0m4 11h0m2-6h0m3 1h0m2-4h0m1 9h0m0-7h0m2-1h0m3-3h0m1 13h0m1-10h0m17 6h0m2-5h0m13 4h0m21-4h0m18 9h0m14-9h0m11 8h0m59-12h0m31 10h0m52 2h0m41-9h0m4 5h0m62-7h0m49 0h0m64 0h0m-43 28h0m-2-14h0m-84 7h0m-13-6h0m-18 7h0m-11-3h0m-77 8h0m-78-5h0m-17-8h0m-10 10h0m-24 0h0m-13-2h0m-8-4h0m-1-3h0m-9 0h0m-11 12h0m-2-13h0m-2 7h0m-1 5h0m-9 1h0m-5-2h0m-8-8h0m-11 4h0m-2 8h0m0-14h0m-1 6h0m-3-5h0m-3 12h0m-4-14h0m-3 8h0m-2-7h0m0 5h0m0-2h0m-3 6h0m-2 1h0m-6-6h0m0 6h0m-2-4h0m-3 2h0m-3 4h0m-3-11h0m-11 3h0m-1 2h0m-1 2h0m-1-9h0m-5 3h0m-1-1h0m-1 13h0m0 0h0m-1-9h0m-14-1h0m-5 5h0m0 4h0m-1-3h0m-2 4h0m-2-5h0m-5-2h0m-4 5h0m0-3h0m-1 3h0m-1 1h0m-1-14h0m-1 3h0m-1 5h0m-2-3h0m0 7h0m-1-1h0m-2-3h0m-9-3h0m-3 2h0m0 2h0m-3-6h0m-3-1h0m-1 4h0m-5 0h0m-5 8h0m0-14h0m-1 7h0m-1-4h0m-2 20h0m2 6h0m2-5h0m3 1h0m2 4h0m3 0h0m1 1h0m3-9h0m2 9h0m1-9h0m0 5h0m1-4h0m5 4h0m0-3h0m0-5h0m5 1h0m2 1h0m5 10h0m3-8h0m1 6h0m3-8h0m2 6h0m7 5h0m1-2h0m3-12h0m1 7h0m1-6h0m0 8h0m2 2h0m3-8h0m0 4h0m8 2h0m3 2h0m3-8h0m1 1h0m1 4h0m1-2h0m0-1h0m2-1h0m1-3h0m1 5h0m7 3h0m6-3h0m4-3h0m1 3h0m2 5h0m11-2h0m3 0h0m0 0h0m2-1h0m0-7h0m10 12h0m1-13h0m0 1h0m1 5h0m1 1h0m2 6h0m1-8h0m5 7h0m22 0h0m21-13h0m42 11h0m8 3h0m21-12h0m54 1h0m65-1h0m98 8h0m14 4h0m14-2h0m68 14h0m-47 0h0m-102 0h0m-4 1h0m-22-8h0m-119 11h0m-78-1h0m-40-5h0m-6-1h0m-6 5h0m-3 2h0m-3-9h0m-2 7h0m-4 1h0m-3-9h0m-1 6h0m-3 4h0m-2-12h0m-1 13h0m-7-3h0m-1 3h0m-3-10h0m0 1h0m-1 5h0m-1-2h0m-3-5h0m-2-4h0m-1 7h0m-1-3h0m-3-2h0m-1 9h0m-1-4h0m0-5h0m-7 2h0m-1 7h0m-3-1h0m-1 5h0m-1-6h0m-2-8h0m0 12h0m-1 2h0m-2-9h0m-1-4h0m-3 7h0m-3-1h0m0 3h0m-1 1h0m-8-9h0m-2 11h0m-6-10h0m-3-4h0m0 0h0m-1 0h0m-4 1h0m-1 0h0m-1 5h0m-4 1h0m0 1h0m-3-3h0m-11 7h0m-2-6h0m0 3h0m-4-3h0m-3 9h0m-4-10h0m-1-4h0m0 7h0m9 9h0m6 1h0m1 11h0m2-12h0m7 14h0m2 0h0m5-10h0m2 0h0m1-2h0m3 1h0m3 2h0m0 9h0m1-8h0m2 2h0m1-6h0m2 2h0m1 10h0m3-1h0m1-9h0m0 4h0m2 2h0m3 2h0m1-2h0m1 4h0m1-8h0m1 5h0m2-12h0m1 4h0m5 8h0m15-4h0m1-2h0m4-3h0m0 2h0m5-3h0m5 6h0m3-6h0m1 5h0m1-7h0m0 7h0m5-3h0m0 6h0m1 4h0m3-6h0m1-1h0m4-3h0m2-1h0m6-2h0m5 12h0m10-7h0m3 1h0m2-6h0m2 10h0m0-2h0m0-4h0m1 1h0m9-5h0m24 9h0m4-1h0m0 0h0m1-6h0m2 5h0m16-6h0m6 13h0m46-4h0m4-9h0m11 6h0m6 2h0m89-3h0m2 8h0m60-11h0m38 4h0m105-6h0m-37 14h0m-48 12h0m-94-5h0m-111 1h0m-11 0h0m-3-6h0m-10 2h0m-5 6h0m-1-4h0m-10-3h0m-2 12h0m-1-15h0m0 15h0m-19-8h0m-1 6h0m-2-8h0m-14 8h0m-21-11h0m-24 3h0m-1 7h0m-2-7h0m-3-2h0m0 5h0m0-1h0m-2 7h0m0-1h0m-1-7h0m-2 1h0m-2-3h0m0 10h0m-2-7h0m-3 0h0m0 3h0m-1-3h0m-1-1h0m0-1h0m-1 10h0m0-6h0m-3-2h0m-1-5h0m-1 9h0m0-6h0m0 5h0m-4-4h0m-2 3h0m-9-1h0m-6 7h0m-2-10h0m-1 2h0m-1 6h0m-1-2h0m-1 3h0m-4-4h0m-8-4h0m0 4h0m0-5h0m-1 9h0m-4-10h0m-2 4h0m-3-4h0m-3 3h0m-7-7h0m-1 0h0m-1 1h0m-5 7h0m-1-6h0m0 8h0m0 2h0m-2-4h0m-1-1h0m-5-1h0m-6 0h0m0-6h0m-3 7h0m-1-1h0m-5-6h0m-3 12h0m0 12h0m1-3h0m0 4h0m1-9h0m2 6h0m4 0h0m5-1h0m3-1h0m0 2h0m3 1h0m4-7h0m4 6h0m1 2h0m0 7h0m2-14h0m0 13h0m5-12h0m0 3h0m3 5h0m5-6h0m1 1h0m2 5h0m1-4h0m15 3h0m1-7h0m2 7h0m1-8h0m0 10h0m1-2h0m0 0h0m7 2h0m2-10h0m0 3h0m4 7h0m0 1h0m2-11h0m0 8h0m3 3h0m1-5h0m0-3h0m4 3h0m1 7h0m2-1h0m3-12h0m1 11h0m9-8h0m2-1h0m6 8h0m6 4h0m0-12h0m1 1h0m4 5h0m2-3h0m5 3h0m3 6h0m10-13h0m22 7h0m18 4h0m11-2h0m23 4h0m0-1h0m12-11h0m10 11h0m4 0h0m3 0h0m57-4h0m95 4h0m54-3h0m49-5h0m27 6h0m-17 7h0m-28 10h0m-20-5h0m-119 4h0m-23 2h0m-44-4h0m-44-3h0m-14 5h0m0-3h0m-44-3h0m-8-1h0m-3-1h0m-12 8h0m-5-9h0m-2 11h0m-1-14h0m-4 1h0m-1 12h0m-1-9h0m-3 5h0m-2-1h0m-3 2h0m0-2h0m-2 2h0m0-2h0m0-3h0m-2 5h0m-2-7h0m-6 11h0m0-8h0m0 0h0m-7 7h0m-20-2h0m-1 2h0m0 0h0m-8-11h0m0 5h0m-6 6h0m-8-7h0m-6-2h0m-1 0h0m-7 6h0m-6-2h0m-3 1h0m-2-9h0m-5 5h0m-3-4h0m-1 0h0m-4-1h0m0 4h0m-4 2h0m-2-5h0m-3 1h0m-6 2h0m-5-3h0m11 18h0m10 3h0m5-2h0m2 9h0m0-2h0m1-11h0m1 10h0m1-6h0m3 0h0m4 6h0m0-8h0m1 3h0m1 8h0m3-11h0m0 1h0m1 11h0m4-13h0m4 11h0m12 2h0m5-5h0m1 4h0m2-7h0m4 2h0m6-4h0m3-2h0m2 9h0m1-7h0m2 3h0m3 1h0m1 6h0m5 1h0m8-13h0m1 3h0m0 0h0m0 3h0m3-7h0m2 7h0m1 5h0m2-5h0m1 6h0m0-4h0m5 2h0m4-7h0m1-3h0m1-1h0m2 11h0m0-11h0m12 11h0m26-4h0m10-3h0m9-3h0m7-2h0m4 1h0m8 4h0m15 0h0m1 5h0m28-10h0m16 9h0m2 6h0m7-8h0m10 4h0m83 0h0m28 1h0m28-6h0m-29 23h0m-44-4h0m-71-6h0m-49 12h0m-5-15h0m-20 9h0m-5 3h0m-25-6h0m-12 3h0m-4 3h0m0-1h0m-11 1h0m-9-1h0m-4-5h0m-3 5h0m-2 0h0m-1-8h0m-2 10h0m-2-5h0m-2 6h0m-2-6h0m-1 2h0m-1-9h0m-7 1h0m-9 10h0m-6 2h0m-3-10h0m0-2h0m0-1h0m-2 6h0m-4-2h0m-2-5h0m-3 15h0m-3-9h0m-1 4h0m-1 1h0m-1-1h0m-2 0h0m0-4h0m-1-4h0m0-1h0m-2 2h0m-1 12h0m-4-5h0m-4 1h0m0-4h0m-2 1h0m-1 3h0m-1-8h0m-7 3h0m-1 4h0m0-6h0m-1 11h0m-6-11h0m-5 5h0m-9-8h0m0 4h0m12 14h0m3 2h0m1 9h0m2-2h0m0-3h0m4 4h0m0-10h0m1 0h0m2 6h0m8 4h0m2 2h0m5-15h0m4 8h0m2-1h0m0 2h0m1-7h0m1 12h0m4-3h0m0-8h0m1 5h0m3 0h0m3 3h0m3-4h0m2-1h0m2 1h0m1 5h0m5 1h0m2-7h0m0 2h0m2-8h0m1 3h0m0 6h0m6-6h0m1 3h0m0 8h0m0-5h0m1-3h0m1 3h0m10 1h0m1 0h0m0 3h0m5-13h0m0 6h0m2 7h0m1 1h0m3 0h0m3-8h0m2 4h0m7-5h0m6 6h0m3 1h0m1-11h0m1-1h0m3 1h0m8 5h0m1-6h0m3 10h0m9-4h0m4-5h0m15-1h0m9 6h0m28 9h0m1-7h0m23 6h0m0-4h0m1 4h0m1-9h0m17-3h0m11 4h0m3 4h0m85-9h0m43 13h0m21-2h0m34-10h0m29 24h0m-16-3h0m-6 8h0m-8-3h0m-11-2h0m-53 3h0m-69-5h0m-19-4h0m-13 0h0m-6 4h0m-8-5h0m-24 6h0m-6 3h0m-3-6h0m-28 7h0m-34-11h0m-13 7h0m-3 4h0m-1-13h0m-1 14h0m-6-6h0m0 5h0m-1 1h0m-3-10h0m-12 9h0m-3-13h0m-1 8h0m-1-8h0m-1 4h0m-10 10h0m-2-13h0m-3 12h0m-2-7h0m-1 3h0m-2 5h0m-1-14h0m-1 10h0m-2 1h0m-1-4h0m-2 7h0m-2-12h0m-6 8h0m-1 5h0m-3-4h0m-7-3h0m0-4h0m0 11h0m-1-11h0m-2-2h0m-3 3h0m-1 5h0m-2-9h0m-7 9h0m-1 1h0m-3-9h0m-1 0h0m-2 1h0m0 7h0m-4-8h0m-1 6h0m-5-3h0m-1-2h0m-1 1h0m0-2h0m-7 3h0m-1 1h0m-1 1h0m-6-2h0m0 7h0m-7-5h0m-1 0h0m-2 0h0m-1-3h0m18 13h0m4 5h0m3-5h0m0-1h0m9 13h0m2-11h0m2 7h0m0 0h0m1 3h0m16-12h0m1 13h0m1-6h0m0 7h0m0-4h0m2 1h0m4 3h0m0-9h0m1 3h0m1-3h0m0 8h0m2-1h0m5-9h0m6 2h0m2 5h0m1-2h0m1 4h0m1-7h0m7 1h0m4-3h0m3 5h0m2 2h0m3-9h0m0 14h0m0-6h0m0-7h0m1 5h0m0 3h0m2-9h0m1 4h0m0 3h0m6-2h0m1-5h0m1 11h0m0 0h0m1-5h0m1 1h0m1-1h0m0 4h0m9-8h0m9 5h0m2-8h0m0 14h0m3-9h0m3 4h0m4 2h0m3-8h0m4 4h0m4-3h0m23 9h0m2-1h0m4-8h0m1 6h0m4-2h0m1 0h0m6 4h0m9 3h0m7-1h0m1-12h0m3 0h0m5 2h0m8 9h0m26-6h0m130 5h0m35 6h0m-82 3h0m-126 0h0m-58-4h0m-11 1h0m-1 3h0m-7-4h0m-17 4h0m-8-3h0m-12 2h0m-19 0h0m-22-4h0m-2 5h0m0-2h0m-5 0h0m-3 1h0m-7 0h0m0-1h0m-3 2h0m-2-2h0m-7 2h0"/><path stroke="#22b34c" stroke-width="4.8" d="M308 1002h0m21-1h0m29-1h0m3-3h0m32 1h0m66 1h0m5 5h0m42 3h0m24-9h0m26 6h0m13-6h0m7 8h0m8-1h0m2-3h0m25 2h0m4 0h0m10-5h0m6 1h0m9 2h0m10-5h0m51 4h0m9 1h0m26-2h0m1 4h0m28-6h0m16 4h0m16 1h0m7 6h0m-41 11h0m-20-6h0m-12-4h0m-2 12h0m-9-10h0m-17-3h0m-4 1h0m-2 7h0m-8-6h0m-3 6h0m-1-5h0m-51-3h0m-3 10h0m-7-10h0m-19 10h0m-5 4h0m-16-3h0m-26-12h0m-17 2h0m-7 1h0m-28 1h0m-32 5h0m-13-8h0m-24 8h0m-18-4h0m-37 1h0m-22-2h0m-9 5h0m-36-5h0m-125 4h0m-7 7h0m107 1h0m20 15h0m9 0h0m24-6h0m68 3h0m14-7h0m15-5h0m48 8h0m11-2h0m1 4h0m36 1h0m5-7h0m1 8h0m41-12h0m7 11h0m12-1h0m2 5h0m2-3h0m1 0h0m6 1h0m2-12h0m28 5h0m27-2h0m21-1h0m10 3h0m0-5h0m17 12h0m11-4h0m11 6h0m0-14h0m21 11h0m3 0h0m36-5h0m2 1h0m9 2h0m4 4h0m10-5h0m0 21h0m-8-3h0m-18-2h0m-9-8h0m-21 9h0m-2-9h0m-2 0h0m-26 13h0m-17-11h0m-2 12h0m-51-5h0m-3 5h0m-6-2h0m-6 0h0m-1-2h0m-30-6h0m-32 6h0m-31-8h0m-22 5h0m-9 3h0m-16-7h0m-15 6h0m-9-3h0m-1 5h0m-12-7h0m-17 9h0m-20-8h0m-3 7h0m-8 0h0m-47 0h0m-3-5h0m-12-1h0m-50-5h0m-1 13h0m-140-14h0m5 18h0m52 4h0m89 4h0m29-2h0m0 4h0m16-3h0m8-8h0m23 9h0m56-8h0m13 12h0m3-11h0m10 7h0m18-3h0m11 1h0m14 4h0m5-8h0m5 0h0m3-5h0m13 6h0m3-3h0m8-3h0m15 5h0m2 3h0m46-7h0m9 11h0m25-5h0m48 6h0m5-9h0m24 9h0m4-1h0m18-2h0m6-1h0m4-9h0m1 14h0m17-4h0m6 3h0m3 2h0m1-7h0m0-3h0m18 1h0m7-3h0m12 2h0m10 23h0m-19-1h0m-10 2h0m-18-3h0m-15-5h0m-12-5h0m-17 6h0m-11-6h0m-3 9h0m0 5h0m-39-13h0m-14 7h0m-2 7h0m-1-7h0m-3-1h0m-39-2h0m-9-1h0m-9 7h0m-6-1h0m-9-9h0m-22 1h0m-24 11h0m-52-3h0m-22 2h0m-4-11h0m-23 6h0m-9 5h0m0-3h0m-14-6h0m-12 10h0m-27 1h0m-49-10h0m-2 2h0m-2-6h0m-29 15h0m-19-9h0m-21 5h0m-65 2h0m-7 1h0m146 4h0m21 5h0m12 3h0m24-3h0m11-2h0m2 4h0m11 1h0m3-9h0m8 6h0m10 0h0m13-4h0m7 0h0m23-3h0m7 12h0m6 1h0m1-8h0m1 2h0m5 1h0m2 2h0m55-8h0m2 3h0m2 3h0m1 7h0m33-5h0m9-5h0m7-2h0m1 8h0m15-2h0m12-6h0m20 12h0m20-10h0m31 1h0m26 1h0m2 3h0m1-9h0m24 1h0m13-2h0m38 18h0m-11 5h0m-42 3h0m-1-7h0m-20 7h0m-7-8h0m-2 6h0m-25 5h0m-9-8h0m-12 2h0m-19 7h0m0-13h0m-15 6h0m-16-4h0m-10-2h0m0 2h0m-36-1h0m-23 1h0m-5-1h0m-18 11h0m-22 1h0m-6-11h0m-25 4h0m-11 4h0m-1-3h0m-25 4h0m-1-8h0m-19-1h0m-26-1h0m-26 6h0m-29 7h0m-6-6h0m-15 2h0m-29-1h0m-46-6h0m-63-2h0m-13 1h0m123 14h0m32 4h0m1-2h0m41 4h0m34-3h0m31-4h0m19 0h0m14 5h0m5 5h0m32 3h0m8-8h0m33 0h0m4 9h0m17-14h0m7 3h0m1 9h0m2-8h0m4 11h0m2 0h0m0-7h0m17-6h0m63 12h0m3 1h0m3-3h0m17-2h0m11-4h0m21-3h0m10 10h0m10-10h0m6 12h0m6-8h0m6 6h0m17 2h0m4-2h0m29-5h0m6 7h0m16 0h0m-5 13h0m-2 0h0m-5-5h0m-7-7h0m-15 0h0m-5 9h0m-8-1h0m-4-5h0m-9 9h0m-7-9h0m0 1h0m-2 9h0m-23 0h0m-33-12h0m-1 2h0m-9-3h0m-15 5h0m-5-4h0m-1 10h0m-2-3h0m-25 1h0m-18-6h0m-4 10h0m-4-9h0m-11 0h0m-4-2h0m-6 4h0m-14 8h0m-54-1h0m-5-9h0m-7 4h0m-10-2h0m-16-2h0m-22 1h0m-25 6h0m-17-7h0m-2 5h0m-4-2h0m-1 4h0m0-9h0m-6 13h0m-15-4h0m-12-10h0m-9 7h0m-21-3h0m-4 1h0m-52 7h0m-57-8h0m-52 8h0m163 16h0m18-2h0m28 4h0m1-11h0m11 4h0m30-2h0m19 8h0m12-12h0m12 2h0m1 11h0m23-15h0m6 6h0m19 1h0m24 1h0m19 5h0m2 1h0m11-12h0m2 9h0m20-1h0m1-5h0m5-4h0m6 2h0m7 4h0m11-2h0m12 6h0m7 3h0m58-5h0m4 0h0m3 6h0m26-4h0m23 2h0m12-8h0m28 0h0m4 4h0m8-8h0m0 30h0m-2-14h0m-19 7h0m-10-2h0m-20 7h0m-6-4h0m-6 3h0m-12-12h0m-24 5h0m-5 2h0m-1-2h0m-15-5h0m-9 12h0m-24-10h0m-18 0h0m-31 3h0m-11 5h0m-40-7h0m-6 6h0m-8-6h0m0 9h0m-8-1h0m-70-3h0m-5-4h0m-16 7h0m-19-11h0m-82 13h0m-8-7h0m-40 2h0m-86 1h0m73 20h0m1-10h0m99 0h0m2 0h0m32 0h0m20 4h0m3-1h0m29-1h0m44-3h0m15 6h0m0 7h0m1-6h0m12 3h0m1-9h0m5 12h0m17-2h0m15-13h0m14 5h0m15 6h0m1-7h0m33 2h0m6 6h0m18-12h0m3 15h0m14-9h0m8 4h0m0 2h0m10-7h0m8 10h0m22-1h0m11-5h0m22 3h0m25-3h0m20 2h0m10 8h0m-1 1h0m-15 8h0m-3-7h0m-1-2h0m-15 12h0m-16-10h0m-1-1h0m-10 2h0m-16 5h0m-2-10h0m-10 13h0m-2-9h0m-12-2h0m-36 10h0m-3-4h0m-1-5h0m-8 10h0m-22-13h0m-1 5h0m-13 6h0m-5-8h0m0-1h0m-6 0h0m-18 8h0m-34-2h0m-28-6h0m0 8h0m-1-4h0m0 5h0m-6-7h0m-3 7h0m-8-5h0m-28 3h0m-14-5h0m-37-5h0m-10 0h0m-3 15h0m-33-4h0m-18-4h0m-6 4h0m-69 2h0m7 8h0m47 2h0m27 1h0m25 7h0m35-10h0m8-4h0m3 3h0m1 6h0m4-9h0m8 9h0m1 5h0m9-15h0m11 7h0m27 4h0m19-8h0m6-3h0m2 8h0m5-4h0m3 5h0m24-8h0m18 6h0m7 6h0m13-9h0m13 3h0m11 8h0m35-1h0m10-2h0m7-2h0m10-5h0m8-1h0m6-3h0m5-1h0m3 1h0m10 8h0m27 0h0m3 2h0m7-10h0m6 7h0m35 6h0m17 5h0m-17-1h0m-45 5h0m-12-5h0m-6 1h0m-13 5h0m0-4h0m-11 0h0m-7 2h0m-13 0h0m-4 6h0m-10-9h0m-3 3h0m-47 9h0m-5-5h0m-7 5h0m-3-12h0m-1 3h0m-10 3h0m-4 3h0m-3-11h0m-5 12h0m-1-6h0m-1-4h0m-20-2h0m-1 7h0m-26 3h0m-7-8h0m0-3h0m-30 1h0m-40 8h0m-47 3h0m-11-7h0m-15 8h0m-10 2h0m-48-11h0m-70 15h0m133-1h0m2 4h0m29 0h0m74-2h0m22 5h0m18-7h0m2 13h0m0-5h0m10 3h0m3 1h0m0-9h0m6 7h0m8-1h0m4-1h0m4-1h0m1 4h0m11-9h0m0-2h0m33-2h0m17 11h0m2-11h0m0 1h0m10 9h0m2-1h0m3-9h0m1 1h0m16 6h0m1 3h0m2-6h0m7-2h0m14 5h0m1-6h0m3 7h0m1 0h0m18 1h0m4-4h0m31 10h0m7-7h0m10 4h0m16 3h0m7-13h0m-38 20h0m-38-6h0m-86 4h0m-9-4h0m-61 0h0m-2 4h0m-27-3h0m-5 1h0m-47 3h0m-15-3h0"/><path stroke="#595959" stroke-width="4.8" d="M178 1004h0m10 3h0m2-5h0m5-1h0m14-2h0m1 4h0m2-3h0m0-2h0m8 7h0m31-7h0m3-2h0m20 8h0m2 2h0m14-1h0m1-7h0m6 0h0m9 4h0m35 4h0m61-2h0m279 3h0m-35 7h0m-14-1h0m-3 1h0m-56 6h0m-119-5h0m-6-5h0m-16 0h0m-26 13h0m-23 0h0m-32-1h0m-13-11h0m-29 10h0m-3 0h0m-5-1h0m-1-6h0m-1-1h0m-8 4h0m-3 5h0m0 1h0m-2-2h0m-5-12h0m-31-1h0m-7 12h0m-1 0h0m-10-5h0m-4 7h0m-1-7h0m-4 0h0m-1 0h0m-1 3h0m-12-3h0m-3-1h0m-2 1h0m-9-5h0m-4 0h0m-7 8h0m-2-10h0m-15 9h0m4 19h0m2 2h0m2-2h0m12 3h0m1-11h0m10 2h0m3-6h0m3 13h0m5-8h0m2 2h0m1 7h0m23-8h0m3 8h0m2-7h0m6 1h0m13-2h0m13-6h0m4 11h0m0 2h0m8-1h0m24-2h0m18-2h0m17 7h0m7-5h0m82-6h0m88-2h0m53 5h0m60 1h0m69 6h0m4-2h0m5-11h0m10 4h0m16 0h0m-57 14h0m-75 6h0m-49-2h0m-46 2h0m-30 2h0m-24-11h0m-26 5h0m-2 9h0m-26-10h0m-2 2h0m-23 4h0m-7-2h0m-35-4h0m-6-4h0m-22 3h0m-1 0h0m-1 12h0m-10-8h0m-6-7h0m-16 5h0m-8 4h0m-3-3h0m-2 6h0m-8-11h0m-1 12h0m-15-13h0m-4 7h0m-1-3h0m-2 9h0m-1-8h0m-2 0h0m-15 10h0m-3-8h0m-1 8h0m-10-12h0m-2 2h0m-5 7h0m-1 0h0m-2 3h0m-1 0h0m-4-1h0m0-11h0m0 1h0m-2 4h0m-12 8h0m0 12h0m1-12h0m15 6h0m0-3h0m2 8h0m5 4h0m0-13h0m5 1h0m5 1h0m7-4h0m3 13h0m4 2h0m5-9h0m6 1h0m0 0h0m1 0h0m4-4h0m6 8h0m0 1h0m9-10h0m2 2h0m1 11h0m2-14h0m3-1h0m2 5h0m7 6h0m3-11h0m1 0h0m5 6h0m3 9h0m0-11h0m2 7h0m1-3h0m4 2h0m2-1h0m6-1h0m1 3h0m9-1h0m10 5h0m49-5h0m13-10h0m19 3h0m11 4h0m10 8h0m168-2h0m3-11h0m134 13h0m48-4h0m-12 6h0m-50 11h0m-33-11h0m-241 5h0m-23-6h0m-15 8h0m-35-2h0m-10 3h0m-29 5h0m-7-8h0m-15-5h0m-23 0h0m-11 14h0m0-14h0m-2 0h0m-3 1h0m0 12h0m-1 1h0m-5-11h0m-3 3h0m-3 7h0m-11-2h0m-1-7h0m-9-2h0m-2 4h0m-5-6h0m-4 2h0m-3 6h0m-2-2h0m-2-3h0m-1 4h0m-1 2h0m-1-3h0m-12 2h0m-2 5h0m-8-11h0m-3-2h0m-5 8h0m-6 8h0m1-1h0m4 3h0m0-3h0m2 5h0m2 0h0m3 2h0m1 1h0m0-5h0m3 6h0m8 1h0m16-2h0m10-7h0m10 10h0m19-9h0m7 3h0m6 3h0m1-2h0m2 0h0m2 8h0m1-13h0m10-1h0m24 9h0m3 2h0m4-9h0m22 9h0m2-4h0m13-2h0m14 2h0m74-3h0m103 10h0m116-12h0m59 14h0m-18 2h0m-138 13h0m-20-13h0m-3 9h0m-32 1h0m-68-9h0m-16 6h0m-35 5h0m-22-6h0m-24 6h0m-11 0h0m-8-9h0m-3 5h0m-1-1h0m-4-2h0m-3-5h0m-1 5h0m-3 4h0m-3 1h0m-4-12h0m-11 13h0m-3-3h0m-2-7h0m0 12h0m-2-11h0m-10 7h0m-4-6h0m-1 1h0m0-1h0m-7-5h0m-3 6h0m-2 6h0m-2-11h0m-13 12h0m-2-5h0m-5-8h0m-3 12h0m-6-2h0m-1-8h0m-8-1h0m-4-1h0m-7 12h0m-3 1h0m-2-10h0m-3 6h0m-4-5h0m-1 2h0m13 18h0m1-3h0m11-3h0m9 1h0m4-2h0m2 5h0m1 0h0m9 4h0m1-7h0m7 8h0m2 2h0m6-4h0m2 2h0m6-10h0m5 11h0m3-7h0m4 1h0m1-2h0m5 9h0m2-6h0m6 3h0m5-5h0m0-2h0m25 2h0m3 10h0m0-11h0m3 11h0m4-6h0m12-1h0m44 4h0m33-11h0m15-1h0m16 9h0m22-7h0m23-2h0m27 7h0m32 8h0m4-1h0m181 0h0m-9 4h0m-72 6h0m-62 4h0m-55-4h0m-8 0h0m-100 6h0m-22-10h0m-59 7h0m-1 2h0m-7-10h0m0 3h0m-3 9h0m-4-9h0m-3 5h0m-10 2h0m-8 2h0m-5-5h0m-6 2h0m-4-2h0m-10-10h0m-1 5h0m-6 0h0m-3 7h0m-7-7h0m-11 1h0m-4-6h0m-13 5h0m0 3h0m0 3h0m0-8h0m0 3h0m-1 5h0m-12-11h0m-9 12h0m-5-8h0m9 13h0m14 0h0m9 0h0m19 11h0m9-12h0m3 7h0m2 4h0m0-3h0m13 6h0m1-10h0m6 0h0m2 1h0m1-1h0m20-2h0m1-1h0m4 3h0m16 3h0m2-6h0m2 11h0m1-11h0m2 6h0m8 5h0m13-2h0m5-6h0m63 5h0m16-5h0m4 7h0m1-9h0m16 6h0m62-4h0m173 10h0m-15 14h0m-124 1h0m-32-5h0m-95-3h0m-3-5h0m-17 15h0m-53-12h0m-2 6h0m-2 3h0m-4 2h0m-4 0h0m-7-4h0m-8-1h0m-4-4h0m-8-2h0m-9 8h0m-8 1h0m-1-5h0m-3-3h0m-5 9h0m-14-5h0m-3-7h0m-12 3h0m-15 0h0m-3 8h0m-2 3h0m-4-2h0m0-10h0m-5 4h0m-6-2h0m-3-5h0m-4 6h0m20 12h0m10 6h0m2 5h0m1-5h0m3 0h0m8-1h0m10 2h0m11-3h0m7 7h0m1-7h0m5-5h0m7 0h0m4 13h0m0-11h0m4 2h0m6 4h0m1 3h0m32-4h0m1-7h0m23-1h0m3 14h0m14-5h0m31-3h0m34-2h0m31-4h0m80 0h0m12 8h0m156 6h0m-10 14h0m-182 2h0m-53 0h0m-13-1h0m-88-2h0m-4-11h0m-29 7h0m-25-6h0m-11 3h0m-2 11h0m-3-5h0m-1-9h0m-1 9h0m-1-6h0m-7 4h0m-1-4h0m-8 8h0m-1-8h0m-5-1h0m-2 8h0m-10 0h0m-4 0h0m-14 5h0m18 11h0m2 0h0m0-11h0m5 14h0m2-1h0m2-5h0m2 2h0m7-9h0m3-1h0m9 10h0m10-1h0m3 5h0m4-1h0m2-4h0m5-6h0m4-3h0m3 1h0m2 5h0m4 7h0m7 1h0m4-5h0m3-4h0m0 8h0m1-9h0m1-3h0m9-1h0m10 3h0m0 12h0m1-4h0m19 3h0m8-9h0m13-1h0m10 0h0m18 0h0m32 7h0m2 2h0m0 2h0m18 0h0m120-7h0m54-4h0m-144 25h0m-26-3h0m-5 1h0m-10 4h0m-34-6h0m-20 2h0m-16-10h0m-4 12h0m-3 0h0m-10-5h0m-17 7h0m-1-15h0m-2 14h0m-3-7h0m-1 3h0m-16 4h0m-5-2h0m-10-7h0m-4 8h0m-1 1h0m-3-3h0m-2-11h0m-8 4h0m0 11h0m0-4h0m-5-1h0m-8 4h0m-3-3h0m-5-4h0m0-1h0m-7 5h0m-4 0h0m-15-4h0m-6-5h0m-3 5h0m-6-7h0m14 20h0m11 10h0m3-2h0m4 3h0m2-2h0m10-1h0m10-9h0m3 6h0m3-7h0m2 11h0m5-10h0m2 10h0m0-2h0m30 4h0m3-4h0m3-9h0m2 12h0m1-10h0m1-4h0m0 3h0m8 1h0m30 4h0m7 1h0m30 2h0m6-3h0m63 5h0m14-12h0m1 0h0m1 14h0m8-9h0m27-6h0m16 11h0m105 5h0m-59 3h0m-120-2h0m-7 1h0m-77 2h0m-12-4h0m-3 1h0m-8 0h0m-2 4h0m-20 0h0m-25 1h0m-21-1h0m-3-2h0m-19 2h0m-15-3h0"/><path stroke="#dca0f5" stroke-width="4.8" d="M230 997h0m52 1h0m128 9h0m65-4h0m3 4h0m8-5h0m15 1h0m2-1h0m27 4h0m8-8h0m40 4h0m27 5h0m13-1h0m6-9h0m1 9h0m35-6h0m18-3h0m22 0h0m0 6h0m37-1h0m3 0h0m12-2h0m27 6h0m15-2h0m16 13h0m-44 5h0m-30-1h0m-11-13h0m-1 8h0m-1-7h0m-4 13h0m-19-4h0m-59-9h0m-2 5h0m-52-3h0m-65 9h0m-8-11h0m-36-1h0m-4 5h0m-2 10h0m-7 0h0m-8-10h0m-21-1h0m-58 1h0m-22 9h0m-5-8h0m-26 6h0m-64-9h0m-24-3h0m-6 11h0m-43-6h0m-2 23h0m123 2h0m3-1h0m46-11h0m11 6h0m50 0h0m34-2h0m8 1h0m9 3h0m5-1h0m12-1h0m28 3h0m5-6h0m50 8h0m20-7h0m25-1h0m1 10h0m0-11h0m22 5h0m14-4h0m16-3h0m11-1h0m5 9h0m40-2h0m5 3h0m3 4h0m18-9h0m38 22h0m-55-4h0m0 4h0m-4-10h0m-38 0h0m-21 12h0m-8 0h0m-2-1h0m-4-7h0m-1-6h0m-7 10h0m-29-5h0m-16-5h0m-21 5h0m-10-2h0m-6 10h0m-4-12h0m-21 3h0m-11 1h0m-6 10h0m-3-7h0m-2 7h0m-17-2h0m-17-12h0m-6 4h0m-14 9h0m-3-11h0m-44 11h0m-157 1h0m-30-6h0m-62-3h0m11 16h0m157 3h0m21-2h0m44 6h0m3-11h0m30 5h0m10-3h0m2 0h0m4 8h0m4-12h0m13 13h0m29-1h0m11 0h0m8-8h0m4 6h0m0-4h0m6 5h0m10-4h0m12-2h0m9 1h0m6 0h0m10 2h0m2 4h0m12-4h0m4-7h0m23 2h0m1-2h0m7 9h0m6 1h0m3-5h0m8-2h0m12 9h0m13-10h0m14 3h0m17-3h0m22 3h0m1 6h0m6-4h0m13-7h0m15 7h0m16 6h0m36-7h0m-71 18h0m-4 5h0m-10-8h0m0-3h0m-3 12h0m-36-2h0m-5 0h0m-24-5h0m-16-8h0m-24 2h0m-3 11h0m-7-4h0m-8 5h0m-15-7h0m-8 0h0m-9 3h0m-10-3h0m-1 7h0m-41-14h0m-32 7h0m-5-6h0m-84 2h0m-17 1h0m-15-1h0m-10 3h0m-35 6h0m-133 5h0m39 2h0m0 11h0m47-11h0m11 3h0m41-1h0m40 9h0m40-6h0m7-1h0m53 7h0m2-7h0m3 1h0m4-2h0m7-3h0m63 10h0m39 0h0m20 1h0m3-6h0m2-7h0m7 5h0m0-1h0m1 6h0m8-5h0m1 6h0m15 1h0m21-3h0m14-2h0m15 4h0m12-10h0m34 5h0m37 3h0m48 17h0m0-11h0m-25 13h0m-13-8h0m-18 0h0m-37 2h0m-13 6h0m-16-13h0m-60 15h0m-2-9h0m-9 1h0m-58 4h0m-17-11h0m-12 2h0m-1 10h0m0-12h0m-37 15h0m-2-12h0m-5 6h0m-23-9h0m0 12h0m-29 1h0m-75-11h0m-97 4h0m-27 4h0m40 12h0m70-6h0m15 14h0m16-5h0m71 2h0m8 0h0m38 4h0m4-6h0m15 2h0m17-10h0m1 14h0m13-1h0m9-1h0m16-3h0m1 2h0m3-12h0m6 14h0m44 1h0m15-12h0m8 7h0m7-2h0m9-6h0m7 0h0m3 2h0m23-1h0m17 5h0m11 1h0m0-6h0m19 7h0m1-5h0m73 24h0m-51-5h0m-23-6h0m-2 2h0m-14 0h0m-42-3h0m-57 6h0m-10-5h0m-70 9h0m-2-4h0m-8-5h0m-14-2h0m-4 1h0m-14 7h0m-2 3h0m-61-3h0m-10 7h0m-12-7h0m-19-5h0m-1 2h0m-20-5h0m-14 14h0m-3-11h0m-34 2h0m-68 7h0m48 8h0m36-2h0m68 1h0m21 10h0m17-8h0m60 7h0m15-6h0m8-1h0m1-3h0m3 11h0m18-10h0m68-1h0m7 13h0m9-12h0m2 2h0m6-3h0m13 1h0m6-2h0m56 6h0m10 4h0m13-5h0m78 4h0m3 11h0m-67 10h0m-8-8h0m-1-6h0m-21 3h0m-33 7h0m-6-5h0m-28 4h0m-8-8h0m-15 9h0m-2-4h0m-24 6h0m-15-3h0m-12 3h0m-2-1h0m-10-9h0m-4 11h0m-13-11h0m-1-3h0m-5 11h0m-26-4h0m-13 3h0m-2-3h0m-1 8h0m-69-4h0m-3-1h0m-14-3h0m-13 5h0m-4 2h0m-80 15h0m64-7h0m14 2h0m17 0h0m12 7h0m34-9h0m104-3h0m24 6h0m8-6h0m20 11h0m16-5h0m6 4h0m3-9h0m2 3h0m10 6h0m8-2h0m4-3h0m2 3h0m9-4h0m23-2h0m83-2h0m22 5h0m5 3h0m23 17h0m-2-12h0m-2 6h0m-51 2h0m-10-2h0m-48 8h0m-9-11h0m-3 12h0m-1-5h0m-34 4h0m-17-14h0m-6 0h0m-5 0h0m-3 3h0m-24 1h0m-6 1h0m-15 4h0m-4 5h0m-4-14h0m-10 4h0m-9-3h0m-2-1h0m0 12h0m-10 2h0m-34-10h0m0 7h0m-8-10h0m-2 13h0m-28-10h0m-29 7h0m-5 1h0m-102 2h0m-44-5h0m71 15h0m30 1h0m8 1h0m36 2h0m13-6h0m34 3h0m6-5h0m19-4h0m8 6h0m20 1h0m8 7h0m40-8h0m21 8h0m47-5h0m1 1h0m1-5h0m9-3h0m14 3h0m15 1h0m20 3h0m8-7h0m3 7h0m21 0h0m1-2h0m20-1h0m54 0h0m-5 21h0m-69 2h0m-14-9h0m-53-2h0m-1-2h0m-7 1h0m0-1h0m-11 3h0m-6 4h0m-3 7h0m-10-6h0m-37 4h0m-8-6h0m-1 1h0m-8-6h0m-6 14h0m-5-15h0m-16 1h0m-13 12h0m-11-6h0m-1-6h0m-18 1h0m-84-2h0m-60 12h0m-93 8h0m75 9h0m12 0h0m75-13h0m28 3h0m16-1h0m67 1h0m4 10h0m7-11h0m10-1h0m2 6h0m14-7h0m3 0h0m8 2h0m7 10h0m1-10h0m14-1h0m72 1h0m6 2h0m46-1h0m3-1h0m87 17h0m-15-1h0m-87 2h0m-11-3h0m-94 1h0m-46-1h0m-9-1h0m-101 3h0m-142-1h0"/><path stroke="#3a8af8" stroke-width="4.8" d="M209 1002h0m22 5h0m54-10h0m15 10h0m52-1h0m8-9h0m20 4h0m34 2h0m34-3h0m13 0h0m51 6h0m13-2h0m12-1h0m76-6h0m80 7h0m0-2h0m7 3h0m11-5h0m2 5h0m17-1h0m64-6h0m1 8h0m1-1h0m1 17h0m-24-1h0m-62-4h0m-26-9h0m-1 4h0m-23 11h0m-25-6h0m-9-7h0m-16 4h0m-6 5h0m-4-1h0m-20 1h0m-35-11h0m-10 0h0m-23 4h0m-4 6h0m-21-3h0m-24 1h0m-16-4h0m-32 6h0m-82 3h0m-29-7h0m-43 0h0m-17 1h0m-10-7h0m-69 15h0m6 15h0m2-1h0m1-6h0m21 2h0m5-3h0m4 0h0m39 1h0m9 4h0m5 0h0m2 1h0m2-2h0m6-1h0m7 4h0m7-10h0m57 7h0m50-8h0m27 1h0m60 4h0m15-6h0m35 14h0m62-13h0m11 1h0m21 4h0m29 1h0m12 4h0m23-4h0m47 5h0m15-11h0m37 9h0m17-3h0m3 2h0m15-10h0m7 14h0m5 11h0m-4-5h0m-6-1h0m-8 10h0m-3-9h0m-35 2h0m-6-6h0m-6 7h0m-5 6h0m-15-4h0m-12 4h0m-49-12h0m-2 7h0m-1-5h0m-6 1h0m-12 0h0m-2-4h0m-4 15h0m-1-3h0m-7-3h0m-20 3h0m-3-8h0m-23-4h0m-9 8h0m-21-1h0m-12 2h0m-87 5h0m-34-8h0m-11 3h0m-19 0h0m-18 6h0m-39-3h0m-6-10h0m-51 8h0m-39 3h0m0-1h0m0-2h0m-3 2h0m-36-4h0m-20-4h0m-25 9h0m10 11h0m14 1h0m16-1h0m37 3h0m6-7h0m0 1h0m18 6h0m67 3h0m16-9h0m26 7h0m24-11h0m15 7h0m1 4h0m34-6h0m36 2h0m21 7h0m18-4h0m53-3h0m56-8h0m30 14h0m45-8h0m17-3h0m11 2h0m39 8h0m13 0h0m2-9h0m5 3h0m1 5h0m21-12h0m4 15h0m-2 15h0m-2-8h0m-3 8h0m-2 1h0m-4-9h0m-19 4h0m-25 1h0m-10-1h0m-28-6h0m-7-4h0m-7 4h0m-12 3h0m-19 5h0m-8 3h0m-3-9h0m-4-6h0m-47 6h0m-6 6h0m-21-7h0m-6 10h0m-12-6h0m-10-1h0m-2-6h0m-1 10h0m-2-5h0m-13-7h0m-19 13h0m-6-7h0m-3 4h0m-4-6h0m-37 11h0m-11-11h0m-9 9h0m-20-6h0m-74-4h0m-12 7h0m-2-3h0m-12 0h0m-63-2h0m-18 2h0m-8-7h0m0 15h0m-66-10h0m-6 6h0m-12-5h0m1 20h0m57 2h0m3-6h0m13 7h0m45 2h0m44-10h0m6-2h0m34 0h0m15 2h0m22-3h0m49 13h0m43-15h0m19 7h0m62 6h0m32-2h0m7-9h0m8-2h0m61 9h0m44-3h0m50 4h0m4-7h0m4 6h0m9-4h0m23-2h0m17 4h0m-9 21h0m-3-10h0m-19 11h0m-15-11h0m-1 10h0m-21-10h0m-22-1h0m-62 1h0m-6 6h0m-20 7h0m-6-11h0m-45 10h0m-9-12h0m-2 8h0m-6-1h0m-65-9h0m-38 6h0m-38 1h0m-55 2h0m-61 0h0m-59-6h0m0 3h0m-60-6h0m-38 10h0m-8-10h0m22 22h0m38 9h0m2-6h0m31-8h0m26 3h0m13 8h0m30 1h0m10-9h0m9 5h0m7-6h0m8-3h0m11 8h0m15-2h0m46 6h0m24 3h0m8-10h0m2-5h0m17 11h0m19-1h0m40-1h0m4 4h0m45-1h0m18-12h0m12 11h0m38-2h0m6 0h0m19-6h0m3-2h0m28 6h0m12 6h0m8-12h0m45 7h0m3-1h0m48 4h0m-3 20h0m-1-4h0m-45 2h0m-56-7h0m-12-5h0m-2 2h0m-78 4h0m-2 8h0m-105-4h0m-1-11h0m-20 14h0m-67-11h0m0 10h0m-10 1h0m-137-5h0m-22-6h0m-2-1h0m-43 5h0m-5 8h0m14 8h0m14 0h0m26 6h0m1-7h0m53 4h0m3-2h0m43 0h0m34 3h0m24-1h0m36-9h0m56 1h0m21 1h0m51 9h0m4-2h0m2 4h0m15-7h0m10 3h0m45-1h0m6 6h0m9-10h0m11 9h0m32-3h0m31-5h0m1-6h0m2 13h0m43-11h0m18 6h0m-22 22h0m0-12h0m-7 4h0m-12-2h0m-8 8h0m-13-2h0m-11-1h0m-57-3h0m-58-5h0m-7 2h0m-22 12h0m-41-15h0m-7 13h0m-39-13h0m-21 9h0m-109 6h0m-7-10h0m-45 0h0m-14 3h0m-32-6h0m-10 9h0m-1 1h0m-11-9h0m-11-1h0m-20 6h0m12 20h0m82-12h0m92 2h0m33 11h0m44-7h0m28 4h0m42-4h0m5-6h0m1 3h0m41 10h0m27-9h0m16-1h0m3 3h0m12 4h0m8 5h0m26 0h0m1-7h0m11-4h0m4 2h0m14-2h0m65 2h0m38 2h0m-10 12h0m-6-4h0m-7 3h0m-5 10h0m-13-10h0m-2 12h0m-76-5h0m-11 1h0m-5 4h0m-3-6h0m-18 0h0m-3 6h0m-43-5h0m-3-5h0m-87-3h0m-33 10h0m-15-6h0m-1 1h0m-7-5h0m-105 5h0m-1-2h0m-38 0h0m-4 9h0m-18-5h0m-6-6h0m-46-2h0m-17 7h0m20 17h0m18 6h0m12-10h0m5 10h0m12-11h0m13 6h0m6-8h0m2 6h0m24 7h0m18-11h0m95-1h0m41-3h0m16 13h0m50 2h0m10-15h0m43 3h0m32 8h0m9-9h0m9 8h0m13-2h0m56-5h0m32 4h0m2-6h0m2 6h0m37 7h0m11 6h0m-58 7h0m-1-1h0m-16-6h0m-53 9h0m-61-10h0m-12 2h0m-9-4h0m-1 4h0m-12-3h0m-10 1h0m-22-1h0m-21 4h0m-1 5h0m-56-1h0m-24 4h0m-18 0h0m-18-11h0m-9 6h0m-34-9h0m-45 4h0m-34 6h0m-27 2h0m-18-1h0m14 18h0m19 0h0m11-6h0m14-7h0m2 3h0m79-2h0m1 6h0m44-3h0m26 10h0m16-4h0m15 4h0m0 0h0m15-7h0m34-5h0m15 4h0m25-2h0m25-4h0m2 8h0m3-1h0m2 5h0m0-5h0m35 1h0m50-6h0m8-1h0m31-1h0m6 3h0m17-2h0m2 9h0m21-4h0m1 2h0m16 5h0m-91 5h0m-12-1h0m-6 3h0m-74-1h0m-19-1h0m-9 2h0m-149 1h0m-18-4h0m-74 5h0m-6 0h0m-33-1h0"/><path stroke="#dcdcdc" stroke-width="4.8" d="M313 1004h0m5 3h0m88-3h0m114 1h0m16-3h0m16-5h0m65 1h0m35-1h0m91 6h0m52 1h0m2-7h0m-8 25h0m-10-7h0m-12 2h0m-13-5h0m-61 11h0m-50-1h0m-21-1h0m-48 1h0m-6-5h0m-7-2h0m-1-5h0m-50 8h0m-28 1h0m-2-9h0m-51-1h0m-86 4h0m-4 8h0m-10-3h0m-20 3h0m-60-7h0m113 23h0m33-6h0m32 3h0m107-7h0m127 5h0m14 7h0m51-4h0m56-10h0m35 2h0m-23 17h0m-22 1h0m-2 10h0m-4-7h0m-44-3h0m-58 3h0m-34 6h0m-13-4h0m-3-3h0m-5 4h0m-31-9h0m-4 9h0m-82-4h0m-2 8h0m-52-1h0m-7-5h0m-8 3h0m-35-8h0m-20-4h0m-6 6h0m-2-3h0m-1 9h0m-3-9h0m-4-1h0m-2 12h0m-40-3h0m-12 3h0m122 2h0m1 0h0m12 8h0m88 5h0m19 0h0m27-6h0m47-1h0m14 8h0m59-9h0m47-4h0m11 3h0m22 6h0m44-7h0m1 5h0m-69 12h0m-4 7h0m-167 0h0m-76-5h0m-94 8h0m-57-8h0m-35 4h0m-8-1h0m-47 3h0m-38-10h0m-5 14h0m16 10h0m72-8h0m15-1h0m28 12h0m76-5h0m19 6h0m1-6h0m62 1h0m153-1h0m7-8h0m17 7h0m38 7h0m51-10h0m56 4h0m-25 22h0m-33-12h0m-23 4h0m-41 4h0m-47-8h0m-13-1h0m-29 13h0m-13-1h0m-140-3h0m-26-8h0m-50 9h0m-25-6h0m-42 18h0m6 3h0m61-8h0m35-2h0m71 8h0m33 2h0m17 0h0m15-6h0m6 5h0m50 2h0m11 4h0m77-12h0m10-1h0m37 10h0m69-3h0m14 6h0m17-9h0m-97 18h0m-13-3h0m-3 9h0m-29-10h0m-99-3h0m-20 10h0m-89 1h0m-19 0h0m-34-1h0m-188-4h0m-30 16h0m100-6h0m63 10h0m59 0h0m3-9h0m34 9h0m3-4h0m15-4h0m19-3h0m3 6h0m13-3h0m19 0h0m22-2h0m49 0h0m18 11h0m1-2h0m12-5h0m34 2h0m29 3h0m19-1h0m4 2h0m5 2h0m21 2h0m42 0h0m-44 14h0m-97-5h0m-6-5h0m-19 12h0m-14-7h0m-5-1h0m-19 1h0m-3 4h0m-14-5h0m-36-7h0m-8 4h0m-26 8h0m-8-12h0m-107 4h0m-120-4h0m123 21h0m64 10h0m22-1h0m3-9h0m43 1h0m11 6h0m3-9h0m13 6h0m61-5h0m19 9h0m21 1h0m3-6h0m45 3h0m5-4h0m12 1h0m120 8h0m-106 9h0m-23 4h0m-75-2h0m-3-1h0m-14 4h0m-2-1h0m-12 1h0m-35-8h0m-50-3h0m-17-1h0m-23 7h0m-197 1h0m69 15h0m20-1h0m42 1h0m2 1h0m10-5h0m15 9h0m8-10h0m40-3h0m82 8h0m26-7h0m91 12h0m21-11h0m58-3h0m40 3h0m15 3h0m10 24h0m-3-6h0m-52 6h0m-63-4h0m-35-8h0m-60-2h0m-16 4h0m-29-4h0m-9 10h0m-5-3h0m-17-7h0m-72 15h0m-36-2h0m-131-10h0m-17 10h0m24 13h0m2 5h0m118-11h0m22 10h0m47-9h0m108 0h0m72 0h0m12 6h0m16-2h0m50-8h0m66 13h0m15-11h0m12 0h0m-276 14h0m-34 4h0m-58-5h0"/><path stroke="#1f7a52" stroke-width="4.8" d="M333 999h0m2 0h0m57 1h0m76 2h0m8-6h0m3 9h0m59-1h0m26 0h0m12-2h0m15-6h0m0 1h0m1 7h0m9-4h0m31-1h0m1 1h0m6 2h0m28-1h0m1 3h0m7 0h0m33-4h0m45 3h0m51 17h0m-6-8h0m-18-1h0m-1 8h0m-73-3h0m-30-6h0m-10 4h0m-9 9h0m-46-4h0m-29-9h0m-38 9h0m-10-7h0m-45-2h0m-31-2h0m-1 2h0m-32 8h0m-24 5h0m-44-4h0m-40-3h0m-25 4h0m-2-12h0m-28 15h0m-26 2h0m110 1h0m4 9h0m30 3h0m14-4h0m41-10h0m24 13h0m33-2h0m8 0h0m32-6h0m4 6h0m67-10h0m13 5h0m0 4h0m12 4h0m36-4h0m57-9h0m14 10h0m5-11h0m14 8h0m34 4h0m2-3h0m29 11h0m0-4h0m-15 11h0m-3-8h0m-35 7h0m-16-1h0m-17-3h0m-22 1h0m-25-7h0m0 13h0m-39-10h0m-11 2h0m-5 4h0m-31-5h0m-60 9h0m-11-1h0m-14 3h0m-8-11h0m-7 9h0m-65-13h0m-30 5h0m-12-3h0m-4 13h0m-37 0h0m-11-3h0m-74 0h0m-78 4h0m103 8h0m32-4h0m25 0h0m26 5h0m12 3h0m57 1h0m23 1h0m14 0h0m44-1h0m49-7h0m51 4h0m15 0h0m13 1h0m22-4h0m1 5h0m2-12h0m18 14h0m131-9h0m-1 26h0m-25-4h0m-5-10h0m0 8h0m-20 3h0m-21-5h0m-14 0h0m-13 6h0m-19-2h0m-1 0h0m-46-6h0m-89-5h0m-2 9h0m-13-3h0m-34 5h0m-21-1h0m-14-6h0m-7-3h0m-27 3h0m-6 6h0m-4-6h0m-1-4h0m-22 13h0m-5-4h0m-31 6h0m-5-4h0m-8-7h0m-23-2h0m-6 12h0m-6-5h0m0-9h0m-27 14h0m-7-9h0m0-4h0m-3 7h0m-44-6h0m-13 13h0m5 5h0m52 3h0m41 3h0m3 4h0m0-1h0m59-4h0m4-6h0m47 6h0m7 1h0m3-2h0m9 3h0m54 0h0m42-2h0m72-2h0m4-7h0m8 14h0m3-1h0m0-3h0m83-3h0m14-2h0m16-1h0m2 8h0m8-12h0m5 1h0m2-1h0m6 10h0m19-8h0m22 6h0m1-4h0m2 7h0m0 5h0m-6 5h0m-21-3h0m-1 11h0m-6-8h0m-76 1h0m-4 1h0m-31-4h0m-44-3h0m-7 5h0m-31 1h0m-8 2h0m-28 5h0m-21-10h0m-43-3h0m-25 6h0m-2 9h0m-47-2h0m-43-13h0m-7 6h0m-18 2h0m-10-2h0m-16 0h0m-8-1h0m-4-4h0m-20 12h0m-5-9h0m-11 1h0m-36 2h0m-64-6h0m-1-1h0m9 18h0m46 1h0m181 8h0m1 2h0m13 1h0m9-12h0m31 4h0m4-4h0m1 5h0m43 2h0m23-2h0m6 6h0m109-12h0m40 11h0m29 3h0m45-1h0m22 0h0m16-4h0m2 1h0m-44 13h0m-15 6h0m-28-5h0m-2-8h0m-11 14h0m-26-1h0m-8-11h0m-19 10h0m-2 2h0m-39-2h0m-39-5h0m-16-6h0m-5 5h0m-48 2h0m-32 6h0m-12-10h0m-49-5h0m-10 9h0m-13 4h0m-19-3h0m-4-6h0m-24-3h0m-50 13h0m-4 1h0m-8-12h0m-17 4h0m-28-5h0m-4 6h0m-12 3h0m6 18h0m8-12h0m50 3h0m45 6h0m42-2h0m16-7h0m6 6h0m37 6h0m17 0h0m8 2h0m30-10h0m13 8h0m37-1h0m28-5h0m33 3h0m7 0h0m1 3h0m19-7h0m3 0h0m1 2h0m12-4h0m4 6h0m2 2h0m21 3h0m19 0h0m16-3h0m69-12h0m57 6h0m6 1h0m3 9h0m-6 11h0m-15 1h0m-2-4h0m-2 1h0m-9 2h0m-13 2h0m-9 1h0m-8 0h0m-4-12h0m-5-1h0m-37 4h0m-74 1h0m-77-6h0m-13 1h0m-10 2h0m-18 9h0m-19-9h0m-9 9h0m-10-2h0m-35 1h0m-20-10h0m-16 4h0m-28-1h0m-26-1h0m-2 3h0m-35-5h0m-48 6h0m-18 5h0m-52-10h0m12 14h0m12 2h0m24 10h0m108-11h0m12 5h0m3 8h0m7-6h0m13 3h0m43-5h0m19 0h0m22-3h0m18-3h0m5 14h0m2-12h0m31 5h0m30 1h0m61 6h0m49-13h0m23 8h0m11-7h0m15 11h0m6-13h0m11 13h0m14-3h0m6-1h0m10-6h0m2-3h0m2 11h0m0-3h0m6 3h0m1-1h0m25-9h0m7 2h0m5 6h0m13 6h0m4-4h0m-21 10h0m-7-1h0m-11 0h0m-23 0h0m-21-1h0m-4-1h0m-5 1h0m-1 8h0m-9-1h0m-14 2h0m-24-4h0m-3-6h0m-26 11h0m-35-8h0m-2 4h0m-14-8h0m-1 8h0m-26-2h0m-4-1h0m-19-5h0m-140 12h0m-68 1h0m-73-2h0m-14 17h0m41-6h0m42-4h0m31 3h0m11-5h0m22 1h0m50 9h0m17-5h0m23 4h0m106 5h0m2-8h0m15 5h0m36-8h0m7 9h0m0-9h0m15 5h0m41 5h0m22-1h0m15-4h0m29 3h0m15-8h0m7 8h0m3-10h0m14 23h0m-1 1h0m-38 5h0m-21-8h0m-4 4h0m-2-4h0m-4-6h0m0 11h0m-76-3h0m-20 4h0m-99-10h0m-24 3h0m0-6h0m-26 11h0m-39 4h0m-5-12h0m-9 5h0m-19-5h0m-10 11h0m-6 0h0m-138 15h0m35-3h0m37 5h0m14-11h0m4 11h0m13-7h0m18 5h0m52-3h0m19-7h0m16-3h0m26 13h0m30-9h0m31 3h0m65-6h0m5 4h0m43 7h0m29-1h0m46-5h0m12 5h0m8 3h0m16-2h0m23 3h0m-39 6h0m-12 0h0m-14-4h0m-7 2h0m-6 3h0m-71-2h0m-6-4h0m-33 5h0m-122 0h0m-32-3h0m0 1h0m-31-3h0m-59 3h0"/><path stroke="#8b6512" stroke-width="4.8" d="M172 1004h0m75 3h0m25-4h0m16 2h0m35-5h0m22 6h0m30 1h0m22-5h0m196-5h0m55 7h0m11 2h0m72-5h0m82 16h0m-43 4h0m-1-1h0m-5-1h0m-15 1h0m-67 0h0m-15-3h0m-21 4h0m-79 2h0m-45-13h0m-3 9h0m-73-7h0m-17 2h0m-28 9h0m-7-6h0m-76-1h0m-47-3h0m-5 11h0m50 4h0m9 8h0m10 3h0m10 0h0m53-13h0m36 5h0m12-5h0m4 1h0m87 1h0m18 8h0m44-12h0m24 3h0m111 7h0m46 5h0m40-7h0m-12 15h0m-20-1h0m-73 9h0m-32-14h0m-179 6h0m-78 0h0m-61-4h0m-190 5h0m-5-8h0m150 25h0m37-7h0m150 0h0m3 10h0m4-1h0m278-6h0m11 3h0m31 0h0m-44 17h0m-17 5h0m-15-2h0m-19 1h0m-34-12h0m-7 12h0m-1 2h0m-14-11h0m-33-2h0m-163 7h0m-44 0h0m-8 2h0m-72 1h0m-24-12h0m-19 6h0m-68 6h0m-66 3h0m15 12h0m30-11h0m50 13h0m50-2h0m38-1h0m49-7h0m9 6h0m44-7h0m90 4h0m80-3h0m80-2h0m60 3h0m31 21h0m-31 6h0m-24-15h0m-52 1h0m-23 14h0m-21-6h0m-61 5h0m-8-9h0m-7 10h0m-16-10h0m-13-5h0m-19 6h0m-45-2h0m-115 8h0m-72 3h0m-4-8h0m-60 1h0m-4-5h0m-56 2h0m107 26h0m50-10h0m12 3h0m9-4h0m29 10h0m2-6h0m90 6h0m22-11h0m3 3h0m78 6h0m5-7h0m28-3h0m186 6h0m5 6h0m-47 10h0m-34-1h0m-16 7h0m-22 1h0m-13-5h0m-37-9h0m-32 8h0m-66 3h0m-59-8h0m-25 1h0m-4-3h0m-8-2h0m-24 3h0m-66 7h0m-107 5h0m-18 16h0m62-9h0m80 8h0m23-9h0m41-3h0m83 13h0m65-8h0m212 7h0m45-1h0m-14 5h0m-2-1h0m-11 12h0m-26 2h0m-87-14h0m-23 5h0m-25 6h0m-73 0h0m-4 3h0m-30-14h0m-30 7h0m-37 5h0m-33-5h0m-6 6h0m-5-14h0m-167 20h0m64 5h0m14 1h0m42 0h0m1-9h0m30-1h0m22 5h0m12 2h0m2-2h0m6 4h0m2-6h0m10 8h0m36 4h0m15-2h0m30-1h0m33 0h0m38-9h0m15-3h0m25 15h0m66-6h0m78-2h0m22 6h0m3-4h0m3 6h0m16 11h0m-50 5h0m-12-9h0m-138 6h0m-11-11h0m-58 1h0m-8 12h0m-33-5h0m0 6h0m-88 0h0m-24-10h0m-1-2h0m-26 5h0m6 13h0m188 8h0m19-13h0m28 0h0m7 14h0m72-11h0m20-1h0m23 8h0m51-8h0m10 4h0m16 7h0m7-4h0m-18 15h0m-64-1h0m-38 6h0m-26-2h0m-29-8h0m-95-3h0m-5 2h0m-2 4h0m-13-6h0m-2 0h0m-39 14h0m-51-2h0m-7-11h0m-17 10h0m-90-3h0m157 22h0m12-11h0m88 9h0m64-8h0m97-2h0m42 3h0m40-3h0m-163 17h0m-65 1h0m-64 1h0m-37-5h0m-86 4h0"/></g><g clip-path="url(#cp0)"><rect x="37.7" y="757.4" width="267.1" height="103.3" fill="url(#pM)"/><rect x="37.7" y="757.4" width="90.8" height="103.3" fill="url(#pL)" mask="url(#mL0)"/><rect x="238.0" y="757.4" width="66.8" height="103.3" fill="url(#pR)" mask="url(#mR0)"/><path d="M39.0,778.1 Q56.4,803.9 97.8,850.4" stroke="#fff" stroke-width="3.2" fill="none" opacity="0.85"/><path d="M64.4,761.5 Q80.4,783.2 112.5,814.2" stroke="#fff" stroke-width="2.2" fill="none" opacity="0.6"/></g><g clip-path="url(#cp1)"><rect x="394.2" y="758.3" width="265.8" height="102.7" fill="url(#pM)"/><rect x="394.2" y="758.3" width="90.4" height="102.7" fill="url(#pL)" mask="url(#mL1)"/><rect x="593.5" y="758.3" width="66.5" height="102.7" fill="url(#pR)" mask="url(#mR1)"/><path d="M395.5,778.8 Q412.8,804.5 454.0,850.7" stroke="#fff" stroke-width="3.2" fill="none" opacity="0.85"/><path d="M420.8,762.4 Q436.7,784.0 468.6,814.8" stroke="#fff" stroke-width="2.2" fill="none" opacity="0.6"/></g><g clip-path="url(#cp2)"><rect x="38.5" y="899.8" width="267.5" height="103.2" fill="url(#pM)"/><rect x="38.5" y="899.8" width="91.0" height="103.2" fill="url(#pL)" mask="url(#mL2)"/><rect x="239.1" y="899.8" width="66.9" height="103.2" fill="url(#pR)" mask="url(#mR2)"/><path d="M39.8,920.4 Q57.2,946.2 98.7,992.7" stroke="#fff" stroke-width="3.2" fill="none" opacity="0.85"/><path d="M65.2,903.9 Q81.3,925.6 113.4,956.6" stroke="#fff" stroke-width="2.2" fill="none" opacity="0.6"/></g><g clip-path="url(#cp3)"><rect x="394.6" y="899.8" width="266.4" height="103.2" fill="url(#pM)"/><rect x="394.6" y="899.8" width="90.6" height="103.2" fill="url(#pL)" mask="url(#mL3)"/><rect x="594.4" y="899.8" width="66.6" height="103.2" fill="url(#pR)" mask="url(#mR3)"/><path d="M395.9,920.4 Q413.2,946.2 454.5,992.7" stroke="#fff" stroke-width="3.2" fill="none" opacity="0.85"/><path d="M421.2,903.9 Q437.2,925.6 469.2,956.6" stroke="#fff" stroke-width="2.2" fill="none" opacity="0.6"/></g><g transform="scale(0.5)" fill="none" stroke-linecap="round"><path stroke="#333" stroke-width="3" d="M66 1511h0m19 0h0m20 0h0m19 0h0m19 0h0m19 0h0m19 0h0m19 0h0m305 0h0m19 0h0m19 0h0m19 0h0m20 0h0m19 0h0m19 0h0m159 1h0m19 0h0m19 0h0m19 0h0m19 0h0m439 0h0m19 0h0m19 0h0m-477 22h0m-38 0h0m-38 0h0m-159-2h0m-19 0h0m-96 0h0m-19 0h0m-38 0h0m-19 0h0m-19 0h0m-19 0h0m-19 0h0m-172 0h0m-19 0h0m-19 0h0m-19 0h0m-19 0h0m-19 0h0m-20 0h0m-19 0h0m770 24h0m-38 0h0m-178-2h0m-115 0h0m-19 0h0m-38 0h0m-19 0h0m-19 0h0m-19 0h0m-19 0h0m-172 0h0m-19 0h0m-19 0h0m-19 0h0m-19 0h0m-19 0h0m-20 0h0m-19 0h0m0 22h0m19 0h0m20 0h0m19 0h0m19 0h0m19 0h0m19 0h0m19 0h0m248 0h0m38 0h0m19 0h0m115 0h0m159 2h0m38 0h0m38 0h0m-235 20h0m-115 0h0m-19 0h0m-38 0h0m-248 0h0m-19 0h0m-19 0h0m-19 0h0m-19 0h0m-19 0h0m-20 0h0m-19 0h0m732 2h0m38 0h0m19 22h0m-38 0h0m-38 0h0m-159-2h0m-115 0h0m-19 0h0m-38 0h0m-248 0h0m-19 0h0m-19 0h0m-19 0h0m-19 0h0m-19 0h0m-20 0h0m-19 0h0m0 22h0m19 0h0m20 0h0m19 0h0m19 0h0m19 0h0m19 0h0m19 0h0m248 0h0m38 0h0m19 0h0m115 0h0m178 2h0m38 0h0m-770 20h0m19 0h0m20 0h0m19 0h0m19 0h0m19 0h0m19 0h0m19 0h0m248 0h0m38 0h0m19 0h0m96 0h0m19 0h0m159 1h0m19 0h0m19 0h0m19 0h0m0 22h0m-19 0h0m-19 0h0m-19 0h0m-159-2h0m-19 0h0m-96 0h0m-19 0h0m-38 0h0m-248 0h0m-19 0h0m-19 0h0m-19 0h0m-19 0h0m-19 0h0m-20 0h0m-19 0h0m0 22h0m19 0h0m20 0h0m19 0h0m19 0h0m19 0h0m19 0h0m19 0h0m229 0h0m19 0h0m38 0h0m19 0h0m96 0h0m19 0h0m159 2h0m19 0h0m19 0h0m19 0h0m-770 20h0m19 0h0m20 0h0m19 0h0m19 0h0m19 0h0m19 0h0m19 0h0m19 0h0m19 0h0m382 0h0m159 2h0m19 0h0m19 0h0m19 0h0m19 0h0m439 0h0m19 0h0m19 0h0m-1266 64h0m19 0h0m19 0h0m20 0h0m19 0h0m19 0h0m19 0h0m19 0h0m19 0h0m342 0h0m19 0h0m20 0h0m19 0h0m160 0h0m19 0h0m19 0h0m19 0h0m19 0h0m19 0h0m172 0h0m19 0h0m19 0h0m19 0h0m19 0h0m19 0h0m19 0h0m19 0h0m19 0h0m19 0h0m19 0h0m20 0h0m19 0h0m19 0h0m19 0h0m19 0h0m0 22h0m-19 0h0m-19 0h0m-19 0h0m-19 0h0m-20 0h0m-19 0h0m-19 0h0m-324 0h0m-19 0h0m-19 0h0m-19 0h0m-19 0h0m-19 0h0m-160 0h0m-172 0h0m-228 0h0m-19 0h0m-19 0h0m-19 0h0m-19 0h0m-19 0h0m-20 0h0m-19 0h0m-19 0h0m0 22h0m19 0h0m19 0h0m20 0h0m19 0h0m19 0h0m19 0h0m19 0h0m19 0h0m247 0h0m153 0h0m160 0h0m19 0h0m19 0h0m19 0h0m19 0h0m19 0h0m324 0h0m19 0h0m19 0h0m20 0h0m19 0h0m19 0h0m19 0h0m19 0h0m-1266 22h0m19 0h0m19 0h0m20 0h0m19 0h0m19 0h0m19 0h0m19 0h0m19 0h0m228 0h0m172 0h0m160 0h0m19 0h0m19 0h0m19 0h0m19 0h0m19 0h0m324 0h0m19 0h0m19 0h0m20 0h0m19 0h0m19 0h0m19 0h0m19 0h0m0 22h0m-19 0h0m-19 0h0m-19 0h0m-19 0h0m-20 0h0m-19 0h0m-19 0h0m-324 0h0m-19 0h0m-19 0h0m-19 0h0m-19 0h0m-19 0h0m-160 0h0m-153 0h0m-38 0h0m-209 0h0m-19 0h0m-19 0h0m-19 0h0m-19 0h0m-19 0h0m-20 0h0m-19 0h0m-19 0h0m1266 21h0m-19 0h0m-439 0h0m-19 0h0m-19 0h0m-19 0h0m-19 0h0m-19 0h0m-160 0h0m-172 0h0m-228 0h0m-19 0h0m-19 0h0m-19 0h0m-19 0h0m-19 0h0m-20 0h0m-19 0h0m-19 0h0m0 22h0m19 0h0m19 0h0m20 0h0m19 0h0m19 0h0m19 0h0m19 0h0m19 0h0m209 0h0m38 0h0m153 0h0m160 0h0m19 0h0m19 0h0m19 0h0m19 0h0m19 0h0m439 0h0m19 0h0m0 22h0m-19 0h0m-439 0h0m-19 0h0m-19 0h0m-19 0h0m-19 0h0m-19 0h0m-160 0h0m-172 0h0m-228 0h0m-19 0h0m-19 0h0m-19 0h0m-19 0h0m-19 0h0m-20 0h0m-19 0h0m-19 0h0m1266 22h0m-19 0h0m-439 0h0m-19 0h0m-19 0h0m-19 0h0m-19 0h0m-19 0h0m-160 0h0m-153 0h0m-38 0h0m-209 0h0m-19 0h0m-19 0h0m-19 0h0m-19 0h0m-19 0h0m-20 0h0m-19 0h0m-19 0h0m0 22h0m19 0h0m19 0h0m20 0h0m19 0h0m19 0h0m19 0h0m19 0h0m19 0h0m228 0h0m172 0h0m160 0h0m19 0h0m19 0h0m19 0h0m19 0h0m19 0h0m439 0h0m19 0h0m0 22h0m-19 0h0m-439 0h0m-19 0h0m-19 0h0m-19 0h0m-19 0h0m-19 0h0m-160 0h0m-381 0h0m-19 0h0m-19 0h0m-19 0h0m-19 0h0m-19 0h0m-19 0h0m-20 0h0m-19 0h0m-19 0h0"/></g><path fill="#262626" d="M108.8 757.2L108.1 752.9L112.2 754.5ZM110.9 761.8L109.4 765.2L107.1 764.2L107.7 770.5L112.6 766.6L110.4 765.6L111.9 762.2ZM110.1 774.8L109.7 775.6L108.3 774.8L108.4 779.2L112.1 776.9L110.7 776.1L111.1 775.4ZM108.3 789.3L109.4 785.1L112.5 788.2ZM107.5 799.1L111.3 796.8L111.4 801.2ZM113.5 810.0L110.4 809.5L110.8 807.1L105.6 809.3L109.8 813.0L110.2 810.6L113.3 811.1ZM112.8 822.7L110.4 820.9L111.9 819.0L106.6 818.6L108.3 823.7L109.8 821.8L112.1 823.6ZM111.8 827.8L109.6 830.8L107.6 829.3L106.8 835.4L112.5 832.9L110.5 831.4L112.6 828.5ZM109.7 840.0L109.3 841.5L107.7 841.0L108.8 845.3L112.0 842.2L110.4 841.8L110.8 840.4ZM109.0 851.0L109.0 852.5L107.3 852.5L109.5 856.3L111.7 852.6L110.1 852.6L110.1 851.0ZM119.6 752.8L119.1 753.9L117.6 753.2L118.0 757.6L121.6 755.0L120.1 754.3L120.6 753.2ZM119.3 761.3L118.7 765.2L116.2 764.8L118.3 771.1L122.2 765.7L119.8 765.3L120.3 761.4ZM119.9 774.8L119.3 775.7L117.9 774.8L117.7 779.2L121.6 777.2L120.2 776.3L120.8 775.4ZM118.0 788.8L120.0 784.9L122.4 788.6ZM117.4 798.2L121.8 797.9L119.9 801.9ZM122.7 810.0L119.9 809.5L120.2 807.1L115.5 809.4L119.3 813.0L119.7 810.6L122.5 811.0ZM123.3 822.3L120.1 820.8L121.2 818.6L115.0 819.0L118.6 824.0L119.6 821.8L122.9 823.3ZM120.3 827.1L118.9 830.7L116.6 829.8L117.3 836.3L122.2 832.0L119.9 831.1L121.3 827.5ZM119.7 840.3L119.2 841.3L117.7 840.6L117.9 844.9L121.6 842.6L120.2 841.8L120.7 840.8ZM118.7 851.1L118.6 852.4L116.9 852.3L118.9 856.2L121.3 852.6L119.7 852.5L119.8 851.1ZM128.0 756.5L127.7 752.2L131.6 754.1ZM130.1 762.2L128.5 765.2L126.3 764.1L126.6 770.0L131.6 766.9L129.5 765.7L131.1 762.8ZM130.4 774.7L128.8 776.2L127.7 775.0L126.5 779.2L130.7 778.2L129.6 777.0L131.1 775.5ZM130.8 786.6L129.5 787.1L128.8 785.6L126.2 789.1L130.5 789.7L129.9 788.1L131.2 787.6ZM133.3 800.0L129.7 798.8L130.4 796.5L124.1 797.5L128.6 802.2L129.3 799.8L132.9 801.0ZM134.2 811.5L129.9 809.8L130.7 807.6L123.2 807.9L128.6 813.2L129.5 810.9L133.8 812.5ZM135.0 822.2L129.7 820.7L130.5 818.3L122.4 819.0L128.7 824.0L129.4 821.7L134.6 823.3ZM135.2 829.8L129.1 831.1L128.6 828.7L121.9 833.2L129.8 834.6L129.3 832.2L135.4 830.9ZM134.2 840.9L129.6 841.9L129.1 839.6L122.9 844.1L130.4 845.4L129.9 843.0L134.4 842.0ZM128.6 850.9L128.3 852.5L126.6 852.2L128.1 856.3L131.0 853.0L129.3 852.7L129.7 851.1ZM126.9 864.6L130.7 862.4L130.8 866.8ZM137.6 756.4L137.3 752.0L141.3 754.0ZM139.4 763.7L138.4 765.1L137.1 764.1L136.4 768.4L140.5 766.8L139.2 765.8L140.3 764.4ZM140.6 774.9L138.4 776.3L137.1 774.3L135.4 778.9L140.3 779.3L139.0 777.3L141.2 775.9ZM142.7 785.8L138.9 787.2L138.1 784.9L133.4 789.8L140.1 790.6L139.3 788.3L143.1 786.8ZM144.3 799.7L139.5 798.7L140.0 796.3L132.1 797.8L138.7 802.2L139.2 799.8L144.0 800.8ZM142.4 810.7L139.1 809.7L139.8 807.3L134.1 808.7L138.1 813.1L138.8 810.7L142.0 811.7ZM142.8 818.5L138.9 820.0L138.0 817.7L133.3 822.8L140.2 823.3L139.3 821.0L143.2 819.5ZM142.5 828.7L138.8 830.8L137.6 828.7L133.5 834.5L140.6 833.9L139.3 831.8L143.1 829.6ZM144.4 839.8L138.5 842.0L137.7 839.7L131.7 845.2L139.8 845.3L138.9 843.0L144.7 840.8ZM139.1 849.6L137.9 852.7L135.6 851.8L136.7 857.5L141.2 854.0L138.9 853.1L140.1 850.0ZM136.9 864.6L140.6 862.3L140.8 866.7ZM147.2 756.4L146.7 752.1L150.7 753.9ZM150.5 765.2L148.4 765.6L148.2 763.9L144.8 766.7L148.9 768.3L148.6 766.6L150.7 766.3ZM152.5 776.0L148.6 776.5L148.3 774.1L142.8 777.7L149.0 780.0L148.7 777.6L152.7 777.1ZM153.5 792.0L148.4 788.0L149.9 786.0L142.2 783.7L146.2 790.7L147.7 788.8L152.9 792.9ZM154.0 800.9L148.7 798.8L149.6 796.6L141.5 796.6L147.4 802.1L148.3 799.9L153.6 801.9ZM152.0 809.6L148.6 809.4L148.7 807.0L143.4 809.7L148.4 813.0L148.5 810.5L151.9 810.7ZM151.5 819.2L148.3 820.1L147.7 817.8L143.7 822.0L149.3 823.5L148.6 821.2L151.8 820.3ZM152.3 827.8L148.3 830.7L146.9 828.7L142.8 835.4L150.4 833.5L149.0 831.5L152.9 828.7ZM153.4 841.3L148.8 842.0L148.4 839.6L141.9 843.6L149.3 845.5L148.9 843.1L153.5 842.4ZM148.1 849.6L147.3 852.8L145.0 852.2L146.7 857.6L150.8 853.6L148.4 853.0L149.2 849.9ZM146.4 864.6L150.2 862.4L150.3 866.8ZM156.5 756.3L156.8 752.0L160.5 754.4ZM160.6 764.8L157.8 765.5L157.2 763.1L153.7 767.1L158.7 769.0L158.1 766.6L160.9 765.9ZM162.5 776.8L158.3 776.6L158.4 774.2L151.9 777.0L158.2 780.2L158.3 777.7L162.5 777.9ZM163.8 789.6L158.1 787.8L158.9 785.5L150.8 786.1L157.1 791.2L157.8 788.9L163.5 790.6ZM162.9 798.6L158.4 798.5L158.4 796.1L151.6 798.9L158.3 802.1L158.3 799.6L162.8 799.7ZM161.4 808.6L158.0 809.2L157.5 806.8L153.0 810.8L158.6 812.7L158.2 810.3L161.6 809.7ZM159.9 818.3L157.5 820.0L156.1 818.0L154.2 823.0L159.6 822.9L158.1 820.9L160.6 819.2ZM162.5 828.7L158.1 830.8L157.0 828.6L151.7 834.5L159.6 834.0L158.6 831.8L162.9 829.7ZM164.6 841.1L157.1 842.2L156.7 839.8L149.7 843.8L157.6 845.7L157.2 843.3L164.8 842.2ZM161.4 853.3L158.1 853.2L158.2 850.7L153.0 853.5L157.9 856.7L158.0 854.3L161.4 854.4ZM156.0 864.4L160.1 862.8L159.4 867.1ZM166.0 756.3L166.7 751.9L170.1 754.7ZM170.5 765.5L167.5 765.6L167.4 763.2L163.0 766.4L167.6 769.2L167.5 766.7L170.5 766.6ZM172.0 776.2L167.8 776.5L167.6 774.1L161.4 777.6L168.1 780.1L167.9 777.6L172.1 777.3ZM172.3 789.9L168.0 788.1L169.0 785.8L161.5 785.8L166.6 791.3L167.6 789.1L171.8 790.9ZM171.2 797.0L167.5 798.2L166.8 795.9L162.2 800.5L168.6 801.6L167.8 799.2L171.5 798.1ZM171.0 806.3L167.4 808.9L165.9 806.9L162.2 813.2L169.4 811.7L168.0 809.8L171.6 807.2ZM172.2 818.3L167.7 820.0L166.9 817.6L161.1 822.9L168.9 823.3L168.1 821.0L172.6 819.3ZM172.5 830.8L167.9 831.2L167.7 828.7L161.0 832.2L168.1 834.7L168.0 832.3L172.6 831.9ZM171.5 841.9L167.7 842.1L167.5 839.7L162.0 843.1L167.9 845.7L167.7 843.2L171.6 843.0ZM170.2 854.0L167.6 853.3L168.2 850.9L163.4 852.8L166.7 856.7L167.3 854.4L170.0 855.1ZM165.3 864.5L169.3 862.6L168.9 867.0ZM175.3 756.9L175.4 752.6L179.1 754.9ZM182.1 765.6L177.4 765.7L177.4 763.2L170.5 766.4L177.5 769.2L177.5 766.8L182.1 766.7ZM180.4 775.2L177.0 776.3L176.2 774.0L172.0 778.6L178.1 779.7L177.3 777.4L180.8 776.2ZM180.3 786.0L176.9 787.3L176.1 785.0L172.1 789.6L178.2 790.6L177.3 788.3L180.7 787.1ZM181.5 797.3L177.3 798.2L176.7 795.9L170.9 800.2L178.0 801.7L177.5 799.3L181.8 798.3ZM181.6 805.5L176.5 809.1L175.1 807.1L170.7 813.9L178.6 812.0L177.2 810.0L182.2 806.4ZM182.0 818.1L177.2 819.9L176.3 817.7L170.4 823.1L178.5 823.3L177.6 821.0L182.4 819.2ZM181.7 829.8L177.3 831.0L176.6 828.6L170.8 833.3L178.2 834.4L177.5 832.0L182.0 830.9ZM178.8 842.8L177.7 842.5L178.1 840.9L173.9 842.1L177.1 845.2L177.5 843.6L178.6 843.9ZM174.6 852.8L179.0 852.6L176.9 856.5ZM175.0 864.5L178.9 862.6L178.7 866.9ZM184.8 756.7L185.4 752.3L188.8 755.0ZM189.7 785.9L186.4 787.3L185.5 785.0L181.8 789.7L187.8 790.5L186.9 788.3L190.1 787.0ZM190.0 796.8L186.5 798.2L185.6 795.9L181.5 800.8L187.8 801.5L186.9 799.2L190.4 797.8ZM192.0 806.4L186.0 809.3L185.0 807.0L179.5 813.0L187.5 812.5L186.5 810.3L192.4 807.4ZM194.0 820.0L185.2 820.4L185.1 817.9L177.7 821.2L185.3 823.9L185.2 821.5L194.0 821.1ZM189.7 830.9L186.6 831.2L186.4 828.8L182.0 832.2L186.9 834.7L186.7 832.3L189.8 832.0ZM184.1 842.1L188.5 841.3L187.0 845.5ZM184.5 853.4L188.7 852.1L187.7 856.4ZM184.5 864.6L188.3 862.4L188.2 866.8ZM194.4 756.8L194.6 752.5L198.3 754.8ZM199.6 786.9L196.2 787.4L195.8 785.0L191.0 788.7L196.7 790.9L196.3 788.5L199.8 788.0ZM200.7 797.0L196.3 798.2L195.7 795.8L189.9 800.5L197.3 801.6L196.6 799.2L201.0 798.0ZM201.5 806.6L195.7 809.2L194.7 807.0L189.1 812.8L197.1 812.5L196.1 810.2L201.9 807.6ZM200.6 821.3L196.5 820.5L197.0 818.1L190.2 819.9L195.8 824.0L196.3 821.6L200.4 822.4ZM198.8 833.2L196.3 831.7L197.5 829.6L192.3 829.9L194.5 834.8L195.7 832.7L198.2 834.2ZM198.7 844.5L196.3 842.7L197.7 840.7L192.3 840.6L194.2 845.6L195.7 843.6L198.1 845.4ZM198.6 853.5L196.1 853.2L196.4 850.8L192.3 853.3L195.7 856.7L196.0 854.3L198.4 854.6ZM193.7 864.5L197.7 862.6L197.4 867.0ZM204.2 756.5L204.3 752.1L208.0 754.4ZM211.1 785.8L205.7 787.3L205.0 785.0L198.6 789.9L206.6 790.7L206.0 788.4L211.4 786.8ZM208.6 796.1L205.4 798.1L204.1 796.0L201.0 801.5L207.3 801.1L206.0 799.0L209.1 797.0ZM209.0 809.3L205.7 809.4L205.7 806.9L200.8 810.1L205.8 812.9L205.8 810.5L209.0 810.4ZM208.4 820.5L205.6 820.4L205.8 817.9L201.5 820.7L205.5 823.9L205.6 821.5L208.3 821.6ZM208.8 831.9L205.8 831.4L206.2 829.0L201.1 831.1L205.2 834.9L205.6 832.5L208.6 833.0ZM209.2 844.0L206.0 842.6L206.9 840.3L200.8 841.0L204.6 845.9L205.5 843.6L208.8 845.0ZM209.9 852.7L205.9 853.0L205.7 850.6L199.9 854.1L206.2 856.6L206.0 854.1L210.0 853.8ZM203.3 864.6L207.2 862.4L207.1 866.8ZM213.9 756.4L213.5 752.1L217.5 753.9ZM223.1 786.7L213.1 787.7L212.9 785.2L205.7 789.0L213.5 791.2L213.2 788.8L223.2 787.8ZM219.2 798.4L215.4 798.5L215.4 796.0L209.8 799.1L215.4 802.0L215.4 799.6L219.2 799.5ZM217.1 810.0L215.8 809.7L216.2 808.1L212.0 809.4L215.2 812.4L215.6 810.8L216.8 811.1ZM213.3 819.9L217.6 820.6L214.9 824.0ZM218.7 832.4L215.4 831.5L216.1 829.1L210.3 830.7L214.5 834.9L215.1 832.6L218.5 833.5ZM220.2 842.4L215.6 842.2L215.7 839.8L208.7 842.5L215.5 845.8L215.6 843.3L220.2 843.5ZM212.6 864.8L216.1 862.2L216.6 866.5ZM223.3 756.6L223.1 752.2L227.0 754.3ZM222.6 864.9L225.9 862.0L226.7 866.3ZM232.8 757.2L232.2 752.8L236.2 754.5ZM232.1 765.3L236.5 765.5L234.1 769.2ZM234.8 777.3L230.7 779.0L231.3 774.6ZM233.3 789.3L231.9 785.1L236.2 786.1ZM233.6 797.7L235.6 801.6L231.2 801.4ZM233.5 811.2L231.4 807.4L235.8 807.4ZM234.6 821.7L230.2 821.1L232.9 817.6ZM234.8 832.0L230.6 833.5L231.4 829.2ZM233.0 843.8L232.8 839.5L236.7 841.5ZM234.1 854.9L230.5 852.4L234.5 850.5ZM231.4 864.7L235.1 862.3L235.4 866.7ZM242.4 757.1L241.7 752.8L245.8 754.3ZM241.0 864.9L244.5 862.2L245.1 866.5ZM250.7 864.8L254.3 862.2L254.7 866.6ZM263.9 767.3L259.5 767.2L261.9 763.5ZM259.7 775.6L261.1 777.0L260.0 778.2L264.3 779.1L263.0 774.9L261.9 776.1L260.4 774.8ZM260.2 786.4L261.0 787.4L259.6 788.4L263.6 790.1L263.2 785.8L261.8 786.7L261.1 785.7ZM259.9 798.0L260.7 798.6L259.7 799.9L264.1 800.5L262.3 796.4L261.4 797.7L260.6 797.1ZM259.2 808.5L261.3 810.0L259.9 812.0L264.8 811.8L263.4 807.1L262.0 809.1L259.9 807.6ZM256.7 820.7L261.0 821.3L260.7 823.7L267.5 821.6L261.5 817.8L261.2 820.2L256.9 819.6ZM257.9 831.9L261.3 832.3L261.0 834.7L266.3 832.3L261.6 828.7L261.4 831.2L258.1 830.8ZM258.4 842.6L261.3 843.2L260.9 845.6L265.8 843.4L262.0 839.7L261.5 842.1L258.6 841.6ZM264.7 854.0L263.5 853.6L264.1 852.0L259.7 852.9L262.6 856.2L263.2 854.6L264.4 855.0ZM260.5 864.6L264.3 862.4L264.3 866.8ZM270.1 767.4L271.9 763.4L274.4 767.0ZM268.1 774.9L270.7 777.1L269.2 779.0L275.0 779.8L272.9 774.3L271.4 776.2L268.8 774.1ZM268.8 785.9L270.8 787.9L269.0 789.6L274.2 790.7L273.4 785.5L271.6 787.2L269.6 785.1ZM268.8 798.0L270.7 799.1L269.5 801.2L274.3 800.5L272.5 796.0L271.3 798.1L269.4 797.0ZM269.1 810.3L270.4 810.4L270.3 812.1L274.2 810.1L270.6 807.7L270.5 809.3L269.2 809.2ZM268.5 822.3L271.2 821.6L271.8 824.0L275.1 820.0L270.3 818.1L270.9 820.5L268.2 821.2ZM266.7 831.9L270.7 832.3L270.4 834.7L276.7 832.3L271.0 828.7L270.8 831.2L266.8 830.8ZM265.4 844.0L270.7 843.4L270.9 845.8L278.1 842.1L270.3 839.9L270.6 842.3L265.3 842.9ZM273.1 850.7L271.6 852.8L269.6 851.4L269.8 856.3L274.5 854.9L272.5 853.5L274.0 851.4ZM270.0 864.5L273.9 862.6L273.6 866.9ZM282.7 766.0L279.3 768.8L278.5 764.5ZM278.2 773.6L280.3 776.7L278.2 778.1L283.9 781.0L283.2 774.7L281.2 776.1L279.1 773.0ZM275.8 785.6L279.9 788.0L278.7 790.1L286.4 791.1L281.7 784.9L280.5 787.0L276.4 784.6ZM277.9 798.7L280.5 799.4L279.8 801.8L284.5 799.9L281.4 795.9L280.7 798.3L278.2 797.6ZM278.0 809.5L280.5 810.3L279.8 812.6L284.3 810.9L281.5 806.9L280.8 809.2L278.4 808.5ZM278.3 821.6L280.4 821.5L280.6 823.1L284.2 820.7L280.3 818.7L280.4 820.4L278.2 820.5ZM277.5 832.0L280.4 832.3L280.2 834.7L284.9 832.2L280.8 828.7L280.6 831.2L277.6 830.9ZM275.1 840.7L280.1 842.8L279.1 845.1L287.2 845.3L281.5 839.6L280.5 841.8L275.5 839.7ZM278.1 854.3L280.6 854.2L280.7 856.7L284.4 853.5L280.5 850.7L280.6 853.1L278.1 853.2ZM279.7 864.3L283.8 862.8L283.1 867.1ZM292.1 765.3L290.3 769.3L287.7 765.7ZM288.2 774.8L289.9 777.0L288.0 778.5L292.9 779.9L292.7 774.7L290.8 776.3L289.0 774.1ZM286.0 787.8L289.8 788.5L289.4 790.9L295.4 788.9L290.4 785.0L289.9 787.4L286.2 786.8ZM286.3 798.7L289.8 799.4L289.3 801.8L295.1 799.9L290.5 795.9L290.0 798.3L286.5 797.6ZM287.7 810.7L290.1 810.5L290.2 813.0L293.9 809.8L289.9 807.0L290.0 809.4L287.7 809.6ZM286.8 821.2L290.0 821.4L289.8 823.8L294.7 821.2L290.2 817.8L290.0 820.3L286.9 820.1ZM286.4 831.7L289.8 832.2L289.4 834.6L295.0 832.5L290.4 828.7L290.0 831.1L286.6 830.6ZM286.7 839.9L289.7 842.5L288.1 844.3L294.5 846.0L292.0 839.8L290.4 841.7L287.4 839.1ZM293.3 856.1L291.6 853.9L293.6 852.5L288.7 850.9L288.8 856.0L290.7 854.5L292.4 856.8ZM289.3 864.3L293.4 862.8L292.7 867.2ZM302.1 777.3L298.1 779.1L298.6 774.8ZM301.8 787.4L299.3 791.0L297.4 787.0ZM302.2 798.2L299.6 801.7L297.9 797.7ZM302.0 809.0L299.9 812.8L297.6 809.0ZM298.2 822.1L299.2 821.8L299.6 823.4L302.6 820.2L298.4 819.2L298.8 820.8L297.8 821.1ZM298.8 864.4L302.8 862.7L302.3 867.0ZM388.3 777.2L392.7 777.2L390.5 781.0ZM390.8 798.3L390.0 802.7L386.7 799.8ZM390.3 822.7L386.2 821.2L389.6 818.4ZM398.7 765.8L401.8 768.9L397.6 770.0ZM400.4 788.8L396.6 791.2L396.5 786.8ZM398.6 809.5L401.9 812.4L397.7 813.8ZM408.2 779.1L407.3 774.8L411.5 776.2ZM409.4 800.8L405.2 799.3L408.6 796.5ZM409.5 823.1L405.5 821.2L409.2 818.7ZM417.3 765.4L421.0 767.8L417.1 769.8ZM417.7 790.1L416.9 785.7L421.0 787.2ZM417.2 809.9L421.4 811.0L418.3 814.1ZM426.4 778.3L429.4 775.1L430.7 779.3ZM426.9 798.8L430.9 800.6L427.4 803.2ZM420.6 820.8L427.1 822.2L426.6 824.6L434.5 823.3L427.9 818.7L427.3 821.1L420.8 819.7ZM419.9 831.5L427.8 833.3L427.2 835.7L435.2 834.5L428.6 829.9L428.0 832.3L420.1 830.4ZM420.0 844.1L427.7 844.2L427.6 846.7L435.2 843.9L427.8 840.7L427.7 843.1L420.0 843.0ZM423.8 855.0L426.8 855.1L426.7 857.6L431.5 854.8L427.0 851.6L426.9 854.1L423.8 853.9ZM438.9 755.9L435.3 758.3L435.0 753.9ZM429.5 766.1L437.2 767.5L436.7 769.9L444.7 768.4L437.8 764.0L437.4 766.4L429.7 765.0ZM430.3 777.7L436.4 778.4L436.1 780.8L443.9 778.7L436.8 774.9L436.5 777.3L430.5 776.6ZM432.3 786.5L436.0 788.8L434.7 790.9L441.7 791.7L437.8 785.8L436.5 787.9L432.9 785.6ZM433.0 798.4L436.1 799.9L435.0 802.1L441.0 801.8L437.7 796.8L436.6 799.0L433.5 797.4ZM432.0 810.3L436.0 811.1L435.6 813.5L442.2 811.8L436.7 807.7L436.3 810.1L432.2 809.3ZM429.8 816.5L438.0 823.2L436.5 825.1L444.2 827.5L440.2 820.4L438.7 822.3L430.5 815.6ZM430.8 830.0L436.3 832.9L435.2 835.1L443.2 835.9L438.0 829.8L436.8 831.9L431.3 829.1ZM429.7 843.3L437.0 844.2L436.7 846.6L444.5 844.6L437.4 840.7L437.1 843.1L429.9 842.2ZM431.8 855.7L436.1 855.3L436.4 857.7L442.5 854.1L435.8 851.8L436.0 854.2L431.7 854.6ZM435.9 865.8L439.2 863.0L440.1 867.3ZM448.2 755.9L444.5 758.4L444.2 754.0ZM442.9 765.9L445.7 767.1L444.8 769.4L450.3 768.5L447.2 763.9L446.2 766.1L443.3 764.9ZM442.7 775.9L445.6 777.9L444.3 779.9L450.3 780.4L447.6 774.9L446.3 777.0L443.3 775.0ZM441.3 782.7L446.7 789.8L444.7 791.2L451.7 795.4L449.5 787.6L447.5 789.1L442.1 782.0ZM441.7 795.1L445.8 799.7L444.0 801.4L451.3 804.9L448.5 797.3L446.7 799.0L442.5 794.4ZM440.7 807.8L445.7 810.8L444.4 812.9L452.4 814.3L447.6 807.8L446.3 809.9L441.3 806.8ZM441.7 821.0L445.6 822.0L444.9 824.4L451.6 823.1L446.5 818.6L445.8 821.0L441.9 819.9ZM440.3 833.4L445.6 833.3L445.7 835.7L453.1 832.6L445.5 829.7L445.6 832.2L440.2 832.3ZM440.4 847.1L446.6 844.3L447.6 846.6L453.2 840.7L445.1 841.1L446.1 843.3L440.0 846.1ZM442.1 858.0L446.0 855.7L447.3 857.8L451.5 851.7L444.2 852.7L445.4 854.8L441.6 857.1ZM444.9 865.9L448.2 863.1L449.1 867.4ZM457.5 755.9L453.8 758.4L453.5 754.0ZM453.5 767.3L455.0 767.4L454.9 769.1L458.8 767.2L455.2 764.7L455.1 766.3L453.6 766.2ZM453.1 775.5L455.3 777.8L453.5 779.5L459.0 780.7L457.8 775.3L456.1 777.0L453.9 774.8ZM449.9 781.2L457.2 791.1L455.2 792.6L462.1 796.9L460.0 789.0L458.1 790.5L450.8 780.6ZM450.1 791.1L457.4 802.8L455.3 804.1L461.9 808.8L460.4 800.9L458.3 802.2L451.0 790.5ZM451.1 807.6L454.9 810.5L453.4 812.5L461.0 814.4L457.1 807.7L455.6 809.6L451.8 806.7ZM451.0 822.0L455.1 822.3L455.0 824.7L461.4 822.0L455.3 818.7L455.2 821.2L451.0 820.9ZM452.3 833.6L455.5 833.3L455.7 835.8L460.2 832.4L455.1 829.8L455.4 832.2L452.2 832.5ZM450.7 847.0L455.5 844.6L456.6 846.8L462.0 840.9L453.9 841.4L455.0 843.6L450.2 846.0ZM449.8 859.2L456.8 854.9L458.1 857.0L462.9 850.5L454.9 851.9L456.2 854.0L449.3 858.3ZM454.5 865.6L458.2 863.3L458.3 867.7ZM467.0 755.8L463.6 758.6L462.8 754.3ZM462.8 766.8L464.7 767.3L464.3 768.9L468.5 767.7L465.4 764.6L465.0 766.2L463.1 765.7ZM461.1 775.6L464.6 777.8L463.2 779.9L470.1 780.7L466.5 774.8L465.2 776.9L461.7 774.6ZM460.2 782.3L466.0 790.1L464.0 791.6L470.9 795.8L468.8 788.0L466.8 789.4L461.0 781.7ZM460.6 790.3L466.7 803.1L464.5 804.1L470.4 809.6L469.9 801.5L467.7 802.6L461.6 789.8ZM459.9 808.6L464.4 810.8L463.3 813.0L471.3 813.5L465.9 807.6L464.9 809.8L460.4 807.6ZM460.6 822.0L464.7 822.2L464.5 824.7L470.8 822.1L464.9 818.7L464.8 821.2L460.7 820.9ZM462.5 835.2L465.3 833.6L466.5 835.7L469.3 830.7L463.6 830.5L464.8 832.6L461.9 834.2ZM461.3 846.9L465.1 844.7L466.3 846.8L470.4 840.9L463.3 841.7L464.5 843.8L460.8 846.0ZM460.1 856.5L464.7 855.4L465.3 857.8L471.5 853.3L463.9 852.0L464.5 854.4L459.8 855.4ZM464.1 865.7L467.8 863.3L468.0 867.7ZM476.6 755.9L473.0 758.4L472.6 754.0ZM468.4 764.2L474.9 767.4L473.8 769.6L481.9 770.2L476.4 764.2L475.4 766.4L468.9 763.3ZM471.7 772.2L474.4 777.5L472.3 778.7L478.4 783.9L477.6 775.9L475.4 777.0L472.6 771.7ZM471.9 782.8L474.5 788.6L472.3 789.6L478.2 795.2L477.8 787.1L475.5 788.1L472.9 782.4ZM470.1 792.0L475.7 801.7L473.6 802.9L479.9 807.9L478.8 799.9L476.7 801.2L471.1 791.5ZM469.5 809.6L474.0 811.0L473.3 813.3L480.9 812.5L475.0 807.6L474.3 809.9L469.8 808.6ZM468.0 822.1L475.0 822.3L474.9 824.8L482.5 822.0L475.1 818.8L475.0 821.2L468.0 821.0ZM471.4 836.4L474.8 833.8L476.3 835.7L479.5 829.4L472.6 831.0L474.1 832.9L470.7 835.6ZM471.4 846.1L474.7 844.6L475.7 846.8L479.4 841.8L473.2 841.3L474.2 843.6L470.9 845.1ZM471.3 855.7L474.5 855.3L474.9 857.7L479.3 854.1L474.1 851.8L474.4 854.2L471.2 854.6ZM473.9 865.5L477.8 863.6L477.5 868.0ZM482.6 756.7L483.2 756.7L483.4 758.3L487.0 755.8L483.0 753.9L483.2 755.6L482.6 755.6ZM477.6 760.8L485.9 768.8L484.2 770.5L491.6 773.6L488.3 766.2L486.6 768.0L478.3 760.0ZM480.2 769.1L485.3 780.3L483.0 781.3L488.9 787.0L488.5 778.9L486.3 779.9L481.2 768.7ZM481.9 783.7L483.8 788.0L481.6 789.0L487.2 794.3L487.1 786.6L484.8 787.6L482.9 783.3ZM481.4 796.6L483.8 799.5L481.9 801.0L487.8 803.5L486.5 797.2L484.6 798.8L482.2 795.9ZM479.7 811.1L483.8 811.3L483.6 813.7L489.9 811.0L483.9 807.8L483.8 810.2L479.8 810.0ZM479.3 825.5L484.3 822.7L485.5 824.8L490.6 818.5L482.6 819.6L483.8 821.7L478.8 824.5ZM478.5 837.6L485.5 832.9L486.8 835.0L491.4 828.3L483.5 830.0L484.9 832.0L477.9 836.7ZM481.2 846.3L484.3 844.6L485.4 846.7L488.7 841.6L482.6 841.5L483.8 843.6L480.7 845.3ZM482.4 855.6L483.6 855.4L483.9 857.0L487.3 854.2L483.2 852.7L483.4 854.3L482.2 854.5ZM483.6 865.4L487.6 863.7L487.1 868.1ZM491.7 756.3L493.1 756.4L493.0 758.1L496.9 756.2L493.4 753.7L493.2 755.3L491.8 755.2ZM489.4 760.4L494.3 767.9L492.2 769.2L498.8 773.9L497.2 765.9L495.2 767.3L490.3 759.8ZM488.0 771.6L494.9 779.4L493.0 781.0L500.2 784.6L497.5 777.0L495.7 778.6L488.8 770.9ZM489.9 783.6L493.5 788.7L491.6 790.2L498.4 794.5L496.4 786.7L494.4 788.1L490.7 782.9ZM490.5 798.2L493.3 799.9L492.1 802.0L497.8 801.9L495.2 796.8L493.9 798.9L491.1 797.3ZM488.9 812.4L493.3 811.6L493.8 814.0L499.8 809.7L492.6 808.1L493.1 810.5L488.7 811.4ZM487.1 826.6L495.6 821.6L496.9 823.8L501.8 817.4L493.8 818.6L495.1 820.7L486.6 825.7ZM486.9 834.1L494.5 833.3L494.7 835.7L501.9 831.9L494.1 829.7L494.3 832.2L486.7 833.0ZM490.2 844.6L493.5 844.3L493.7 846.7L498.5 843.3L493.2 840.8L493.5 843.2L490.1 843.5ZM496.4 854.6L492.6 856.8L492.7 852.4ZM493.1 865.4L497.2 863.8L496.5 868.1ZM501.5 756.1L502.2 756.2L501.9 757.9L506.1 756.4L502.8 753.5L502.5 755.2L501.8 755.0ZM501.2 758.8L503.6 768.1L501.2 768.7L506.0 775.2L507.0 767.2L504.7 767.8L502.3 758.6ZM498.2 773.9L503.0 778.0L501.5 779.8L509.2 782.3L505.3 775.2L503.7 777.1L498.9 773.1ZM497.6 786.0L503.1 789.1L501.9 791.2L509.9 792.2L504.8 786.0L503.6 788.1L498.1 785.1ZM499.2 797.2L502.7 799.7L501.3 801.7L508.2 802.9L504.7 796.8L503.3 798.8L499.8 796.3ZM499.6 813.7L503.2 811.8L504.4 813.9L508.4 808.4L501.5 808.6L502.7 810.8L499.1 812.7ZM498.6 824.9L503.0 822.8L504.0 825.0L509.4 819.1L501.5 819.6L502.5 821.8L498.1 823.9ZM497.8 835.5L503.2 833.5L504.1 835.8L510.1 830.4L502.0 830.2L502.9 832.5L497.4 834.5ZM498.7 842.2L502.7 843.8L501.8 846.1L508.8 845.6L504.0 840.5L503.1 842.8L499.1 841.2ZM500.4 852.9L502.9 854.6L501.5 856.6L507.0 856.9L505.0 851.8L503.6 853.7L501.1 852.0ZM502.6 865.5L506.5 863.5L506.3 867.9ZM515.2 756.4L511.1 757.8L511.9 753.5ZM509.1 763.4L512.2 766.6L510.5 768.3L517.3 770.9L514.7 764.1L513.0 765.8L509.9 762.6ZM507.0 774.9L512.8 778.2L511.5 780.3L519.5 781.5L514.5 775.1L513.3 777.2L507.5 773.9ZM505.5 783.6L514.6 790.5L513.1 792.4L520.9 794.6L516.8 787.7L515.3 789.6L506.2 782.7ZM505.0 797.3L514.4 800.8L513.5 803.1L521.6 802.9L515.6 797.5L514.7 799.8L505.4 796.3ZM508.9 813.9L512.7 811.8L513.9 814.0L518.1 808.2L511.0 808.7L512.2 810.8L508.4 812.9ZM509.9 823.8L512.9 822.6L513.8 824.8L517.1 820.3L511.5 819.3L512.4 821.6L509.5 822.8ZM509.4 834.1L512.7 833.4L513.2 835.8L517.5 831.9L512.0 829.9L512.5 832.3L509.2 833.0ZM508.4 843.6L512.3 844.1L512.0 846.5L518.4 844.3L512.7 840.6L512.5 843.0L508.5 842.6ZM507.2 851.7L512.6 854.8L511.3 856.9L519.3 858.1L514.3 851.7L513.1 853.8L507.7 850.7ZM511.6 865.4L515.7 863.7L515.1 868.1ZM525.0 756.3L520.8 757.9L521.6 753.5ZM526.1 767.8L523.7 766.7L524.7 764.5L519.9 765.6L522.3 770.0L523.3 767.7L525.7 768.8ZM525.9 778.1L523.9 777.6L524.3 776.0L520.1 777.2L523.2 780.3L523.6 778.7L525.7 779.2ZM527.0 788.0L523.7 788.3L523.5 785.8L518.8 789.3L524.0 791.8L523.8 789.4L527.1 789.0ZM526.9 797.8L523.6 799.0L522.7 796.7L518.8 801.3L524.8 802.4L523.9 800.1L527.2 798.9ZM525.5 810.0L524.0 810.1L523.9 808.5L520.3 811.1L524.3 812.9L524.2 811.2L525.6 811.1ZM520.7 821.8L521.2 821.9L520.9 823.6L525.1 822.2L521.8 819.3L521.5 820.9L520.9 820.7ZM524.8 832.7L521.0 834.9L521.0 830.5ZM516.9 842.9L521.6 844.0L521.1 846.4L528.8 845.0L522.4 840.5L521.9 842.9L517.2 841.9ZM514.6 849.9L524.3 856.2L523.0 858.3L530.9 859.8L526.3 853.2L524.9 855.3L515.2 849.0ZM525.4 865.0L524.3 865.0L524.3 863.4L520.5 865.6L524.3 867.8L524.3 866.1L525.4 866.1ZM534.5 756.3L530.5 758.0L531.0 753.6ZM536.0 766.5L533.2 766.4L533.2 764.0L528.9 766.9L533.1 770.0L533.2 767.5L536.0 767.6ZM536.2 777.4L533.2 777.4L533.2 774.9L528.7 777.9L533.2 780.9L533.2 778.5L536.2 778.5ZM536.3 786.8L533.0 788.0L532.1 785.8L528.4 790.5L534.4 791.3L533.5 789.1L536.7 787.8ZM536.4 798.4L533.1 799.1L532.6 796.7L528.4 800.7L533.9 802.6L533.4 800.2L536.6 799.5ZM535.9 809.8L533.1 810.2L532.8 807.7L529.0 811.2L533.5 813.7L533.2 811.3L536.0 810.9ZM530.5 821.5L534.5 819.8L533.9 824.2ZM530.7 832.5L534.8 830.8L534.1 835.2ZM534.9 844.5L533.8 843.9L534.7 842.5L530.3 842.4L532.4 846.2L533.3 844.8L534.3 845.4ZM536.6 855.6L533.4 854.4L534.3 852.1L528.5 853.1L532.2 857.7L533.1 855.5L536.2 856.7ZM534.8 865.1L533.9 865.1L533.9 863.4L530.1 865.6L533.9 867.8L533.9 866.2L534.8 866.2ZM539.4 756.7L540.8 756.6L540.9 758.2L544.6 755.9L540.7 753.9L540.8 755.5L539.3 755.6ZM545.4 765.7L542.6 766.3L542.1 763.9L538.5 767.7L543.3 769.7L542.8 767.4L545.6 766.8ZM544.9 776.5L542.5 777.2L541.8 774.9L538.9 778.8L543.4 780.6L542.8 778.3L545.2 777.6ZM545.1 786.8L542.4 788.1L541.4 785.9L538.6 790.5L544.0 791.3L542.9 789.0L545.6 787.7ZM544.3 798.2L542.6 798.9L542.0 797.4L539.4 801.0L543.8 801.4L543.1 799.9L544.8 799.2ZM544.6 811.1L543.3 810.6L543.8 809.1L539.5 810.0L542.4 813.3L542.9 811.7L544.3 812.1ZM545.0 822.9L542.8 821.6L544.1 819.5L539.3 820.2L541.0 824.7L542.3 822.6L544.4 823.8ZM544.6 832.8L543.3 832.5L543.7 830.9L539.5 832.1L542.6 835.2L543.0 833.6L544.3 833.9ZM545.8 845.0L542.9 843.6L544.1 841.4L538.4 841.9L541.3 846.7L542.4 844.5L545.3 846.0ZM546.1 855.1L542.9 854.3L543.5 851.9L537.9 853.6L542.1 857.8L542.7 855.4L545.9 856.2ZM539.9 865.8L543.5 863.3L543.8 867.7ZM548.7 756.6L550.5 756.6L550.5 758.2L554.3 756.0L550.5 753.8L550.5 755.5L548.7 755.5ZM555.9 766.5L552.4 766.4L552.4 764.0L547.1 766.9L552.3 770.0L552.4 767.5L555.9 767.6ZM555.6 776.9L552.3 777.3L552.0 774.8L547.3 778.4L552.7 780.8L552.4 778.4L555.8 778.0ZM549.6 789.6L552.3 786.2L553.9 790.3ZM550.0 799.6L554.1 798.0L553.5 802.3ZM553.8 811.0L553.2 810.8L553.7 809.2L549.4 810.1L552.3 813.4L552.8 811.8L553.4 812.0ZM555.7 823.3L552.6 821.7L553.7 819.5L547.5 819.7L550.9 824.8L552.1 822.7L555.2 824.3ZM555.5 835.0L552.6 832.8L554.0 830.8L547.9 830.0L550.5 835.7L551.9 833.7L554.8 835.9ZM554.7 844.0L552.3 843.3L552.9 840.9L548.4 842.9L551.4 846.7L552.0 844.4L554.5 845.0ZM554.1 853.1L552.1 853.8L551.5 852.3L548.7 855.7L553.1 856.4L552.5 854.9L554.5 854.1ZM550.3 865.7L553.9 863.2L554.2 867.6ZM558.6 756.9L559.9 756.7L560.1 758.4L563.5 755.6L559.4 754.0L559.7 755.7L558.4 755.9ZM565.1 764.8L561.7 766.1L560.8 763.8L556.7 768.6L563.0 769.4L562.1 767.1L565.5 765.8ZM564.5 776.1L561.6 777.1L560.7 774.8L557.4 779.2L562.8 780.5L562.0 778.2L564.8 777.1ZM559.4 788.4L563.7 787.3L562.5 791.6ZM559.9 799.4L564.2 798.8L562.6 802.8ZM563.7 811.0L562.3 810.6L562.8 809.0L558.5 810.1L561.6 813.2L562.0 811.6L563.4 812.0ZM565.1 821.7L561.9 821.3L562.2 818.9L557.1 821.2L561.4 824.8L561.8 822.4L564.9 822.8ZM565.5 832.3L561.9 832.2L562.0 829.7L556.6 832.6L561.9 835.7L561.9 833.3L565.5 833.4ZM564.6 843.6L561.8 843.2L562.1 840.8L557.6 843.2L561.3 846.7L561.7 844.3L564.4 844.7ZM564.0 853.4L561.6 854.0L561.0 851.6L558.0 855.3L562.3 857.4L561.8 855.0L564.2 854.5ZM559.7 865.8L563.1 863.0L563.9 867.3ZM568.3 756.9L569.3 756.8L569.5 758.4L573.0 755.6L568.9 754.0L569.1 755.7L568.1 755.8ZM575.0 765.3L571.3 766.2L570.7 763.8L566.0 768.1L572.2 769.6L571.6 767.3L575.3 766.3ZM575.0 778.0L571.5 777.5L571.9 775.1L566.2 777.3L571.0 781.0L571.4 778.6L574.8 779.1ZM573.6 788.7L571.4 788.4L571.7 786.0L567.6 788.5L570.9 792.0L571.3 789.5L573.5 789.8ZM573.1 800.2L572.0 799.8L572.5 798.2L568.2 799.0L571.0 802.3L571.6 800.8L572.8 801.2ZM574.2 813.5L571.6 811.0L573.3 809.3L567.3 807.7L569.2 813.6L570.8 811.8L573.5 814.3ZM576.6 822.3L571.9 821.4L572.3 819.0L564.6 820.7L571.2 824.9L571.7 822.5L576.4 823.4ZM575.3 833.2L571.6 832.4L572.1 830.0L566.0 831.7L570.9 835.8L571.4 833.5L575.0 834.2ZM575.1 841.1L571.3 842.8L570.3 840.5L565.8 845.8L572.7 846.0L571.7 843.8L575.6 842.1ZM575.6 853.5L571.5 854.0L571.2 851.5L565.5 855.3L572.0 857.5L571.7 855.1L575.7 854.5ZM569.2 865.8L572.6 863.1L573.3 867.4ZM581.6 755.9L577.9 758.3L577.6 753.9ZM582.6 765.4L580.8 766.1L580.2 764.6L577.4 768.0L581.8 768.7L581.2 767.1L583.0 766.4ZM583.8 778.3L580.9 777.6L581.5 775.2L576.5 777.0L580.1 781.0L580.7 778.6L583.5 779.3ZM583.1 790.4L581.0 788.8L582.4 786.8L577.4 787.0L578.9 791.7L580.3 789.7L582.5 791.3ZM584.1 800.7L581.0 799.6L581.9 797.3L576.3 798.5L579.9 802.9L580.7 800.6L583.7 801.7ZM584.2 812.4L581.1 810.7L582.3 808.6L576.2 808.8L579.5 813.9L580.6 811.7L583.7 813.3ZM584.3 823.0L581.1 821.6L582.1 819.4L576.1 820.0L579.7 824.9L580.7 822.6L583.9 824.0ZM584.7 831.9L581.0 832.1L580.9 829.7L575.4 833.0L581.2 835.7L581.1 833.2L584.8 833.0ZM585.1 840.4L580.9 842.6L579.8 840.5L574.8 846.5L582.6 845.8L581.4 843.6L585.7 841.4ZM586.5 853.3L581.0 854.0L580.7 851.5L573.6 855.5L581.4 857.5L581.1 855.1L586.6 854.4ZM578.5 865.6L582.3 863.4L582.4 867.8ZM590.9 755.8L587.5 758.6L586.8 754.3ZM588.2 766.7L592.3 765.2L591.6 769.5ZM592.6 779.1L590.5 777.8L591.8 775.7L587.0 776.3L588.7 780.8L589.9 778.8L592.0 780.0ZM594.0 791.3L590.8 789.0L592.2 787.0L585.6 786.0L588.7 791.9L590.1 789.9L593.3 792.2ZM596.3 801.2L590.4 799.5L591.1 797.1L583.1 797.9L589.4 802.9L590.1 800.6L596.0 802.3ZM594.8 810.7L590.7 810.3L590.9 807.9L584.5 810.4L590.4 813.9L590.6 811.4L594.7 811.7ZM593.4 821.6L590.4 821.3L590.7 818.9L585.9 821.4L590.1 824.8L590.3 822.4L593.3 822.7ZM593.0 830.6L590.1 831.9L589.1 829.7L586.1 834.3L591.6 835.1L590.6 832.9L593.4 831.6ZM593.7 841.1L590.3 842.8L589.2 840.6L585.3 845.7L591.8 846.0L590.7 843.8L594.2 842.1ZM596.3 852.4L590.0 854.0L589.4 851.6L582.9 856.3L590.9 857.4L590.3 855.0L596.5 853.5ZM591.7 864.9L591.2 864.9L591.1 863.3L587.5 865.8L591.5 867.7L591.3 866.0L591.8 866.0ZM600.6 755.9L596.9 758.3L596.7 753.9ZM597.2 766.6L601.4 765.2L600.5 769.5ZM601.3 779.2L600.5 778.4L601.7 777.2L597.4 776.3L598.7 780.5L599.8 779.2L600.6 780.0ZM603.3 791.5L600.3 789.1L601.8 787.1L595.3 785.8L598.1 791.8L599.6 789.9L602.6 792.4ZM604.6 800.5L600.3 799.5L600.9 797.2L593.8 798.6L599.6 803.0L600.1 800.6L604.4 801.6ZM605.1 809.6L600.3 810.1L600.0 807.7L593.1 811.5L600.7 813.6L600.4 811.2L605.3 810.7ZM603.4 819.4L599.8 820.9L598.9 818.6L594.7 823.6L601.2 824.2L600.3 821.9L603.8 820.5ZM602.2 831.1L599.6 832.0L598.8 829.7L595.9 833.9L600.8 835.3L600.0 833.0L602.6 832.1ZM604.0 842.6L600.1 843.0L599.8 840.6L594.3 844.2L600.5 846.6L600.2 844.1L604.1 843.7ZM604.1 855.1L600.2 854.3L600.7 851.9L594.3 853.7L599.6 857.8L600.0 855.4L603.9 856.1ZM597.7 865.5L601.7 863.6L601.3 868.0ZM610.2 756.0L606.4 758.3L606.3 753.9ZM611.9 767.5L609.5 766.7L610.3 764.3L605.6 765.9L608.3 770.0L609.1 767.7L611.6 768.5ZM612.5 779.7L609.7 777.9L611.0 775.8L605.2 775.7L607.8 780.9L609.1 778.8L611.9 780.6ZM612.9 789.8L609.7 788.7L610.5 786.4L604.7 787.4L608.4 792.0L609.3 789.7L612.5 790.9ZM612.9 800.5L609.7 799.6L610.4 797.2L604.6 798.6L608.6 803.0L609.3 800.6L612.6 801.6ZM612.9 810.8L609.6 810.4L609.9 807.9L604.6 810.3L609.2 813.9L609.4 811.4L612.8 811.9ZM614.0 818.9L609.6 820.8L608.6 818.5L603.2 824.1L611.0 824.0L610.0 821.8L614.4 819.9ZM612.7 830.1L609.3 831.8L608.2 829.6L604.4 834.8L610.9 835.0L609.8 832.8L613.2 831.1ZM613.8 841.6L609.6 842.8L608.9 840.5L603.4 845.2L610.6 846.2L609.9 843.9L614.1 842.6ZM612.1 855.5L609.5 854.4L610.5 852.2L605.5 853.3L608.1 857.7L609.1 855.4L611.6 856.5ZM607.4 865.5L611.5 863.7L611.0 868.1ZM619.9 756.0L616.0 758.2L616.1 753.8ZM617.8 762.5L617.7 766.1L615.2 766.0L618.1 771.4L621.2 766.1L618.8 766.1L618.9 762.5ZM616.6 774.2L617.5 777.3L615.1 777.9L619.3 781.8L620.9 776.3L618.5 777.0L617.7 773.9ZM616.1 786.9L617.2 788.4L615.8 789.3L619.8 791.1L619.4 786.8L618.1 787.7L617.0 786.3ZM621.8 798.1L618.8 799.1L618.1 796.7L614.5 801.0L619.9 802.5L619.1 800.1L622.1 799.2ZM622.9 808.4L619.0 809.9L618.1 807.6L613.3 812.7L620.3 813.2L619.4 810.9L623.3 809.4ZM623.6 818.7L619.1 820.7L618.1 818.5L612.6 824.3L620.6 824.0L619.6 821.7L624.1 819.7ZM623.8 831.4L619.3 832.0L619.0 829.6L612.5 833.5L619.8 835.5L619.4 833.1L624.0 832.5ZM623.2 843.8L619.3 843.3L619.6 840.8L613.3 843.0L618.8 846.8L619.1 844.4L623.1 844.9ZM620.5 854.4L619.9 854.3L620.1 852.7L616.1 854.3L619.5 857.1L619.7 855.4L620.3 855.5ZM617.0 865.5L620.9 863.5L620.7 867.9ZM629.7 756.1L625.8 758.1L626.0 753.7ZM625.7 762.4L626.9 766.2L624.6 766.9L629.2 771.7L630.3 765.1L628.0 765.8L626.8 762.1ZM625.3 773.8L626.9 777.3L624.6 778.3L629.7 782.2L630.1 775.8L627.8 776.8L626.3 773.4ZM625.8 785.9L627.0 788.5L624.7 789.5L629.2 792.1L630.2 787.0L628.0 788.0L626.8 785.4ZM631.2 798.3L628.3 799.1L627.7 796.7L624.1 800.9L629.3 802.5L628.6 800.2L631.5 799.4ZM632.1 809.6L628.5 810.1L628.2 807.7L623.4 811.4L629.1 813.6L628.7 811.2L632.2 810.7ZM635.4 821.4L627.6 821.2L627.7 818.8L620.1 821.5L627.5 824.8L627.6 822.3L635.4 822.5ZM634.6 831.0L628.1 832.1L627.7 829.7L620.8 833.9L628.7 835.6L628.3 833.2L634.8 832.1ZM628.9 838.7L627.6 842.5L625.2 841.7L626.1 848.5L630.9 843.7L628.6 842.9L629.9 839.0ZM626.7 856.4L626.7 852.0L630.5 854.3ZM626.5 865.4L630.6 863.9L629.9 868.2ZM639.4 756.2L635.4 758.1L635.8 753.7ZM636.4 763.6L636.7 766.3L634.2 766.6L637.7 770.4L640.2 765.9L637.8 766.2L637.4 763.5ZM634.3 775.7L636.4 777.8L634.6 779.5L639.9 780.5L638.9 775.3L637.2 777.0L635.1 774.9ZM634.1 786.1L636.3 788.6L634.5 790.2L640.0 792.0L639.0 786.3L637.2 787.9L635.0 785.4ZM642.3 798.8L638.2 799.2L638.0 796.8L632.2 800.4L638.6 802.7L638.4 800.3L642.4 799.9ZM640.9 808.4L637.8 809.9L636.7 807.7L633.4 812.7L639.4 813.1L638.3 810.9L641.4 809.4ZM642.0 819.7L638.1 820.9L637.4 818.6L632.4 823.2L639.1 824.3L638.4 822.0L642.3 820.8ZM642.1 833.1L638.3 832.4L638.8 830.0L632.6 831.8L637.6 835.8L638.1 833.4L641.8 834.2ZM639.3 839.4L637.3 842.6L635.2 841.3L634.8 847.6L640.3 844.5L638.2 843.2L640.2 840.0ZM638.9 851.3L637.2 853.7L635.2 852.3L635.2 857.7L640.2 855.7L638.2 854.3L639.8 851.9ZM636.0 865.4L640.1 863.7L639.5 868.1ZM644.9 764.5L646.0 766.5L643.8 767.7L648.2 769.6L649.1 764.9L646.9 766.0L645.9 764.0ZM643.6 775.3L645.8 777.7L644.1 779.4L649.6 780.9L648.4 775.3L646.6 776.9L644.4 774.5ZM642.9 785.4L645.7 788.5L643.9 790.1L650.3 792.8L648.3 786.1L646.5 787.7L643.7 784.6ZM652.2 796.5L647.7 798.8L646.6 796.6L641.2 802.6L649.3 802.0L648.2 799.8L652.7 797.5ZM651.0 809.5L647.6 810.1L647.2 807.7L642.5 811.5L648.2 813.6L647.8 811.2L651.2 810.6ZM650.4 821.0L647.5 821.2L647.3 818.7L643.2 822.0L647.7 824.7L647.6 822.3L650.5 822.1ZM649.7 834.3L647.7 832.7L649.2 830.8L644.2 830.7L645.5 835.5L647.0 833.6L649.1 835.2ZM647.2 838.9L646.4 842.6L644.0 842.2L645.9 848.3L649.9 843.3L647.5 842.9L648.2 839.1ZM648.7 849.7L646.8 853.5L644.6 852.4L644.5 859.3L650.0 855.1L647.8 854.0L649.6 850.2ZM655.2 767.4L657.8 763.9L659.5 768.0ZM655.0 778.6L657.4 774.9L659.4 778.9ZM657.9 787.0L657.2 787.6L656.2 786.2L654.5 790.3L658.8 789.8L657.8 788.4L658.5 787.9ZM658.7 798.7L657.4 799.0L657.1 797.4L653.9 800.4L658.1 801.7L657.7 800.1L658.9 799.8ZM654.6 810.8L658.3 808.6L658.4 812.9ZM655.1 821.7L659.0 819.7L658.8 824.1ZM655.3 832.0L659.7 832.4L657.1 836.0ZM655.3 843.0L659.7 843.1L657.4 846.9ZM654.8 854.6L658.8 852.6L658.5 857.0ZM664.5 767.2L667.9 764.4L668.6 768.8ZM664.3 778.2L667.6 775.4L668.4 779.7ZM668.1 787.9L667.1 788.1L666.8 786.5L663.5 789.3L667.7 790.8L667.4 789.2L668.3 789.0ZM664.2 800.4L667.1 797.1L668.5 801.3ZM664.1 810.1L668.5 809.5L666.8 813.6ZM664.8 821.1L669.2 821.1L667.0 824.9ZM664.7 832.3L669.0 831.6L667.5 835.7ZM664.6 843.5L668.7 841.8L668.1 846.2ZM664.4 854.5L668.5 852.7L667.9 857.1ZM116.1 897.9L117.8 898.0L117.8 899.7L121.6 897.6L117.9 895.3L117.9 896.9L116.1 896.8ZM111.7 907.2L118.5 908.9L117.9 911.3L125.9 910.2L119.4 905.5L118.8 907.8L112.0 906.1ZM114.4 918.1L117.8 919.5L116.8 921.8L123.1 921.2L119.2 916.3L118.3 918.5L114.9 917.1ZM115.2 928.5L117.9 930.3L116.5 932.4L122.3 932.7L119.9 927.4L118.5 929.4L115.8 927.6ZM113.2 942.0L117.8 941.9L117.8 944.3L124.6 941.2L117.7 938.3L117.7 940.8L113.2 940.9ZM113.0 952.2L117.7 952.7L117.4 955.1L124.7 952.8L118.0 949.1L117.8 951.6L113.1 951.1ZM115.0 964.0L118.1 963.8L118.3 966.2L122.8 962.9L117.9 960.3L118.1 962.7L114.9 962.9ZM120.7 973.9L117.3 976.6L116.6 972.3ZM116.4 985.7L117.6 985.7L117.6 987.3L121.4 985.1L117.6 982.9L117.6 984.6L116.4 984.6ZM114.8 994.1L117.8 996.0L116.5 998.1L122.6 998.5L119.7 993.0L118.4 995.1L115.4 993.2ZM125.7 897.7L127.1 897.9L127.0 899.5L131.0 897.8L127.5 895.2L127.3 896.8L125.9 896.6ZM121.7 907.4L127.5 908.8L127.0 911.2L135.0 910.0L128.4 905.4L127.8 907.7L122.0 906.3ZM123.4 920.0L127.4 920.0L127.4 922.4L133.4 919.3L127.3 916.4L127.4 918.9L123.3 918.9ZM124.5 929.3L127.4 930.6L126.5 932.8L132.1 931.9L128.8 927.3L127.9 929.5L124.9 928.3ZM124.1 942.1L127.6 941.9L127.7 944.4L132.7 941.0L127.3 938.4L127.5 940.8L124.1 941.0ZM122.6 953.3L127.3 952.9L127.5 955.3L134.2 951.7L127.0 949.4L127.2 951.8L122.5 952.2ZM124.5 964.4L127.7 963.9L128.1 966.3L132.4 962.6L127.1 960.4L127.5 962.8L124.4 963.3ZM126.0 974.5L126.9 974.6L126.8 976.2L130.8 974.3L127.1 971.9L127.0 973.5L126.1 973.4ZM126.1 984.2L126.9 984.7L126.0 986.1L130.3 986.5L128.5 982.5L127.6 983.8L126.8 983.3ZM123.9 994.7L127.3 996.2L126.4 998.4L132.7 997.9L128.7 992.9L127.7 995.2L124.3 993.7ZM130.7 1006.8L130.0 1006.7L130.3 1005.0L126.2 1006.7L129.6 1009.4L129.9 1007.8L130.5 1007.9ZM135.7 897.7L136.3 897.8L136.0 899.5L140.1 897.8L136.6 895.1L136.4 896.7L135.8 896.7ZM129.4 905.9L139.0 909.4L138.2 911.7L146.2 911.5L140.2 906.1L139.4 908.4L129.8 904.9ZM130.8 918.9L137.5 919.9L137.1 922.3L145.0 920.5L138.0 916.4L137.7 918.8L130.9 917.8ZM133.1 930.4L136.9 930.8L136.6 933.2L142.7 930.9L137.3 927.3L137.0 929.7L133.2 929.3ZM133.9 942.0L137.1 941.9L137.2 944.3L142.0 941.2L137.0 938.3L137.1 940.8L133.8 940.9ZM133.8 951.6L137.0 952.5L136.3 954.9L141.9 953.4L138.0 949.1L137.3 951.5L134.1 950.6ZM134.0 963.9L137.2 963.8L137.2 966.2L141.8 963.1L137.0 960.2L137.1 962.7L134.0 962.8ZM133.5 973.0L136.9 974.3L136.0 976.6L142.1 975.8L138.2 971.0L137.3 973.3L133.9 972.0ZM134.0 983.1L136.9 985.1L135.5 987.1L141.5 987.6L138.9 982.1L137.5 984.1L134.6 982.2ZM134.2 992.9L136.9 995.7L135.1 997.4L141.2 999.6L139.5 993.3L137.7 995.0L135.1 992.1ZM140.1 1006.6L139.6 1006.5L139.7 1004.9L135.8 1006.9L139.4 1009.3L139.5 1007.6L140.0 1007.7ZM149.0 897.8L144.9 899.3L145.6 895.0ZM137.8 910.8L149.9 908.6L150.3 911.0L157.2 906.6L149.2 905.1L149.7 907.5L137.6 909.7ZM139.0 920.2L148.4 919.9L148.5 922.4L155.9 919.2L148.4 916.4L148.4 918.8L138.9 919.1ZM142.8 931.5L146.6 931.0L146.9 933.4L152.1 929.8L146.1 927.5L146.4 929.9L142.7 930.4ZM145.1 941.2L145.9 941.4L145.4 943.0L149.7 941.9L146.6 938.8L146.2 940.4L145.4 940.1ZM144.9 952.3L146.1 952.5L145.7 954.1L149.9 952.8L146.6 949.8L146.3 951.4L145.1 951.2ZM144.0 963.5L146.7 963.7L146.5 966.1L150.8 963.5L147.0 960.2L146.8 962.6L144.1 962.4ZM142.2 973.1L146.3 974.4L145.6 976.7L152.5 975.7L147.3 971.0L146.6 973.3L142.5 972.1ZM142.7 983.6L146.3 985.2L145.3 987.4L151.9 987.1L147.8 982.0L146.8 984.2L143.2 982.6ZM143.3 994.9L146.4 996.2L145.5 998.5L151.3 997.7L147.8 993.0L146.9 995.2L143.8 993.9ZM146.2 1007.1L149.9 1004.7L150.1 1009.1ZM158.4 897.5L154.6 899.6L154.7 895.2ZM148.7 909.3L157.8 909.0L157.9 911.4L165.3 908.2L157.7 905.4L157.7 907.9L148.7 908.2ZM150.2 924.0L157.8 919.6L159.0 921.7L164.0 915.3L156.0 916.5L157.2 918.6L149.7 923.0ZM152.1 931.4L156.0 931.0L156.3 933.4L161.8 929.8L155.7 927.5L155.9 929.9L152.0 930.3ZM154.6 941.9L155.5 941.9L155.5 943.5L159.3 941.3L155.5 939.1L155.5 940.8L154.6 940.8ZM154.7 951.3L155.5 951.9L154.5 953.2L158.9 953.6L157.1 949.6L156.1 951.0L155.4 950.4ZM152.9 962.0L156.0 963.4L155.0 965.6L160.8 964.9L157.4 960.1L156.4 962.4L153.3 961.0ZM152.4 971.3L155.8 973.9L154.3 975.9L161.2 977.4L157.9 971.1L156.4 973.1L153.0 970.5ZM151.4 984.1L155.7 985.3L155.0 987.7L162.4 986.7L156.7 981.9L156.0 984.3L151.7 983.0ZM152.5 994.6L155.9 996.2L154.8 998.4L161.2 998.0L157.4 992.9L156.3 995.2L152.9 993.6ZM155.7 1007.0L159.5 1004.8L159.5 1009.2ZM168.1 897.6L164.2 899.6L164.4 895.2ZM161.4 912.7L166.0 909.4L167.4 911.5L171.8 904.7L164.0 906.5L165.4 908.5L160.8 911.8ZM160.3 924.2L167.0 919.7L168.4 921.7L172.9 915.0L165.0 916.8L166.4 918.8L159.7 923.3ZM161.7 929.9L165.4 930.7L164.9 933.1L171.2 931.4L166.2 927.2L165.7 929.6L161.9 928.8ZM162.8 940.0L165.5 941.4L164.4 943.6L169.9 943.1L167.2 938.3L166.0 940.5L163.3 939.0ZM163.6 950.4L165.6 952.2L164.0 954.0L169.0 954.5L168.0 949.6L166.3 951.4L164.3 949.5ZM163.3 961.0L165.5 963.1L163.9 964.9L169.3 965.8L167.9 960.5L166.3 962.3L164.0 960.2ZM161.6 970.7L165.2 973.8L163.6 975.7L171.0 978.0L167.5 971.1L165.9 973.0L162.3 969.9ZM162.2 983.1L165.4 985.1L164.1 987.2L170.5 987.6L167.3 982.1L166.0 984.1L162.8 982.2ZM161.0 997.3L165.4 996.7L165.7 999.2L172.0 995.4L165.0 993.2L165.3 995.6L160.9 996.2ZM165.2 1007.2L168.6 1004.4L169.3 1008.8ZM177.9 897.4L174.3 899.8L174.0 895.4ZM170.1 910.3L174.9 909.3L175.4 911.6L182.0 907.1L174.1 905.8L174.7 908.2L169.8 909.2ZM172.9 921.6L175.6 920.2L176.7 922.4L179.3 917.7L174.0 917.1L175.1 919.2L172.4 920.6ZM172.7 929.1L175.1 930.5L173.9 932.6L179.1 932.1L176.9 927.4L175.7 929.5L173.2 928.2ZM172.0 940.0L175.0 941.4L174.0 943.7L179.7 943.1L176.5 938.2L175.5 940.5L172.5 939.0ZM170.7 949.8L174.7 952.1L173.5 954.2L181.0 955.2L176.5 949.1L175.3 951.2L171.3 948.8ZM171.4 961.6L174.9 963.3L173.8 965.5L180.4 965.3L176.4 960.1L175.4 962.3L171.8 960.6ZM172.3 972.0L175.0 974.1L173.5 976.0L179.4 976.8L177.2 971.3L175.7 973.2L173.0 971.1ZM172.6 984.3L175.2 985.3L174.2 987.6L179.2 986.4L176.5 982.1L175.6 984.3L173.1 983.3ZM171.1 996.6L175.0 996.6L175.0 999.0L180.9 996.1L175.0 993.0L175.0 995.5L171.1 995.5ZM174.6 1007.1L178.3 1004.7L178.5 1009.1ZM187.6 897.3L184.1 899.9L183.6 895.5ZM182.1 910.3L185.0 909.2L185.9 911.5L189.2 907.1L183.7 905.9L184.6 908.2L181.7 909.3ZM182.9 921.0L185.0 920.2L185.5 921.7L188.3 918.3L184.0 917.6L184.6 919.2L182.5 919.9ZM182.4 928.4L184.6 930.3L183.0 932.2L188.3 932.7L186.9 927.6L185.3 929.5L183.1 927.6ZM181.8 936.4L184.4 940.5L182.3 941.8L188.8 946.5L187.4 938.7L185.3 940.0L182.7 935.8ZM179.0 948.1L185.4 952.8L183.9 954.8L191.7 956.8L187.5 950.0L186.0 951.9L179.7 947.2ZM179.9 962.3L184.3 963.4L183.6 965.8L191.0 964.7L185.2 960.0L184.6 962.4L180.2 961.2ZM182.5 973.7L184.6 974.4L183.9 976.8L188.4 975.1L185.7 971.1L184.9 973.4L182.8 972.7ZM183.3 986.3L184.4 986.0L184.8 987.6L187.9 984.5L183.7 983.3L184.1 984.9L183.0 985.2ZM181.3 998.7L184.9 997.0L185.9 999.2L190.0 993.9L183.3 993.8L184.4 996.0L180.8 997.7ZM187.7 1006.1L186.9 1006.2L186.7 1004.6L183.3 1007.4L187.4 1008.9L187.1 1007.3L187.9 1007.2ZM196.8 897.2L193.5 900.0L192.6 895.7ZM191.5 910.2L194.5 909.2L195.2 911.5L198.8 907.2L193.4 905.8L194.1 908.2L191.1 909.2ZM192.0 919.3L194.1 919.7L193.7 921.4L197.9 920.1L194.7 917.1L194.4 918.7L192.3 918.2ZM192.1 928.7L194.2 930.4L192.6 932.2L197.6 932.5L196.4 927.6L194.9 929.5L192.8 927.8ZM189.4 937.8L194.0 941.2L192.5 943.2L200.3 945.3L196.1 938.4L194.7 940.3L190.1 936.9ZM189.4 947.9L194.3 952.4L192.7 954.2L200.3 957.0L196.7 949.7L195.1 951.5L190.2 947.1ZM190.9 961.9L194.0 963.4L193.0 965.6L199.0 965.0L195.5 960.1L194.5 962.3L191.3 960.9ZM191.5 975.6L194.4 974.9L195.0 977.2L198.7 973.3L193.6 971.4L194.2 973.8L191.2 974.5ZM192.6 985.5L193.6 985.6L193.5 987.2L197.4 985.2L193.8 982.8L193.7 984.5L192.7 984.4ZM190.8 998.0L194.3 996.9L195.1 999.2L199.4 994.6L193.2 993.5L194.0 995.8L190.5 997.0ZM192.9 1007.1L196.6 1004.7L196.8 1009.1ZM206.4 897.3L202.8 899.9L202.4 895.5ZM199.5 911.0L203.7 909.4L204.6 911.7L209.8 906.4L202.4 906.0L203.3 908.3L199.1 909.9ZM198.8 917.7L203.3 919.5L202.4 921.8L210.1 921.6L204.6 916.2L203.7 918.5L199.2 916.7ZM201.0 927.4L203.5 930.1L201.8 931.8L207.8 933.6L206.1 927.6L204.3 929.3L201.7 926.7ZM200.0 937.4L203.3 940.8L201.6 942.6L208.8 945.6L205.9 938.3L204.1 940.1L200.7 936.7ZM201.2 948.5L203.5 951.8L201.5 953.2L207.5 956.3L206.4 949.7L204.4 951.1L202.1 947.8ZM199.1 963.7L203.5 963.7L203.5 966.2L210.0 963.2L203.5 960.2L203.5 962.6L199.1 962.6ZM199.6 974.9L203.6 974.7L203.7 977.2L209.6 974.0L203.5 971.2L203.5 973.6L199.5 973.8ZM200.1 986.5L203.7 985.8L204.2 988.2L209.1 984.2L203.1 982.3L203.5 984.7L199.9 985.5ZM200.8 996.7L203.8 996.6L203.9 999.1L208.4 996.0L203.7 993.1L203.8 995.5L200.7 995.6ZM203.3 1007.1L207.0 1004.6L207.3 1009.0ZM215.4 897.5L211.6 899.7L211.6 895.3ZM207.5 906.8L213.2 908.7L212.4 911.1L220.5 910.6L214.3 905.4L213.6 907.7L207.8 905.8ZM204.2 914.8L216.8 921.5L215.7 923.6L223.7 924.5L218.5 918.3L217.4 920.5L204.7 913.8ZM214.2 931.7L211.6 928.2L216.0 927.7ZM214.1 953.5L211.8 949.8L216.2 949.6ZM214.3 972.1L216.1 976.1L211.7 975.6ZM215.3 995.5L212.6 999.0L210.9 995.0ZM212.8 1006.9L216.8 1005.0L216.5 1009.4ZM224.8 897.5L221.0 899.7L221.1 895.3ZM222.0 919.4L225.8 917.2L225.9 921.5ZM222.4 940.9L226.7 940.0L225.3 944.2ZM224.8 963.2L221.0 965.3L221.1 960.9ZM225.3 985.6L221.1 986.6L222.3 982.4ZM222.4 1007.0L226.2 1004.8L226.1 1009.2ZM234.6 897.5L230.8 899.7L230.8 895.3ZM231.5 908.8L234.7 905.8L235.7 910.1ZM233.1 928.8L235.3 932.6L230.9 932.6ZM233.3 951.0L235.0 955.0L230.6 954.5ZM232.3 973.1L236.4 974.7L232.9 977.4ZM234.4 995.9L230.9 998.6L230.3 994.3ZM231.9 1006.9L235.8 1005.0L235.5 1009.4ZM244.4 897.7L240.4 899.5L240.9 895.1ZM240.8 905.5L241.9 908.0L239.6 909.0L243.9 911.6L245.2 906.7L242.9 907.6L241.9 905.1ZM240.0 917.8L241.7 919.3L240.1 921.2L245.0 921.4L244.1 916.7L242.5 918.5L240.7 916.9ZM239.0 928.3L241.6 930.3L240.2 932.3L246.0 932.8L243.7 927.4L242.3 929.4L239.6 927.5ZM250.8 940.0L241.8 940.8L241.6 938.4L234.4 942.0L242.1 944.4L241.9 941.9L250.9 941.1ZM248.7 949.8L243.4 951.4L242.7 949.1L236.4 954.1L244.5 954.8L243.7 952.5L249.0 950.9ZM247.8 961.0L243.5 962.3L242.8 960.0L237.3 964.9L244.6 965.7L243.9 963.4L248.1 962.0ZM246.0 972.8L243.2 973.5L242.7 971.1L239.1 974.9L244.0 976.9L243.5 974.5L246.3 973.9ZM246.7 985.5L243.6 984.8L244.1 982.4L238.7 984.2L242.7 988.2L243.3 985.8L246.5 986.6ZM244.9 996.0L244.3 995.9L244.7 994.3L240.5 995.5L243.7 998.6L244.1 997.0L244.6 997.1ZM241.1 1006.9L245.1 1005.0L244.8 1009.4ZM254.1 897.7L250.1 899.5L250.6 895.1ZM250.5 906.3L251.2 907.6L249.7 908.3L253.3 910.8L253.6 906.4L252.1 907.1L251.5 905.9ZM253.4 921.1L249.4 919.3L253.0 916.8ZM248.7 928.5L251.2 930.3L249.8 932.3L255.3 932.6L253.3 927.5L251.9 929.5L249.3 927.6ZM258.1 936.7L251.9 940.8L250.5 938.8L246.0 945.5L253.9 943.8L252.5 941.7L258.7 937.6ZM259.6 950.6L251.9 951.7L251.6 949.3L244.6 953.4L252.5 955.2L252.1 952.8L259.8 951.6ZM256.4 961.2L252.9 962.4L252.1 960.1L247.7 964.7L254.0 965.7L253.2 963.4L256.8 962.2ZM254.6 974.2L253.7 974.0L254.1 972.4L249.9 973.6L253.0 976.6L253.4 975.0L254.3 975.3ZM254.4 985.8L253.8 985.4L254.6 984.0L250.2 983.9L252.4 987.8L253.2 986.4L253.8 986.7ZM255.1 996.3L253.2 995.7L253.6 994.2L249.4 995.3L252.5 998.4L252.9 996.8L254.8 997.3ZM254.5 1006.8L253.8 1006.7L254.1 1005.1L249.9 1006.6L253.3 1009.4L253.6 1007.8L254.3 1007.9ZM259.0 897.7L260.5 897.9L260.2 899.5L264.3 897.9L260.8 895.2L260.6 896.8L259.1 896.6ZM260.0 906.3L260.7 907.7L259.2 908.4L262.8 910.9L263.2 906.5L261.7 907.2L261.0 905.8ZM258.8 918.7L260.6 919.5L259.9 921.0L264.3 920.6L261.8 917.0L261.1 918.5L259.3 917.7ZM257.9 929.8L260.8 930.7L260.1 933.0L265.4 931.4L261.8 927.3L261.1 929.6L258.2 928.7ZM268.6 939.0L261.8 940.7L261.2 938.3L254.6 943.1L262.6 944.2L262.0 941.8L268.9 940.1ZM268.0 948.3L261.5 951.7L260.3 949.6L255.1 955.7L263.1 954.9L262.0 952.7L268.5 949.2ZM266.9 962.8L262.7 962.7L262.8 960.2L256.5 963.0L262.6 966.2L262.7 963.8L266.9 963.9ZM264.4 974.8L262.8 974.1L263.5 972.6L259.1 973.0L261.7 976.6L262.4 975.1L264.0 975.8ZM264.3 986.4L262.8 985.2L263.8 983.9L259.4 983.4L261.1 987.4L262.1 986.1L263.6 987.3ZM264.7 996.1L262.6 995.7L263.0 994.1L258.8 995.5L262.1 998.4L262.4 996.8L264.5 997.2ZM264.1 1006.4L263.1 1006.4L263.1 1004.8L259.3 1007.0L263.1 1009.2L263.1 1007.5L264.1 1007.5ZM273.1 897.8L269.0 899.4L269.7 895.0ZM267.4 907.0L270.2 908.6L269.1 910.7L274.8 910.4L271.9 905.4L270.7 907.6L267.9 906.1ZM267.8 918.7L270.4 919.7L269.5 922.0L274.4 920.6L271.6 916.3L270.7 918.6L268.2 917.7ZM268.1 929.6L270.4 930.6L269.4 932.9L274.1 931.6L271.8 927.3L270.8 929.6L268.5 928.6ZM275.6 937.9L271.8 940.2L270.5 938.2L266.5 944.3L273.7 943.2L272.4 941.2L276.2 938.8ZM277.0 952.3L272.4 951.8L272.7 949.4L265.5 951.7L272.0 955.4L272.3 952.9L276.9 953.4ZM276.1 962.5L272.2 962.6L272.1 960.2L266.3 963.3L272.3 966.2L272.2 963.7L276.1 963.6ZM276.4 975.2L272.4 973.9L273.1 971.6L266.1 972.6L271.3 977.3L272.0 975.0L276.1 976.2ZM275.2 986.0L272.2 984.9L273.0 982.6L267.4 983.7L270.9 988.2L271.8 985.9L274.8 987.0ZM274.1 995.9L272.2 995.6L272.4 994.0L268.4 995.6L271.8 998.4L272.0 996.7L274.0 997.0ZM269.3 1007.1L273.0 1004.7L273.3 1009.1ZM276.0 907.3L279.6 908.6L278.8 910.9L285.2 910.1L280.9 905.3L280.0 907.6L276.4 906.2ZM276.0 919.3L279.7 919.8L279.4 922.3L285.3 920.0L280.2 916.3L279.9 918.7L276.2 918.3ZM277.6 929.7L279.9 930.6L279.0 932.9L283.7 931.6L281.3 927.3L280.3 929.6L278.0 928.6ZM284.5 939.5L281.3 940.5L280.6 938.2L276.8 942.6L282.4 943.9L281.7 941.6L284.9 940.6ZM283.2 951.8L282.1 951.8L282.1 950.1L278.2 952.1L281.9 954.5L282.0 952.9L283.2 952.9ZM284.9 964.5L281.7 963.1L282.7 960.8L276.7 961.4L280.3 966.3L281.3 964.1L284.5 965.5ZM286.2 977.6L281.9 974.3L283.4 972.4L275.5 970.3L279.8 977.2L281.2 975.2L285.6 978.4ZM288.2 988.6L280.4 984.3L281.6 982.1L273.6 981.1L278.6 987.4L279.8 985.2L287.6 989.6ZM284.3 996.5L281.6 995.7L282.2 993.4L277.2 995.1L280.6 999.1L281.3 996.8L284.0 997.6ZM279.3 1007.1L283.0 1004.7L283.2 1009.1ZM286.5 908.1L289.4 908.8L288.8 911.2L293.9 909.4L290.3 905.4L289.6 907.7L286.7 907.0ZM285.9 917.6L289.2 919.4L288.0 921.6L294.3 921.6L290.9 916.3L289.7 918.5L286.5 916.7ZM286.7 929.7L289.4 930.6L288.6 932.9L293.6 931.5L290.6 927.3L289.8 929.6L287.1 928.6ZM293.6 941.3L291.0 940.9L291.4 938.5L286.9 940.7L290.4 944.4L290.8 942.0L293.5 942.4ZM292.5 951.9L291.9 951.8L292.0 950.2L288.0 952.1L291.6 954.6L291.8 952.9L292.4 953.0ZM294.4 965.8L291.3 963.4L292.9 961.5L286.5 960.1L289.1 966.1L290.7 964.2L293.7 966.7ZM296.5 977.9L290.8 973.8L292.2 971.8L284.3 970.0L288.7 976.7L290.1 974.7L295.9 978.8ZM298.2 987.4L289.7 984.3L290.5 982.0L282.4 982.3L288.5 987.7L289.3 985.3L297.9 988.4ZM294.2 995.6L291.0 995.5L291.1 993.1L286.3 996.0L291.0 999.1L291.0 996.6L294.2 996.7ZM289.0 1007.2L292.5 1004.5L293.1 1008.8ZM295.4 907.2L298.7 908.6L297.8 910.9L303.9 910.2L300.1 905.3L299.1 907.6L295.8 906.2ZM296.4 917.8L298.8 919.4L297.5 921.5L302.8 921.5L300.8 916.5L299.5 918.5L297.0 916.9ZM297.3 929.4L298.4 930.1L297.5 931.4L301.9 931.8L300.0 927.8L299.0 929.2L298.0 928.4ZM303.0 942.2L300.6 941.1L301.6 938.8L296.7 939.9L299.1 944.3L300.1 942.1L302.6 943.2ZM302.6 952.3L300.8 951.9L301.2 950.3L297.0 951.7L300.3 954.6L300.6 953.0L302.4 953.4ZM303.7 965.4L300.8 963.3L302.3 961.3L296.2 960.5L298.7 966.1L300.1 964.2L303.0 966.3ZM304.9 975.5L300.9 974.0L301.8 971.7L294.8 972.2L299.7 977.3L300.5 975.0L304.5 976.6ZM307.5 983.8L299.3 984.6L299.1 982.2L291.9 985.9L299.7 988.1L299.4 985.7L307.6 984.9ZM302.6 994.9L300.5 995.4L300.2 993.7L296.9 996.6L301.0 998.0L300.7 996.4L302.8 996.0ZM298.1 1007.2L301.5 1004.5L302.1 1008.9ZM444.4 897.7L445.1 897.8L444.8 899.4L448.9 897.8L445.5 895.1L445.2 896.7L444.6 896.6ZM441.3 905.8L445.4 908.3L444.1 910.4L451.8 911.6L447.2 905.3L445.9 907.4L441.8 904.9ZM442.8 919.0L445.8 919.8L445.2 922.1L450.4 920.3L446.6 916.3L446.1 918.7L443.1 918.0ZM444.2 929.4L445.4 930.2L444.5 931.6L448.9 931.7L446.8 927.9L446.0 929.3L444.7 928.5ZM443.1 941.4L445.9 941.8L445.6 944.2L450.2 941.8L446.4 938.2L446.0 940.7L443.2 940.3ZM443.7 952.3L445.7 952.6L445.4 954.3L449.5 952.7L446.1 949.9L445.9 951.6L443.9 951.2ZM443.7 964.9L446.2 964.0L447.1 966.2L449.9 962.0L445.0 960.6L445.9 962.9L443.3 963.9ZM443.3 974.0L445.9 974.6L445.4 977.0L449.9 974.8L446.6 971.1L446.1 973.5L443.5 973.0ZM443.0 985.2L445.9 985.6L445.6 988.0L450.3 985.6L446.4 982.0L446.0 984.5L443.2 984.1ZM442.1 996.4L445.7 996.6L445.6 999.0L451.2 996.3L445.9 993.0L445.8 995.5L442.2 995.3ZM448.8 1007.2L444.9 1009.1L445.2 1004.7ZM457.8 897.7L453.7 899.3L454.4 895.0ZM451.6 907.2L455.1 908.6L454.2 910.9L460.6 910.2L456.4 905.3L455.5 907.6L452.0 906.2ZM450.2 918.1L454.9 919.6L454.2 921.9L462.1 921.2L455.9 916.2L455.2 918.5L450.5 917.1ZM452.0 930.3L455.3 930.8L455.0 933.2L460.4 930.9L455.8 927.3L455.5 929.7L452.1 929.2ZM452.0 941.6L455.3 941.8L455.2 944.3L460.4 941.5L455.5 938.3L455.4 940.7L452.1 940.5ZM453.8 952.9L454.9 952.9L455.0 954.5L458.7 952.1L454.8 950.1L454.9 951.8L453.7 951.8ZM453.9 964.2L455.0 964.0L455.3 965.6L458.6 962.8L454.5 961.3L454.8 962.9L453.7 963.1ZM451.2 974.5L455.2 974.7L455.1 977.1L461.2 974.4L455.3 971.1L455.2 973.6L451.3 973.4ZM450.9 981.2L455.2 984.9L453.6 986.8L461.2 989.4L457.5 982.2L455.9 984.1L451.6 980.4ZM450.2 994.0L454.9 996.1L453.9 998.3L462.0 998.6L456.3 992.8L455.4 995.1L450.6 993.0ZM458.3 1007.2L454.3 1009.0L454.7 1004.7ZM467.0 897.6L463.0 899.5L463.4 895.1ZM462.7 908.4L464.9 908.9L464.4 911.3L468.7 909.0L465.5 905.4L465.1 907.8L462.9 907.4ZM461.1 918.6L464.7 919.7L464.0 922.0L470.2 920.7L465.7 916.3L465.0 918.6L461.4 917.5ZM460.4 929.6L464.6 930.6L464.0 933.0L470.9 931.7L465.5 927.2L464.8 929.6L460.7 928.5ZM462.3 943.1L465.2 942.1L466.0 944.4L469.4 940.1L464.0 938.7L464.8 941.0L461.9 942.0ZM462.8 952.3L464.7 952.6L464.4 954.2L468.5 952.8L465.2 949.9L464.9 951.5L463.0 951.2ZM463.0 963.3L464.6 963.6L464.3 965.2L468.4 963.6L465.0 960.9L464.7 962.5L463.2 962.2ZM462.1 972.6L464.8 974.2L463.5 976.3L469.1 976.1L466.6 971.2L465.3 973.3L462.6 971.7ZM460.4 981.4L464.6 984.9L463.0 986.7L470.7 989.2L466.9 982.1L465.3 984.0L461.1 980.5ZM459.0 994.0L465.1 996.4L464.2 998.7L472.3 998.6L466.4 993.1L465.5 995.4L459.4 993.0ZM463.5 1007.4L464.1 1007.4L464.0 1009.1L468.0 1007.2L464.4 1004.7L464.2 1006.3L463.6 1006.3ZM476.6 897.6L472.7 899.6L472.9 895.2ZM471.4 909.5L474.5 909.1L474.8 911.5L479.2 908.0L474.1 905.6L474.4 908.0L471.2 908.4ZM470.3 919.7L474.3 919.9L474.1 922.3L480.2 919.6L474.4 916.4L474.3 918.8L470.4 918.6ZM470.9 931.0L474.4 930.9L474.5 933.4L479.7 930.2L474.3 927.4L474.4 929.8L470.9 929.9ZM471.9 942.8L474.7 942.0L475.3 944.4L478.8 940.3L473.8 938.6L474.4 941.0L471.6 941.7ZM471.8 952.5L474.5 952.7L474.3 955.2L478.7 952.6L474.8 949.2L474.6 951.6L471.9 951.4ZM471.8 962.8L474.5 963.6L473.8 965.9L478.6 964.1L475.4 960.1L474.7 962.5L472.1 961.8ZM470.9 972.4L474.2 974.2L473.0 976.3L479.3 976.4L475.9 971.1L474.7 973.2L471.5 971.4ZM471.5 981.6L474.2 984.7L472.3 986.3L478.7 988.9L476.8 982.3L475.0 984.0L472.3 980.9ZM469.6 993.8L473.9 996.0L472.8 998.2L480.6 998.8L475.6 992.8L474.4 995.0L470.1 992.8ZM473.0 1007.4L473.7 1007.5L473.6 1009.1L477.5 1007.1L473.8 1004.7L473.8 1006.4L473.0 1006.3ZM482.5 898.0L483.3 898.0L483.2 899.6L487.1 897.6L483.4 895.3L483.3 896.9L482.5 896.9ZM480.8 910.0L484.1 909.2L484.7 911.6L488.9 907.4L483.2 905.8L483.8 908.1L480.6 909.0ZM482.0 920.4L484.0 920.1L484.3 921.7L487.7 918.9L483.6 917.4L483.9 919.0L481.8 919.3ZM481.6 931.1L484.2 930.9L484.3 933.4L488.0 930.2L484.0 927.4L484.1 929.8L481.6 930.0ZM480.9 940.9L483.9 941.7L483.4 944.0L488.6 942.2L484.7 938.2L484.2 940.6L481.1 939.9ZM480.4 952.1L483.8 952.7L483.5 955.1L489.1 952.9L484.4 949.2L484.0 951.6L480.6 951.0ZM481.0 961.2L483.8 963.2L482.4 965.2L488.3 965.7L485.8 960.2L484.4 962.3L481.6 960.3ZM479.6 972.2L483.6 974.1L482.5 976.3L489.8 976.6L485.1 971.0L484.1 973.2L480.1 971.2ZM481.9 983.0L483.9 985.0L482.2 986.7L487.3 987.6L486.4 982.5L484.7 984.2L482.7 982.2ZM481.4 996.0L484.0 996.5L483.6 998.9L488.1 996.6L484.7 993.0L484.2 995.4L481.6 994.9ZM486.4 1007.1L482.5 1009.1L482.7 1004.7ZM491.7 897.9L493.1 898.0L493.1 899.7L497.0 897.6L493.3 895.3L493.2 896.9L491.7 896.8ZM490.3 910.6L493.7 909.3L494.6 911.6L498.5 906.8L492.4 906.0L493.3 908.3L489.9 909.6ZM492.0 921.0L493.6 920.3L494.3 921.8L496.8 918.3L492.5 917.8L493.2 919.3L491.6 920.0ZM496.1 930.3L492.4 932.6L492.3 928.2ZM490.9 940.7L493.5 941.6L492.7 943.9L497.6 942.4L494.6 938.2L493.8 940.6L491.2 939.7ZM488.0 951.2L493.1 952.5L492.5 954.9L500.5 953.9L494.0 949.1L493.4 951.4L488.3 950.1ZM489.7 958.2L493.5 963.0L491.5 964.5L498.5 968.6L496.3 960.8L494.3 962.3L490.6 957.5ZM489.9 970.6L493.1 973.8L491.4 975.5L498.4 978.1L495.6 971.2L493.9 973.0L490.7 969.8ZM492.4 983.7L492.9 984.4L491.7 985.5L495.9 986.8L495.0 982.5L493.8 983.6L493.2 983.0ZM496.2 996.0L492.4 998.3L492.4 993.9ZM495.8 1006.8L492.3 1009.4L491.8 1005.1ZM501.5 898.2L502.5 898.1L502.6 899.8L506.3 897.3L502.3 895.4L502.4 897.0L501.4 897.1ZM499.6 909.9L503.1 909.2L503.6 911.6L508.3 907.5L502.4 905.7L502.9 908.1L499.3 908.8ZM501.2 922.3L503.6 920.3L505.2 922.2L506.9 916.9L501.3 917.6L502.9 919.5L500.5 921.5ZM501.4 930.3L502.4 930.6L502.0 932.2L506.2 930.9L503.1 927.9L502.7 929.5L501.6 929.2ZM500.6 941.3L503.1 941.7L502.8 944.2L507.0 941.8L503.7 938.2L503.3 940.7L500.8 940.3ZM499.7 948.1L502.7 951.7L500.8 953.3L507.6 956.8L505.4 949.4L503.5 951.0L500.6 947.4ZM499.4 957.9L503.1 963.0L501.1 964.4L507.9 968.8L505.9 961.0L503.9 962.4L500.3 957.3ZM499.8 970.8L502.7 973.8L501.0 975.5L507.5 977.9L505.3 971.3L503.5 973.0L500.6 970.0ZM501.3 985.0L502.5 985.3L502.0 986.9L506.3 985.8L503.2 982.6L502.8 984.2L501.6 983.9ZM501.6 997.2L502.7 996.9L503.1 998.5L506.3 995.5L502.0 994.2L502.4 995.8L501.3 996.1ZM505.6 1006.9L502.0 1009.3L501.6 1005.0ZM515.0 897.3L511.4 899.9L511.0 895.5ZM509.8 911.6L512.9 909.4L514.3 911.5L517.3 905.8L510.9 906.5L512.3 908.5L509.2 910.7ZM508.9 920.9L512.6 920.1L513.1 922.5L518.0 918.4L511.8 916.7L512.4 919.1L508.7 919.9ZM508.8 928.9L512.3 930.5L511.3 932.7L517.8 932.3L513.7 927.2L512.7 929.5L509.2 927.9ZM510.4 938.9L512.5 941.1L510.7 942.8L516.0 944.1L515.1 938.7L513.3 940.4L511.2 938.1ZM508.9 949.7L512.2 952.1L510.8 954.1L517.5 955.2L514.3 949.2L512.9 951.2L509.6 948.8ZM510.0 960.4L512.4 962.9L510.6 964.6L516.4 966.4L515.0 960.5L513.2 962.2L510.8 959.7ZM509.9 971.8L512.4 974.0L510.8 975.8L516.5 976.9L514.8 971.4L513.1 973.2L510.6 970.9ZM510.4 984.6L512.4 985.3L511.9 986.9L516.2 986.1L513.3 982.7L512.8 984.3L510.8 983.6ZM511.4 997.7L512.6 997.1L513.4 998.6L515.7 994.8L511.3 994.7L512.1 996.1L510.8 996.8ZM514.9 1006.9L511.3 1009.4L510.9 1005.0ZM519.0 909.4L522.2 909.1L522.4 911.5L526.9 908.0L521.8 905.6L522.1 908.0L518.9 908.3ZM517.3 921.2L521.9 920.2L522.4 922.6L528.6 918.2L521.1 916.7L521.7 919.1L517.1 920.1ZM518.1 928.8L521.8 930.4L520.8 932.7L527.5 932.4L523.2 927.2L522.2 929.4L518.6 927.8ZM517.9 939.2L521.7 941.3L520.6 943.4L527.7 943.8L523.4 938.1L522.2 940.3L518.4 938.3ZM519.6 950.5L522.0 952.3L520.6 954.2L525.9 954.4L524.1 949.4L522.7 951.4L520.3 949.6ZM520.3 961.8L521.9 963.0L520.8 964.3L525.2 965.0L523.6 960.9L522.5 962.2L521.0 961.0ZM519.4 973.8L522.1 974.5L521.5 976.9L526.3 975.0L523.0 971.1L522.4 973.4L519.6 972.8ZM518.1 986.1L522.0 985.7L522.2 988.2L527.8 984.6L521.7 982.2L521.9 984.6L518.0 985.0ZM519.9 999.1L522.6 997.0L524.1 998.9L526.2 993.5L520.4 994.2L521.9 996.1L519.3 998.2ZM524.5 1006.7L521.1 1009.5L520.4 1005.2ZM528.2 910.4L531.7 909.3L532.5 911.6L536.9 907.0L530.7 905.9L531.4 908.2L527.9 909.3ZM525.0 919.3L532.3 919.9L532.1 922.4L539.8 920.1L532.6 916.4L532.4 918.8L525.1 918.2ZM526.5 926.2L531.9 930.6L530.4 932.5L538.1 934.9L534.1 927.9L532.6 929.8L527.1 925.4ZM528.4 937.4L531.3 940.8L529.5 942.4L536.1 945.5L534.0 938.5L532.1 940.1L529.3 936.7ZM529.7 951.8L531.3 952.4L530.7 953.9L535.0 953.2L532.3 949.8L531.7 951.4L530.1 950.7ZM530.1 962.6L530.9 963.0L530.1 964.4L534.5 964.3L532.2 960.6L531.4 962.0L530.7 961.6ZM528.9 973.5L531.6 974.4L530.8 976.7L535.9 975.3L532.8 971.1L531.9 973.4L529.2 972.4ZM527.2 985.3L531.4 985.6L531.2 988.0L537.7 985.5L531.6 982.0L531.4 984.5L527.2 984.2ZM527.5 997.3L531.5 996.7L531.9 999.2L537.5 995.3L531.0 993.2L531.4 995.6L527.4 996.2ZM533.9 1007.0L530.1 1009.2L530.2 1004.8ZM538.0 909.5L541.2 909.1L541.5 911.5L546.0 908.0L540.8 905.6L541.1 908.0L537.9 908.4ZM534.4 918.8L542.0 920.0L541.6 922.4L549.5 920.6L542.5 916.5L542.2 918.9L534.5 917.7ZM538.5 927.3L541.0 930.0L539.1 931.7L545.1 933.8L543.6 927.6L541.8 929.3L539.3 926.5ZM537.3 939.8L540.9 941.4L539.9 943.6L546.4 943.3L542.3 938.2L541.3 940.4L537.8 938.8ZM538.7 951.2L541.1 952.4L540.0 954.6L545.0 953.8L542.7 949.3L541.6 951.4L539.2 950.2ZM539.4 964.1L540.9 963.9L541.1 965.5L544.6 962.9L540.6 961.2L540.8 962.8L539.3 963.0ZM538.4 974.2L541.2 974.6L540.9 977.0L545.5 974.6L541.7 971.1L541.3 973.5L538.5 973.1ZM538.4 985.4L541.2 985.6L541.1 988.0L545.6 985.3L541.5 982.1L541.3 984.5L538.4 984.3ZM538.6 997.2L541.4 996.7L541.8 999.1L545.5 995.4L540.8 993.2L541.2 995.6L538.4 996.1ZM543.9 1006.9L540.2 1009.2L540.1 1004.9ZM546.0 908.7L550.4 908.9L550.2 911.4L557.0 908.8L550.6 905.4L550.4 907.8L546.0 907.6ZM545.2 918.3L550.2 919.6L549.6 922.0L557.6 921.0L551.1 916.2L550.5 918.6L545.5 917.3ZM548.2 927.6L550.5 930.1L548.7 931.8L554.4 933.5L553.1 927.7L551.3 929.4L549.1 926.9ZM548.0 938.9L550.5 941.2L548.9 943.0L554.7 944.1L552.9 938.5L551.2 940.3L548.7 938.1ZM546.8 950.5L550.4 952.3L549.3 954.5L556.0 954.5L552.0 949.1L550.9 951.3L547.3 949.5ZM547.9 964.3L550.8 963.8L551.2 966.3L555.2 962.7L550.4 960.3L550.7 962.8L547.7 963.2ZM548.3 975.0L550.9 974.8L551.2 977.2L554.8 973.8L550.6 971.2L550.8 973.7L548.2 973.9ZM548.7 985.2L550.4 985.5L550.2 987.1L554.3 985.5L550.8 982.8L550.6 984.4L548.8 984.1ZM548.6 996.4L550.6 996.5L550.5 998.2L554.4 996.3L550.8 993.8L550.7 995.4L548.7 995.3ZM553.5 1007.1L549.6 1009.1L549.7 1004.7ZM554.9 904.5L560.5 908.8L559.1 910.7L566.9 912.8L562.7 905.9L561.2 907.9L555.6 903.6ZM557.2 917.7L560.0 919.4L558.8 921.5L564.6 921.6L561.9 916.4L560.6 918.5L557.7 916.7ZM561.7 931.4L557.8 929.4L561.5 927.0ZM560.8 940.1L563.6 943.5L559.3 944.2ZM562.3 952.3L558.4 954.4L558.5 950.0ZM561.2 964.4L558.5 961.0L562.9 960.4ZM560.9 975.4L559.1 971.4L563.5 971.8ZM562.2 984.8L559.2 987.9L558.0 983.7ZM562.3 996.1L558.3 998.1L558.7 993.7ZM558.8 1007.2L559.4 1007.3L559.1 1008.9L563.2 1007.3L559.8 1004.6L559.5 1006.2L558.9 1006.1ZM570.6 909.7L568.3 906.0L572.7 905.9ZM569.4 918.9L573.8 918.4L572.0 922.5ZM571.5 931.1L567.2 930.4L570.0 927.0ZM571.6 940.6L569.7 944.5L567.2 940.9ZM571.8 952.2L568.1 954.6L567.9 950.2ZM569.2 962.7L573.5 961.9L572.0 966.1ZM570.5 975.4L568.5 971.5L572.9 971.7ZM571.1 986.2L567.5 983.7L571.5 981.9ZM570.0 997.1L569.8 992.8L573.7 994.9ZM572.3 1007.3L568.2 1008.9L568.8 1004.5ZM581.3 908.9L576.9 909.6L578.5 905.5ZM578.8 919.2L582.9 917.6L582.3 921.9ZM579.2 931.2L580.5 927.0L583.5 930.3ZM579.9 942.5L578.4 938.4L582.7 939.2ZM580.8 951.2L580.5 955.6L576.9 953.1ZM579.3 962.2L583.4 963.7L580.1 966.6ZM578.9 974.4L582.2 971.5L583.0 975.8ZM581.2 985.6L576.9 986.0L578.7 982.0ZM581.2 995.4L578.9 999.2L576.8 995.4ZM577.6 1007.2L578.7 1007.4L578.5 1009.0L582.6 1007.3L579.1 1004.6L578.9 1006.3L577.7 1006.1ZM590.9 908.2L587.6 911.1L586.8 906.8ZM588.2 919.4L592.0 917.1L592.1 921.5ZM589.2 929.0L592.5 932.0L588.3 933.3ZM589.8 940.1L591.5 944.1L587.1 943.6ZM591.7 951.4L591.1 951.5L590.9 949.9L587.5 952.5L591.5 954.2L591.3 952.6L591.9 952.5ZM588.1 963.0L592.1 961.3L591.6 965.6ZM592.7 975.1L590.4 974.0L591.6 971.8L586.8 972.7L588.8 977.1L589.9 974.9L592.2 976.1ZM593.4 987.6L590.7 985.3L592.3 983.4L586.2 982.2L588.4 988.0L590.0 986.1L592.7 988.5ZM595.0 997.3L590.8 995.9L591.6 993.6L584.4 994.3L589.7 999.2L590.5 996.9L594.7 998.3ZM587.1 1007.3L588.2 1007.4L588.1 1009.1L592.1 1007.2L588.5 1004.7L588.3 1006.3L587.2 1006.2ZM597.0 952.2L600.8 950.1L600.8 954.5ZM597.8 963.1L601.8 961.2L601.3 965.6ZM602.7 975.4L600.1 974.0L601.2 971.8L595.8 972.4L598.5 977.2L599.6 975.0L602.2 976.4ZM603.0 988.0L600.2 985.4L601.9 983.6L595.7 981.8L597.8 987.9L599.5 986.2L602.2 988.8ZM604.4 998.6L600.4 996.2L601.7 994.1L594.2 993.1L598.6 999.2L599.9 997.1L603.9 999.5ZM601.0 1007.0L597.2 1009.2L597.3 1004.8ZM611.4 951.7L609.8 951.7L609.8 950.1L606.0 952.2L609.7 954.5L609.8 952.8L611.4 952.8ZM611.9 963.9L609.5 962.9L610.4 960.7L605.7 962.0L608.2 966.2L609.1 964.0L611.5 964.9ZM612.0 975.8L609.6 974.1L611.0 972.1L605.7 972.0L607.6 977.0L609.0 975.0L611.4 976.7ZM613.8 986.5L609.9 985.0L610.8 982.7L603.7 983.2L608.6 988.3L609.5 986.0L613.4 987.5ZM613.6 997.0L609.8 995.8L610.5 993.5L603.9 994.5L608.7 999.2L609.5 996.9L613.3 998.1ZM606.5 1007.5L607.1 1007.5L607.1 1009.2L610.9 1007.1L607.2 1004.8L607.1 1006.4L606.5 1006.4ZM622.1 954.0L619.2 952.2L620.5 950.1L614.6 950.0L617.4 955.2L618.6 953.2L621.5 954.9ZM621.3 965.5L619.1 963.3L620.9 961.6L615.5 960.5L616.7 965.9L618.4 964.1L620.5 966.2ZM621.7 977.2L619.2 974.5L621.1 972.8L615.1 970.7L616.6 976.8L618.4 975.2L620.9 977.9ZM622.5 985.4L619.2 984.7L619.6 982.3L614.0 984.3L618.5 988.2L619.0 985.8L622.3 986.5ZM622.1 994.9L618.9 995.4L618.5 993.0L614.3 996.7L619.5 998.9L619.1 996.5L622.3 995.9ZM620.0 1006.7L616.6 1009.5L615.8 1005.2ZM632.9 954.6L629.0 952.3L630.2 950.2L622.9 949.4L627.2 955.4L628.5 953.3L632.4 955.6ZM633.1 967.5L628.6 963.2L630.3 961.4L622.7 958.5L626.2 965.8L627.9 964.1L632.4 968.3ZM632.2 976.6L628.9 974.3L630.3 972.3L623.6 971.3L626.9 977.2L628.3 975.2L631.6 977.5ZM631.7 985.4L628.6 984.7L629.2 982.4L624.0 984.2L627.8 988.2L628.4 985.8L631.4 986.5ZM630.5 994.6L628.2 995.3L627.5 993.0L624.8 997.0L629.4 998.7L628.6 996.4L630.9 995.6ZM629.4 1006.8L625.9 1009.4L625.4 1005.1ZM641.4 955.9L638.4 952.7L640.2 951.0L633.6 948.3L635.8 955.1L637.6 953.4L640.6 956.6ZM643.5 965.4L638.4 963.1L639.4 960.9L631.3 960.5L636.9 966.3L637.9 964.1L643.0 966.4ZM642.6 974.9L638.4 973.9L639.0 971.5L632.1 972.9L637.6 977.3L638.2 974.9L642.3 976.0ZM641.2 984.5L638.1 984.5L638.0 982.1L633.3 985.1L638.1 988.1L638.1 985.6L641.2 985.6ZM639.7 994.9L638.3 995.2L638.0 993.6L634.8 996.6L639.0 997.9L638.6 996.3L639.9 996.0ZM639.0 1006.9L635.4 1009.4L635.0 1005.0ZM651.3 954.7L648.0 952.4L649.4 950.4L642.6 949.3L646.0 955.3L647.3 953.3L650.7 955.6ZM650.6 964.5L647.8 963.1L648.9 960.9L643.3 961.4L646.2 966.2L647.3 964.0L650.1 965.5ZM652.4 974.9L648.0 973.9L648.6 971.5L641.3 972.9L647.2 977.3L647.8 974.9L652.2 976.0ZM650.6 983.7L647.5 984.4L647.0 982.0L642.9 986.0L648.2 987.9L647.7 985.5L650.8 984.8ZM650.6 994.4L647.4 995.3L646.8 992.9L642.9 997.2L648.4 998.7L647.7 996.4L650.9 995.5ZM648.8 1006.7L645.4 1009.5L644.7 1005.1Z"/><text x="9.6" y="11.4" font-size="14" font-weight="bold" fill="#000">a</text><text x="405.0" y="11.5" font-size="14" font-weight="bold" fill="#000">b</text><text x="9.6" y="300.4" font-size="14" font-weight="bold" fill="#000">c</text><text x="9.4" y="489.5" font-size="14" font-weight="bold" fill="#000">d</text><text x="9.4" y="723.8" font-size="14" font-weight="bold" fill="#000">e</text><text x="56.2" y="16.2" font-size="10.5" textLength="235.9" lengthAdjust="spacingAndGlyphs">MERFISH mouse hypothalamic preoptic region</text><text x="474.4" y="15.9" font-size="10.5" textLength="196.6" lengthAdjust="spacingAndGlyphs">Cluster summary of OXT pathway CCC</text><text x="265.7" y="300.7" font-size="10.5" textLength="170.9" lengthAdjust="spacingAndGlyphs">OXT pathway signaling directions</text><text x="280.0" y="490.8" font-size="10.5" textLength="133.3" lengthAdjust="spacingAndGlyphs">STARmap mouse placenta</text><text x="296.2" y="728.5" font-size="10.5" textLength="101.1" lengthAdjust="spacingAndGlyphs">Signaling directions</text><text x="121.4" y="744.3" font-size="10.5" textLength="87.8" lengthAdjust="spacingAndGlyphs">Midkine signaling</text><text x="471.7" y="745.6" font-size="10.5" textLength="94.6" lengthAdjust="spacingAndGlyphs">ANNEXIN signaling</text><text x="132.6" y="886.8" font-size="10.5" textLength="66.2" lengthAdjust="spacingAndGlyphs">IGF signaling</text><text x="462.2" y="886.6" font-size="10.5" textLength="113.5" lengthAdjust="spacingAndGlyphs">Angiopoietin signaling</text><text x="38.5" y="316.3" font-size="10.5" textLength="71.5" lengthAdjust="spacingAndGlyphs">Bregma –0.09</text><text x="220.6" y="317.0" font-size="10.5" textLength="71.1" lengthAdjust="spacingAndGlyphs">Bregma –0.04</text><text x="402.0" y="317.0" font-size="10.5" textLength="69.6" lengthAdjust="spacingAndGlyphs">Bregma +0.01</text><text x="590.2" y="316.7" font-size="10.5" textLength="71.4" lengthAdjust="spacingAndGlyphs">Bregma +0.06</text><text x="6.4" y="50.6" font-size="10.2" textLength="36.5" lengthAdjust="spacingAndGlyphs">Bregma</text><text x="49.2" y="68.3" font-size="9.2" text-anchor="end" textLength="22.6" lengthAdjust="spacingAndGlyphs">0.26-</text><text x="49.2" y="80.8" font-size="9.2" text-anchor="end" textLength="22.6" lengthAdjust="spacingAndGlyphs">0.21-</text><text x="49.2" y="93.4" font-size="9.2" text-anchor="end" textLength="22.6" lengthAdjust="spacingAndGlyphs">0.16-</text><text x="49.2" y="106.0" font-size="9.2" text-anchor="end" textLength="21.9" lengthAdjust="spacingAndGlyphs">0.11-</text><text x="49.2" y="118.5" font-size="9.2" text-anchor="end" textLength="22.6" lengthAdjust="spacingAndGlyphs">0.06-</text><text x="49.2" y="131.1" font-size="9.2" text-anchor="end" textLength="22.6" lengthAdjust="spacingAndGlyphs">0.01-</text><text x="49.2" y="143.6" font-size="9.2" text-anchor="end" textLength="28.2" lengthAdjust="spacingAndGlyphs">–0.04-</text><text x="49.2" y="156.2" font-size="9.2" text-anchor="end" textLength="28.2" lengthAdjust="spacingAndGlyphs">–0.09-</text><text x="49.2" y="168.7" font-size="9.2" text-anchor="end" textLength="28.2" lengthAdjust="spacingAndGlyphs">–0.14-</text><text x="49.2" y="181.2" font-size="9.2" text-anchor="end" textLength="28.2" lengthAdjust="spacingAndGlyphs">–0.19-</text><text x="49.2" y="193.8" font-size="9.2" text-anchor="end" textLength="28.2" lengthAdjust="spacingAndGlyphs">–0.24-</text><text x="49.2" y="206.4" font-size="9.2" text-anchor="end" textLength="28.2" lengthAdjust="spacingAndGlyphs">–0.29-</text><rect x="20.3" y="110.3" width="26.4" height="47.3" fill="none" stroke="#6f8fa8" stroke-width="1"/><circle cx="310.1" cy="55.3" r="4" fill="#a31ef0"/><text x="319.0" y="58.7" font-size="10.2" textLength="56.1" lengthAdjust="spacingAndGlyphs">Ambiguous</text><circle cx="310.1" cy="67.6" r="4" fill="#3a8af8"/><text x="319.0" y="71.0" font-size="10.2" textLength="46.8" lengthAdjust="spacingAndGlyphs">Astrocyte</text><circle cx="310.1" cy="79.9" r="4" fill="#8b6512"/><text x="319.0" y="83.3" font-size="10.2" textLength="64.9" lengthAdjust="spacingAndGlyphs">Endothelial 1</text><circle cx="310.1" cy="92.1" r="4" fill="#7a30bf"/><text x="319.0" y="95.5" font-size="10.2" textLength="64.9" lengthAdjust="spacingAndGlyphs">Endothelial 2</text><circle cx="310.1" cy="104.4" r="4" fill="#595959"/><text x="319.0" y="107.8" font-size="10.2" textLength="64.9" lengthAdjust="spacingAndGlyphs">Endothelial 3</text><circle cx="310.1" cy="116.7" r="4" fill="#1f7a52"/><text x="319.0" y="120.1" font-size="10.2" textLength="56.1" lengthAdjust="spacingAndGlyphs">Ependymal</text><circle cx="310.1" cy="129.0" r="4" fill="#22f23c"/><text x="319.0" y="132.4" font-size="10.2" textLength="49.3" lengthAdjust="spacingAndGlyphs">Excitatory</text><circle cx="310.1" cy="141.3" r="4" fill="#f3dca0"/><text x="319.0" y="144.7" font-size="10.2" textLength="45.5" lengthAdjust="spacingAndGlyphs">Inhibitory</text><circle cx="310.1" cy="153.5" r="4" fill="#dedede"/><text x="319.0" y="156.9" font-size="10.2" textLength="44.9" lengthAdjust="spacingAndGlyphs">Microglia</text><circle cx="310.1" cy="165.8" r="4" fill="#22b34c"/><text x="319.0" y="169.2" font-size="10.2" textLength="76.1" lengthAdjust="spacingAndGlyphs">OD immature 1</text><circle cx="310.1" cy="178.1" r="4" fill="#c8461e"/><text x="319.0" y="181.5" font-size="10.2" textLength="76.1" lengthAdjust="spacingAndGlyphs">OD immature 2</text><circle cx="310.1" cy="190.4" r="4" fill="#dca4f2"/><text x="319.0" y="193.8" font-size="10.2" textLength="64.2" lengthAdjust="spacingAndGlyphs">OD mature 1</text><circle cx="310.1" cy="202.7" r="4" fill="#fa14f0"/><text x="319.0" y="206.1" font-size="10.2" textLength="64.2" lengthAdjust="spacingAndGlyphs">OD mature 2</text><circle cx="310.1" cy="214.9" r="4" fill="#2f5ba5"/><text x="319.0" y="218.3" font-size="10.2" textLength="64.2" lengthAdjust="spacingAndGlyphs">OD mature 3</text><circle cx="310.1" cy="227.2" r="4" fill="#fca41c"/><text x="319.0" y="230.6" font-size="10.2" textLength="64.2" lengthAdjust="spacingAndGlyphs">OD mature 4</text><circle cx="310.1" cy="239.5" r="4" fill="#f4a0a0"/><text x="319.0" y="242.9" font-size="10.2" textLength="46.1" lengthAdjust="spacingAndGlyphs">Pericytes</text><circle cx="480.6" cy="509.6" r="4.1" fill="#a31ef0"/><text x="489.5" y="513.1" font-size="10.2" textLength="54.5" lengthAdjust="spacingAndGlyphs">Endothelia</text><circle cx="480.6" cy="523.5" r="4.1" fill="#3a8af8"/><text x="489.5" y="527.0" font-size="10.2" textLength="120.4" lengthAdjust="spacingAndGlyphs">Glandular trophoblast-1</text><circle cx="480.6" cy="537.4" r="4.1" fill="#8b6512"/><text x="489.5" y="540.9" font-size="10.2" textLength="120.4" lengthAdjust="spacingAndGlyphs">Glandular trophoblast-2</text><circle cx="480.6" cy="551.3" r="4.1" fill="#7a30bf"/><text x="489.5" y="554.8" font-size="10.2" textLength="98.7" lengthAdjust="spacingAndGlyphs">Maternal decidua-1</text><circle cx="480.6" cy="565.2" r="4.1" fill="#595959"/><text x="489.5" y="568.7" font-size="10.2" textLength="98.7" lengthAdjust="spacingAndGlyphs">Maternal decidua-2</text><circle cx="480.6" cy="579.1" r="4.1" fill="#1f7a52"/><text x="489.5" y="582.6" font-size="10.2" textLength="64.0" lengthAdjust="spacingAndGlyphs">Natural killer</text><circle cx="480.6" cy="593.0" r="4.1" fill="#1ff53c"/><text x="489.5" y="596.5" font-size="10.2" textLength="109.6" lengthAdjust="spacingAndGlyphs">Spongiotrophoblast-1</text><circle cx="480.6" cy="606.9" r="4.1" fill="#f5dc9a"/><text x="489.5" y="610.4" font-size="10.2" textLength="109.6" lengthAdjust="spacingAndGlyphs">Spongiotrophoblast-2</text><circle cx="480.6" cy="620.8" r="4.1" fill="#dcdcdc"/><text x="489.5" y="624.3" font-size="10.2" textLength="39.7" lengthAdjust="spacingAndGlyphs">Stromal</text><circle cx="480.6" cy="634.7" r="4.1" fill="#22b34c"/><text x="489.5" y="638.2" font-size="10.2" textLength="98.9" lengthAdjust="spacingAndGlyphs">Trophoblast giant-1</text><circle cx="480.6" cy="648.6" r="4.1" fill="#c8461e"/><text x="489.5" y="652.1" font-size="10.2" textLength="98.9" lengthAdjust="spacingAndGlyphs">Trophoblast giant-2</text><circle cx="480.6" cy="662.5" r="4.1" fill="#dca0f5"/><text x="489.5" y="666.0" font-size="10.2" textLength="98.9" lengthAdjust="spacingAndGlyphs">Trophoblast giant-3</text><line x1="157.7" y1="638.8" x2="157.7" y2="651.2" stroke="#444" stroke-width="1.5"/><line x1="223.2" y1="638.8" x2="223.2" y2="651.2" stroke="#444" stroke-width="1.5"/><line x1="306.6" y1="638.8" x2="306.6" y2="651.2" stroke="#444" stroke-width="1.5"/><line x1="369.6" y1="638.8" x2="369.6" y2="651.2" stroke="#444" stroke-width="1.5"/><line x1="404.0" y1="638.8" x2="404.0" y2="651.2" stroke="#444" stroke-width="1.5"/><line x1="432.7" y1="638.8" x2="432.7" y2="651.2" stroke="#444" stroke-width="1.5"/><text x="164.7" y="664.9" font-size="10.2" textLength="43.6" lengthAdjust="spacingAndGlyphs">Maternal</text><text x="164.7" y="677.9" font-size="10.2" textLength="39.3" lengthAdjust="spacingAndGlyphs">decidua</text><text x="236.2" y="664.9" font-size="10.2" textLength="50.5" lengthAdjust="spacingAndGlyphs">Junctional</text><text x="236.2" y="677.9" font-size="10.2" textLength="24.3" lengthAdjust="spacingAndGlyphs">zone</text><text x="311.0" y="664.9" font-size="10.2" textLength="46.2" lengthAdjust="spacingAndGlyphs">Labyrinth</text><g transform="translate(376.5,659.0) rotate(45)"><text x="0.0" y="0.0" font-size="10.2" textLength="50.5" lengthAdjust="spacingAndGlyphs">Junctional</text></g><g transform="translate(367.0,668.5) rotate(45)"><text x="0.0" y="0.0" font-size="10.2" textLength="24.3" lengthAdjust="spacingAndGlyphs">zone</text></g><g transform="translate(415.0,662.0) rotate(45)"><text x="0.0" y="0.0" font-size="10.2" textLength="47.4" lengthAdjust="spacingAndGlyphs">Chorionic</text></g><g transform="translate(405.5,671.5) rotate(45)"><text x="0.0" y="0.0" font-size="10.2" textLength="24.3" lengthAdjust="spacingAndGlyphs">plate</text></g><rect x="521.4" y="23.5" width="101.4" height="61.5" rx="2.5" fill="none" stroke="#6a6a6a" stroke-width="1"/><text x="525.6" y="36.7" font-size="10.2" textLength="68.8" lengthAdjust="spacingAndGlyphs">Bregma–0.09</text><path d="M555.0,43.0 A5.2,5.2 0 1 1 556.6,48.8" fill="none" stroke="#2cf53a" stroke-width="1.5"/><polygon points="555.4,47.8 560.2,48.7 557.1,52.4" fill="#2cf53a"/><path d="M555.0,71.6 A5.2,5.2 0 1 1 556.6,77.4" fill="none" stroke="#f3dca0" stroke-width="1.5"/><polygon points="555.4,76.4 560.2,77.3 557.1,81.0" fill="#f3dca0"/><path d="M606.2,42.1 A5.2,5.2 0 1 1 607.8,47.9" fill="none" stroke="#f4a0a0" stroke-width="1.5"/><polygon points="606.6,46.9 611.4,47.8 608.3,51.5" fill="#f4a0a0"/><path d="M606.2,71.1 A5.2,5.2 0 1 1 607.8,76.9" fill="none" stroke="#595959" stroke-width="1.5"/><polygon points="606.6,75.9 611.4,76.8 608.3,80.5" fill="#595959"/><line x1="551.3" y1="45.4" x2="537.6" y2="67.2" stroke="#2cf53a" stroke-width="1.5"/><polygon points="535.4,70.6 536.0,64.8 540.4,67.6" fill="#2cf53a"/><line x1="551.3" y1="45.4" x2="551.3" y2="66.0" stroke="#2cf53a" stroke-width="1.5"/><polygon points="551.3,70.0 548.7,64.8 553.9,64.8" fill="#2cf53a"/><line x1="551.3" y1="45.4" x2="574.2" y2="68.3" stroke="#2cf53a" stroke-width="1.5"/><polygon points="577.0,71.2 571.5,69.3 575.1,65.6" fill="#2cf53a"/><line x1="602.5" y1="44.5" x2="602.5" y2="65.5" stroke="#f4a0a0" stroke-width="1.5"/><polygon points="602.5,69.5 599.9,64.3 605.1,64.3" fill="#f4a0a0"/><circle cx="551.3" cy="45.4" r="4.0" fill="#22f23c"/><circle cx="533.3" cy="74.0" r="4.0" fill="#a31ef0"/><circle cx="551.3" cy="74.0" r="4.0" fill="#f3dca0"/><circle cx="579.8" cy="74.0" r="4.0" fill="#22b34c"/><circle cx="602.5" cy="44.5" r="4.0" fill="#f4a0a0"/><circle cx="602.5" cy="73.5" r="4.0" fill="#595959"/><rect x="471.5" y="98.2" width="202.8" height="60.2" rx="2.5" fill="none" stroke="#6a6a6a" stroke-width="1"/><text x="474.7" y="109.7" font-size="10.2" textLength="68.0" lengthAdjust="spacingAndGlyphs">Bregma–0.04</text><path d="M521.7,115.0 A5.2,5.2 0 1 1 523.3,120.8" fill="none" stroke="#2cf53a" stroke-width="1.5"/><polygon points="522.1,119.8 526.9,120.7 523.8,124.4" fill="#2cf53a"/><path d="M521.7,145.4 A5.2,5.2 0 1 1 523.3,151.2" fill="none" stroke="#f3dca0" stroke-width="1.5"/><polygon points="522.1,150.2 526.9,151.1 523.8,154.8" fill="#f3dca0"/><path d="M608.7,115.0 A5.2,5.2 0 1 1 610.3,120.8" fill="none" stroke="#1f7a52" stroke-width="1.5"/><polygon points="609.1,119.8 613.9,120.7 610.8,124.4" fill="#1f7a52"/><path d="M657.5,115.0 A5.2,5.2 0 1 1 659.1,120.8" fill="none" stroke="#c8461e" stroke-width="1.5"/><polygon points="657.9,119.8 662.7,120.7 659.6,124.4" fill="#c8461e"/><line x1="518.0" y1="117.4" x2="486.2" y2="142.8" stroke="#2cf53a" stroke-width="1.5"/><polygon points="483.1,145.3 485.6,140.0 488.8,144.1" fill="#2cf53a"/><line x1="518.0" y1="117.4" x2="503.4" y2="141.0" stroke="#2cf53a" stroke-width="1.5"/><polygon points="501.3,144.4 501.8,138.6 506.3,141.3" fill="#2cf53a"/><line x1="518.0" y1="117.4" x2="518.0" y2="139.8" stroke="#2cf53a" stroke-width="1.5"/><polygon points="518.0,143.8 515.4,138.6 520.6,138.6" fill="#2cf53a"/><line x1="518.0" y1="117.4" x2="542.3" y2="142.1" stroke="#2cf53a" stroke-width="1.5"/><polygon points="545.1,144.9 539.6,143.1 543.3,139.4" fill="#2cf53a"/><line x1="518.0" y1="117.4" x2="560.2" y2="143.6" stroke="#2cf53a" stroke-width="1.5"/><polygon points="563.6,145.7 557.8,145.2 560.6,140.7" fill="#2cf53a"/><line x1="585.9" y1="117.4" x2="571.2" y2="141.0" stroke="#7a30bf" stroke-width="1.5"/><polygon points="569.1,144.4 569.6,138.6 574.1,141.4" fill="#7a30bf"/><line x1="585.9" y1="117.4" x2="585.9" y2="139.8" stroke="#7a30bf" stroke-width="1.5"/><polygon points="585.9,143.8 583.3,138.6 588.5,138.6" fill="#7a30bf"/><line x1="585.9" y1="117.4" x2="600.7" y2="141.0" stroke="#7a30bf" stroke-width="1.5"/><polygon points="602.9,144.4 597.9,141.4 602.3,138.6" fill="#7a30bf"/><line x1="634.6" y1="117.4" x2="634.6" y2="139.8" stroke="#dca4f2" stroke-width="1.5"/><polygon points="634.6,143.8 632.0,138.6 637.2,138.6" fill="#dca4f2"/><circle cx="518.0" cy="117.4" r="4.0" fill="#22f23c"/><circle cx="480.0" cy="147.8" r="4.0" fill="#a31ef0"/><circle cx="499.2" cy="147.8" r="4.0" fill="#595959"/><circle cx="518.0" cy="147.8" r="4.0" fill="#f3dca0"/><circle cx="547.9" cy="147.8" r="4.0" fill="#22b34c"/><circle cx="567.0" cy="147.8" r="4.0" fill="#3a8af8"/><circle cx="585.9" cy="117.4" r="4.0" fill="#7a30bf"/><circle cx="585.9" cy="147.8" r="4.0" fill="#8b6512"/><circle cx="605.0" cy="147.8" r="4.0" fill="#fca41c"/><circle cx="605.0" cy="117.4" r="4.0" fill="#1f7a52"/><circle cx="634.6" cy="117.4" r="4.0" fill="#dca4f2"/><circle cx="634.6" cy="147.8" r="4.0" fill="#dedede"/><circle cx="653.8" cy="117.4" r="4.0" fill="#c8461e"/><rect x="448.8" y="173.8" width="84.9" height="90.6" rx="2.5" fill="none" stroke="#6a6a6a" stroke-width="1"/><text x="485.6" y="188.5" font-size="10.2" textLength="38.5" lengthAdjust="spacingAndGlyphs">Bregma</text><text x="485.6" y="201.3" font-size="10.2" textLength="27.5" lengthAdjust="spacingAndGlyphs">+0.01</text><path d="M503.8,206.0 A5.2,5.2 0 1 1 505.4,211.8" fill="none" stroke="#2cf53a" stroke-width="1.5"/><polygon points="504.2,210.8 509.0,211.7 505.9,215.4" fill="#2cf53a"/><path d="M465.1,230.7 A5.2,5.2 0 1 1 466.7,236.5" fill="none" stroke="#c8461e" stroke-width="1.5"/><polygon points="465.5,235.5 470.3,236.4 467.2,240.1" fill="#c8461e"/><path d="M519.9,255.2 A5.2,5.2 0 1 1 521.5,261.0" fill="none" stroke="#f3dca0" stroke-width="1.5"/><polygon points="520.3,260.0 525.1,260.9 522.0,264.6" fill="#f3dca0"/><line x1="469.5" y1="184.5" x2="475.4" y2="200.7" stroke="#7a30bf" stroke-width="1.5"/><polygon points="476.8,204.4 472.6,200.5 477.5,198.7" fill="#7a30bf"/><line x1="469.5" y1="184.5" x2="462.7" y2="225.2" stroke="#7a30bf" stroke-width="1.5"/><polygon points="462.1,229.2 460.3,223.6 465.5,224.5" fill="#7a30bf"/><line x1="478.2" y1="208.2" x2="465.9" y2="226.5" stroke="#f4a0a0" stroke-width="1.5"/><polygon points="463.6,229.8 464.4,224.0 468.7,226.9" fill="#f4a0a0"/><line x1="478.2" y1="208.2" x2="483.1" y2="225.4" stroke="#f4a0a0" stroke-width="1.5"/><polygon points="484.2,229.3 480.3,225.0 485.3,223.5" fill="#f4a0a0"/><line x1="500.1" y1="208.4" x2="468.1" y2="228.8" stroke="#2cf53a" stroke-width="1.5"/><polygon points="464.8,230.9 467.8,226.0 470.6,230.3" fill="#2cf53a"/><line x1="500.1" y1="208.4" x2="489.4" y2="226.2" stroke="#2cf53a" stroke-width="1.5"/><polygon points="487.4,229.7 487.8,223.9 492.3,226.5" fill="#2cf53a"/><line x1="500.1" y1="208.4" x2="500.4" y2="225.1" stroke="#2cf53a" stroke-width="1.5"/><polygon points="500.4,229.1 497.8,223.9 503.0,223.9" fill="#2cf53a"/><line x1="500.1" y1="208.4" x2="511.3" y2="226.3" stroke="#2cf53a" stroke-width="1.5"/><polygon points="513.4,229.7 508.4,226.7 512.8,223.9" fill="#2cf53a"/><path d="M500.1,208.4 Q535.0,212.0 519.2,250.2" fill="none" stroke="#2cf53a" stroke-width="1.5"/><polygon points="517.7,253.9 517.3,248.1 522.1,250.1" fill="#2cf53a"/><line x1="485.3" y1="233.1" x2="485.3" y2="248.9" stroke="#a31ef0" stroke-width="1.5"/><polygon points="485.3,252.9 482.7,247.7 487.9,247.7" fill="#a31ef0"/><line x1="485.3" y1="233.1" x2="509.9" y2="252.6" stroke="#a31ef0" stroke-width="1.5"/><polygon points="513.1,255.1 507.4,253.9 510.6,249.8" fill="#a31ef0"/><circle cx="469.5" cy="184.5" r="4.0" fill="#7a30bf"/><circle cx="478.2" cy="208.2" r="4.0" fill="#f4a0a0"/><circle cx="500.1" cy="208.4" r="4.0" fill="#22f23c"/><circle cx="461.4" cy="233.1" r="4.0" fill="#c8461e"/><circle cx="485.3" cy="233.1" r="4.0" fill="#a31ef0"/><circle cx="500.5" cy="233.1" r="4.0" fill="#1f7a52"/><circle cx="515.5" cy="233.1" r="4.0" fill="#22b34c"/><circle cx="485.3" cy="256.9" r="4.0" fill="#595959"/><circle cx="516.2" cy="257.6" r="4.0" fill="#f3dca0"/><rect x="566.7" y="174.1" width="129.8" height="90.4" rx="2.5" fill="none" stroke="#6a6a6a" stroke-width="1"/><text x="569.1" y="188.3" font-size="10.2" textLength="38.5" lengthAdjust="spacingAndGlyphs">Bregma</text><text x="569.1" y="201.4" font-size="10.2" textLength="28.5" lengthAdjust="spacingAndGlyphs">+0.06</text><path d="M637.5,190.3 A5.2,5.2 0 1 1 639.1,196.1" fill="none" stroke="#2cf53a" stroke-width="1.5"/><polygon points="637.9,195.1 642.7,196.0 639.6,199.7" fill="#2cf53a"/><path d="M589.6,247.1 A5.2,5.2 0 1 1 591.2,252.9" fill="none" stroke="#f3dca0" stroke-width="1.5"/><polygon points="590.0,251.9 594.8,252.8 591.7,256.5" fill="#f3dca0"/><line x1="633.8" y1="192.7" x2="583.0" y2="217.7" stroke="#2cf53a" stroke-width="1.5"/><polygon points="579.4,219.4 582.9,214.8 585.2,219.5" fill="#2cf53a"/><line x1="633.8" y1="192.7" x2="619.9" y2="214.5" stroke="#2cf53a" stroke-width="1.5"/><polygon points="617.8,217.8 618.4,212.0 622.7,214.8" fill="#2cf53a"/><line x1="633.8" y1="192.7" x2="633.5" y2="213.2" stroke="#2cf53a" stroke-width="1.5"/><polygon points="633.5,217.2 630.9,212.0 636.1,212.0" fill="#2cf53a"/><line x1="633.8" y1="192.7" x2="647.4" y2="214.4" stroke="#2cf53a" stroke-width="1.5"/><polygon points="649.5,217.8 644.5,214.8 648.9,212.0" fill="#2cf53a"/><line x1="633.8" y1="192.7" x2="663.3" y2="216.2" stroke="#2cf53a" stroke-width="1.5"/><polygon points="666.5,218.7 660.8,217.5 664.0,213.4" fill="#2cf53a"/><line x1="633.8" y1="192.7" x2="680.7" y2="217.5" stroke="#2cf53a" stroke-width="1.5"/><polygon points="684.3,219.3 678.5,219.2 680.9,214.6" fill="#2cf53a"/><path d="M633.8,192.7 Q592.0,212.0 587.2,241.6" fill="none" stroke="#2cf53a" stroke-width="1.5"/><polygon points="586.5,245.6 584.8,240.0 589.9,240.8" fill="#2cf53a"/><line x1="575.8" y1="221.2" x2="583.2" y2="242.0" stroke="#a31ef0" stroke-width="1.5"/><polygon points="584.6,245.7 580.4,241.7 585.3,240.0" fill="#a31ef0"/><circle cx="633.8" cy="192.7" r="4.0" fill="#22f23c"/><circle cx="661.7" cy="192.7" r="4.0" fill="#7a30bf"/><circle cx="575.8" cy="221.2" r="4.0" fill="#a31ef0"/><circle cx="615.6" cy="221.2" r="4.0" fill="#3a8af8"/><circle cx="633.4" cy="221.2" r="4.0" fill="#8b6512"/><circle cx="651.6" cy="221.2" r="4.0" fill="#595959"/><circle cx="669.6" cy="221.2" r="4.0" fill="#dedede"/><circle cx="687.8" cy="221.2" r="4.0" fill="#22b34c"/><circle cx="585.9" cy="249.5" r="4.0" fill="#f3dca0"/></svg></body></html>
